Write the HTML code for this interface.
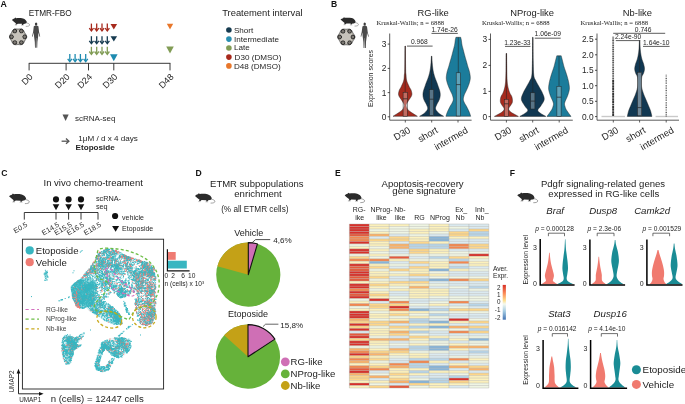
<!DOCTYPE html>
<html><head><meta charset="utf-8"><style>
html,body{margin:0;padding:0;background:#fff;width:685px;height:404px;overflow:hidden}
svg{display:block;will-change:transform}
text{font-family:"Liberation Sans",sans-serif}
</style></head><body>
<svg width="685" height="404" viewBox="0 0 685 404" font-family="Liberation Sans, sans-serif">
<rect width="685" height="404" fill="#fff"/>
<text x="0.50" y="7.00" font-size="8.8" text-anchor="start" fill="#111" font-weight="bold" >A</text>
<text x="28.70" y="15.60" font-size="8.25" text-anchor="start" fill="#1c1c1c" >ETMR-FBO</text>
<g transform="translate(11.9,17.4) scale(0.89)"><path d="M0,2.9 C0.8,2 1.8,1.5 2.8,1.3 L3.8,0.2 L4.9,0.9 C7,0.6 10,0.6 12.5,1.2 C14.8,1.9 16.3,3.3 16.8,5.2 C16.6,6.4 15.6,7 14.6,7.1 L13.2,7.3 L12.5,8.4 L11,8.4 L11.4,7.2 L6.6,7.1 L5.5,8.1 L3.8,8.2 L4.6,6.8 C3,5.6 1.5,4.3 0,2.9 Z" fill="#2b2b2b"/><path d="M16.2,6.2 C18,6.5 19.7,7.1 19.9,8.3 C20.1,9.6 18,10.2 15.6,10.1" fill="none" stroke="#666" stroke-width="0.6"/><path d="M3.2,8.6 L5.8,8.6 M10.4,8.9 L13.2,8.9" stroke="#aaa" stroke-width="0.6"/></g>
<path d="M26.70,36.80 L26.67,37.25 L26.57,37.69 L26.42,38.12 L26.22,38.53 L25.99,38.91 L25.74,39.28 L25.49,39.64 L25.25,39.98 L25.02,40.32 L24.80,40.67 L24.61,41.03 L24.43,41.40 L24.25,41.78 L24.07,42.18 L23.88,42.58 L23.66,42.97 L23.40,43.35 L23.11,43.69 L22.77,43.99 L22.40,44.25 L21.99,44.44 L21.56,44.58 L21.12,44.66 L20.67,44.70 L20.21,44.69 L19.77,44.66 L19.34,44.62 L18.92,44.58 L18.51,44.55 L18.10,44.54 L17.69,44.55 L17.28,44.58 L16.86,44.62 L16.43,44.66 L15.99,44.69 L15.53,44.70 L15.08,44.66 L14.64,44.58 L14.21,44.44 L13.80,44.25 L13.43,43.99 L13.09,43.69 L12.80,43.35 L12.54,42.97 L12.32,42.58 L12.13,42.18 L11.95,41.78 L11.77,41.40 L11.59,41.03 L11.40,40.67 L11.18,40.32 L10.95,39.98 L10.71,39.64 L10.46,39.28 L10.21,38.91 L9.98,38.53 L9.78,38.12 L9.63,37.69 L9.53,37.25 L9.50,36.80 L9.53,36.35 L9.63,35.91 L9.78,35.48 L9.98,35.07 L10.21,34.69 L10.46,34.32 L10.71,33.96 L10.95,33.62 L11.18,33.28 L11.40,32.93 L11.59,32.57 L11.77,32.20 L11.95,31.82 L12.13,31.42 L12.32,31.02 L12.54,30.63 L12.80,30.25 L13.09,29.91 L13.43,29.61 L13.80,29.35 L14.21,29.16 L14.64,29.02 L15.08,28.94 L15.53,28.90 L15.99,28.91 L16.43,28.94 L16.86,28.98 L17.28,29.02 L17.69,29.05 L18.10,29.06 L18.51,29.05 L18.92,29.02 L19.34,28.98 L19.77,28.94 L20.21,28.91 L20.67,28.90 L21.12,28.94 L21.56,29.02 L21.99,29.16 L22.40,29.35 L22.77,29.61 L23.11,29.91 L23.40,30.25 L23.66,30.63 L23.88,31.02 L24.07,31.42 L24.25,31.82 L24.43,32.20 L24.61,32.57 L24.80,32.93 L25.02,33.28 L25.25,33.62 L25.49,33.96 L25.74,34.32 L25.99,34.69 L26.22,35.07 L26.42,35.48 L26.57,35.91 L26.67,36.35Z" fill="#bdb9b1" stroke="#333" stroke-width="0.7"/>
<circle cx="24.64" cy="36.80" r="1.89" fill="#7d7973" stroke="#1e1e1e" stroke-width="0.9"/>
<circle cx="21.37" cy="42.46" r="1.89" fill="#7d7973" stroke="#1e1e1e" stroke-width="0.9"/>
<circle cx="14.83" cy="42.46" r="1.89" fill="#7d7973" stroke="#1e1e1e" stroke-width="0.9"/>
<circle cx="11.56" cy="36.80" r="1.89" fill="#7d7973" stroke="#1e1e1e" stroke-width="0.9"/>
<circle cx="14.83" cy="31.14" r="1.89" fill="#7d7973" stroke="#1e1e1e" stroke-width="0.9"/>
<circle cx="21.37" cy="31.14" r="1.89" fill="#7d7973" stroke="#1e1e1e" stroke-width="0.9"/>
<path d="M18.10,30.09 L20.04,33.45 L23.91,33.45 L21.97,36.80 L23.91,40.15 L20.04,40.15 L18.10,43.51 L16.17,40.15 L12.29,40.15 L14.23,36.80 L12.29,33.45 L16.16,33.45Z" fill="#c6c2ba" stroke="none"/>
<g transform="translate(31.8,22.5) scale(1.0)"><ellipse cx="4.3" cy="1.5" rx="1.2" ry="1.5" fill="#3a3a3a"/><path d="M3.7,3 L4.9,3 L6.6,3.8 L7.3,9.5 L8.4,14 L7.8,14.2 L6.6,10 L6.4,13.5 L5.6,19.5 L5.4,25.3 L4.6,25.3 L4.4,15.5 L4.2,15.5 L4,25.3 L3.2,25.3 L3,19.5 L2.2,13.5 L2,10 L0.8,14.2 L0.2,14 L1.3,9.5 L2,3.8 Z" fill="#4a4a4a"/></g>
<line x1="91.4" y1="23.6" x2="91.4" y2="30.4" stroke="#a7291c" stroke-width="1.3"/>
<path d="M89.30,28.20 L91.40,31.00 L93.50,28.20" fill="none" stroke="#a7291c" stroke-width="1.3"/>
<line x1="91.4" y1="36.2" x2="91.4" y2="43.0" stroke="#163b50" stroke-width="1.3"/>
<path d="M89.30,40.80 L91.40,43.60 L93.50,40.80" fill="none" stroke="#163b50" stroke-width="1.3"/>
<line x1="91.4" y1="46.8" x2="91.4" y2="53.699999999999996" stroke="#819c55" stroke-width="1.3"/>
<path d="M89.30,51.50 L91.40,54.30 L93.50,51.50" fill="none" stroke="#819c55" stroke-width="1.3"/>
<line x1="96.7" y1="23.6" x2="96.7" y2="30.4" stroke="#a7291c" stroke-width="1.3"/>
<path d="M94.60,28.20 L96.70,31.00 L98.80,28.20" fill="none" stroke="#a7291c" stroke-width="1.3"/>
<line x1="96.7" y1="36.2" x2="96.7" y2="43.0" stroke="#163b50" stroke-width="1.3"/>
<path d="M94.60,40.80 L96.70,43.60 L98.80,40.80" fill="none" stroke="#163b50" stroke-width="1.3"/>
<line x1="96.7" y1="46.8" x2="96.7" y2="53.699999999999996" stroke="#819c55" stroke-width="1.3"/>
<path d="M94.60,51.50 L96.70,54.30 L98.80,51.50" fill="none" stroke="#819c55" stroke-width="1.3"/>
<line x1="102.0" y1="23.6" x2="102.0" y2="30.4" stroke="#a7291c" stroke-width="1.3"/>
<path d="M99.90,28.20 L102.00,31.00 L104.10,28.20" fill="none" stroke="#a7291c" stroke-width="1.3"/>
<line x1="102.0" y1="36.2" x2="102.0" y2="43.0" stroke="#163b50" stroke-width="1.3"/>
<path d="M99.90,40.80 L102.00,43.60 L104.10,40.80" fill="none" stroke="#163b50" stroke-width="1.3"/>
<line x1="102.0" y1="46.8" x2="102.0" y2="53.699999999999996" stroke="#819c55" stroke-width="1.3"/>
<path d="M99.90,51.50 L102.00,54.30 L104.10,51.50" fill="none" stroke="#819c55" stroke-width="1.3"/>
<line x1="107.3" y1="23.6" x2="107.3" y2="30.4" stroke="#a7291c" stroke-width="1.3"/>
<path d="M105.20,28.20 L107.30,31.00 L109.40,28.20" fill="none" stroke="#a7291c" stroke-width="1.3"/>
<line x1="107.3" y1="36.2" x2="107.3" y2="43.0" stroke="#163b50" stroke-width="1.3"/>
<path d="M105.20,40.80 L107.30,43.60 L109.40,40.80" fill="none" stroke="#163b50" stroke-width="1.3"/>
<line x1="107.3" y1="46.8" x2="107.3" y2="53.699999999999996" stroke="#819c55" stroke-width="1.3"/>
<path d="M105.20,51.50 L107.30,54.30 L109.40,51.50" fill="none" stroke="#819c55" stroke-width="1.3"/>
<line x1="69.8" y1="54.0" x2="69.8" y2="61.0" stroke="#1e8bb0" stroke-width="1.3"/>
<path d="M67.70,58.80 L69.80,61.60 L71.90,58.80" fill="none" stroke="#1e8bb0" stroke-width="1.3"/>
<line x1="75.1" y1="54.0" x2="75.1" y2="61.0" stroke="#1e8bb0" stroke-width="1.3"/>
<path d="M73.00,58.80 L75.10,61.60 L77.20,58.80" fill="none" stroke="#1e8bb0" stroke-width="1.3"/>
<line x1="80.4" y1="54.0" x2="80.4" y2="61.0" stroke="#1e8bb0" stroke-width="1.3"/>
<path d="M78.30,58.80 L80.40,61.60 L82.50,58.80" fill="none" stroke="#1e8bb0" stroke-width="1.3"/>
<line x1="85.7" y1="54.0" x2="85.7" y2="61.0" stroke="#1e8bb0" stroke-width="1.3"/>
<path d="M83.60,58.80 L85.70,61.60 L87.80,58.80" fill="none" stroke="#1e8bb0" stroke-width="1.3"/>
<path d="M110.50,24.00 L117.10,24.00 L113.80,29.60 Z" fill="#a7291c"/>
<path d="M110.50,36.20 L117.10,36.20 L113.80,41.60 Z" fill="#163b50"/>
<path d="M110.00,54.30 L117.60,54.30 L113.80,61.30 Z" fill="#1e8bb0"/>
<path d="M166.80,23.80 L173.20,23.80 L170.00,29.40 Z" fill="#e8772b"/>
<path d="M166.20,46.60 L173.80,46.60 L170.00,53.60 Z" fill="#819c55"/>
<line x1="28.8" y1="63.3" x2="170.4" y2="63.3" stroke="#222" stroke-width="0.9"/>
<line x1="29.1" y1="63.3" x2="29.1" y2="70.4" stroke="#222" stroke-width="0.9"/>
<text x="33.30" y="77.40" font-size="9.0" text-anchor="end" fill="#1c1c1c" transform="rotate(-45 33.300000000000004 77.4)">D0</text>
<line x1="66.1" y1="63.3" x2="66.1" y2="70.4" stroke="#222" stroke-width="0.9"/>
<text x="70.30" y="77.40" font-size="9.0" text-anchor="end" fill="#1c1c1c" transform="rotate(-45 70.3 77.4)">D20</text>
<line x1="88.5" y1="63.3" x2="88.5" y2="70.4" stroke="#222" stroke-width="0.9"/>
<text x="92.70" y="77.40" font-size="9.0" text-anchor="end" fill="#1c1c1c" transform="rotate(-45 92.7 77.4)">D24</text>
<line x1="113.8" y1="63.3" x2="113.8" y2="70.4" stroke="#222" stroke-width="0.9"/>
<text x="118.00" y="77.40" font-size="9.0" text-anchor="end" fill="#1c1c1c" transform="rotate(-45 118.0 77.4)">D30</text>
<line x1="170.0" y1="63.3" x2="170.0" y2="70.4" stroke="#222" stroke-width="0.9"/>
<text x="174.20" y="77.40" font-size="9.0" text-anchor="end" fill="#1c1c1c" transform="rotate(-45 174.2 77.4)">D48</text>
<path d="M62.50,114.60 L68.70,114.60 L65.60,121.00 Z" fill="#555"/>
<text x="75.00" y="120.60" font-size="8.0" text-anchor="start" fill="#262626" >scRNA-seq</text>
<line x1="61.6" y1="141.2" x2="68.5" y2="141.2" stroke="#555" stroke-width="1.3"/>
<path d="M66.0,138.6 L68.9,141.2 L66.0,143.8" fill="none" stroke="#555" stroke-width="1.3"/>
<text x="78.30" y="140.60" font-size="8.1" text-anchor="start" fill="#262626" >1μM / d x 4 days</text>
<text x="75.60" y="149.80" font-size="8.1" text-anchor="start" fill="#262626" font-weight="bold" >Etoposide</text>
<text x="222.20" y="16.40" font-size="9.4" text-anchor="start" fill="#1c1c1c" >Treatement interval</text>
<circle cx="228.9" cy="30.00" r="2.8" fill="#163b50"/>
<text x="233.90" y="33.30" font-size="8.1" text-anchor="start" fill="#262626" >Short</text>
<circle cx="228.9" cy="39.10" r="2.8" fill="#2a8fb0"/>
<text x="233.90" y="41.90" font-size="8.1" text-anchor="start" fill="#262626" >Intermediate</text>
<circle cx="228.9" cy="48.00" r="2.8" fill="#819c55"/>
<text x="233.90" y="50.40" font-size="8.1" text-anchor="start" fill="#262626" >Late</text>
<circle cx="228.9" cy="57.10" r="2.8" fill="#a7291c"/>
<text x="234.60" y="59.80" font-size="8.1" text-anchor="start" fill="#262626" >D30 (DMSO)</text>
<circle cx="228.9" cy="65.90" r="2.8" fill="#e8772b"/>
<text x="233.90" y="69.00" font-size="8.1" text-anchor="start" fill="#262626" >D48 (DMSO)</text>
<text x="331.00" y="7.20" font-size="8.6" text-anchor="start" fill="#111" font-weight="bold" >B</text>
<g transform="translate(340.5,17.0) scale(0.9)"><path d="M0,2.9 C0.8,2 1.8,1.5 2.8,1.3 L3.8,0.2 L4.9,0.9 C7,0.6 10,0.6 12.5,1.2 C14.8,1.9 16.3,3.3 16.8,5.2 C16.6,6.4 15.6,7 14.6,7.1 L13.2,7.3 L12.5,8.4 L11,8.4 L11.4,7.2 L6.6,7.1 L5.5,8.1 L3.8,8.2 L4.6,6.8 C3,5.6 1.5,4.3 0,2.9 Z" fill="#2b2b2b"/><path d="M16.2,6.2 C18,6.5 19.7,7.1 19.9,8.3 C20.1,9.6 18,10.2 15.6,10.1" fill="none" stroke="#666" stroke-width="0.6"/><path d="M3.2,8.6 L5.8,8.6 M10.4,8.9 L13.2,8.9" stroke="#aaa" stroke-width="0.6"/></g>
<path d="M354.90,37.00 L354.87,37.45 L354.77,37.89 L354.62,38.32 L354.42,38.73 L354.19,39.11 L353.94,39.48 L353.69,39.84 L353.45,40.18 L353.22,40.52 L353.00,40.87 L352.81,41.23 L352.63,41.60 L352.45,41.98 L352.27,42.38 L352.08,42.78 L351.86,43.17 L351.60,43.55 L351.31,43.89 L350.97,44.19 L350.60,44.45 L350.19,44.64 L349.76,44.78 L349.32,44.86 L348.87,44.90 L348.41,44.89 L347.97,44.86 L347.54,44.82 L347.12,44.78 L346.71,44.75 L346.30,44.74 L345.89,44.75 L345.48,44.78 L345.06,44.82 L344.63,44.86 L344.19,44.89 L343.73,44.90 L343.28,44.86 L342.84,44.78 L342.41,44.64 L342.00,44.45 L341.63,44.19 L341.29,43.89 L341.00,43.55 L340.74,43.17 L340.52,42.78 L340.33,42.38 L340.15,41.98 L339.97,41.60 L339.79,41.23 L339.60,40.87 L339.38,40.52 L339.15,40.18 L338.91,39.84 L338.66,39.48 L338.41,39.11 L338.18,38.73 L337.98,38.32 L337.83,37.89 L337.73,37.45 L337.70,37.00 L337.73,36.55 L337.83,36.11 L337.98,35.68 L338.18,35.27 L338.41,34.89 L338.66,34.52 L338.91,34.16 L339.15,33.82 L339.38,33.48 L339.60,33.13 L339.79,32.77 L339.97,32.40 L340.15,32.02 L340.33,31.62 L340.52,31.22 L340.74,30.83 L341.00,30.45 L341.29,30.11 L341.63,29.81 L342.00,29.55 L342.41,29.36 L342.84,29.22 L343.28,29.14 L343.73,29.10 L344.19,29.11 L344.63,29.14 L345.06,29.18 L345.48,29.22 L345.89,29.25 L346.30,29.26 L346.71,29.25 L347.12,29.22 L347.54,29.18 L347.97,29.14 L348.41,29.11 L348.87,29.10 L349.32,29.14 L349.76,29.22 L350.19,29.36 L350.60,29.55 L350.97,29.81 L351.31,30.11 L351.60,30.45 L351.86,30.83 L352.08,31.22 L352.27,31.62 L352.45,32.02 L352.63,32.40 L352.81,32.77 L353.00,33.13 L353.22,33.48 L353.45,33.82 L353.69,34.16 L353.94,34.52 L354.19,34.89 L354.42,35.27 L354.62,35.68 L354.77,36.11 L354.87,36.55Z" fill="#bdb9b1" stroke="#333" stroke-width="0.7"/>
<circle cx="352.84" cy="37.00" r="1.89" fill="#7d7973" stroke="#1e1e1e" stroke-width="0.9"/>
<circle cx="349.57" cy="42.66" r="1.89" fill="#7d7973" stroke="#1e1e1e" stroke-width="0.9"/>
<circle cx="343.03" cy="42.66" r="1.89" fill="#7d7973" stroke="#1e1e1e" stroke-width="0.9"/>
<circle cx="339.76" cy="37.00" r="1.89" fill="#7d7973" stroke="#1e1e1e" stroke-width="0.9"/>
<circle cx="343.03" cy="31.34" r="1.89" fill="#7d7973" stroke="#1e1e1e" stroke-width="0.9"/>
<circle cx="349.57" cy="31.34" r="1.89" fill="#7d7973" stroke="#1e1e1e" stroke-width="0.9"/>
<path d="M346.30,30.29 L348.24,33.65 L352.11,33.65 L350.17,37.00 L352.11,40.35 L348.24,40.35 L346.30,43.71 L344.37,40.35 L340.49,40.35 L342.43,37.00 L340.49,33.65 L344.37,33.65Z" fill="#c6c2ba" stroke="none"/>
<g transform="translate(360.4,22.6) scale(1.0)"><ellipse cx="4.3" cy="1.5" rx="1.2" ry="1.5" fill="#3a3a3a"/><path d="M3.7,3 L4.9,3 L6.6,3.8 L7.3,9.5 L8.4,14 L7.8,14.2 L6.6,10 L6.4,13.5 L5.6,19.5 L5.4,25.3 L4.6,25.3 L4.4,15.5 L4.2,15.5 L4,25.3 L3.2,25.3 L3,19.5 L2.2,13.5 L2,10 L0.8,14.2 L0.2,14 L1.3,9.5 L2,3.8 Z" fill="#4a4a4a"/></g>
<text x="433.20" y="16.40" font-size="9.4" text-anchor="middle" fill="#1c1c1c" >RG-like</text>
<text x="376.40" y="24.60" font-size="6.7" text-anchor="start" fill="#1c1c1c" style="font-family:'Liberation Serif',serif" >Kruskal-Wallis; n = 6888</text>
<line x1="389.7" y1="33.5" x2="389.7" y2="120.2" stroke="#333" stroke-width="0.8"/>
<line x1="389.7" y1="120.2" x2="471.6" y2="120.2" stroke="#333" stroke-width="0.8"/>
<line x1="387.7" y1="44.1" x2="389.7" y2="44.1" stroke="#222" stroke-width="0.8"/>
<text x="386.30" y="47.05" font-size="8.4" text-anchor="end" fill="#262626" >3</text>
<line x1="387.7" y1="68.4" x2="389.7" y2="68.4" stroke="#222" stroke-width="0.8"/>
<text x="386.30" y="71.35" font-size="8.4" text-anchor="end" fill="#262626" >2</text>
<line x1="387.7" y1="92.6" x2="389.7" y2="92.6" stroke="#222" stroke-width="0.8"/>
<text x="386.30" y="95.55" font-size="8.4" text-anchor="end" fill="#262626" >1</text>
<line x1="387.7" y1="116.8" x2="389.7" y2="116.8" stroke="#222" stroke-width="0.8"/>
<text x="386.30" y="119.75" font-size="8.4" text-anchor="end" fill="#262626" >0</text>
<path d="M405.40,46.00 L405.40,46.26 L405.41,46.56 L405.41,46.88 L405.41,47.22 L405.42,47.59 L405.42,47.98 L405.42,48.40 L405.43,48.84 L405.43,49.29 L405.43,49.77 L405.44,50.26 L405.44,50.77 L405.45,51.29 L405.45,51.83 L405.46,52.38 L405.46,52.94 L405.47,53.52 L405.47,54.10 L405.48,54.69 L405.48,55.29 L405.49,55.89 L405.49,56.50 L405.50,57.11 L405.50,57.72 L405.51,58.33 L405.51,58.95 L405.52,59.56 L405.53,60.17 L405.53,60.77 L405.54,61.37 L405.54,61.97 L405.55,62.56 L405.56,63.13 L405.56,63.70 L405.57,64.26 L405.57,64.81 L405.58,65.34 L405.59,65.86 L405.59,66.36 L405.60,66.85 L405.61,67.32 L405.61,67.77 L405.62,68.20 L405.62,68.61 L405.63,68.99 L405.64,69.35 L405.64,69.69 L405.65,70.00 L405.68,71.35 L405.71,72.28 L405.75,72.89 L405.78,73.25 L405.81,73.46 L405.85,73.60 L405.90,73.77 L405.95,74.04 L406.00,74.50 L406.04,74.95 L406.08,75.42 L406.11,75.91 L406.14,76.41 L406.18,76.93 L406.22,77.45 L406.26,77.98 L406.32,78.51 L406.39,79.04 L406.48,79.56 L406.58,80.09 L406.70,80.60 L406.85,81.12 L407.02,81.65 L407.21,82.19 L407.43,82.74 L407.65,83.28 L407.88,83.83 L408.12,84.36 L408.35,84.87 L408.58,85.37 L408.80,85.85 L409.01,86.29 L409.20,86.70 L409.55,87.41 L409.89,87.99 L410.20,88.49 L410.49,88.97 L410.76,89.45 L411.00,90.00 L411.19,90.53 L411.37,91.08 L411.53,91.65 L411.67,92.22 L411.79,92.78 L411.86,93.31 L411.90,93.80 L411.88,94.42 L411.77,94.98 L411.61,95.50 L411.42,96.00 L411.20,96.50 L410.89,97.08 L410.53,97.62 L410.13,98.18 L409.70,98.80 L409.39,99.27 L409.05,99.78 L408.70,100.31 L408.35,100.84 L408.01,101.38 L407.70,101.90 L407.40,102.41 L407.09,102.92 L406.79,103.43 L406.53,103.93 L406.33,104.42 L406.20,104.90 L406.16,105.45 L406.21,105.97 L406.33,106.49 L406.50,106.99 L406.70,107.50 L406.90,108.00 L407.11,108.48 L407.37,108.97 L407.72,109.47 L408.20,110.00 L408.71,110.47 L409.30,110.95 L409.97,111.45 L410.69,111.96 L411.43,112.48 L412.20,113.00 L413.06,113.57 L414.04,114.20 L415.05,114.84 L416.01,115.43 L416.82,115.94 L417.40,116.30 L393.00,116.30 L393.58,115.94 L394.39,115.43 L395.35,114.84 L396.36,114.20 L397.34,113.57 L398.20,113.00 L398.97,112.48 L399.71,111.96 L400.43,111.45 L401.10,110.95 L401.69,110.47 L402.20,110.00 L402.68,109.47 L403.03,108.97 L403.29,108.48 L403.50,108.00 L403.70,107.50 L403.90,106.99 L404.07,106.49 L404.19,105.97 L404.24,105.45 L404.20,104.90 L404.07,104.42 L403.87,103.93 L403.61,103.43 L403.31,102.92 L403.00,102.41 L402.70,101.90 L402.39,101.38 L402.05,100.84 L401.70,100.31 L401.35,99.78 L401.01,99.27 L400.70,98.80 L400.27,98.18 L399.87,97.62 L399.51,97.08 L399.20,96.50 L398.98,96.00 L398.79,95.50 L398.63,94.98 L398.52,94.42 L398.50,93.80 L398.54,93.31 L398.61,92.78 L398.73,92.22 L398.87,91.65 L399.03,91.08 L399.21,90.53 L399.40,90.00 L399.64,89.45 L399.91,88.97 L400.20,88.49 L400.51,87.99 L400.85,87.41 L401.20,86.70 L401.39,86.29 L401.60,85.85 L401.82,85.37 L402.05,84.87 L402.28,84.36 L402.52,83.83 L402.75,83.28 L402.97,82.74 L403.19,82.19 L403.38,81.65 L403.55,81.12 L403.70,80.60 L403.82,80.09 L403.92,79.56 L404.01,79.04 L404.08,78.51 L404.14,77.98 L404.18,77.45 L404.22,76.93 L404.26,76.41 L404.29,75.91 L404.32,75.42 L404.36,74.95 L404.40,74.50 L404.45,74.04 L404.50,73.77 L404.55,73.60 L404.59,73.46 L404.62,73.25 L404.65,72.89 L404.69,72.28 L404.72,71.35 L404.75,70.00 L404.76,69.69 L404.76,69.35 L404.77,68.99 L404.78,68.61 L404.78,68.20 L404.79,67.77 L404.79,67.32 L404.80,66.85 L404.81,66.36 L404.81,65.86 L404.82,65.34 L404.83,64.81 L404.83,64.26 L404.84,63.70 L404.84,63.13 L404.85,62.56 L404.86,61.97 L404.86,61.37 L404.87,60.77 L404.87,60.17 L404.88,59.56 L404.89,58.95 L404.89,58.33 L404.90,57.72 L404.90,57.11 L404.91,56.50 L404.91,55.89 L404.92,55.29 L404.92,54.69 L404.93,54.10 L404.93,53.52 L404.94,52.94 L404.94,52.38 L404.95,51.83 L404.95,51.29 L404.96,50.77 L404.96,50.26 L404.97,49.77 L404.97,49.29 L404.97,48.84 L404.98,48.40 L404.98,47.98 L404.98,47.59 L404.99,47.22 L404.99,46.88 L404.99,46.56 L405.00,46.26 L405.00,46.00Z" fill="#a62b1e" stroke="#1a1a1a" stroke-width="0.45" opacity="1"/>
<line x1="405.2" y1="46" x2="405.2" y2="92.3" stroke="#222" stroke-width="0.55"/>
<rect x="403.10" y="92.3" width="4.2" height="24.00" fill="rgba(255,255,255,0.3)" stroke="#222" stroke-width="0.5"/>
<line x1="403.10" y1="98.8" x2="407.30" y2="98.8" stroke="#222" stroke-width="0.7"/>
<path d="M431.80,56.20 L431.82,56.50 L431.83,56.87 L431.85,57.29 L431.88,57.77 L431.90,58.29 L431.93,58.85 L431.96,59.43 L431.99,60.03 L432.03,60.64 L432.07,61.25 L432.11,61.85 L432.15,62.44 L432.20,63.00 L432.25,63.51 L432.30,64.04 L432.35,64.57 L432.40,65.11 L432.46,65.65 L432.52,66.20 L432.58,66.74 L432.65,67.29 L432.71,67.83 L432.78,68.36 L432.86,68.89 L432.94,69.41 L433.02,69.91 L433.10,70.40 L433.20,70.95 L433.30,71.47 L433.40,71.97 L433.50,72.46 L433.61,72.93 L433.72,73.41 L433.84,73.88 L433.97,74.37 L434.11,74.86 L434.26,75.38 L434.42,75.93 L434.60,76.50 L434.75,76.95 L434.91,77.42 L435.08,77.89 L435.26,78.38 L435.44,78.88 L435.64,79.39 L435.84,79.91 L436.04,80.42 L436.24,80.95 L436.45,81.47 L436.65,82.00 L436.85,82.53 L437.05,83.05 L437.24,83.57 L437.42,84.09 L437.60,84.60 L437.78,85.11 L437.96,85.63 L438.14,86.15 L438.33,86.67 L438.52,87.20 L438.71,87.73 L438.89,88.25 L439.07,88.77 L439.24,89.29 L439.40,89.81 L439.56,90.32 L439.70,90.82 L439.82,91.31 L439.93,91.78 L440.03,92.25 L440.10,92.70 L440.17,93.28 L440.22,93.83 L440.24,94.37 L440.25,94.88 L440.23,95.38 L440.19,95.88 L440.14,96.36 L440.06,96.84 L439.97,97.32 L439.86,97.81 L439.74,98.30 L439.60,98.80 L439.43,99.31 L439.22,99.84 L438.98,100.37 L438.71,100.91 L438.43,101.44 L438.13,101.97 L437.83,102.50 L437.54,103.01 L437.27,103.52 L437.01,104.00 L436.79,104.46 L436.60,104.90 L436.35,105.51 L436.12,106.07 L435.90,106.59 L435.73,107.08 L435.59,107.56 L435.52,108.03 L435.52,108.51 L435.60,109.00 L435.77,109.51 L436.02,110.02 L436.34,110.54 L436.73,111.05 L437.15,111.56 L437.62,112.05 L438.10,112.53 L438.60,113.00 L439.38,113.63 L440.30,114.27 L441.29,114.90 L442.23,115.47 L443.03,115.95 L443.60,116.30 L419.60,116.30 L420.17,115.95 L420.97,115.47 L421.91,114.90 L422.90,114.27 L423.82,113.63 L424.60,113.00 L425.10,112.53 L425.58,112.05 L426.05,111.56 L426.48,111.05 L426.86,110.54 L427.18,110.02 L427.43,109.51 L427.60,109.00 L427.68,108.51 L427.68,108.03 L427.61,107.56 L427.48,107.08 L427.30,106.59 L427.08,106.07 L426.85,105.51 L426.60,104.90 L426.41,104.46 L426.19,104.00 L425.93,103.52 L425.66,103.01 L425.37,102.50 L425.07,101.97 L424.77,101.44 L424.49,100.91 L424.22,100.37 L423.98,99.84 L423.77,99.31 L423.60,98.80 L423.46,98.30 L423.34,97.81 L423.23,97.32 L423.14,96.84 L423.06,96.36 L423.01,95.88 L422.97,95.38 L422.95,94.88 L422.96,94.37 L422.98,93.83 L423.03,93.28 L423.10,92.70 L423.17,92.25 L423.27,91.78 L423.38,91.31 L423.50,90.82 L423.64,90.32 L423.80,89.81 L423.96,89.29 L424.13,88.77 L424.31,88.25 L424.49,87.73 L424.68,87.20 L424.87,86.67 L425.06,86.15 L425.24,85.63 L425.42,85.11 L425.60,84.60 L425.78,84.09 L425.96,83.57 L426.15,83.05 L426.35,82.53 L426.55,82.00 L426.75,81.47 L426.96,80.95 L427.16,80.42 L427.36,79.91 L427.56,79.39 L427.76,78.88 L427.94,78.38 L428.12,77.89 L428.29,77.42 L428.45,76.95 L428.60,76.50 L428.78,75.93 L428.94,75.38 L429.09,74.86 L429.23,74.37 L429.36,73.88 L429.48,73.41 L429.59,72.93 L429.70,72.46 L429.80,71.97 L429.90,71.47 L430.00,70.95 L430.10,70.40 L430.18,69.91 L430.26,69.41 L430.34,68.89 L430.42,68.36 L430.49,67.83 L430.55,67.29 L430.62,66.74 L430.68,66.20 L430.74,65.65 L430.80,65.11 L430.85,64.57 L430.90,64.04 L430.95,63.51 L431.00,63.00 L431.05,62.44 L431.09,61.85 L431.13,61.25 L431.17,60.64 L431.21,60.03 L431.24,59.43 L431.27,58.85 L431.30,58.29 L431.32,57.77 L431.35,57.29 L431.37,56.87 L431.38,56.50 L431.40,56.20Z" fill="#113852" stroke="#1a1a1a" stroke-width="0.45" opacity="1"/>
<line x1="431.6" y1="56.2" x2="431.6" y2="89.7" stroke="#222" stroke-width="0.55"/>
<rect x="429.50" y="89.7" width="4.2" height="25.80" fill="rgba(255,255,255,0.3)" stroke="#222" stroke-width="0.5"/>
<line x1="429.50" y1="99.2" x2="433.70" y2="99.2" stroke="#222" stroke-width="0.7"/>
<path d="M460.70,37.30 L460.78,37.63 L460.89,38.08 L461.02,38.63 L461.16,39.28 L461.30,40.00 L461.37,40.45 L461.44,40.94 L461.50,41.46 L461.57,42.02 L461.64,42.59 L461.72,43.17 L461.80,43.76 L461.90,44.33 L462.00,44.90 L462.10,45.40 L462.22,45.90 L462.34,46.39 L462.47,46.89 L462.60,47.39 L462.74,47.90 L462.88,48.41 L463.02,48.93 L463.16,49.46 L463.30,50.00 L463.43,50.50 L463.56,51.02 L463.69,51.55 L463.83,52.08 L463.97,52.62 L464.11,53.16 L464.25,53.71 L464.39,54.24 L464.52,54.77 L464.66,55.29 L464.80,55.80 L464.95,56.34 L465.10,56.87 L465.25,57.39 L465.40,57.90 L465.54,58.41 L465.69,58.91 L465.84,59.42 L465.99,59.94 L466.15,60.46 L466.30,61.00 L466.44,61.50 L466.58,62.01 L466.73,62.53 L466.87,63.05 L467.02,63.58 L467.17,64.11 L467.31,64.64 L467.46,65.16 L467.61,65.68 L467.75,66.19 L467.90,66.70 L468.06,67.24 L468.23,67.78 L468.41,68.31 L468.58,68.83 L468.75,69.36 L468.92,69.88 L469.08,70.40 L469.23,70.93 L469.37,71.46 L469.50,72.00 L469.61,72.50 L469.71,73.02 L469.82,73.54 L469.91,74.06 L470.00,74.59 L470.08,75.12 L470.15,75.64 L470.21,76.15 L470.26,76.65 L470.29,77.13 L470.30,77.60 L470.29,78.21 L470.25,78.78 L470.18,79.34 L470.09,79.88 L469.99,80.40 L469.87,80.93 L469.74,81.46 L469.60,82.00 L469.45,82.55 L469.29,83.10 L469.12,83.64 L468.93,84.19 L468.73,84.74 L468.53,85.29 L468.32,85.84 L468.10,86.40 L467.90,86.91 L467.69,87.42 L467.47,87.94 L467.24,88.46 L467.01,88.98 L466.78,89.50 L466.55,90.01 L466.32,90.51 L466.10,91.00 L465.85,91.53 L465.59,92.05 L465.34,92.56 L465.08,93.06 L464.83,93.56 L464.60,94.07 L464.39,94.58 L464.20,95.10 L464.03,95.64 L463.86,96.20 L463.70,96.77 L463.56,97.34 L463.44,97.90 L463.35,98.46 L463.31,98.99 L463.30,99.50 L463.36,100.05 L463.47,100.58 L463.64,101.09 L463.83,101.58 L464.05,102.06 L464.28,102.53 L464.50,103.00 L464.76,103.52 L465.05,104.00 L465.35,104.47 L465.66,104.94 L465.98,105.45 L466.30,106.00 L466.55,106.46 L466.80,106.95 L467.07,107.47 L467.33,108.00 L467.59,108.53 L467.84,109.05 L468.08,109.54 L468.30,110.00 L468.56,110.55 L468.79,111.06 L469.01,111.54 L469.21,112.01 L469.40,112.49 L469.60,113.00 L469.81,113.57 L470.02,114.20 L470.23,114.84 L470.42,115.43 L470.58,115.94 L470.70,116.30 L445.90,116.30 L446.02,115.94 L446.18,115.43 L446.37,114.84 L446.58,114.20 L446.79,113.57 L447.00,113.00 L447.20,112.49 L447.39,112.01 L447.59,111.54 L447.81,111.06 L448.04,110.55 L448.30,110.00 L448.52,109.54 L448.76,109.05 L449.01,108.53 L449.27,108.00 L449.53,107.47 L449.80,106.95 L450.05,106.46 L450.30,106.00 L450.62,105.45 L450.94,104.94 L451.25,104.47 L451.55,104.00 L451.84,103.52 L452.10,103.00 L452.32,102.53 L452.55,102.06 L452.77,101.58 L452.96,101.09 L453.13,100.58 L453.24,100.05 L453.30,99.50 L453.29,98.99 L453.25,98.46 L453.16,97.90 L453.04,97.34 L452.90,96.77 L452.74,96.20 L452.57,95.64 L452.40,95.10 L452.21,94.58 L452.00,94.07 L451.77,93.56 L451.52,93.06 L451.26,92.56 L451.01,92.05 L450.75,91.53 L450.50,91.00 L450.28,90.51 L450.05,90.01 L449.82,89.50 L449.59,88.98 L449.36,88.46 L449.13,87.94 L448.91,87.42 L448.70,86.91 L448.50,86.40 L448.28,85.84 L448.07,85.29 L447.87,84.74 L447.67,84.19 L447.48,83.64 L447.31,83.10 L447.15,82.55 L447.00,82.00 L446.86,81.46 L446.73,80.93 L446.61,80.40 L446.51,79.88 L446.42,79.34 L446.35,78.78 L446.31,78.21 L446.30,77.60 L446.31,77.13 L446.34,76.65 L446.39,76.15 L446.45,75.64 L446.52,75.12 L446.60,74.59 L446.69,74.06 L446.78,73.54 L446.89,73.02 L446.99,72.50 L447.10,72.00 L447.23,71.46 L447.37,70.93 L447.52,70.40 L447.68,69.88 L447.85,69.36 L448.02,68.83 L448.19,68.31 L448.37,67.78 L448.54,67.24 L448.70,66.70 L448.85,66.19 L448.99,65.68 L449.14,65.16 L449.29,64.64 L449.43,64.11 L449.58,63.58 L449.73,63.05 L449.87,62.53 L450.02,62.01 L450.16,61.50 L450.30,61.00 L450.45,60.46 L450.61,59.94 L450.76,59.42 L450.91,58.91 L451.06,58.41 L451.20,57.90 L451.35,57.39 L451.50,56.87 L451.65,56.34 L451.80,55.80 L451.94,55.29 L452.08,54.77 L452.21,54.24 L452.35,53.71 L452.49,53.16 L452.63,52.62 L452.77,52.08 L452.91,51.55 L453.04,51.02 L453.17,50.50 L453.30,50.00 L453.44,49.46 L453.58,48.93 L453.72,48.41 L453.86,47.90 L454.00,47.39 L454.13,46.89 L454.26,46.39 L454.38,45.90 L454.50,45.40 L454.60,44.90 L454.70,44.33 L454.80,43.76 L454.88,43.17 L454.96,42.59 L455.03,42.02 L455.10,41.46 L455.16,40.94 L455.23,40.45 L455.30,40.00 L455.44,39.28 L455.58,38.63 L455.71,38.08 L455.82,37.63 L455.90,37.30Z" fill="#1b7c9b" stroke="#1a1a1a" stroke-width="0.45" opacity="1"/>
<line x1="458.3" y1="37.3" x2="458.3" y2="72.8" stroke="#222" stroke-width="0.55"/>
<rect x="456.20" y="72.8" width="4.2" height="43.20" fill="rgba(255,255,255,0.3)" stroke="#222" stroke-width="0.5"/>
<line x1="456.20" y1="84.6" x2="460.40" y2="84.6" stroke="#222" stroke-width="0.7"/>
<line x1="407" y1="46.1" x2="432.6" y2="46.1" stroke="#333" stroke-width="0.8"/>
<text x="419.30" y="44.30" font-size="6.7" text-anchor="middle" fill="#262626" >0.968</text>
<line x1="431.5" y1="33.4" x2="457.8" y2="33.4" stroke="#333" stroke-width="0.8"/>
<text x="444.60" y="31.60" font-size="6.7" text-anchor="middle" fill="#262626" >1.74e-26</text>
<line x1="405.3" y1="120.2" x2="405.3" y2="122.5" stroke="#333" stroke-width="0.8"/>
<text x="411.10" y="132.00" font-size="9.5" text-anchor="end" fill="#262626" transform="rotate(-30 411.1 132.0)">D30</text>
<line x1="431.7" y1="120.2" x2="431.7" y2="122.5" stroke="#333" stroke-width="0.8"/>
<text x="438.50" y="132.00" font-size="9.5" text-anchor="end" fill="#262626" transform="rotate(-30 438.5 132.0)">short</text>
<line x1="458" y1="120.2" x2="458" y2="122.5" stroke="#333" stroke-width="0.8"/>
<text x="468.70" y="132.00" font-size="9.5" text-anchor="end" fill="#262626" transform="rotate(-30 468.7 132.0)">intermed</text>
<text x="532.10" y="16.40" font-size="9.4" text-anchor="middle" fill="#1c1c1c" >NProg-like</text>
<text x="481.90" y="24.60" font-size="6.7" text-anchor="start" fill="#1c1c1c" style="font-family:'Liberation Serif',serif" >Kruskal-Wallis; n = 6888</text>
<line x1="490.5" y1="33.5" x2="490.5" y2="120.2" stroke="#333" stroke-width="0.8"/>
<line x1="490.5" y1="120.2" x2="572.8" y2="120.2" stroke="#333" stroke-width="0.8"/>
<line x1="488.5" y1="39.4" x2="490.5" y2="39.4" stroke="#222" stroke-width="0.8"/>
<text x="487.10" y="42.35" font-size="8.4" text-anchor="end" fill="#262626" >3</text>
<line x1="488.5" y1="65.4" x2="490.5" y2="65.4" stroke="#222" stroke-width="0.8"/>
<text x="487.10" y="68.35" font-size="8.4" text-anchor="end" fill="#262626" >2</text>
<line x1="488.5" y1="91.4" x2="490.5" y2="91.4" stroke="#222" stroke-width="0.8"/>
<text x="487.10" y="94.35" font-size="8.4" text-anchor="end" fill="#262626" >1</text>
<line x1="488.5" y1="116.6" x2="490.5" y2="116.6" stroke="#222" stroke-width="0.8"/>
<text x="487.10" y="119.55" font-size="8.4" text-anchor="end" fill="#262626" >0</text>
<circle cx="506.4" cy="54" r="0.55" fill="#333"/>
<circle cx="506.4" cy="56" r="0.55" fill="#333"/>
<circle cx="506.4" cy="58" r="0.55" fill="#333"/>
<circle cx="506.4" cy="60" r="0.55" fill="#333"/>
<circle cx="506.4" cy="62" r="0.55" fill="#333"/>
<circle cx="506.4" cy="64" r="0.55" fill="#333"/>
<circle cx="506.4" cy="66" r="0.55" fill="#333"/>
<circle cx="506.4" cy="68" r="0.55" fill="#333"/>
<circle cx="506.4" cy="70" r="0.55" fill="#333"/>
<circle cx="506.4" cy="72" r="0.55" fill="#333"/>
<circle cx="506.4" cy="74" r="0.55" fill="#333"/>
<circle cx="506.4" cy="76" r="0.55" fill="#333"/>
<circle cx="506.4" cy="78" r="0.55" fill="#333"/>
<circle cx="506.4" cy="80" r="0.55" fill="#333"/>
<path d="M506.60,53.50 L506.60,53.76 L506.61,54.06 L506.61,54.38 L506.61,54.72 L506.62,55.09 L506.62,55.49 L506.63,55.90 L506.63,56.34 L506.64,56.79 L506.64,57.27 L506.65,57.76 L506.65,58.26 L506.66,58.78 L506.66,59.32 L506.67,59.87 L506.67,60.42 L506.68,60.99 L506.68,61.56 L506.69,62.15 L506.70,62.73 L506.70,63.33 L506.71,63.92 L506.72,64.52 L506.72,65.12 L506.73,65.72 L506.74,66.32 L506.75,66.91 L506.75,67.50 L506.76,68.08 L506.77,68.66 L506.78,69.23 L506.79,69.79 L506.80,70.34 L506.81,70.88 L506.82,71.41 L506.83,71.92 L506.83,72.41 L506.85,72.89 L506.86,73.36 L506.87,73.80 L506.88,74.22 L506.89,74.62 L506.90,75.00 L506.92,75.76 L506.95,76.48 L506.97,77.15 L507.00,77.78 L507.02,78.38 L507.05,78.94 L507.07,79.47 L507.10,79.97 L507.13,80.45 L507.16,80.91 L507.19,81.34 L507.22,81.77 L507.26,82.18 L507.30,82.58 L507.34,82.98 L507.38,83.38 L507.43,83.77 L507.48,84.17 L507.54,84.58 L507.60,85.00 L507.69,85.60 L507.79,86.17 L507.90,86.73 L508.01,87.28 L508.13,87.80 L508.26,88.31 L508.39,88.81 L508.52,89.30 L508.66,89.77 L508.80,90.23 L508.95,90.69 L509.10,91.13 L509.25,91.57 L509.40,92.00 L509.63,92.58 L509.89,93.13 L510.16,93.65 L510.45,94.15 L510.73,94.64 L511.01,95.11 L511.27,95.58 L511.52,96.04 L511.73,96.52 L511.90,97.00 L512.05,97.55 L512.18,98.11 L512.29,98.67 L512.37,99.23 L512.42,99.79 L512.46,100.33 L512.46,100.84 L512.44,101.34 L512.40,101.80 L512.27,102.43 L512.07,102.99 L511.81,103.51 L511.51,104.01 L511.20,104.50 L510.90,105.00 L510.57,105.52 L510.20,106.05 L509.81,106.58 L509.44,107.08 L509.12,107.56 L508.90,108.00 L508.70,108.56 L508.62,109.03 L508.68,109.49 L508.90,110.00 L509.22,110.48 L509.67,110.99 L510.21,111.51 L510.80,112.02 L511.40,112.50 L512.20,113.04 L513.09,113.54 L514.00,114.02 L514.90,114.50 L516.20,115.21 L517.49,115.91 L518.40,116.40 L494.40,116.40 L495.31,115.91 L496.60,115.21 L497.90,114.50 L498.80,114.02 L499.71,113.54 L500.60,113.04 L501.40,112.50 L502.00,112.02 L502.59,111.51 L503.13,110.99 L503.58,110.48 L503.90,110.00 L504.12,109.49 L504.18,109.03 L504.10,108.56 L503.90,108.00 L503.68,107.56 L503.36,107.08 L502.99,106.58 L502.60,106.05 L502.23,105.52 L501.90,105.00 L501.60,104.50 L501.29,104.01 L500.99,103.51 L500.73,102.99 L500.53,102.43 L500.40,101.80 L500.36,101.34 L500.34,100.84 L500.34,100.33 L500.38,99.79 L500.43,99.23 L500.51,98.67 L500.62,98.11 L500.75,97.55 L500.90,97.00 L501.07,96.52 L501.28,96.04 L501.53,95.58 L501.79,95.11 L502.07,94.64 L502.35,94.15 L502.64,93.65 L502.91,93.13 L503.17,92.58 L503.40,92.00 L503.55,91.57 L503.70,91.13 L503.85,90.69 L504.00,90.23 L504.14,89.77 L504.28,89.30 L504.41,88.81 L504.54,88.31 L504.67,87.80 L504.79,87.28 L504.90,86.73 L505.01,86.17 L505.11,85.60 L505.20,85.00 L505.26,84.58 L505.32,84.17 L505.37,83.77 L505.42,83.38 L505.46,82.98 L505.50,82.58 L505.54,82.18 L505.58,81.77 L505.61,81.34 L505.64,80.91 L505.67,80.45 L505.70,79.97 L505.73,79.47 L505.75,78.94 L505.78,78.38 L505.80,77.78 L505.83,77.15 L505.85,76.48 L505.88,75.76 L505.90,75.00 L505.91,74.62 L505.92,74.22 L505.93,73.80 L505.94,73.36 L505.95,72.89 L505.97,72.41 L505.97,71.92 L505.98,71.41 L505.99,70.88 L506.00,70.34 L506.01,69.79 L506.02,69.23 L506.03,68.66 L506.04,68.08 L506.05,67.50 L506.05,66.91 L506.06,66.32 L506.07,65.72 L506.08,65.12 L506.08,64.52 L506.09,63.92 L506.10,63.33 L506.10,62.73 L506.11,62.15 L506.12,61.56 L506.12,60.99 L506.13,60.42 L506.13,59.87 L506.14,59.32 L506.14,58.78 L506.15,58.26 L506.15,57.76 L506.16,57.27 L506.16,56.79 L506.17,56.34 L506.17,55.90 L506.18,55.49 L506.18,55.09 L506.19,54.72 L506.19,54.38 L506.19,54.06 L506.20,53.76 L506.20,53.50Z" fill="#a62b1e" stroke="#1a1a1a" stroke-width="0.45" opacity="1"/>
<line x1="506.4" y1="53.5" x2="506.4" y2="99.3" stroke="#222" stroke-width="0.55"/>
<rect x="504.30" y="99.3" width="4.2" height="17.10" fill="rgba(255,255,255,0.3)" stroke="#222" stroke-width="0.5"/>
<line x1="504.30" y1="103.8" x2="508.50" y2="103.8" stroke="#222" stroke-width="0.7"/>
<circle cx="532.8" cy="44" r="0.4" fill="#555"/>
<circle cx="532.8" cy="47" r="0.4" fill="#555"/>
<circle cx="532.8" cy="50" r="0.4" fill="#555"/>
<circle cx="532.8" cy="53" r="0.4" fill="#555"/>
<circle cx="532.8" cy="56" r="0.4" fill="#555"/>
<circle cx="532.8" cy="59" r="0.4" fill="#555"/>
<circle cx="532.8" cy="62" r="0.4" fill="#555"/>
<circle cx="532.8" cy="65" r="0.4" fill="#555"/>
<circle cx="532.8" cy="68" r="0.4" fill="#555"/>
<circle cx="532.8" cy="71" r="0.4" fill="#555"/>
<path d="M532.95,37.30 L532.95,37.57 L532.95,37.86 L532.96,38.17 L532.96,38.51 L532.96,38.87 L532.96,39.25 L532.97,39.65 L532.97,40.07 L532.97,40.50 L532.97,40.96 L532.97,41.43 L532.98,41.92 L532.98,42.42 L532.98,42.93 L532.99,43.46 L532.99,43.99 L532.99,44.54 L532.99,45.10 L533.00,45.66 L533.00,46.23 L533.00,46.81 L533.01,47.39 L533.01,47.98 L533.02,48.57 L533.02,49.17 L533.02,49.76 L533.03,50.36 L533.03,50.95 L533.04,51.54 L533.04,52.13 L533.05,52.72 L533.05,53.30 L533.06,53.88 L533.07,54.45 L533.07,55.01 L533.08,55.56 L533.08,56.11 L533.09,56.64 L533.10,57.16 L533.11,57.67 L533.11,58.17 L533.12,58.65 L533.13,59.12 L533.14,59.57 L533.15,60.00 L533.16,60.63 L533.18,61.26 L533.19,61.88 L533.20,62.50 L533.22,63.10 L533.23,63.71 L533.24,64.30 L533.26,64.89 L533.27,65.47 L533.28,66.04 L533.30,66.61 L533.31,67.17 L533.33,67.71 L533.35,68.25 L533.36,68.78 L533.38,69.30 L533.40,69.81 L533.42,70.31 L533.44,70.80 L533.47,71.28 L533.49,71.74 L533.52,72.20 L533.55,72.64 L533.58,73.08 L533.61,73.50 L533.64,73.90 L533.68,74.30 L533.72,74.68 L533.76,75.05 L533.80,75.40 L533.94,76.34 L534.10,77.12 L534.27,77.75 L534.45,78.28 L534.65,78.72 L534.86,79.11 L535.08,79.49 L535.31,79.87 L535.55,80.30 L535.80,80.80 L536.03,81.29 L536.28,81.78 L536.53,82.27 L536.80,82.75 L537.07,83.24 L537.35,83.73 L537.63,84.22 L537.92,84.73 L538.21,85.24 L538.50,85.76 L538.80,86.30 L539.06,86.77 L539.33,87.24 L539.61,87.73 L539.89,88.22 L540.18,88.72 L540.47,89.23 L540.76,89.74 L541.05,90.25 L541.32,90.76 L541.59,91.27 L541.84,91.78 L542.08,92.29 L542.30,92.80 L542.51,93.30 L542.73,93.81 L542.96,94.32 L543.18,94.83 L543.39,95.34 L543.59,95.85 L543.77,96.35 L543.93,96.86 L544.06,97.37 L544.16,97.88 L544.22,98.39 L544.23,98.90 L544.20,99.40 L544.11,99.91 L543.96,100.43 L543.77,100.95 L543.53,101.48 L543.26,102.00 L542.96,102.53 L542.65,103.05 L542.32,103.56 L541.99,104.06 L541.67,104.55 L541.35,105.02 L541.06,105.47 L540.80,105.90 L540.36,106.56 L539.88,107.18 L539.38,107.76 L538.90,108.31 L538.47,108.83 L538.12,109.33 L537.89,109.82 L537.80,110.30 L537.93,110.91 L538.28,111.47 L538.80,111.99 L539.43,112.50 L540.11,113.00 L540.80,113.50 L541.75,114.15 L542.90,114.82 L544.06,115.46 L545.09,116.01 L545.80,116.40 L519.80,116.40 L520.51,116.01 L521.54,115.46 L522.70,114.82 L523.85,114.15 L524.80,113.50 L525.49,113.00 L526.17,112.50 L526.80,111.99 L527.32,111.47 L527.67,110.91 L527.80,110.30 L527.71,109.82 L527.48,109.33 L527.13,108.83 L526.70,108.31 L526.22,107.76 L525.72,107.18 L525.24,106.56 L524.80,105.90 L524.54,105.47 L524.25,105.02 L523.93,104.55 L523.61,104.06 L523.28,103.56 L522.95,103.05 L522.64,102.53 L522.34,102.00 L522.07,101.48 L521.83,100.95 L521.64,100.43 L521.49,99.91 L521.40,99.40 L521.37,98.90 L521.38,98.39 L521.44,97.88 L521.54,97.37 L521.67,96.86 L521.83,96.35 L522.01,95.85 L522.21,95.34 L522.42,94.83 L522.64,94.32 L522.87,93.81 L523.09,93.30 L523.30,92.80 L523.52,92.29 L523.76,91.78 L524.01,91.27 L524.28,90.76 L524.55,90.25 L524.84,89.74 L525.13,89.23 L525.42,88.72 L525.71,88.22 L525.99,87.73 L526.27,87.24 L526.54,86.77 L526.80,86.30 L527.10,85.76 L527.39,85.24 L527.68,84.73 L527.97,84.22 L528.25,83.73 L528.53,83.24 L528.80,82.75 L529.07,82.27 L529.32,81.78 L529.57,81.29 L529.80,80.80 L530.05,80.30 L530.29,79.87 L530.52,79.49 L530.74,79.11 L530.95,78.72 L531.15,78.28 L531.33,77.75 L531.50,77.12 L531.66,76.34 L531.80,75.40 L531.84,75.05 L531.88,74.68 L531.92,74.30 L531.96,73.90 L531.99,73.50 L532.02,73.08 L532.05,72.64 L532.08,72.20 L532.11,71.74 L532.13,71.28 L532.16,70.80 L532.18,70.31 L532.20,69.81 L532.22,69.30 L532.24,68.78 L532.25,68.25 L532.27,67.71 L532.29,67.17 L532.30,66.61 L532.32,66.04 L532.33,65.47 L532.34,64.89 L532.36,64.30 L532.37,63.71 L532.38,63.10 L532.40,62.50 L532.41,61.88 L532.42,61.26 L532.44,60.63 L532.45,60.00 L532.46,59.57 L532.47,59.12 L532.48,58.65 L532.49,58.17 L532.49,57.67 L532.50,57.16 L532.51,56.64 L532.52,56.11 L532.52,55.56 L532.53,55.01 L532.53,54.45 L532.54,53.88 L532.55,53.30 L532.55,52.72 L532.56,52.13 L532.56,51.54 L532.57,50.95 L532.57,50.36 L532.58,49.76 L532.58,49.17 L532.58,48.57 L532.59,47.98 L532.59,47.39 L532.60,46.81 L532.60,46.23 L532.60,45.66 L532.61,45.10 L532.61,44.54 L532.61,43.99 L532.61,43.46 L532.62,42.93 L532.62,42.42 L532.62,41.92 L532.63,41.43 L532.63,40.96 L532.63,40.50 L532.63,40.07 L532.63,39.65 L532.64,39.25 L532.64,38.87 L532.64,38.51 L532.64,38.17 L532.65,37.86 L532.65,37.57 L532.65,37.30Z" fill="#113852" stroke="#1a1a1a" stroke-width="0.45" opacity="1"/>
<line x1="532.8" y1="37.3" x2="532.8" y2="92.8" stroke="#222" stroke-width="0.55"/>
<rect x="530.70" y="92.8" width="4.2" height="16.20" fill="rgba(255,255,255,0.3)" stroke="#222" stroke-width="0.5"/>
<line x1="530.70" y1="101.1" x2="534.90" y2="101.1" stroke="#222" stroke-width="0.7"/>
<path d="M561.20,55.80 L561.28,56.11 L561.38,56.50 L561.51,56.96 L561.64,57.48 L561.80,58.06 L561.96,58.68 L562.13,59.33 L562.30,60.00 L562.41,60.44 L562.53,60.91 L562.65,61.40 L562.78,61.92 L562.91,62.46 L563.04,63.01 L563.17,63.56 L563.31,64.11 L563.45,64.66 L563.59,65.20 L563.73,65.72 L563.86,66.22 L564.00,66.70 L564.18,67.29 L564.36,67.84 L564.54,68.38 L564.72,68.91 L564.90,69.42 L565.08,69.93 L565.26,70.43 L565.44,70.94 L565.62,71.46 L565.80,72.00 L565.96,72.50 L566.12,73.00 L566.28,73.51 L566.44,74.02 L566.60,74.54 L566.76,75.05 L566.92,75.57 L567.07,76.08 L567.22,76.59 L567.36,77.10 L567.50,77.60 L567.65,78.15 L567.80,78.69 L567.94,79.23 L568.08,79.77 L568.22,80.31 L568.35,80.84 L568.47,81.38 L568.59,81.92 L568.70,82.46 L568.80,83.00 L568.89,83.50 L568.97,84.01 L569.05,84.52 L569.13,85.03 L569.20,85.55 L569.27,86.06 L569.32,86.57 L569.36,87.07 L569.39,87.56 L569.40,88.04 L569.40,88.50 L569.37,89.05 L569.31,89.57 L569.23,90.09 L569.14,90.59 L569.02,91.08 L568.90,91.56 L568.77,92.04 L568.63,92.52 L568.50,93.00 L568.34,93.55 L568.17,94.09 L567.98,94.64 L567.79,95.18 L567.59,95.70 L567.39,96.22 L567.19,96.72 L567.00,97.20 L566.74,97.80 L566.48,98.37 L566.22,98.91 L565.96,99.44 L565.72,99.97 L565.50,100.50 L565.29,101.04 L565.07,101.59 L564.88,102.13 L564.70,102.67 L564.57,103.19 L564.50,103.70 L564.50,104.29 L564.57,104.85 L564.69,105.41 L564.84,105.95 L565.00,106.50 L565.14,107.03 L565.29,107.53 L565.47,108.05 L565.70,108.59 L566.00,109.20 L566.28,109.69 L566.60,110.22 L566.97,110.77 L567.35,111.34 L567.74,111.91 L568.13,112.47 L568.50,113.00 L568.95,113.63 L569.43,114.29 L569.91,114.94 L570.35,115.53 L570.73,116.03 L571.00,116.40 L547.00,116.40 L547.27,116.03 L547.65,115.53 L548.09,114.94 L548.57,114.29 L549.05,113.63 L549.50,113.00 L549.87,112.47 L550.26,111.91 L550.65,111.34 L551.03,110.77 L551.40,110.22 L551.72,109.69 L552.00,109.20 L552.30,108.59 L552.53,108.05 L552.71,107.53 L552.86,107.03 L553.00,106.50 L553.16,105.95 L553.31,105.41 L553.43,104.85 L553.50,104.29 L553.50,103.70 L553.43,103.19 L553.30,102.67 L553.12,102.13 L552.93,101.59 L552.71,101.04 L552.50,100.50 L552.28,99.97 L552.04,99.44 L551.78,98.91 L551.52,98.37 L551.26,97.80 L551.00,97.20 L550.81,96.72 L550.61,96.22 L550.41,95.70 L550.21,95.18 L550.02,94.64 L549.83,94.09 L549.66,93.55 L549.50,93.00 L549.37,92.52 L549.23,92.04 L549.10,91.56 L548.98,91.08 L548.86,90.59 L548.77,90.09 L548.69,89.57 L548.63,89.05 L548.60,88.50 L548.60,88.04 L548.61,87.56 L548.64,87.07 L548.68,86.57 L548.73,86.06 L548.80,85.55 L548.87,85.03 L548.95,84.52 L549.03,84.01 L549.11,83.50 L549.20,83.00 L549.30,82.46 L549.41,81.92 L549.53,81.38 L549.65,80.84 L549.78,80.31 L549.92,79.77 L550.06,79.23 L550.20,78.69 L550.35,78.15 L550.50,77.60 L550.64,77.10 L550.78,76.59 L550.93,76.08 L551.08,75.57 L551.24,75.05 L551.40,74.54 L551.56,74.02 L551.72,73.51 L551.88,73.00 L552.04,72.50 L552.20,72.00 L552.38,71.46 L552.56,70.94 L552.74,70.43 L552.92,69.93 L553.10,69.42 L553.28,68.91 L553.46,68.38 L553.64,67.84 L553.82,67.29 L554.00,66.70 L554.14,66.22 L554.27,65.72 L554.41,65.20 L554.55,64.66 L554.69,64.11 L554.83,63.56 L554.96,63.01 L555.09,62.46 L555.22,61.92 L555.35,61.40 L555.47,60.91 L555.59,60.44 L555.70,60.00 L555.87,59.33 L556.04,58.68 L556.20,58.06 L556.36,57.48 L556.49,56.96 L556.62,56.50 L556.72,56.11 L556.80,55.80Z" fill="#1b7c9b" stroke="#1a1a1a" stroke-width="0.45" opacity="1"/>
<line x1="559.0" y1="55.8" x2="559.0" y2="86.3" stroke="#222" stroke-width="0.55"/>
<rect x="556.90" y="86.3" width="4.2" height="30.10" fill="rgba(255,255,255,0.3)" stroke="#222" stroke-width="0.5"/>
<line x1="556.90" y1="97.2" x2="561.10" y2="97.2" stroke="#222" stroke-width="0.7"/>
<line x1="505" y1="46.4" x2="530.4" y2="46.4" stroke="#333" stroke-width="0.8"/>
<text x="517.40" y="44.60" font-size="6.7" text-anchor="middle" fill="#262626" >1.23e-33</text>
<line x1="534.8" y1="38.2" x2="560.7" y2="38.2" stroke="#333" stroke-width="0.8"/>
<text x="547.80" y="36.40" font-size="6.7" text-anchor="middle" fill="#262626" >1.06e-09</text>
<line x1="506.4" y1="120.2" x2="506.4" y2="122.5" stroke="#333" stroke-width="0.8"/>
<text x="512.20" y="132.00" font-size="9.5" text-anchor="end" fill="#262626" transform="rotate(-30 512.2 132.0)">D30</text>
<line x1="532.7" y1="120.2" x2="532.7" y2="122.5" stroke="#333" stroke-width="0.8"/>
<text x="539.50" y="132.00" font-size="9.5" text-anchor="end" fill="#262626" transform="rotate(-30 539.5 132.0)">short</text>
<line x1="559.2" y1="120.2" x2="559.2" y2="122.5" stroke="#333" stroke-width="0.8"/>
<text x="568.90" y="132.00" font-size="9.5" text-anchor="end" fill="#262626" transform="rotate(-30 568.9000000000001 132.0)">intermed</text>
<text x="637.40" y="16.40" font-size="9.4" text-anchor="middle" fill="#1c1c1c" >Nb-like</text>
<text x="580.40" y="24.60" font-size="6.7" text-anchor="start" fill="#1c1c1c" style="font-family:'Liberation Serif',serif" >Kruskal-Wallis; n = 6888</text>
<line x1="597" y1="33.5" x2="597" y2="120.2" stroke="#333" stroke-width="0.8"/>
<line x1="597" y1="120.2" x2="679" y2="120.2" stroke="#333" stroke-width="0.8"/>
<line x1="595" y1="39.2" x2="597" y2="39.2" stroke="#222" stroke-width="0.8"/>
<text x="593.60" y="42.15" font-size="8.4" text-anchor="end" fill="#262626" >2.5</text>
<line x1="595" y1="54.8" x2="597" y2="54.8" stroke="#222" stroke-width="0.8"/>
<text x="593.60" y="57.75" font-size="8.4" text-anchor="end" fill="#262626" >2.0</text>
<line x1="595" y1="70.3" x2="597" y2="70.3" stroke="#222" stroke-width="0.8"/>
<text x="593.60" y="73.25" font-size="8.4" text-anchor="end" fill="#262626" >1.5</text>
<line x1="595" y1="85.7" x2="597" y2="85.7" stroke="#222" stroke-width="0.8"/>
<text x="593.60" y="88.65" font-size="8.4" text-anchor="end" fill="#262626" >1.0</text>
<line x1="595" y1="101.3" x2="597" y2="101.3" stroke="#222" stroke-width="0.8"/>
<text x="593.60" y="104.25" font-size="8.4" text-anchor="end" fill="#262626" >0.5</text>
<line x1="595" y1="116.6" x2="597" y2="116.6" stroke="#222" stroke-width="0.8"/>
<text x="593.60" y="119.55" font-size="8.4" text-anchor="end" fill="#262626" >0.0</text>
<line x1="601.5" y1="116.5" x2="625" y2="116.5" stroke="#c9c9c9" stroke-width="1.4"/>
<rect x="612.2" y="36.5" width="1.9" height="4" fill="#999"/>
<line x1="613.15" y1="40" x2="613.15" y2="80" stroke="#5a5a5a" stroke-width="1.8" stroke-dasharray="1.6,0.6"/>
<line x1="613.15" y1="80" x2="613.15" y2="116.6" stroke="#333" stroke-width="1.9" stroke-dasharray="2.2,0.4"/>
<path d="M639.80,40.60 L639.81,40.89 L639.83,41.24 L639.85,41.64 L639.86,42.08 L639.88,42.57 L639.90,43.09 L639.92,43.64 L639.94,44.21 L639.97,44.80 L640.00,45.40 L640.02,46.01 L640.06,46.62 L640.09,47.23 L640.13,47.82 L640.16,48.41 L640.21,48.97 L640.25,49.50 L640.30,50.00 L640.36,50.54 L640.42,51.08 L640.48,51.62 L640.55,52.15 L640.62,52.67 L640.70,53.19 L640.78,53.70 L640.86,54.21 L640.94,54.71 L641.03,55.21 L641.12,55.69 L641.21,56.17 L641.30,56.64 L641.40,57.11 L641.50,57.56 L641.60,58.00 L641.75,58.57 L641.91,59.13 L642.08,59.67 L642.26,60.19 L642.44,60.70 L642.62,61.20 L642.81,61.69 L642.99,62.16 L643.16,62.63 L643.32,63.09 L643.47,63.55 L643.60,64.00 L643.76,64.59 L643.91,65.16 L644.05,65.71 L644.17,66.25 L644.28,66.77 L644.37,67.29 L644.44,67.80 L644.49,68.30 L644.50,68.80 L644.48,69.36 L644.42,69.90 L644.33,70.43 L644.22,70.95 L644.08,71.47 L643.93,71.98 L643.77,72.49 L643.60,73.00 L643.41,73.50 L643.18,73.97 L642.93,74.43 L642.67,74.89 L642.41,75.36 L642.17,75.86 L641.96,76.41 L641.80,77.00 L641.72,77.43 L641.64,77.90 L641.58,78.38 L641.53,78.89 L641.49,79.41 L641.46,79.94 L641.44,80.47 L641.42,81.00 L641.41,81.52 L641.40,82.03 L641.40,82.53 L641.40,83.00 L641.40,83.54 L641.41,84.05 L641.42,84.54 L641.44,85.02 L641.46,85.50 L641.50,85.98 L641.55,86.46 L641.62,86.95 L641.70,87.46 L641.80,88.00 L641.90,88.46 L642.01,88.94 L642.14,89.43 L642.27,89.93 L642.42,90.43 L642.57,90.94 L642.73,91.45 L642.90,91.96 L643.07,92.48 L643.24,92.99 L643.42,93.50 L643.60,94.00 L643.78,94.50 L643.98,95.00 L644.18,95.50 L644.38,96.00 L644.59,96.50 L644.81,97.00 L645.02,97.50 L645.24,98.00 L645.46,98.50 L645.68,99.00 L645.89,99.50 L646.10,100.00 L646.31,100.50 L646.52,101.01 L646.74,101.52 L646.95,102.04 L647.17,102.55 L647.38,103.06 L647.59,103.57 L647.80,104.07 L648.01,104.57 L648.21,105.06 L648.41,105.54 L648.60,106.00 L648.82,106.54 L649.04,107.06 L649.26,107.56 L649.47,108.05 L649.68,108.54 L649.87,109.02 L650.07,109.50 L650.25,109.99 L650.43,110.49 L650.60,111.00 L650.76,111.55 L650.93,112.14 L651.08,112.76 L651.23,113.39 L651.38,114.01 L651.51,114.61 L651.63,115.16 L651.73,115.66 L651.83,116.08 L651.90,116.40 L627.30,116.40 L627.37,116.08 L627.47,115.66 L627.57,115.16 L627.69,114.61 L627.83,114.01 L627.97,113.39 L628.12,112.76 L628.27,112.14 L628.44,111.55 L628.60,111.00 L628.77,110.49 L628.95,109.99 L629.13,109.50 L629.33,109.02 L629.52,108.54 L629.73,108.05 L629.94,107.56 L630.16,107.06 L630.38,106.54 L630.60,106.00 L630.79,105.54 L630.99,105.06 L631.19,104.57 L631.40,104.07 L631.61,103.57 L631.82,103.06 L632.03,102.55 L632.25,102.04 L632.46,101.52 L632.68,101.01 L632.89,100.50 L633.10,100.00 L633.31,99.50 L633.52,99.00 L633.74,98.50 L633.96,98.00 L634.18,97.50 L634.39,97.00 L634.61,96.50 L634.82,96.00 L635.02,95.50 L635.22,95.00 L635.42,94.50 L635.60,94.00 L635.78,93.50 L635.96,92.99 L636.13,92.48 L636.30,91.96 L636.47,91.45 L636.63,90.94 L636.78,90.43 L636.93,89.93 L637.06,89.43 L637.19,88.94 L637.30,88.46 L637.40,88.00 L637.50,87.46 L637.58,86.95 L637.65,86.46 L637.70,85.98 L637.74,85.50 L637.76,85.02 L637.78,84.54 L637.79,84.05 L637.80,83.54 L637.80,83.00 L637.80,82.53 L637.80,82.03 L637.79,81.52 L637.78,81.00 L637.76,80.47 L637.74,79.94 L637.71,79.41 L637.67,78.89 L637.62,78.38 L637.56,77.90 L637.48,77.43 L637.40,77.00 L637.24,76.41 L637.03,75.86 L636.79,75.36 L636.53,74.89 L636.27,74.43 L636.02,73.97 L635.79,73.50 L635.60,73.00 L635.43,72.49 L635.27,71.98 L635.12,71.47 L634.98,70.95 L634.87,70.43 L634.78,69.90 L634.72,69.36 L634.70,68.80 L634.71,68.30 L634.76,67.80 L634.83,67.29 L634.92,66.77 L635.03,66.25 L635.15,65.71 L635.29,65.16 L635.44,64.59 L635.60,64.00 L635.73,63.55 L635.88,63.09 L636.04,62.63 L636.21,62.16 L636.39,61.69 L636.58,61.20 L636.76,60.70 L636.94,60.19 L637.12,59.67 L637.29,59.13 L637.45,58.57 L637.60,58.00 L637.70,57.56 L637.80,57.11 L637.90,56.64 L637.99,56.17 L638.08,55.69 L638.17,55.21 L638.26,54.71 L638.34,54.21 L638.42,53.70 L638.50,53.19 L638.58,52.67 L638.65,52.15 L638.72,51.62 L638.78,51.08 L638.84,50.54 L638.90,50.00 L638.95,49.50 L638.99,48.97 L639.04,48.41 L639.07,47.82 L639.11,47.23 L639.14,46.62 L639.18,46.01 L639.20,45.40 L639.23,44.80 L639.26,44.21 L639.28,43.64 L639.30,43.09 L639.32,42.57 L639.34,42.08 L639.35,41.64 L639.37,41.24 L639.39,40.89 L639.40,40.60Z" fill="#113852" stroke="#1a1a1a" stroke-width="0.45" opacity="1"/>
<line x1="639.6" y1="40.6" x2="639.6" y2="72.3" stroke="#222" stroke-width="0.55"/>
<rect x="637.50" y="72.3" width="4.2" height="43.50" fill="rgba(255,255,255,0.4)" stroke="#222" stroke-width="0.5"/>
<line x1="637.50" y1="107.6" x2="641.70" y2="107.6" stroke="#222" stroke-width="0.7"/>
<line x1="655.6" y1="116.5" x2="678" y2="116.5" stroke="#c9c9c9" stroke-width="1.4"/>
<line x1="666.2" y1="74.7" x2="666.2" y2="116.6" stroke="#444" stroke-width="1.2" stroke-dasharray="0.9,0.8"/>
<line x1="613.2" y1="33.3" x2="665.2" y2="33.3" stroke="#333" stroke-width="0.8"/>
<text x="643.20" y="31.50" font-size="6.7" text-anchor="middle" fill="#262626" >0.746</text>
<line x1="615.8" y1="40.6" x2="640.3" y2="40.6" stroke="#333" stroke-width="0.8"/>
<text x="628.10" y="38.80" font-size="6.7" text-anchor="middle" fill="#262626" >2.24e-90</text>
<line x1="643" y1="46.4" x2="669.6" y2="46.4" stroke="#333" stroke-width="0.8"/>
<text x="656.30" y="44.60" font-size="6.7" text-anchor="middle" fill="#262626" >1.64e-10</text>
<line x1="613.3" y1="120.2" x2="613.3" y2="122.5" stroke="#333" stroke-width="0.8"/>
<text x="619.10" y="132.00" font-size="9.5" text-anchor="end" fill="#262626" transform="rotate(-30 619.0999999999999 132.0)">D30</text>
<line x1="639.6" y1="120.2" x2="639.6" y2="122.5" stroke="#333" stroke-width="0.8"/>
<text x="646.40" y="132.00" font-size="9.5" text-anchor="end" fill="#262626" transform="rotate(-30 646.4 132.0)">short</text>
<line x1="666.2" y1="120.2" x2="666.2" y2="122.5" stroke="#333" stroke-width="0.8"/>
<text x="674.60" y="132.00" font-size="9.5" text-anchor="end" fill="#262626" transform="rotate(-30 674.6 132.0)">intermed</text>
<text x="372.60" y="78.50" font-size="7.0" text-anchor="middle" fill="#262626" transform="rotate(-90 372.6 78.5)">Expression scores</text>
<text x="1.20" y="175.60" font-size="8.6" text-anchor="start" fill="#111" font-weight="bold" >C</text>
<text x="93.20" y="186.00" font-size="9.5" text-anchor="middle" fill="#1c1c1c" >In vivo chemo-treament</text>
<g transform="translate(9,193.3) scale(1.02)"><path d="M0,2.9 C0.8,2 1.8,1.5 2.8,1.3 L3.8,0.2 L4.9,0.9 C7,0.6 10,0.6 12.5,1.2 C14.8,1.9 16.3,3.3 16.8,5.2 C16.6,6.4 15.6,7 14.6,7.1 L13.2,7.3 L12.5,8.4 L11,8.4 L11.4,7.2 L6.6,7.1 L5.5,8.1 L3.8,8.2 L4.6,6.8 C3,5.6 1.5,4.3 0,2.9 Z" fill="#2b2b2b"/><path d="M16.2,6.2 C18,6.5 19.7,7.1 19.9,8.3 C20.1,9.6 18,10.2 15.6,10.1" fill="none" stroke="#666" stroke-width="0.6"/><path d="M3.2,8.6 L5.8,8.6 M10.4,8.9 L13.2,8.9" stroke="#aaa" stroke-width="0.6"/></g>
<circle cx="56" cy="199.4" r="3.05" fill="#111"/>
<path d="M52.70,204.20 L59.30,204.20 L56.00,210.20 Z" fill="#111"/>
<circle cx="68.6" cy="199.4" r="3.05" fill="#111"/>
<path d="M65.30,204.20 L71.90,204.20 L68.60,210.20 Z" fill="#111"/>
<circle cx="81" cy="199.4" r="3.05" fill="#111"/>
<path d="M77.70,204.20 L84.30,204.20 L81.00,210.20 Z" fill="#111"/>
<line x1="24.3" y1="212.5" x2="98" y2="212.5" stroke="#222" stroke-width="0.9"/>
<line x1="24.3" y1="212.5" x2="24.3" y2="219.6" stroke="#222" stroke-width="0.9"/>
<text x="28.10" y="226.00" font-size="7.2" text-anchor="end" fill="#262626" transform="rotate(-30 28.1 226.0)">E0.5</text>
<line x1="56" y1="212.5" x2="56" y2="219.6" stroke="#222" stroke-width="0.9"/>
<text x="59.80" y="226.00" font-size="7.2" text-anchor="end" fill="#262626" transform="rotate(-30 59.8 226.0)">E14.5</text>
<line x1="68.6" y1="212.5" x2="68.6" y2="219.6" stroke="#222" stroke-width="0.9"/>
<text x="72.40" y="226.00" font-size="7.2" text-anchor="end" fill="#262626" transform="rotate(-30 72.39999999999999 226.0)">E15.5</text>
<line x1="81" y1="212.5" x2="81" y2="219.6" stroke="#222" stroke-width="0.9"/>
<text x="84.80" y="226.00" font-size="7.2" text-anchor="end" fill="#262626" transform="rotate(-30 84.8 226.0)">E16.5</text>
<line x1="98" y1="212.5" x2="98" y2="219.6" stroke="#222" stroke-width="0.9"/>
<text x="101.80" y="226.00" font-size="7.2" text-anchor="end" fill="#262626" transform="rotate(-30 101.8 226.0)">E18.5</text>
<text x="95.90" y="200.90" font-size="7.3" text-anchor="start" fill="#262626" >scRNA-</text>
<text x="95.90" y="209.00" font-size="7.3" text-anchor="start" fill="#262626" >seq</text>
<circle cx="115.1" cy="216" r="3.1" fill="#111"/>
<text x="122.10" y="219.80" font-size="7.0" text-anchor="start" fill="#262626" >vehicle</text>
<path d="M112.10,226.00 L119.10,226.00 L115.60,231.80 Z" fill="#111"/>
<text x="122.10" y="231.40" font-size="7.0" text-anchor="start" fill="#262626" >Etoposide</text>
<rect x="22.4" y="239.2" width="141.2" height="149.8" fill="none" stroke="#222" stroke-width="0.9"/>
<path d="M70.5,286.7 L74.0,283.0 L80.0,279.0 L87.0,277.0 L93.0,278.0 L96.0,283.0 L97.0,290.0 L96.0,298.0 L93.0,304.0 L88.0,307.0 L82.0,309.0 L76.0,306.0 L72.0,298.0Z" fill="#38b6c1" fill-opacity="0.5"/>
<path d="M86.0,300.0 L95.0,298.0 L103.0,300.0 L110.0,305.0 L117.0,311.0 L122.0,318.0 L122.0,324.0 L114.0,325.0 L105.0,321.0 L97.0,316.0 L89.0,311.0 L85.0,306.0Z" fill="#38b6c1" fill-opacity="0.2"/>
<path d="M126.5,293.0 L126.3,294.3 L125.8,295.5 L125.0,296.5 L124.0,297.3 L122.8,297.8 L121.5,298.0 L120.2,297.8 L119.0,297.3 L118.0,296.5 L117.2,295.5 L116.7,294.3 L116.5,293.0 L116.7,291.7 L117.2,290.5 L118.0,289.5 L119.0,288.7 L120.2,288.2 L121.5,288.0 L122.8,288.2 L124.0,288.7 L125.0,289.5 L125.8,290.5 L126.3,291.7Z" fill="#38b6c1" fill-opacity="0.3"/>
<path d="M62.0,338.0 L65.0,334.5 L70.0,335.0 L74.0,338.0 L78.0,336.0 L83.0,332.5 L85.0,334.0 L80.0,341.0 L76.0,344.0 L82.0,345.0 L78.0,348.0 L74.0,350.0 L72.0,357.0 L70.0,364.0 L66.0,365.0 L63.0,360.0 L61.0,350.0Z" fill="#38b6c1" fill-opacity="0.2"/>
<path d="M104.0,341.0 L110.0,338.5 L117.0,337.0 L124.0,338.0 L131.0,339.0 L131.0,346.0 L128.0,352.0 L123.0,357.0 L117.0,358.0 L112.0,356.0 L108.0,352.0 L104.0,348.0Z" fill="#38b6c1" fill-opacity="0.1"/>
<path d="M101.0,342.0 L105.0,342.0 L104.0,350.0 L101.0,357.0 L99.0,362.0 L101.0,366.0 L105.0,367.0 L108.0,362.0 L111.0,358.0 L114.0,358.0 L112.0,364.0 L108.0,370.0 L102.0,372.0 L96.0,370.0 L94.0,365.0 L97.0,355.0Z" fill="#38b6c1" fill-opacity="0.1"/>
<path d="M107.1 248.9h1m-1 -0.2h1m0.3 0.6h1m-0.3 0h1m0.7 -0.3h1m-8.9 1.3h1m0.5 -0.1h1m0 -0.6h1m-0.9 0h1m-0.7 0.9h1m-0.3 0h1m-0.8 -0.7h1m-0.7 0.7h1m-0.2 -0.9h1m-0.4 0.1h1m-0.4 0.1h1m1.7 0.5h1m-32.1 1h1m21.6 -0.3h1m-0.1 -0.2h1m2.3 0.5h1m-0.3 -0.7h1m-0.3 0.9h1m2.8 -0.2h1m0.6 0h1m-0.2 -0.3h1m-0.6 0.2h1m-0.5 -0.2h1m-0.6 0.3h1m-37.5 0.9h1m18.7 0.3h1m0.3 -0.3h1m-0.6 -0.7h1m0.3 0.6h1m-0.8 -0.6h1m0.5 0.9h1m-0.8 -0.6h1m-0.9 0.5h1m-0.9 -0.4h1m0.4 -0.3h1m1.2 0.6h1m-0.8 -0.4h1m-0.7 0.2h1m0.7 -0.2h1m0.3 0h1m0.4 0.1h1m-0.9 0h1m1.4 -0.4h1m0.2 0.4h1m0.5 -0.1h1m-19.9 1.4h1m-0.7 -0.5h1m-0.8 0.7h1m1.5 -0.4h1m-0.9 0.2h1m-0.9 0.3h1m1.5 -0.7h1m-0.1 0.7h1m-0.6 -0.9h1m1.1 0.3h1m0.4 0.5h1m-0.8 -0.5h1m-0.7 -0.2h1m0.5 0.3h1m-0.6 0.1h1m0.8 -0.4h1m0.3 0h1m-0.3 0.6h1m-0.1 -0.3h1m1.7 -0.4h1m-0.1 0.4h1m-24.2 0.8h1m-0.7 0.4h1m-0.3 -0.1h1m1.4 -0.5h1m0.9 0.6h1m-1 -0.6h1m-0.4 0.2h1m-0.5 0.5h1m1.6 -0.2h1m-0.8 0.2h1m0.6 -0.4h1m0.7 0.3h1m-0.3 0.3h1m-0.3 0h1m0.4 -0.7h1m-0.7 0.5h1m0 -0.2h1m-0.9 0h1m-0.3 -0.2h1m-0.7 -0.4h1m-0.1 0.4h1m-0.9 0.2h1m3.1 0.2h1m0.4 -0.1h1m-21.4 0.8h1m-0.1 0.4h1m0.9 -0.1h1m1.2 0h1m-0.2 -0.7h1m0 0.8h1m1 -0.2h1m0.4 -0.2h1m-0.6 -0.3h1m4.6 0h1m2.3 0.1h1m0.4 -0.2h1m-0.8 0.7h1m-0.2 -0.6h1m-0.8 0h1m-1 0.5h1m-0.7 0.3h1m-0.3 -0.3h1m-0.8 0.3h1m-29.5 0.6h1m-0.6 -0.1h1m1.2 0.2h1m-0.8 -0.4h1m-0.3 0.6h1m-0.2 -0.6h1m2.2 0h1m2.7 -0.1h1m-0.2 -0.2h1m-0.9 0.6h1m-0.1 -0.5h1m0.8 0.1h1m0.4 0.7h1m1.3 0h1m-0.2 -0.3h1m-1 -0.5h1m2.7 0.2h1m-0.3 0.3h1m-0.8 0h1m-0.2 0h1m1 -0.1h1m-0.9 0.4h1m-0.7 -0.1h1m-0.6 0.2h1m-0.1 -0.2h1m-0.1 -0.4h1m-28.7 1h1m6.8 0.3h1m-0.5 -0.1h1m1.8 -0.2h1m-0.2 -0.1h1m-0.9 0.4h1m0.5 0.3h1m-0.3 -0.4h1m-0.8 -0.1h1m-0.9 0.2h1m0 -0.3h1m-0.9 -0.3h1m-0.6 0.4h1m0 0.1h1m3 -0.3h1m0.2 0.7h1m-0.1 -0.8h1m-0.8 0.2h1m-0.4 0.2h1m-0.1 -0.2h1m-0.1 0.1h1m-0.4 0.3h1m0.2 -0.6h1m-0.4 0.2h1m-0.5 0.5h1m-0.6 -0.5h1m-0.7 0.4h1m-0.8 -0.6h1m-0.9 0.3h1m-0.6 -0.2h1m-0.9 0.4h1m-0.3 0.3h1m-33.8 0.4h1m1.3 0.2h1m1.1 -0.1h1m-0.8 0.1h1m-0.6 0.1h1m1 0.1h1m-0.8 -0.5h1m0.2 0.6h1m-0.5 -0.9h1m-0.2 0.7h1m0.1 0h1m-0.4 -0.2h1m-0.1 -0.2h1m-0.9 0h1m-0.3 0.4h1m-0.1 -0.2h1m0.8 -0.4h1m0 -0.1h1m1.3 0.6h1m2 -0.3h1m2.8 0.7h1m1.2 -0.2h1m-0.7 -0.6h1m-0.4 0.4h1m-0.7 -0.3h1m-1 -0.2h1m-0.8 0.4h1m-0.9 0.4h1m-0.7 -0.3h1m-0.9 0h1m-0.2 -0.6h1m-0.7 0.2h1m-1 0h1m-0.8 0.6h1m-0.6 -0.5h1m2 0.3h1m1.3 0.1h1m-37.1 0.8h1m-1 -0.5h1m0 0.2h1m0.8 0.3h1m-0.9 -0.3h1m-0.1 0.1h1m1.1 0.1h1m-0.3 -0.1h1m-0.5 0.6h1m5.1 -0.1h1m1.5 -0.6h1m0.2 0h1m-0.3 0.5h1m-0.3 -0.4h1m-0.4 0.6h1m-0.4 -0.4h1m-0.2 -0.4h1m1.3 0.3h1m3.4 0h1m-0.7 -0.2h1m2.3 0.4h1m-0.7 -0.2h1m0.2 0.1h1m1.7 0h1m-0.4 -0.5h1m1.1 0.9h1m-0.3 -0.4h1m-37.6 1.1h1m-0.7 0.4h1m-0.7 -0.9h1m0 0.4h1m-0.1 -0.4h1m-0.8 0.8h1m-0.6 -0.1h1m0.1 -0.8h1m-0.3 0.9h1m-0.2 -0.3h1m0.1 -0.6h1m1.2 0.9h1m1.1 -0.2h1m0.7 0h1m-0.5 0.2h1m-0.9 0h1m-0.8 -0.4h1m0.5 0.1h1m-0.4 0h1m0.3 -0.5h1m8.2 0.6h1m1.7 0h1m-0.8 -0.4h1m0 0.4h1m1 -0.4h1m1.8 0.2h1m4.2 0.2h1m-43.5 0.9h1m1.2 0h1m-0.6 -0.4h1m-0.2 0.1h1m0.1 -0.2h1m-0.1 0.7h1m-0.9 -0.2h1m0.2 -0.5h1m-0.9 0.8h1m-0.6 -0.8h1m-0.5 -0.1h1m2.7 0.2h1m0.1 -0.1h1m1.4 0.2h1m2.7 -0.2h1m-0.9 0.2h1m-0.6 -0.1h1m-0.9 0.2h1m0 0.3h1m-0.9 -0.6h1m-0.7 0.7h1m-0.4 0.1h1m-0.5 -0.3h1m-0.5 -0.1h1m1.1 0h1m2.6 0.2h1m-0.5 -0.5h1m-0.9 0.6h1m-0.5 -0.5h1m0.3 -0.2h1m-0.9 0.3h1m0 -0.2h1m1.2 -0.2h1m2.1 0.4h1m1.5 0.3h1m1.2 -0.3h1m1.8 0.1h1m-0.8 -0.3h1m-45.6 0.9h1m-0.1 0h1m-0.9 0.4h1m1.5 -0.2h1m-0.9 -0.1h1m-0.8 0.7h1m-0.6 -0.5h1m-0.9 0.5h1m-0.2 -0.2h1m-0.8 0.3h1m-0.3 -0.4h1m-0.9 -0.4h1m-0.9 -0.1h1m-0.1 0h1m-1 0.8h1m-0.7 -0.5h1m-0.3 -0.3h1m0 0.6h1m-0.8 -0.4h1m-0.8 -0.1h1m0.6 -0.1h1m-0.7 0.6h1m-0.8 0.3h1m1.2 -0.7h1m0.2 0.1h1m0.1 0h1m1.4 0.2h1m-0.7 -0.2h1m0 -0.3h1m1.9 0.6h1m3.1 -0.2h1m0.5 0h1m5.2 -0.2h1m-0.5 0.3h1m5.9 -0.3h1m1.5 0.5h1m-0.7 -0.1h1m-0.6 -0.1h1m-0.9 0.1h1m-0.2 0h1m-0.9 -0.3h1m-0.9 -0.1h1m-0.9 -0.1h1m-1 0.2h1m-0.3 0h1m0.7 -0.4h1m1.1 0.9h1m-54.5 0.4h1m2.1 -0.1h1m-0.4 0.7h1m0.4 -0.2h1m2.1 -0.7h1m-0.2 0.7h1m-0.2 0.2h1m0.1 -0.8h1m0.1 0h1m-0.7 0.4h1m0.4 0.4h1m-1 0.1h1m-0.6 -0.1h1m0.2 -0.3h1m-0.3 0.1h1m-0.4 -0.7h1m-1 0.8h1m-0.8 -0.3h1m0.1 0h1m-0.8 -0.2h1m6.3 0.1h1m-0.5 0.1h1m-0.1 -0.1h1m0.6 0.5h1m-0.5 -0.6h1m1 0.6h1m0.3 -0.3h1m-0.4 -0.1h1m0.5 0.4h1m4.6 -0.7h1m-0.9 -0.1h1m1.4 0h1m0.8 0.8h1m3.1 -0.4h1m-0.1 0.3h1m-0.9 -0.2h1m0 -0.3h1m0.2 -0.2h1m-0.9 0.7h1m-0.9 -0.2h1m0.7 0.4h1m-0.2 0h1m-0.6 -0.4h1m-56 0.9h1m-1 0.4h1m3.3 -0.2h1m-0.1 0h1m-0.1 -0.2h1m-0.8 -0.3h1m-1 0.2h1m-0.6 -0.4h1m-0.1 1h1m-1 -0.2h1m-0.4 -0.5h1m-0.6 0.2h1m-0.7 -0.4h1m0.2 0.3h1m-0.9 -0.3h1m0.5 0.3h1m3.4 -0.2h1m-0.8 0h1m-0.9 0.7h1m2.6 -0.4h1m0.9 0.2h1m-0.5 -0.1h1m-0.2 -0.4h1m-0.7 -0.1h1m1.3 0.8h1m-0.7 -0.8h1m0.3 -0.1h1m2.2 0.9h1m1.6 0h1m-0.9 0h1m-0.7 -0.7h1m2.1 0.3h1m-0.7 0.1h1m-0.8 0h1m0.5 -0.1h1m9.1 0.3h1m-0.1 -0.2h1m-0.8 -0.2h1m0.7 -0.3h1m-0.9 0.3h1m0.9 0.3h1m-0.4 -0.3h1m-54.7 1.4h1m0.5 0.1h1m0.2 -0.7h1m-0.5 0.7h1m0.4 -0.3h1m0.2 0h1m0.3 -0.4h1m-0.7 -0.1h1m-0.5 0.1h1m0 0.3h1m-0.7 0.4h1m0.6 0.1h1m0.7 -0.6h1m-0.6 -0.4h1m-0.9 0h1m-0.4 0.8h1m-0.5 0.2h1m-0.7 0h1m-0.2 -0.3h1m-1 0.2h1m-0.7 -0.5h1m-0.7 -0.3h1m-0.9 -0.1h1m-0.4 0.2h1m-0.1 0.1h1m-0.6 0.6h1m-0.7 -0.3h1m-0.4 -0.1h1m-0.4 0.1h1m0.3 -0.6h1m-0.8 0.8h1m1.5 -0.2h1m-0.8 0.3h1m-0.8 -0.6h1m-0.5 0.2h1m-0.8 0.4h1m0.7 -0.1h1m-0.1 0.1h1m-0.1 -0.2h1m1.7 -0.3h1m1.1 0.6h1m-0.9 0h1m0.7 -0.3h1m1 0h1m-0.7 -0.5h1m-0.7 0.3h1m1.4 -0.3h1m-0.6 0.2h1m7.9 0.3h1m-0.3 0h1m-0.9 -0.1h1m-0.9 -0.3h1m-0.1 0.1h1m-0.1 0.2h1m0.1 0.1h1m-0.8 0.1h1m2.6 -0.4h1m-60 1.3h1m0.2 -0.4h1m0.5 0.1h1m1.5 0.3h1m2.3 -0.7h1m-0.7 0.2h1m-0.5 0.6h1m-0.1 -0.2h1m-0.4 -0.3h1m-0.7 0.6h1m0.2 0.1h1m-0.8 -0.3h1m-1 -0.3h1m-0.2 0.4h1m0.2 -0.5h1m0.6 0.7h1m-0.9 -1h1m-0.7 0.8h1m-0.8 -0.1h1m-0.7 -0.2h1m-1 -0.1h1m0.6 0.2h1m-0.1 -0.4h1m-0.2 0h1m-0.2 0.2h1m-0.8 0.1h1m-0.3 -0.4h1m0.3 0.1h1m-0.3 0.3h1m-0.7 0.4h1m-0.9 -0.9h1m0.3 0.1h1m-0.1 0.4h1m0.3 0.3h1m-0.2 -0.4h1m0.4 -0.2h1m1.2 0.1h1m-0.6 0.6h1m-0.7 -0.7h1m0.9 0.7h1m1.5 0.1h1m-0.7 0h1m-0.6 -0.1h1m0.9 -0.1h1m-1 -0.6h1m-0.6 0.3h1m8.8 0h1m0.4 0.3h1m0 -0.6h1m0.1 -0.1h1m-0.5 0h1m-0.8 0.3h1m-0.9 0.3h1m0 0.1h1m0.1 -0.4h1m-0.5 -0.1h1m-0.2 0h1m1.8 0.6h1m-58.1 0.2h1m0.8 0.6h1m1 -0.1h1m0.3 -0.5h1m2.1 0h1m-0.6 0.6h1m1.1 0.1h1m-0.4 -0.2h1m-0.9 0h1m-0.6 0h1m0.9 -0.2h1m-0.6 0.3h1m1.2 0.2h1m0.1 -0.6h1m-0.8 -0.2h1m-0.3 0h1m-0.7 0h1m-0.7 0h1m0.7 0.5h1m-0.1 0.3h1m-1 -0.7h1m-0.9 -0.1h1m-1 0.3h1m-0.3 -0.3h1m-1 0.9h1m-0.4 -1h1m-0.5 0.9h1m-0.8 -0.9h1m2.1 0.5h1m0.6 -0.3h1m-0.7 0.1h1m2.4 -0.2h1m1.2 0h1m-0.9 -0.1h1m0 0.9h1m-0.8 -0.8h1m-0.6 0.8h1m-0.3 -0.8h1m-0.9 0.6h1m10.4 -0.6h1m-1 0.1h1m0.5 0.5h1m-0.2 0.1h1m0 -0.1h1m0.5 -0.1h1m-0.6 0.2h1m-0.2 -0.1h1m-0.4 0.2h1m-0.9 -0.4h1m0.1 -0.2h1m-60.6 1.4h1m-0.4 -0.7h1m-0.6 0.8h1m0.1 -0.7h1m-1 0.7h1m0.5 0h1m1 0.1h1m1.7 -0.1h1m0 -0.1h1m-0.4 -0.6h1m-0.9 0.4h1m2.2 -0.3h1m-0.9 0.4h1m-1 -0.1h1m0.8 0.3h1m1.7 -0.7h1m2.2 -0.1h1m1.1 0.3h1m-0.1 0.5h1m0.1 -0.6h1m-0.9 -0.1h1m-0.3 0.8h1m-0.8 -0.6h1m0.1 -0.3h1m1.2 0.7h1m4.7 -0.2h1m-0.5 0.1h1m0.1 0.3h1m-0.8 -0.1h1m-0.1 -0.3h1m2.1 0.3h1m-0.8 -0.3h1m-0.5 -0.1h1m3.5 0.3h1m0.9 0.3h1m0.9 -0.5h1m-0.8 0.1h1m0.1 -0.4h1m0 0.3h1m-1 0.2h1m-0.2 -0.4h1m-0.6 -0.2h1m0 0.2h1m-1 0.7h1m0 -0.5h1m-0.9 0.5h1m0.4 -0.9h1m-0.7 0.6h1m-1 -0.4h1m-0.6 -0.2h1m-0.9 0.1h1m-1 0.6h1m-0.9 -0.5h1m0 0.6h1m-0.6 -0.9h1m0.9 0.8h1m-0.6 -0.2h1m-0.9 -0.2h1m-0.7 -0.3h1m0.3 0.1h1m-65.9 1.4h1m0.9 -0.2h1m-0.8 0.1h1m-0.1 0h1m-0.9 0h1m-0.8 0h1m0 0.1h1m-0.8 0h1m-0.5 0h1m-0.9 0.3h1m-0.8 -0.2h1m0.3 -0.5h1m-0.6 0.6h1m2.8 -0.8h1m1.4 0.1h1m-0.9 0h1m-0.1 0.8h1m-0.8 0.1h1m0.3 -0.3h1m1.2 -0.3h1m-0.7 0.5h1m2.4 -0.9h1m2.7 0.2h1m-0.6 0.6h1m-1 -0.2h1m-0.9 -0.3h1m-0.9 0.1h1m0.1 0.3h1m-0.9 0.1h1m-0.7 -0.8h1m-0.8 1h1m-0.7 -0.5h1m-0.7 -0.5h1m-0.8 0.3h1m-1 0.2h1m-0.1 0h1m-0.6 -0.2h1m-0.7 0.3h1m-0.5 -0.1h1m-1 -0.4h1m-0.4 0.6h1m-0.9 -0.5h1m0.5 0.2h1m-0.5 -0.1h1m3.9 0.5h1m-0.9 -0.2h1m-0.8 -0.6h1m0 0.3h1m-0.9 0.5h1m0.5 -0.8h1m1 0.4h1m2.6 0.2h1m0.1 0.2h1m-0.1 -0.4h1m-0.1 0h1m-0.6 0.2h1m-0.2 0.2h1m4.6 -0.4h1m-0.4 -0.1h1m0.2 -0.2h1m0.2 0.9h1m-0.7 -0.6h1m-0.1 -0.2h1m-0.8 0.7h1m-1 -0.5h1m1 0.2h1m-0.5 -0.1h1m-0.2 -0.1h1m-0.2 0h1m-0.3 -0.3h1m-67.5 1.7h1m0.4 -0.6h1m-0.5 -0.2h1m-0.5 0.1h1m0.3 0.6h1m-0.7 -0.6h1m-0.7 0.6h1m-0.9 -0.7h1m-1 0.6h1m0.7 0h1m-0.8 -0.1h1m-0.9 -0.4h1m-0.4 0.3h1m-0.7 0.2h1m-0.7 -0.6h1m0 0.8h1m-0.4 -0.7h1m0.3 0.5h1m-0.8 -0.3h1m-0.8 -0.1h1m-0.5 0.2h1m1.3 -0.2h1m-0.8 0.1h1m0.7 0.1h1m1 0.6h1m-0.3 -0.2h1m-0.1 -0.1h1m2.1 -0.7h1m0.1 0.9h1m0 -0.7h1m0.4 0.1h1m1 0.7h1m0.4 0h1m0.1 -0.6h1m2.8 -0.2h1m1 0.2h1m1.4 0.3h1m4.6 -0.3h1m5.1 -0.3h1m-0.6 0.1h1m3 0.2h1m-0.8 0.5h1m-0.8 -0.1h1m0.4 -0.6h1m-0.1 0.2h1m-0.9 -0.4h1m-0.8 0.2h1m-1 0.3h1m-0.8 -0.4h1m1.1 -0.1h1m-0.9 0.1h1m0.2 0.4h1m-0.5 0h1m-0.2 0.4h1m-0.7 0h1m0.2 -0.3h1m-0.7 0.1h1m-0.5 -0.1h1m-0.8 -0.6h1m-106.8 1.6h1m25.8 -0.3h1m12.8 -0.1h1m1.2 0h1m1.6 0.7h1m-1 -0.7h1m-0.8 -0.1h1m-0.4 0.4h1m-0.7 -0.5h1m0.2 0.9h1m-0.7 0.1h1m-0.1 -0.2h1m4.7 -0.3h1m3.3 -0.4h1m-0.8 0.6h1m0 0.3h1m-0.9 -0.1h1m-0.2 -0.2h1m-0.4 -0.3h1m0.1 0.3h1m2.7 -0.3h1m0.1 0h1m-1 0.2h1m-0.8 -0.3h1m2.7 -0.2h1m-0.9 0.6h1m-0.3 -0.1h1m-0.2 0h1m0.1 0.4h1m-0.3 -0.7h1m1.6 0.1h1m1.3 0.2h1m5 0h1m1 0.1h1m-1 0.1h1m-1 -0.6h1m0.2 0.4h1m0 -0.4h1m-0.3 0.4h1m2.4 -0.3h1m2.8 0h1m0.3 0.7h1m0.5 -0.4h1m-0.4 -0.6h1m-0.8 0h1m-0.5 0.3h1m-0.7 0h1m-0.8 0.2h1m-0.9 -0.4h1m-0.7 0.8h1m-0.9 -0.2h1m-0.6 0h1m-0.9 -0.1h1m-0.4 0h1m-0.6 0h1m-0.8 0.3h1m-0.9 -0.2h1m0 -0.3h1m-108.2 1.3h1m-0.7 -0.5h1m-0.6 0.2h1m-0.6 0.5h1m38.4 -0.1h1m-0.8 -0.5h1m-0.4 0.2h1m1.2 0.4h1m-0.2 -0.1h1m-0.8 -0.2h1m-0.5 0h1m0 0.2h1m-0.9 -0.2h1m-0.3 0.4h1m-0.3 -0.3h1m2.3 -0.2h1m-0.1 -0.3h1m0.5 0.2h1m-0.4 0.4h1m-0.8 0h1m1.1 -0.7h1m-0.2 0.2h1m1 0.1h1m-0.7 -0.2h1m-0.2 0.3h1m-0.1 0.5h1m-0.5 -0.7h1m-0.6 0h1m-0.7 0.2h1m-0.7 -0.1h1m1.5 -0.1h1m-0.5 0h1m-0.9 0.1h1m0 -0.4h1m-0.1 0h1m-0.9 0.9h1m0 0.1h1m-0.6 -0.8h1m-0.6 0.8h1m0.1 -0.5h1m0 0h1m6.3 -0.3h1m1.9 0.1h1m0.6 0.2h1m0.3 0.2h1m0.4 0.1h1m1 -0.6h1m-0.8 0.1h1m0.7 0.2h1m-0.8 -0.5h1m-0.8 0.5h1m2.5 0.5h1m-0.9 -0.5h1m0.8 0.2h1m-0.8 -0.5h1m-0.9 0.2h1m-0.8 0.5h1m-0.8 -0.9h1m1.1 0.4h1m-0.6 -0.1h1m-0.8 0.1h1m-0.5 -0.2h1m-0.8 -0.2h1m-0.8 0.2h1m0 0.3h1m0.9 0.1h1m-0.7 0.3h1m-0.8 -0.3h1m0.3 -0.6h1m-0.8 0.6h1m0.1 0h1m0.1 0.4h1m-0.5 -0.2h1m-109.8 0.8h1m2 -0.2h1m24.6 -0.1h1m13.3 0.5h1m-0.7 -0.4h1m-0.9 0.4h1m-0.4 0.1h1m-0.9 -0.2h1m-0.9 0.2h1m-0.3 -0.9h1m-0.1 0.5h1m1.3 -0.2h1m4.3 0.5h1m0.3 -0.5h1m-0.2 -0.1h1m1.4 0.4h1m-0.7 0.4h1m-1 -0.7h1m1.2 0.2h1m-0.6 0.1h1m0.4 0.3h1m0 -0.6h1m2.7 0.1h1m1.8 -0.2h1m0.5 0.6h1m1.9 -0.2h1m0 -0.2h1m-0.2 0.4h1m8.7 -0.3h1m0.1 -0.2h1m-0.7 0.3h1m-0.8 -0.4h1m1.4 0.3h1m0.4 -0.1h1m-1 0.5h1m0.1 -0.5h1m-0.3 -0.1h1m-0.8 0.2h1m0 0.3h1m0.2 0.2h1m-0.4 -0.8h1m-0.6 0.7h1m0.4 -0.5h1m-0.7 -0.4h1m-0.8 0.7h1m-1 -0.4h1m-0.5 0h1m-0.1 0.4h1m-0.1 -0.4h1m-0.2 -0.3h1m-0.3 0h1m-0.2 0.7h1m-0.8 0.1h1m-1 -0.5h1m-0.4 -0.2h1m-0.6 0.6h1m-0.1 -0.2h1m-0.8 -0.4h1m-0.8 0.4h1m-1 0.5h1m0.2 -0.7h1m-0.2 0.7h1m-1 -0.2h1m-0.9 -0.7h1m-0.9 0.1h1m-0.9 -0.1h1m-0.5 0.8h1m-0.7 0h1m-0.1 -0.2h1m-0.5 0.3h1m-0.8 -0.2h1m-0.7 0.1h1m-111.2 0.7h1m-1 0h1m0.2 -0.2h1m-0.6 0.2h1m-0.8 0h1m37.8 -0.1h1m0.6 0.4h1m-0.9 -0.5h1m-0.8 0.4h1m-0.3 -0.1h1m-0.3 -0.3h1m-0.2 -0.4h1m4.8 0.3h1m0.2 0.2h1m0.4 -0.3h1m-0.7 -0.1h1m0 0.8h1m3.8 0h1m-0.9 -0.7h1m-0.6 0.8h1m0.7 -0.7h1m-0.4 -0.1h1m-0.8 0.2h1m-0.7 0.5h1m-0.3 -0.2h1m-1 -0.5h1m0.9 0.2h1m1.8 0h1m-0.6 0.1h1m5.3 0h1m0.7 0h1m-0.1 0h1m-0.2 0h1m-0.9 -0.1h1m0.4 -0.1h1m-0.1 0.1h1m-0.5 0h1m1.6 0.4h1m-0.8 -0.6h1m1.4 0.3h1m2.8 -0.3h1m-1 0h1m-0.3 -0.1h1m-0.6 0h1m0.1 0.6h1m-0.4 0.3h1m-0.8 -0.1h1m-0.9 -0.1h1m-0.7 -0.6h1m-1 0.8h1m-0.6 -0.2h1m-0.2 0h1m-0.6 -0.3h1m-0.6 0.4h1m-0.9 -0.8h1m0.5 0.3h1m0.1 0.2h1m-1 -0.1h1m-0.3 -0.1h1m-0.2 -0.4h1m-0.4 0.6h1m0.1 -0.5h1m-0.9 0.5h1m0.4 0.2h1m-0.6 -0.4h1m-0.4 0.6h1m-0.2 -0.4h1m-0.5 -0.4h1m-0.4 0.7h1m-0.8 -0.5h1m-0.8 0.1h1m-0.3 0.3h1m-0.2 -0.7h1m-0.7 0.1h1m-0.4 0.5h1m-0.3 0.2h1m-0.3 -0.5h1m-107.9 1.1h1m36.6 0.2h1m-0.4 0h1m-0.3 0.1h1m-1 -0.6h1m0.9 0.7h1m-0.9 -0.3h1m0.5 0.2h1m-0.6 -0.7h1m0 -0.1h1m-0.8 0.8h1m3.4 -0.8h1m2.1 0.3h1m-0.2 0.4h1m-0.7 0.1h1m-0.8 -0.7h1m0.1 0.2h1m0 0.5h1m-0.4 -0.4h1m-1 -0.3h1m-0.6 0.4h1m0.4 0.3h1m-0.5 -0.7h1m0 0.5h1m2.2 0h1m3.7 -0.4h1m7.3 0.1h1m5 0.4h1m1.9 0.3h1m-0.1 -0.9h1m-0.7 0.2h1m-0.8 0.5h1m0.3 -0.1h1m1.2 -0.3h1m-0.6 0.3h1m-0.7 0.1h1m-0.9 0.2h1m-0.2 -0.8h1m-0.6 0.6h1m-0.3 0.1h1m-0.6 -0.1h1m-0.8 -0.2h1m0.8 -0.3h1m-0.7 0.2h1m1 -0.5h1m-0.7 0.6h1m-0.9 0.2h1m0.3 -0.5h1m-0.6 -0.2h1m1.8 0.9h1m-0.8 -0.7h1m-0.9 0h1m-0.9 0.6h1m-0.5 0h1m-0.6 -0.8h1m-0.3 0.1h1m-0.9 0.6h1m2.2 -0.6h1m-108.9 1.6h1m-0.8 0.2h1m0.7 -0.4h1m36.1 0.3h1m0.1 -0.7h1m0.5 0.6h1m5.2 -0.1h1m1.9 -0.2h1m-0.7 0.5h1m-0.4 -0.7h1m-0.5 0.5h1m0.5 0.1h1m-0.8 -0.2h1m-0.9 -0.2h1m1.3 0.3h1m-0.9 0h1m1.4 -0.3h1m3.7 -0.4h1m2.1 0.4h1m-0.1 -0.5h1m2 0.5h1m-0.4 0.2h1m3.5 -0.3h1m1 -0.3h1m4.9 0.8h1m2.9 -0.8h1m-0.8 -0.1h1m-0.4 0.2h1m-0.5 0.6h1m0.7 -0.3h1m-0.5 0.2h1m0.6 -0.5h1m1.1 0.5h1m-0.4 -0.5h1m-0.5 0.5h1m1.9 -0.3h1m2 0.5h1m0.1 -0.7h1m-0.1 -0.1h1m0.5 0.9h1m-0.3 -0.9h1m-0.7 0.3h1m-0.8 0h1m-0.2 0.1h1m-1 -0.1h1m0.1 -0.2h1m-0.6 0.1h1m-0.2 0.2h1m-110.9 1.1h1m1.2 -0.3h1m-0.5 -0.3h1m34.1 0.7h1m-0.6 -0.4h1m5.9 0.1h1m1.4 -0.4h1m1.8 0.5h1m-0.4 0.3h1m0.1 -0.8h1m-1 0.1h1m0.6 0.1h1m-0.5 0h1m0.4 0.2h1m-0.7 0.4h1m0.4 -0.6h1m-0.6 -0.2h1m-0.1 0.8h1m-0.6 -0.1h1m1 -0.1h1m-0.7 0.1h1m-0.5 -0.1h1m-0.8 0.2h1m0 -0.5h1m0.3 -0.2h1m-0.6 0.5h1m-0.6 -0.1h1m2.7 -0.2h1m-0.5 0.2h1m13.3 0.3h1m0.2 -0.3h1m-0.1 0.3h1m1.9 -0.5h1m-0.2 0h1m-0.9 -0.1h1m2.6 0.1h1m-0.7 0.3h1m-1 -0.6h1m-0.8 0.8h1m-0.9 -0.5h1m-0.9 0.4h1m-0.7 0.1h1m-0.3 -0.4h1m1.6 -0.3h1m0.4 0.8h1m2.4 -0.7h1m0.6 0h1m-0.3 0.7h1m5.2 -0.8h1m-110.9 1.7h1m-0.5 -0.4h1m0.6 -0.3h1m32.3 0.6h1m0.4 -0.2h1m2.4 0.3h1m1.7 -0.6h1m0.3 -0.1h1m-0.3 0.2h1m1 0.2h1m3.7 -0.2h1m2.2 0.5h1m0 -0.1h1m0.6 0.2h1m-0.9 -0.4h1m-0.4 0h1m0.6 0.3h1m4.2 -0.2h1m-0.8 -0.6h1m5.9 0.1h1m2.2 0.7h1m6.2 -0.5h1m-0.3 0.2h1m5.2 -0.5h1m0 0.3h1m-1 0.3h1m-0.7 0h1m-0.9 0h1m-0.7 0h1m-0.4 0h1m-0.4 0.2h1m-0.9 0.2h1m-0.4 -0.8h1m-0.2 0.1h1m0.1 0.2h1m0 0.3h1m-0.5 0.2h1m-0.5 -0.7h1m0 0.6h1m5.4 0.1h1m0.7 -0.9h1m2.8 0.2h1m-110.8 0.9h1m35.4 0.1h1m2.3 0.4h1m1.4 -0.2h1m1.4 -0.3h1m4.8 0.2h1m-0.4 0.2h1m-0.5 -0.1h1m0.7 -0.1h1m0.9 -0.2h1m1.3 -0.2h1m0.2 0.5h1m1.5 -0.1h1m-0.7 -0.2h1m-0.7 0.7h1m-0.4 -0.1h1m0.2 -0.5h1m-0.8 0.6h1m-0.4 -0.6h1m-0.2 -0.2h1m-0.4 0.3h1m-0.3 0.1h1m0.2 0.4h1m3.3 -0.2h1m0.9 0.2h1m5.6 -0.6h1m2.7 -0.2h1m0.7 0.8h1m0.9 -0.7h1m-0.7 -0.1h1m0.1 0.4h1m1 0.4h1m-0.3 -0.7h1m0.4 0.2h1m-0.2 0h1m0.3 0.5h1m0 -0.4h1m0.7 -0.3h1m2.5 0.6h1m0.4 0h1m1.4 0h1m-0.7 -0.6h1m-0.1 0.8h1m1.1 -0.2h1m-0.7 -0.1h1m-0.5 -0.6h1m-0.6 0.3h1m-111.8 1.3h1m0 0.1h1m0.3 -0.6h1m-0.9 0.4h1m33.4 -0.1h1m0.2 0.5h1m-0.1 -0.1h1m-1 0h1m2.7 -0.4h1m-0.6 0.1h1m-0.7 -0.5h1m7.2 0.9h1m-0.6 -0.1h1m-0.8 -0.7h1m-0.9 0.7h1m1.1 -0.7h1m0.2 0.2h1m2.1 0.1h1m-0.5 0.2h1m1.5 -0.2h1m0.1 0h1m0.2 0.1h1m0.4 0h1m-0.8 -0.1h1m1.3 -0.1h1m2.9 0.3h1m0.5 0h1m0.8 0h1m2 0.2h1m2.2 -0.6h1m-0.8 0.5h1m2.3 -0.3h1m2 0.4h1m-0.8 -0.8h1m-0.3 0.5h1m0 0.3h1m-0.3 -0.6h1m-0.9 0.6h1m-0.3 -0.1h1m-0.3 0h1m1.3 -0.3h1m-0.8 0.2h1m2.5 -0.1h1m0.1 -0.3h1m3 0.3h1m-1 0h1m0 0.3h1m4.8 -0.3h1m-0.8 -0.5h1m0.2 0.5h1m-79.4 1.3h1m-0.5 -0.4h1m-0.7 -0.1h1m-0.8 -0.3h1m-0.8 0.2h1m-0.5 0.3h1m-0.8 0.3h1m-0.6 0h1m-0.6 -0.8h1m-1 0.7h1m-0.6 0h1m-0.7 -0.5h1m-0.8 -0.1h1m-0.4 0.7h1m-0.8 -0.7h1m-0.2 0.4h1m-0.8 -0.3h1m1.9 0.5h1m0.9 -0.4h1m4.2 -0.3h1m0.6 0.3h1m3.3 -0.1h1m-0.8 -0.1h1m0.2 0h1m-0.2 0.2h1m-0.2 0.1h1m0.5 0h1m0.1 0.4h1m1.1 -0.1h1m-0.7 -0.3h1m-0.7 0.1h1m0 0.2h1m-0.7 -0.7h1m-0.8 0.6h1m-0.8 -0.2h1m-0.7 -0.3h1m-0.2 0.3h1m0.1 0.1h1m-0.9 -0.3h1m8.4 0h1m-0.9 0.5h1m3.7 -0.6h1m-0.9 -0.1h1m1 0.4h1m5.3 -0.4h1m-0.2 0.3h1m0.1 0h1m-0.4 -0.1h1m-0.4 0.2h1m1.3 -0.3h1m-0.8 0.7h1m-0.5 -0.8h1m-0.7 0.3h1m-0.4 0.3h1m-0.4 -0.3h1m-0.5 0.6h1m0.4 -0.8h1m0.8 0.5h1m1 -0.3h1m4.3 0.2h1m-76.3 0.8h1m-0.9 0.4h1m-0.6 -0.7h1m-0.5 0.6h1m-0.7 0.2h1m-0.9 -0.6h1m-0.3 0.1h1m0.2 0.4h1m-0.8 -0.1h1m0.3 0.3h1m0.8 -0.9h1m3.2 0.9h1m2 0h1m-0.7 -0.9h1m-0.3 0.2h1m-1 0.1h1m0.4 0.3h1m0.1 0.1h1m4.5 -0.5h1m-0.5 -0.2h1m-0.7 0.2h1m0.5 0.1h1m-0.7 0.3h1m0.1 -0.2h1m0.4 0.4h1m-0.4 0h1m-0.7 -0.8h1m-1 0.6h1m1.3 -0.6h1m-0.7 0.1h1m-0.7 0.7h1m0.2 0h1m1.9 -0.9h1m-0.5 0.1h1m-0.1 0.2h1m-0.2 -0.2h1m3 0.8h1m1.9 -0.2h1m0.1 -0.6h1m-0.6 0.8h1m-0.2 -0.4h1m-1 0h1m0.4 0h1m-0.9 0.2h1m-0.7 0.2h1m2.1 -0.5h1m7.4 -0.4h1m-0.4 0.9h1m-0.8 -0.1h1m-0.5 -0.5h1m-0.2 0.1h1m0 -0.3h1m0.8 0.4h1m-0.9 0.1h1m0.2 -0.3h1m2.6 0.1h1m1.4 0h1m0.8 0.2h1m-77.8 1.2h1m-0.5 0.2h1m-0.5 -0.8h1m0.1 0.1h1m-1 0.6h1m-0.6 0h1m0.1 -0.7h1m-0.9 0.4h1m-0.4 0h1m-0.9 -0.4h1m-0.7 0h1m-0.7 0.3h1m-0.8 0.1h1m-0.6 -0.3h1m-0.3 0.3h1m-0.2 0.2h1m-0.8 -0.5h1m-0.4 -0.1h1m-0.6 0.5h1m-0.4 -0.4h1m0.1 -0.2h1m0.2 0.6h1m-0.4 -0.1h1m2.5 -0.3h1m-0.8 0.4h1m1.2 -0.7h1m-0.3 0.7h1m0.8 0.2h1m-0.4 -0.4h1m1.2 -0.4h1m2.2 0.5h1m0 -0.2h1m1.1 0.2h1m-0.3 0.3h1m-0.1 0.1h1m-0.7 -0.9h1m0.2 0.3h1m-0.6 0.3h1m0.5 -0.3h1m-0.2 0.4h1m1.8 -0.2h1m-1 0.1h1m3.6 -0.5h1m1.1 -0.2h1m0.1 0.4h1m0.2 0.1h1m1.3 0.3h1m-1 -0.5h1m-0.7 -0.1h1m0.8 -0.2h1m-0.5 0.4h1m1.2 0.5h1m0 -0.7h1m2.4 0.1h1m0.4 0.5h1m0.4 -0.4h1m-0.9 -0.2h1m-0.4 0.7h1m-0.4 -0.8h1m0.2 0.3h1m1.9 -0.1h1m-0.9 0.5h1m0.3 -0.2h1m-0.7 0.4h1m-0.9 -0.6h1m-0.9 0h1m-1 0h1m-0.9 -0.4h1m0.7 0.2h1m-0.5 -0.2h1m-0.8 0.9h1m-0.2 -0.1h1m2.9 -0.6h1m2.3 -0.2h1m1 0.3h1m-82.5 1.3h1m0.7 -0.4h1m0.7 0.4h1m0.7 0.3h1m-0.7 -0.1h1m-0.1 -0.5h1m-0.2 0h1m0.4 0.6h1m0.8 -0.8h1m-0.1 0.5h1m1.6 -0.2h1m-0.2 0.3h1m-0.9 -0.1h1m-0.9 0.1h1m-0.6 -0.6h1m-0.1 0h1m-0.3 0.7h1m-0.8 -0.1h1m-0.3 0.2h1m-0.4 0h1m-0.5 -0.6h1m-0.8 -0.1h1m-0.8 0.7h1m1 -0.3h1m-0.6 0.2h1m-0.2 0h1m0.3 0.1h1m-0.5 0h1m0.2 -0.1h1m1.4 -0.2h1m-1 -0.2h1m-0.5 0.2h1m-0.9 -0.1h1m2 -0.3h1m-0.9 0.6h1m-0.6 -0.3h1m0.1 -0.2h1m-0.5 0.1h1m2.2 -0.3h1m-0.8 0.5h1m-0.5 0.4h1m-0.8 -0.2h1m1.6 -0.6h1m2 0h1m4.8 0.4h1m1.1 -0.3h1m-0.8 0.5h1m9 -0.5h1m0 -0.1h1m-0.2 0.5h1m-0.5 0.1h1m-0.4 0.1h1m-0.7 -0.8h1m0.6 -0.1h1m0.5 0.2h1m2.6 0.6h1m1.1 -0.4h1m-0.8 0.5h1m-0.3 -0.3h1m1.3 0.3h1m-0.8 -0.2h1m-0.9 -0.6h1m1.8 0h1m-81.2 1.1h1m-0.2 0.2h1m-0.1 0h1m-0.5 0.1h1m-0.9 -0.2h1m-0.2 0.5h1m0.7 -0.3h1m-0.8 0.3h1m0.3 -0.1h1m-0.8 -0.5h1m-0.8 0.8h1m2.9 -0.7h1m-0.7 0.6h1m-1 -0.3h1m-0.9 -0.4h1m-0.6 0.6h1m-0.8 -0.7h1m-0.9 0.3h1m0.2 0.1h1m-1 -0.5h1m-0.8 0.8h1m-0.8 -0.1h1m-0.8 0.1h1m-0.8 -0.1h1m-1 0.2h1m-0.9 0.1h1m-0.9 -0.1h1m-0.8 -0.6h1m-0.8 0.1h1m-0.6 0.1h1m-0.3 0.3h1m-0.8 -0.3h1m-0.7 0.1h1m-1 0.1h1m-0.7 -0.6h1m-0.8 0.4h1m-0.8 0.4h1m-0.9 -0.6h1m-0.7 -0.1h1m-0.8 0.4h1m-0.3 -0.3h1m-0.4 0.3h1m-0.5 0.3h1m-0.7 -0.3h1m-0.8 -0.5h1m-0.8 0.1h1m-0.2 0.4h1m-0.9 0.1h1m0.4 0h1m-0.6 0.1h1m-0.4 0h1m-0.2 -0.7h1m0.6 0.7h1m1 -0.3h1m0.7 0.3h1m-0.4 -0.8h1m0 0.4h1m1.2 -0.3h1m1.2 0h1m0 0.5h1m-0.9 -0.5h1m0.2 0.5h1m-0.7 0h1m-0.3 -0.3h1m0 0.2h1m0.4 0.2h1m4.3 -0.1h1m0.8 -0.1h1m0.5 -0.2h1m0.3 0.7h1m0.6 -0.9h1m2.8 0.6h1m2.1 0h1m3 -0.1h1m-0.1 -0.3h1m-0.5 0.3h1m-0.7 -0.6h1m0.6 0h1m3 0.9h1m0.6 -0.4h1m0.8 0.2h1m0.1 -0.3h1m4.8 -0.3h1m-80.7 1.7h1m-1 -0.6h1m0.6 0.5h1m0.5 0.1h1m-0.6 -0.4h1m0.8 0.3h1m-0.6 -0.5h1m0.5 0.3h1m-0.4 -0.5h1m-0.5 0.2h1m-0.6 0.2h1m-0.5 -0.3h1m-0.6 0.2h1m0 0.5h1m-0.9 0.2h1m-0.9 -0.3h1m-0.9 -0.6h1m-0.9 0.2h1m-0.4 -0.1h1m-0.7 0.4h1m-0.2 0h1m-0.4 -0.5h1m-1 0.3h1m-0.8 -0.4h1m-0.1 0.2h1m-0.9 0.1h1m-1 -0.2h1m-0.6 0.7h1m-0.9 -0.2h1m-0.9 0.1h1m-1 -0.7h1m-0.6 0.9h1m-1 -0.4h1m-1 -0.2h1m-0.6 0.6h1m-0.6 -0.6h1m-0.4 0.2h1m-1 0.1h1m-0.9 -0.1h1m-0.9 -0.3h1m-0.3 0.2h1m-0.7 -0.3h1m-0.9 0.9h1m-0.8 -0.3h1m-0.6 0.2h1m-0.4 -0.3h1m-0.1 -0.4h1m-0.5 0.7h1m-0.9 -0.8h1m-0.7 0h1m-0.9 0.4h1m-0.9 -0.3h1m-0.9 0.4h1m-0.3 0.2h1m-0.7 0h1m-0.5 0.1h1m4.8 -0.5h1m0.4 0.5h1m4.7 -0.9h1m0.3 0.8h1m0.7 -0.3h1m-0.4 -0.4h1m0.5 0.2h1m-0.4 0.4h1m-0.7 -0.5h1m-1 0.4h1m-0.4 -0.3h1m0.9 0.1h1m0.4 0h1m-0.2 0.4h1m-0.6 0.1h1m1.9 -0.5h1m0 0.1h1m5 -0.1h1m4.5 -0.2h1m0.5 0.1h1m0.7 -0.2h1m-0.8 0.6h1m0.4 -0.2h1m-0.2 -0.4h1m-0.5 0.1h1m4.8 0h1m-0.8 0.2h1m0.8 0.5h1m0.1 -0.3h1m0.1 -0.3h1m0.6 0.2h1m-0.8 -0.4h1m-1 0.4h1m-84.4 1.3h1m-0.8 -0.1h1m0.1 -0.2h1m0.3 0.4h1m0.2 -0.8h1m-0.9 0.7h1m-0.9 -0.6h1m-0.7 0h1m-0.7 -0.1h1m0.5 0.1h1m-0.6 0.6h1m-0.9 -0.5h1m-0.3 -0.2h1m-0.7 0.3h1m-0.9 0.5h1m-0.4 -0.1h1m-0.4 0.2h1m-0.6 -0.8h1m-0.2 0.4h1m-0.1 -0.6h1m-0.6 0.6h1m0.2 0.1h1m-0.6 0h1m-1 -0.1h1m-0.7 0.3h1m-0.8 -0.8h1m-0.1 0.8h1m-0.7 -0.4h1m-0.2 0.1h1m-0.6 -0.4h1m-0.9 0.3h1m-0.3 -0.3h1m-0.7 -0.1h1m-0.9 0.6h1m-0.7 -0.3h1m0.4 0.6h1m-0.9 -0.7h1m-1 0.5h1m-0.7 -0.6h1m-0.3 -0.1h1m-0.8 0.2h1m-1 0.4h1m-0.9 -0.1h1m-0.9 -0.4h1m-0.8 0.2h1m-0.9 -0.2h1m-0.4 0.5h1m-0.7 -0.3h1m-0.5 -0.2h1m-0.8 0.6h1m-0.9 -0.7h1m-0.9 0h1m-0.7 0.7h1m-0.9 -0.4h1m0.9 -0.4h1m-0.5 0.7h1m-1 -0.2h1m-0.9 0h1m2.4 0h1m-0.2 -0.1h1m-0.1 -0.1h1m-0.8 0.7h1m-0.5 -0.4h1m1.4 0h1m0.9 0.1h1m-0.6 0.3h1m3.6 -0.3h1m-0.9 0h1m2.1 -0.3h1m-0.5 0h1m-0.9 -0.3h1m4.7 0.8h1m4.4 -0.1h1m-0.8 -0.1h1m-0.6 -0.6h1m-0.4 0.8h1m0.2 -0.8h1m-0.2 0.6h1m1.1 -0.2h1m1.1 0.1h1m1.2 -0.5h1m-0.6 0.2h1m-0.8 -0.3h1m-0.9 0.7h1m-0.6 0.2h1m1.2 -0.4h1m-0.7 0.4h1m0.5 -0.3h1m0 0.1h1m3.4 -0.2h1m0.4 -0.3h1m0 0h1m-0.4 0h1m-0.9 0.1h1m-0.9 0.2h1m0.3 -0.4h1m-0.6 0.4h1m-0.6 -0.4h1m2.6 0.3h1m-0.9 0.4h1m-85.1 0.5h1m-0.1 0.1h1m-0.6 0.3h1m-0.8 -0.5h1m0 0h1m0.1 0.2h1m-0.7 0.2h1m-0.9 0.1h1m-0.6 0.3h1m-0.2 -0.2h1m-0.7 -0.3h1m0.2 -0.4h1m-0.5 0.4h1m-0.3 -0.1h1m-0.3 0.4h1m-0.7 -0.5h1m-0.7 -0.2h1m0.9 0.5h1m-0.3 -0.3h1m-0.8 -0.3h1m-0.9 0.8h1m-0.7 -0.2h1m-1 0.3h1m-1 -0.3h1m-0.8 -0.5h1m-1 0h1m-0.9 0.4h1m-1 -0.5h1m-0.8 0.6h1m-0.5 -0.2h1m-0.8 0.3h1m-1 -0.4h1m-0.9 -0.1h1m-0.9 0.5h1m-1 -0.6h1m-1 0.6h1m-0.8 0.3h1m-0.8 -0.7h1m-0.9 0.6h1m-0.7 -0.1h1m-1 0h1m-0.9 -0.7h1m-0.9 0.6h1m-0.9 -0.1h1m-0.6 0.3h1m-0.8 -0.1h1m-1 -0.1h1m-0.3 -0.2h1m-0.9 0.3h1m-0.9 -0.7h1m-0.6 0h1m-1 0.5h1m-0.9 -0.2h1m-0.9 -0.3h1m-1 0.2h1m-0.5 0.2h1m-0.9 0.3h1m-0.9 -0.7h1m-0.6 0.6h1m-0.8 0.1h1m-1 -0.3h1m0.1 -0.2h1m0.3 0.4h1m-0.7 -0.2h1m-0.9 0.2h1m-0.4 0.1h1m-0.3 -0.8h1m-1 0.2h1m0 0.6h1m-0.3 -0.3h1m-0.5 -0.1h1m-0.2 0.5h1m-0.3 0h1m0.8 -0.6h1m3.4 0.6h1m-0.1 -0.5h1m-1 -0.1h1m0.5 0.5h1m1.5 -0.1h1m-0.3 -0.5h1m1.1 0.2h1m0.1 0h1m-0.2 -0.1h1m-0.2 -0.2h1m-0.3 0.8h1m-0.1 -0.2h1m-0.9 -0.5h1m0.6 0.5h1m0.6 -0.1h1m-0.4 -0.3h1m0.8 0.6h1m-0.5 -0.4h1m7.8 0.3h1m0.1 -0.7h1m-1 0.1h1m0.9 0.7h1m-0.2 -0.5h1m1.2 -0.2h1m-0.7 -0.1h1m-0.7 0.1h1m-0.5 0.8h1m-0.9 -0.3h1m-0.9 -0.5h1m1.3 0.7h1m-0.4 -0.5h1m-0.7 0.2h1m-0.4 -0.6h1m0.1 0.9h1m0 -0.7h1m-0.4 0.7h1m-0.7 -0.6h1m0.1 0.1h1m0.4 -0.4h1m1.2 0.2h1m-0.6 0.7h1m0.9 -0.9h1m2.3 0.7h1m-0.9 -0.2h1m-85.2 1h1m0.5 0h1m-0.9 0.4h1m-0.3 -0.5h1m-0.2 0h1m-0.2 0.2h1m-0.7 -0.5h1m-0.2 0.2h1m-1 -0.1h1m0.6 0.5h1m-0.8 -0.6h1m-0.2 0.7h1m-0.9 -0.1h1m-0.6 -0.5h1m-1 0.1h1m-0.7 0.1h1m-0.7 -0.3h1m-0.8 0.1h1m-0.5 0.3h1m0.7 0.1h1m-0.3 -0.4h1m-0.7 0.8h1m-0.9 -0.8h1m-0.6 0.2h1m-0.5 0.4h1m-0.9 -0.7h1m-0.5 0.1h1m-0.9 0.6h1m-1 0.1h1m-1 -0.1h1m-0.8 -0.2h1m-0.9 0.3h1m-0.8 -0.3h1m-0.7 -0.6h1m-0.9 0h1m-0.9 0.8h1m-0.9 -0.4h1m-0.9 0.3h1m-0.8 -0.2h1m-0.7 0.5h1m-0.4 -0.8h1m-0.4 0.1h1m-0.9 0.2h1m-0.9 0.3h1m-0.9 -0.7h1m-0.9 0.6h1m-0.8 -0.6h1m-0.8 0.3h1m-1 0.2h1m-0.8 -0.4h1m-0.8 0.2h1m-1 0.2h1m-0.8 -0.4h1m-0.2 0.4h1m-0.6 -0.6h1m-0.8 0.2h1m-0.5 -0.2h1m-0.8 0.5h1m-0.8 -0.2h1m1.1 -0.1h1m-0.8 0.7h1m-0.8 -0.1h1m1.1 -0.5h1m-0.8 -0.2h1m4.9 0.5h1m0.4 -0.4h1m0.7 0.7h1m0.3 0h1m-0.3 -0.9h1m3.1 0.3h1m0.7 -0.2h1m1 0.5h1m-0.4 -0.1h1m-0.1 0.1h1m1.3 0.3h1m-0.8 0h1m-0.8 -0.1h1m-0.9 0h1m-0.8 -0.7h1m-0.9 0.2h1m-0.8 0h1m-1 0.5h1m-0.9 0h1m-0.7 0.2h1m-0.7 -0.2h1m-0.7 -0.1h1m-1 -0.1h1m-0.7 0.3h1m-0.9 -0.6h1m-1 0h1m-1 0.6h1m-0.7 -0.3h1m-0.4 0h1m-0.6 -0.3h1m-0.4 0h1m-0.4 0.2h1m-0.5 0h1m-0.9 0.2h1m-0.4 -0.7h1m1 1h1m3.1 -0.2h1m-0.6 -0.3h1m1.8 -0.3h1m-0.2 0.7h1m0.9 -0.2h1m0.5 -0.3h1m-0.1 -0.4h1m1.7 0.3h1m1 -0.3h1m1.3 0.3h1m0.3 0.5h1m-0.6 -0.5h1m-0.1 -0.2h1m0.9 0.6h1m2.5 0h1m-83.8 0.4h1m-0.7 0.3h1m-0.7 0.5h1m-0.4 -0.7h1m-0.6 0.1h1m-1 0.4h1m-0.2 -0.2h1m-0.1 0.3h1m1.3 -0.6h1m-0.4 0.6h1m-0.7 -0.4h1m-0.6 0.4h1m-0.4 -0.6h1m-0.5 -0.1h1m-0.9 0.4h1m-0.8 0.3h1m-0.2 -0.7h1m-1 0.2h1m-0.8 -0.2h1m0 0.2h1m-0.8 0.7h1m-0.6 -0.9h1m0.3 0h1m-0.9 0.6h1m-0.4 -0.6h1m-0.6 0.5h1m-0.7 0.1h1m-1 0.3h1m-0.5 -1h1m-1 0.1h1m-0.9 0.1h1m-0.9 0.2h1m-0.9 0.3h1m-0.4 -0.3h1m-1 0.6h1m-0.9 -0.2h1m-0.9 -0.5h1m-0.9 0.3h1m-0.9 0.1h1m-0.9 -0.7h1m-0.8 0.8h1m-0.3 -0.3h1m-0.8 0.2h1m-0.4 0.3h1m-0.6 -0.5h1m0.6 -0.3h1m0.2 0.4h1m2.7 0.1h1m4.5 0.1h1m2.2 -0.1h1m0.8 0.3h1m1.4 -0.2h1m3 -0.6h1m0.3 0.6h1m2.9 -0.1h1m-0.2 0.2h1m-0.5 0h1m-0.2 -0.9h1m-0.7 1h1m-0.6 -0.7h1m-0.8 0.6h1m-0.8 0h1m-0.3 -0.6h1m-0.2 0.4h1m1.9 0.1h1m3.9 0h1m-0.6 -0.4h1m3.9 -0.1h1m2.4 0h1m-0.8 0.3h1m-0.8 0h1m0.2 0.1h1m-0.1 -0.4h1m1.5 0.1h1m-1 0.4h1m0.4 0h1m2.4 -0.5h1m-0.5 0.3h1m-0.8 0.2h1m-0.3 0h1m-0.4 -0.6h1m0.2 0.2h1m-0.5 0.5h1m-0.3 -0.9h1m-82.4 1.5h1m-0.9 0.4h1m0.4 -0.5h1m-0.2 0.2h1m-0.6 0.1h1m-0.8 -0.4h1m0.6 0.2h1m-0.9 0.1h1m-0.4 -0.2h1m-0.8 -0.4h1m-0.5 0.8h1m0.1 0.1h1m0.3 -0.1h1m0.1 -0.2h1m-0.7 -0.5h1m-0.4 0.6h1m0.5 -0.1h1m0 -0.5h1m-1 0.3h1m-1 -0.1h1m-0.6 -0.2h1m-0.4 0.3h1m-1 -0.3h1m-0.5 0h1m-0.7 0.3h1m-0.7 -0.3h1m-0.9 0.2h1m-0.6 -0.1h1m-1 0.7h1m-0.9 -0.8h1m-1 0.5h1m-1 -0.2h1m-0.9 0.3h1m-1 0.3h1m-0.9 -0.6h1m-0.9 -0.3h1m-0.1 0.1h1m-0.7 0.6h1m-0.4 -0.2h1m-0.6 0.3h1m0 -0.7h1m-0.9 0.4h1m-0.4 0h1m0.8 -0.4h1m1.3 0.1h1m8 0.4h1m3.1 -0.3h1m3.6 -0.1h1m0.2 -0.2h1m0.9 0.7h1m-0.7 -0.1h1m-0.5 -0.4h1m-0.1 0.1h1m-0.4 0.5h1m-0.5 -0.5h1m0 0.3h1m-0.9 0.2h1m-0.8 -0.8h1m-0.9 0.3h1m-0.5 0.3h1m-1 0.1h1m-0.7 -0.4h1m-0.6 0.5h1m-1 0.1h1m-0.5 -0.7h1m-0.6 0.3h1m-1 -0.4h1m1.4 0.5h1m-0.9 -0.4h1m-0.4 -0.2h1m2 0.9h1m-0.8 -0.4h1m-0.9 0h1m0 -0.3h1m-0.2 0.3h1m1.2 0.1h1m2.9 0.2h1m3.6 -0.8h1m0.5 0.8h1m0.9 -0.4h1m-0.3 0h1m-0.9 0.1h1m-0.6 -0.2h1m0.8 0.2h1m-0.9 0.1h1m-0.1 0h1m-0.5 -0.1h1m-0.6 0h1m-0.9 0h1m1.2 -0.5h1m-0.1 0.4h1m-82.2 0.9h1m0 0.1h1m-0.3 0.5h1m-0.3 -0.8h1m-0.5 0.2h1m-0.8 0h1m-0.8 -0.1h1m0.3 0.4h1m-0.6 0.1h1m-0.1 0h1m-0.3 0.1h1m-0.2 -0.2h1m0.6 0.1h1m0.1 -0.6h1m0.2 -0.1h1m-0.8 0.3h1m0.1 0h1m-0.4 0.1h1m-1 0h1m-0.9 -0.4h1m-0.5 0h1m-0.6 0.7h1m-0.6 -0.5h1m1.5 0h1m1.7 0.4h1m-0.4 -0.4h1m-0.7 -0.1h1m0.3 0.4h1m0.5 0.1h1m0.9 -0.3h1m2.4 0.3h1m3.1 -0.6h1m11.6 -0.1h1m-0.8 0.6h1m-0.2 0.2h1m-0.9 0h1m-0.2 -0.2h1m-0.2 -0.5h1m-1 0.7h1m-0.8 -0.1h1m-0.9 -0.6h1m-0.7 0.2h1m0.4 -0.1h1m-0.9 0.1h1m-0.8 0.5h1m-0.9 -0.6h1m-0.8 0.3h1m0.6 -0.1h1m-0.7 0.3h1m0.2 0.2h1m0.8 -0.6h1m0.9 0.1h1m-0.8 0.4h1m3.7 -0.8h1m2.1 0h1m-0.3 0.9h1m-0.8 -0.5h1m0.6 -0.3h1m-0.5 0.4h1m-0.4 0.1h1m-0.8 -0.3h1m2.1 0.2h1m0.5 -0.3h1m-0.5 0.5h1m1.9 0.2h1m-0.6 0h1m-0.9 -0.2h1m0.6 -0.1h1m-0.6 0h1m-0.1 -0.6h1m1.3 0.9h1m-82.9 0.7h1m0 -0.3h1m-0.7 0h1m0.6 -0.1h1m-0.9 0.3h1m-0.7 0.1h1m-0.7 -0.3h1m-0.5 0.6h1m-0.4 -0.1h1m-1 0.1h1m-0.8 0h1m-0.5 0h1m-0.3 -0.3h1m-0.8 0.2h1m-0.7 -0.4h1m-0.9 0.1h1m-0.7 0.2h1m-0.8 -0.4h1m-0.6 0.2h1m0 0.1h1m0.5 -0.3h1m-0.4 0.4h1m-1 -0.5h1m0.1 -0.1h1m-0.7 0.1h1m-0.6 -0.1h1m0 0.8h1m-0.9 -0.3h1m-0.8 0.1h1m0 -0.2h1m-0.4 -0.1h1m-0.8 -0.2h1m-0.1 0.4h1m0 0.4h1m-0.7 -0.4h1m-0.8 0.2h1m1.5 -0.7h1m-0.4 0.4h1m0.1 0.3h1m-0.5 -0.7h1m-0.5 0.5h1m11.6 -0.3h1m4 0.1h1m-0.6 -0.4h1m1.9 0.7h1m1.1 0.3h1m-0.8 -0.1h1m0.7 -0.5h1m-0.8 -0.4h1m-0.6 0.4h1m1.4 0h1m-0.5 -0.4h1m-0.9 0h1m-0.7 0.1h1m-1 0.6h1m-0.9 -0.2h1m4.2 -0.4h1m4.9 0.8h1m2.1 -0.3h1m0.8 0.4h1m5.2 -0.2h1m-0.5 -0.4h1m-0.2 0.6h1m0.4 -0.6h1m-0.5 0.6h1m-0.8 -0.1h1m-1 -0.1h1m-0.9 -0.1h1m-0.5 0.3h1m-0.5 -0.2h1m-0.9 -0.7h1m-80.7 1.3h1m-0.6 0.5h1m-0.5 -0.1h1m-0.8 -0.2h1m0.1 -0.6h1m-0.2 0.2h1m-0.5 0.5h1m-0.8 -0.6h1m-0.1 0.6h1m-1 -0.5h1m0.6 -0.1h1m-1 0.5h1m-0.4 0h1m-0.2 0h1m-0.1 0.3h1m-0.6 0.1h1m-0.4 -0.7h1m-0.4 0.3h1m0.3 0h1m-0.9 -0.1h1m-1 0.4h1m-0.9 -0.2h1m-0.8 -0.3h1m-0.8 -0.2h1m1.3 -0.2h1m-0.3 0.8h1m0.7 0.1h1m0.4 -0.2h1m-0.7 0.1h1m-0.5 -0.1h1m-0.9 -0.2h1m-0.4 0.5h1m-0.9 -0.3h1m-1 0h1m-0.1 -0.3h1m-0.9 -0.2h1m-0.9 0.2h1m-0.7 -0.3h1m-0.6 0.8h1m2.5 -0.6h1m4.7 0.7h1m2.1 -0.5h1m0.5 -0.1h1m0.3 0.4h1m7.1 -0.1h1m-0.3 0.2h1m0.4 -0.9h1m-1 0.9h1m0.6 0.1h1m-0.4 -0.9h1m0.1 0.6h1m-0.8 0.2h1m-0.8 -0.2h1m-0.9 -0.4h1m0 0.2h1m-0.5 -0.1h1m-0.4 0h1m-0.8 -0.2h1m-1 0.5h1m-0.8 -0.6h1m1.6 0.6h1m0.3 -0.2h1m6.9 0.1h1m-0.6 -0.4h1m11.2 -0.1h1m-0.9 0.2h1m-0.4 0.4h1m-0.4 0h1m0.4 0.3h1m0.7 -0.8h1m-83 1.1h1m-0.4 0.1h1m-0.9 0.2h1m-0.1 -0.2h1m-0.9 0h1m1 0h1m0 0.5h1m-0.5 -0.6h1m-0.7 0.5h1m-0.9 -0.4h1m-0.8 0.2h1m0 0.2h1m-0.9 0h1m-0.3 -0.5h1m-0.7 0.3h1m-0.9 -0.5h1m-0.7 0.1h1m-0.4 0.4h1m1 -0.5h1m-0.4 0.8h1m-0.6 0h1m-0.7 -0.2h1m-0.6 0.2h1m0.3 -0.9h1m-0.8 0.9h1m-0.6 -0.6h1m-1 0.7h1m-0.2 -0.5h1m-0.6 -0.4h1m-0.3 0h1m0 0.7h1m-0.4 -0.7h1m-0.7 0.4h1m-0.9 0.2h1m-0.9 -0.6h1m-1 0h1m-0.7 0.7h1m-0.7 0h1m-0.6 -0.5h1m-0.9 0.6h1m-0.8 -0.8h1m-0.4 0.6h1m-0.2 -0.7h1m0.8 0.5h1m1.3 0.1h1m-0.5 -0.4h1m-0.1 0.8h1m-0.9 -0.6h1m1.6 -0.4h1m1.4 0.2h1m-0.9 -0.1h1m12.9 0.1h1m-0.7 0.2h1m1.3 0.2h1m0.8 -0.4h1m-0.5 0.3h1m-0.8 -0.5h1m0.3 0.8h1m-0.1 0h1m-0.7 0.2h1m-0.6 -0.9h1m1 -0.1h1m16.2 0.4h1m0.6 0.5h1m0.5 -0.7h1m-0.8 0.2h1m-0.8 0.2h1m-1 0.2h1m-0.6 -0.2h1m0 -0.6h1m-0.6 0.7h1m-0.9 -0.1h1m0.3 -0.3h1m-0.7 0h1m1.2 0h1m-83.2 0.9h1m-0.8 0.3h1m-0.1 0h1m0.5 -0.2h1m-0.3 -0.2h1m-0.6 0h1m-0.2 0.8h1m-0.6 -0.7h1m-0.4 0.1h1m0 -0.2h1m-0.7 0.1h1m1 -0.1h1m-0.7 0.7h1m-0.6 -0.4h1m-0.8 0h1m-1 -0.3h1m-0.3 0.5h1m-0.4 0.4h1m-0.5 -0.6h1m-0.7 0.5h1m-0.7 -0.6h1m-0.9 -0.2h1m-0.4 -0.1h1m-0.7 0.4h1m-0.3 0.1h1m-0.7 -0.1h1m-0.8 0h1m1.4 0.3h1m-0.9 -0.3h1m-0.8 -0.3h1m-0.8 0.5h1m-1 -0.5h1m-0.8 0.7h1m-0.8 -0.4h1m-0.8 0.2h1m-0.6 -0.4h1m-0.4 0.3h1m-0.5 0.2h1m0.8 0.1h1m-0.9 -0.1h1m-0.2 -0.7h1m1.2 0.3h1m6 0.2h1m0 0.3h1m0 0.1h1m-0.6 -0.5h1m11 -0.2h1m-0.2 0.6h1m-0.3 -0.6h1m0.9 0.8h1m-0.8 -0.3h1m-0.7 0.2h1m-0.5 -0.4h1m-0.5 -0.4h1m-0.8 0.6h1m-0.5 -0.3h1m0.7 0h1m-0.8 -0.2h1m-0.9 0.6h1m-0.9 -0.2h1m14.6 -0.2h1m4.8 0.1h1m2.3 0.1h1m-0.1 0.1h1m-0.6 -0.5h1m2 0h1m-0.6 0.5h1m-124.6 0.4h1m36.6 0h1m2.8 0.1h1m-0.5 0.3h1m0.3 -0.2h1m-0.7 -0.1h1m0.5 -0.1h1m-1 0.3h1m-0.9 0h1m-0.7 0.3h1m-0.3 -0.7h1m0.5 0.8h1m0.5 -0.3h1m-0.9 0.3h1m0.2 -0.5h1m-0.7 -0.2h1m-1 0h1m-0.8 0.4h1m0 -0.3h1m-0.2 0.6h1m-0.9 -0.6h1m-0.6 0.4h1m-0.9 0.2h1m-0.7 -0.6h1m-0.8 -0.1h1m-1 0h1m-0.5 0.3h1m-0.8 0.2h1m-0.9 0.3h1m-1 0.1h1m-1 -0.6h1m-0.7 -0.3h1m-0.6 0.2h1m-0.5 -0.2h1m0 0h1m-0.1 0.2h1m-0.9 0.1h1m-0.9 0.4h1m-0.7 -0.4h1m-0.3 0.1h1m-0.9 -0.5h1m-1 0.5h1m-1 -0.3h1m-0.7 0.5h1m0.8 -0.6h1m1.3 0h1m-0.2 0.6h1m-0.6 -0.2h1m2.8 -0.1h1m1.7 0.3h1m-0.5 0h1m-0.2 0h1m1.7 -0.5h1m0.5 0.2h1m10.6 0.5h1m-0.2 -0.6h1m-0.3 0.7h1m-0.4 -0.7h1m-0.3 0.6h1m-0.5 -0.4h1m1.3 -0.3h1m12.4 0.1h1m-0.8 0.2h1m1.6 0.4h1m4.8 0h1m2.5 -0.9h1m-0.1 0h1m2.4 0.5h1m-90.9 1.5h1m2.4 -0.9h1m-0.7 0h1m3 0.8h1m-0.7 0h1m-0.8 -0.6h1m0 0.7h1m-0.3 -0.3h1m-0.2 0h1m0.2 0.1h1m-0.8 -0.2h1m-0.5 -0.5h1m-0.5 0h1m-0.2 0.1h1m-1 -0.1h1m-0.5 0.9h1m0.5 -0.2h1m-0.3 -0.6h1m0.1 0.6h1m-0.9 -0.2h1m1 0.1h1m-0.4 -0.2h1m-0.9 -0.5h1m-0.5 0.3h1m0.9 -0.3h1m-0.6 0.8h1m0 -0.5h1m-0.4 -0.2h1m-0.9 0h1m-0.7 0.7h1m-0.4 -0.5h1m0 0h1m0.2 0.4h1m0.1 -0.4h1m0.8 0.2h1m-0.9 0.3h1m0.3 -0.7h1m0.9 0.6h1m-0.8 0h1m3.4 -0.3h1m15.8 -0.1h1m19.4 -0.2h1m5.2 0.9h1m-0.3 -0.9h1m-0.6 0h1m1.2 0.2h1m-89.3 1.7h1m11.5 -0.3h1m-0.5 -0.4h1m2.3 0.4h1m1.2 -0.6h1m-1 0.4h1m-0.9 0.4h1m-0.5 -0.4h1m-0.7 -0.4h1m-0.5 0.5h1m-0.8 -0.1h1m-1 0.3h1m-0.5 0h1m0.2 -0.8h1m-0.9 0.2h1m-0.8 0.3h1m-0.8 -0.2h1m-0.9 0.6h1m-0.9 -0.7h1m-0.9 0.1h1m-0.3 0.6h1m-0.8 -0.6h1m0.1 -0.1h1m-0.9 0.1h1m-0.8 0.3h1m-0.4 -0.2h1m-0.9 0.3h1m-0.3 -0.1h1m-0.2 0h1m0.3 0.1h1m-1 0.1h1m0 -0.4h1m-0.5 0.1h1m0 0.3h1m-0.5 -0.3h1m-1 0.2h1m-1 -0.5h1m-0.9 0.2h1m-0.4 0.4h1m1.4 0.1h1m0.3 0h1m0.6 -0.3h1m0.9 0.1h1m1.5 0h1m30.8 -0.5h1m1.3 0.8h1m-0.7 -0.1h1m-0.9 -0.6h1m-0.9 -0.3h1m2.6 0.1h1m0.1 0.3h1m4.9 -0.3h1m-0.7 0.1h1m3.7 0.4h1m-0.8 -0.3h1m0.1 0.4h1m-95.7 0.6h1m-0.9 0.1h1m0 0.1h1m10.2 -0.2h1m-0.8 -0.1h1m0.7 0.8h1m0.1 -0.8h1m-0.8 0h1m-0.1 0.8h1m-0.5 0h1m-0.9 -1h1m-0.9 0.1h1m-0.2 -0.1h1m-0.3 0.9h1m-0.8 -0.1h1m-0.5 -0.2h1m-0.8 -0.6h1m-0.6 0.1h1m-0.6 0.4h1m-0.7 -0.3h1m-0.1 0.4h1m-0.9 -0.3h1m-0.5 0.6h1m-0.9 -0.9h1m-0.5 0.1h1m-0.9 0.2h1m-1 0.6h1m-0.8 -0.3h1m-1 0h1m-0.9 0.2h1m-0.4 -0.4h1m-0.6 0.1h1m-0.8 0.5h1m1.4 -0.9h1m-0.7 0.4h1m-0.9 -0.5h1m-0.3 0.8h1m-0.9 -0.5h1m-0.9 -0.1h1m-0.7 0.7h1m-0.7 -0.6h1m-0.2 -0.1h1m0.5 0.6h1m-1 -0.5h1m-0.3 0.1h1m-1 0.5h1m0.4 -0.5h1m-0.2 0.6h1m-0.6 -0.6h1m-0.8 -0.1h1m2.5 0.1h1m-0.4 0.1h1m0.8 0.4h1m33.4 -0.5h1m-0.5 0.3h1m-0.9 -0.3h1m-0.8 -0.1h1m3.5 0.4h1m-0.8 0h1m-0.2 -0.3h1m-0.4 0.5h1m4.4 -0.5h1m0.6 -0.1h1m0 0.1h1m-0.5 0h1m-0.9 0.1h1m0.1 -0.1h1m1.1 -0.4h1m-95.7 1.3h1m13.8 0.3h1m1.3 0.2h1m-0.4 -0.4h1m-0.8 -0.3h1m-0.9 0.4h1m-0.9 0.1h1m0.7 -0.2h1m-0.9 0.5h1m-0.2 -0.2h1m-1 0h1m0 0h1m-0.5 -0.4h1m-0.7 0.1h1m-1 0.4h1m-0.6 0.1h1m-0.4 -0.4h1m-0.8 0.3h1m-0.8 0.1h1m-0.8 -0.1h1m-0.3 -0.4h1m-1 0.3h1m0.3 -0.6h1m-1 0.6h1m-0.1 -0.3h1m-0.7 -0.2h1m-0.9 0.6h1m-0.2 -0.6h1m-0.4 0.3h1m0.6 -0.1h1m-0.9 -0.4h1m0.2 0.4h1m-0.4 -0.1h1m3.6 0.5h1m2 -0.2h1m-1 0.3h1m0.2 -0.8h1m-0.5 0.6h1m1.7 0.3h1m18.7 -0.1h1m11.1 -0.8h1m1.7 -0.1h1m1 1h1m-0.2 0h1m-0.6 0h1m-0.5 0h1m3.6 -0.1h1m-0.8 -0.2h1m0.1 -0.3h1m0 0.6h1m-0.3 0h1m-1 -0.8h1m1 0.8h1m0.7 -0.2h1m-78.1 0.8h1m-0.9 0h1m-0.9 0h1m-0.7 -0.4h1m-0.8 0.4h1m0.3 -0.4h1m-0.5 0.7h1m0.1 -0.8h1m-1 0.8h1m-0.9 -0.4h1m-0.7 0.4h1m-0.8 -0.2h1m-0.6 0h1m-1 -0.3h1m-0.9 0.1h1m-0.8 0.4h1m-0.2 0h1m-0.6 -0.7h1m-1 0.6h1m-0.7 -0.5h1m-0.7 0h1m0.4 -0.2h1m1.7 0.7h1m-0.5 -0.1h1m-0.9 -0.1h1m-0.1 -0.5h1m-0.3 0.4h1m0.4 -0.3h1m-0.5 0.1h1m-0.7 0.2h1m-0.4 0.4h1m-0.8 -0.3h1m-1 0.4h1m-0.8 -0.6h1m-0.5 0h1m-0.7 -0.1h1m-0.6 0.4h1m2.1 -0.2h1m-0.1 0.1h1m-0.9 -0.4h1m1.3 0.2h1m-0.9 -0.1h1m0 0h1m0.6 0h1m-0.5 0.3h1m-0.8 -0.1h1m-0.6 -0.3h1m0.3 -0.1h1m29.1 0.6h1m-0.3 -0.4h1m-0.1 0.1h1m-0.7 -0.3h1m-0.1 -0.1h1m-0.5 0.9h1m0.7 -0.8h1m-0.3 0.6h1m-0.5 -0.5h1m1.3 0.1h1m-0.3 0.4h1m1.5 0.2h1m-0.6 -0.8h1m-0.8 0.3h1m-0.1 0.1h1m-0.6 0.4h1m0.5 -0.2h1m0.3 -0.2h1m0.3 0.3h1m-0.3 -0.6h1m0.9 0.6h1m-80.4 1.2h1m-0.5 -0.5h1m1 -0.1h1m-0.1 -0.1h1m-0.8 0.6h1m-0.5 -0.6h1m-0.1 0.1h1m-0.9 -0.4h1m-1 0.9h1m0.6 -0.2h1m-0.4 -0.1h1m-0.7 -0.3h1m-0.8 0.3h1m-0.2 0.2h1m-0.5 -0.6h1m-0.2 0.7h1m-1 -0.9h1m0.2 0.2h1m0.5 0.3h1m-0.6 0.1h1m-0.8 -0.2h1m-0.7 0.6h1m1.2 -0.8h1m0.7 0.5h1m-0.2 -0.4h1m1.8 0.4h1m1.1 0.2h1m0.6 -0.2h1m-0.6 0h1m0 -0.6h1m-0.4 0.8h1m-0.9 -0.8h1m-0.2 0.5h1m-0.9 -0.4h1m1.4 0.5h1m16.8 0.2h1m-0.9 -0.4h1m-0.4 -0.3h1m8.9 0.6h1m-0.4 -0.2h1m2.6 0.1h1m-0.2 -0.4h1m1.4 0.5h1m1.1 -0.4h1m0.3 0.5h1m-0.9 -0.3h1m0.2 -0.6h1m-0.8 0.8h1m0.1 -0.4h1m-0.4 -0.3h1m-0.7 0.6h1m4.7 0.1h1m-80.2 0.3h1m1.1 0.9h1m0.5 -0.3h1m-0.1 -0.6h1m1 0.2h1m-0.9 -0.1h1m-0.8 0.7h1m-0.4 -0.2h1m-0.3 -0.6h1m-0.4 0.9h1m1.2 -1h1m-0.8 0.4h1m0.1 0.2h1m-0.8 0.1h1m-0.8 -0.4h1m-0.9 0.6h1m0.6 -0.8h1m-0.7 0.3h1m-1 0.3h1m-0.9 -0.2h1m-0.5 -0.5h1m-0.8 0.5h1m-0.6 -0.1h1m-0.5 -0.3h1m-0.6 0.3h1m-0.9 0.1h1m-0.3 -0.3h1m-0.9 0.4h1m0 -0.5h1m1.4 0.2h1m-1 0.1h1m-0.4 -0.3h1m-0.7 0.3h1m-0.8 0.4h1m0.4 -0.1h1m0.1 0h1m-0.6 -0.3h1m-0.8 0.5h1m-0.4 -0.6h1m0.5 0.5h1m-0.7 -0.8h1m-0.9 0.7h1m-0.6 -0.2h1m0.9 0.2h1m1.5 0h1m-0.9 -0.2h1m-1 0.3h1m27.1 -0.1h1m2.3 0.3h1m2.7 -1h1m3 0.1h1m-0.9 0.8h1m-0.4 -0.1h1m1.1 -0.4h1m0.6 -0.3h1m3.1 0.1h1m-78.9 1h1m-0.5 -0.1h1m-0.3 0.2h1m-0.8 0.1h1m-0.9 0.1h1m-0.7 -0.3h1m-0.9 0.2h1m1.9 0.4h1m1.2 -0.1h1m-0.2 -0.5h1m2.8 0.4h1m-0.5 0.2h1m0.2 0.1h1m-0.9 -0.5h1m-0.2 -0.3h1m-1 0h1m-0.7 0.7h1m0.4 0.1h1m-0.3 0.1h1m-0.8 0h1m0.7 -0.8h1m-0.2 0.5h1m-0.9 -0.6h1m0.5 0h1m1.5 0.8h1m-0.1 -0.4h1m-1 -0.2h1m-0.6 0.3h1m-0.7 0.3h1m0.3 -0.1h1m4.4 -0.2h1m-1 -0.1h1m15.3 0.4h1m8.4 -0.6h1m0.2 -0.3h1m0.8 0.3h1m-0.6 0.1h1m0.3 -0.3h1m2.7 0.4h1m-0.2 -0.2h1m-0.5 0.3h1m-0.3 0h1m2.8 -0.5h1m3.4 0.7h1m-0.4 0.2h1m-78.9 0.1h1m-0.4 0.4h1m-0.3 -0.2h1m-0.6 0.6h1m-0.6 -0.2h1m-0.7 0.1h1m-0.8 0h1m0.1 -0.5h1m-0.7 -0.1h1m2.5 0.1h1m1.7 -0.2h1m-0.1 0.8h1m0.1 -0.6h1m0.7 -0.3h1m0.3 0.9h1m1.7 -0.6h1m1.3 0h1m-0.7 0.3h1m1.4 -0.5h1m-0.5 0.2h1m-0.7 0.2h1m-0.6 -0.1h1m0.4 -0.2h1m-1 0.3h1m-0.7 -0.5h1m-0.5 1h1m0.7 -0.1h1m-0.6 -0.1h1m-0.8 -0.1h1m1.9 0h1m-1 -0.1h1m1.3 0.1h1m13.4 -0.3h1m-0.6 -0.4h1m11.1 0.1h1m4.1 0.9h1m0.6 -0.3h1m1.8 0.1h1m0.5 -0.5h1m1.4 -0.2h1m-0.4 0.5h1m0 -0.1h1m-0.4 -0.3h1m-0.2 0.4h1m-72.5 0.8h1m1.3 0.1h1m-0.2 -0.4h1m-0.8 0.5h1m2 0.3h1m-0.8 -0.6h1m0.4 -0.1h1m-0.4 0.5h1m1.8 -0.2h1m1.1 0.5h1m-1 -0.9h1m0 0.6h1m1.4 -0.1h1m-0.8 -0.5h1m0.3 0.1h1m1.2 0.3h1m-0.5 0.2h1m4 0h1m-0.1 0.2h1m0 0h1m-0.9 -0.7h1m0.6 0.8h1m-0.7 -0.6h1m-0.5 0h1m22.5 0.5h1m1.4 -0.6h1m1.5 0.3h1m7 0.3h1m-0.6 -0.6h1m0.2 -0.3h1m-0.6 1h1m0.1 -0.8h1m-1 0.3h1m-1 0.4h1m-72.9 0.2h1m-0.5 0.2h1m0.6 -0.1h1m-0.7 0.7h1m-0.7 -0.1h1m0.3 -0.7h1m-0.9 0.4h1m7.1 0.4h1m-0.9 -0.4h1m-1 0.3h1m0.8 -0.4h1m5 -0.2h1m-0.6 0.3h1m1.6 0.2h1m-0.1 0.3h1m-0.5 -1h1m2.5 0.9h1m-0.6 -0.5h1m-0.6 -0.1h1m-0.1 0.4h1m-1 -0.3h1m-0.6 0.3h1m-0.7 -0.2h1m-0.8 -0.2h1m-0.9 0.4h1m-0.9 0h1m-0.6 -0.4h1m-0.5 0.6h1m13 -0.1h1m9.3 -0.8h1m3.5 0.3h1m1.2 0.3h1m1.8 -0.4h1m0.2 0h1m-0.9 0.8h1m-0.9 -0.8h1m0.1 0.3h1m-1 -0.2h1m-0.8 -0.1h1m-0.8 -0.1h1m0.1 0.7h1m0.3 -0.1h1m1.4 -0.2h1m-65 0.7h1m0 0.6h1m-0.3 -0.4h1m-0.8 0.3h1m0.3 -0.6h1m2 0.1h1m0.2 0.6h1m-0.9 -0.5h1m-0.6 -0.2h1m-0.6 0.1h1m-1 0.6h1m0.3 -0.1h1m6.4 -0.5h1m-0.1 0.2h1m-0.7 -0.1h1m-0.4 -0.3h1m-0.7 0.5h1m0.3 0h1m0 0.4h1m0.2 -0.5h1m-0.9 -0.1h1m1.3 -0.2h1m11.1 0.4h1m-0.4 0.1h1m-0.8 -0.3h1m-1 -0.2h1m-0.9 0.1h1m7.6 -0.1h1m-0.9 0.8h1m-1 -0.2h1m3 -0.6h1m-0.7 0.7h1m5.1 -0.2h1m4.5 -0.5h1m0 0.2h1m-0.9 -0.3h1m0.4 0.9h1m-0.7 -0.7h1m-64.8 1.4h1m-0.3 0.3h1m-0.5 -0.6h1m-0.6 0.3h1m0.6 0h1m-0.6 0.1h1m0.1 0h1m-0.8 0.3h1m-0.1 -0.4h1m-0.6 0.3h1m-0.3 0.1h1m-0.4 -0.3h1m-0.4 -0.3h1m0.7 0.4h1m-0.1 0.1h1m2.6 -0.1h1m-1 -0.7h1m1.8 0.2h1m-0.9 -0.1h1m-0.5 -0.1h1m-0.8 0.3h1m-0.8 0.2h1m-0.3 -0.2h1m-0.8 0.2h1m-1 -0.1h1m-0.9 -0.5h1m-0.8 1h1m-0.9 -0.1h1m-0.5 -0.8h1m-0.9 0.3h1m-0.4 0.4h1m0.2 -0.5h1m-0.7 0.1h1m0.8 -0.3h1m0.3 0.7h1m8.4 -0.7h1m-0.1 -0.1h1m-0.9 0.8h1m-0.9 0h1m-0.8 -0.1h1m11.5 -0.2h1m1.9 0h1m3.7 0.1h1m0 0.1h1m-0.6 0h1m1 0h1m-0.4 -0.6h1m-0.7 0h1m-0.5 0h1m-0.3 0h1m-0.4 0.2h1m0.7 -0.2h1m-62.8 1.8h1m-0.1 -0.3h1m0.8 -0.1h1m-1 -0.2h1m-0.5 0.2h1m-0.9 0.3h1m1 -0.4h1m-0.8 -0.2h1m0.7 -0.1h1m-0.7 0.6h1m-0.2 -0.6h1m-0.7 0.3h1m-0.1 0.1h1m2.6 0.2h1m0.9 0.1h1m1.5 -0.6h1m-0.7 0.5h1m-0.8 0.1h1m-0.4 0h1m-0.7 -0.8h1m-0.7 0.7h1m-0.9 0.2h1m-0.9 -0.9h1m-0.8 0.6h1m-0.8 0.2h1m0 -0.1h1m-0.4 0.2h1m-0.8 -0.4h1m-0.5 0h1m10.1 -0.2h1m-1 0.1h1m0.6 -0.2h1m9.8 0.3h1m5.5 0.1h1m0.8 -0.2h1m0.8 -0.2h1m-1 0.6h1m1.1 -0.2h1m1.5 0.2h1m0.5 -0.1h1m-0.2 0.2h1m-64.1 1h1m-0.4 0.1h1m-1 -0.4h1m-1 -0.5h1m-0.9 0.8h1m-0.4 -0.2h1m-0.5 0.2h1m-0.4 -0.5h1m-0.9 -0.1h1m-0.7 0.2h1m0.5 0.3h1m-0.1 -0.1h1m-1 -0.5h1m-0.4 0.2h1m0.1 -0.2h1m3.5 -0.1h1m-0.8 0.1h1m0.5 0.1h1m-0.6 -0.2h1m1.1 0.4h1m-0.9 0.1h1m-0.6 -0.6h1m-0.4 0.7h1m-0.4 0.2h1m-0.9 -0.2h1m-0.3 -0.5h1m0.3 0.2h1m-1 0.6h1m0.6 -0.6h1m-0.3 0.5h1m-1 -0.4h1m-0.9 0.3h1m-0.4 -0.1h1m-0.5 0.2h1m1.3 -0.9h1m8 0.5h1m-0.9 0.3h1m-0.9 -0.5h1m-0.7 0.4h1m11.3 0.2h1m-0.1 -0.1h1m-0.9 -0.8h1m1.9 0.3h1m0.8 0.6h1m1.2 0h1m1.2 -0.7h1m1.2 0.6h1m0.5 0.2h1m0.1 -0.9h1m-62.1 1.3h1m0.1 0.2h1m-0.4 -0.3h1m-0.7 0.1h1m-1 -0.3h1m-0.4 0.9h1m-0.9 -0.4h1m-0.5 -0.5h1m-0.3 0.3h1m-0.7 -0.3h1m1.4 0.4h1m0 -0.2h1m-0.7 0.2h1m1.3 0.4h1m-0.8 -0.1h1m-0.8 -0.1h1m2.4 0h1m-0.4 -0.5h1m0.8 0.1h1m-0.8 -0.1h1m-0.3 0h1m-0.8 0.2h1m-0.7 0.4h1m0.3 0.1h1m-0.7 -0.2h1m-0.3 -0.6h1m-0.7 0.7h1m-0.8 0.2h1m-0.1 -0.5h1m0.3 0h1m-0.8 -0.2h1m-0.3 -0.1h1m-0.4 0.3h1m-0.5 -0.1h1m-0.3 0.5h1m8.9 -0.2h1m6.8 -0.7h1m3.5 1h1m2.2 -0.5h1m2 0.3h1m-1 -0.4h1m-0.6 0h1m-0.3 0.1h1m-0.6 -0.4h1m-0.8 0.3h1m-0.9 0h1m-0.3 0h1m-0.9 0.2h1m-0.4 -0.5h1m-0.9 0.5h1m-0.7 -0.2h1m0.6 0.2h1m0.9 -0.5h1m-0.3 0.7h1m-60.9 0.6h1m0.3 0.4h1m-0.6 -0.1h1m-0.4 -0.7h1m-0.2 0.8h1m-0.4 0.1h1m0.8 -0.2h1m0.4 -0.6h1m0.2 0.5h1m5.3 -0.5h1m-0.6 0.2h1m-0.9 0.3h1m-0.1 -0.6h1m0.6 0.8h1m-0.9 -0.2h1m-0.1 -0.2h1m0 0.4h1m-1 0h1m-0.9 -0.5h1m-1 0.5h1m-0.8 -0.3h1m-0.1 -0.2h1m-0.9 0.6h1m-0.9 -0.7h1m-0.3 0.6h1m0.6 -0.5h1m-0.2 0.2h1m8.5 -0.1h1m-0.8 0h1m-0.8 0.2h1m-0.6 0.3h1m6.5 -0.7h1m-0.2 0.3h1m1.1 0.4h1m-0.8 0h1m0 -0.2h1m-0.1 -0.7h1m0.1 0.2h1m-1 0.8h1m0.4 -0.6h1m0.4 -0.1h1m-0.9 0.4h1m1 -0.2h1m1.3 0.2h1m-0.9 0.2h1m-0.3 -0.2h1m-0.7 -0.3h1m-0.5 0.6h1m-0.5 -0.2h1m-0.7 0h1m-1 0.1h1m-0.5 0h1m-0.9 -0.7h1m-0.7 0.7h1m0.4 -0.5h1m-1 -0.1h1m-0.7 0.6h1m-57.3 0.8h1m-0.6 -0.4h1m2.1 0.2h1m-1 -0.4h1m-0.9 0.9h1m0.5 -0.4h1m1.1 0h1m-0.3 -0.5h1m-0.6 0.7h1m-0.7 -0.5h1m1.2 -0.2h1m-0.7 0.7h1m-0.8 -0.2h1m0.2 -0.4h1m-0.9 -0.2h1m-0.7 0.6h1m-0.9 0.4h1m0.5 -0.2h1m0.6 -0.3h1m-0.8 -0.3h1m-0.8 0.1h1m-0.8 0.1h1m-0.6 -0.2h1m-0.2 -0.1h1m-0.5 0.8h1m-0.3 -0.3h1m-1 -0.5h1m0.3 0.8h1m-1 -0.5h1m-0.9 0.2h1m17.2 0.3h1m3 -0.8h1m-0.9 0.6h1m0.5 -0.2h1m-0.7 -0.5h1m-0.6 0.1h1m1.2 0.5h1m1.1 -0.4h1m-0.1 0.4h1m-0.9 0.3h1m-0.9 -0.6h1m-1 -0.1h1m1.5 0.2h1m0.8 -0.1h1m-55.5 1.7h1m2.1 -0.7h1m0.2 -0.3h1m1.6 0.5h1m-0.8 0h1m-0.5 0.1h1m-0.3 -0.1h1m1 -0.3h1m0.1 0.5h1m-0.6 -0.3h1m-0.3 -0.3h1m-1 0.7h1m1.5 -0.8h1m-1 1h1m-0.9 -0.2h1m0.3 -0.4h1m-0.4 -0.2h1m-0.8 0.3h1m0.5 0.2h1m-0.2 -0.2h1m-0.9 -0.2h1m0.4 -0.3h1m17.2 0.4h1m4.8 0.4h1m2 -0.4h1m0.4 -0.2h1m-0.8 0.4h1m-0.7 -0.2h1m-0.2 -0.1h1m-0.3 0.3h1m-0.9 0h1m0.4 -0.3h1m-51.2 0.8h1m1.7 0h1m-0.5 0.8h1m1.9 0h1m1.6 -0.9h1m0.1 0.7h1m-0.4 -0.5h1m-0.3 0.8h1m-0.4 -0.7h1m-0.5 0.4h1m-0.6 -0.4h1m-0.7 -0.1h1m-1 0.6h1m-0.2 -0.4h1m-0.8 -0.2h1m-0.5 0.1h1m-1 0.3h1m-0.9 0.2h1m-0.8 0h1m-1 -0.3h1m-0.9 -0.1h1m-0.6 -0.2h1m-0.7 0.1h1m-1 0.2h1m-0.7 -0.1h1m-0.7 0h1m-0.6 0.5h1m-0.5 -0.6h1m-0.3 -0.1h1m20.1 0.1h1m-0.2 0.3h1m-0.8 0.2h1m-0.7 -0.4h1m-0.7 0.2h1m-1 0.3h1m1.3 -0.7h1m-0.5 0.6h1m-0.6 -0.3h1m0.8 -0.3h1m0.5 0.6h1m0.5 -0.3h1m-0.6 -0.3h1m0.6 -0.2h1m0.7 0.8h1m-0.1 -0.4h1m-54.2 0.9h1m5.2 0.3h1m0 -0.5h1m0 -0.1h1m-0.1 0.3h1m0.5 -0.1h1m-0.6 0.3h1m-0.2 0.4h1m-0.9 -0.5h1m-0.7 0h1m0.2 0.1h1m-0.9 0.2h1m-0.7 0.2h1m-0.8 -0.6h1m-0.9 0.7h1m-0.7 -0.1h1m-0.9 -0.7h1m-0.8 0.3h1m-1 -0.1h1m-0.5 0.3h1m-0.9 0.1h1m-0.8 -0.3h1m-0.7 -0.1h1m-0.8 0.2h1m0.1 0.4h1m-0.8 -0.1h1m-0.9 0h1m-0.4 -0.1h1m0.1 -0.2h1m-0.8 -0.2h1m-0.8 -0.2h1m-0.8 0.4h1m17.4 0.3h1m0.1 -0.9h1m2 0.2h1m0.2 0.1h1m0.2 0.6h1m-0.6 -0.3h1m-0.5 0.2h1m-0.9 -0.7h1m0.2 0.8h1m-0.8 -0.5h1m2.3 0.2h1m1.8 -0.4h1m-52.4 1.1h1m2.1 0.1h1m-1 0.3h1m6.6 0h1m-0.8 -0.6h1m-0.5 -0.1h1m-1 0h1m-0.2 0.8h1m-0.8 -0.6h1m-0.9 -0.2h1m-0.4 1h1m-0.7 -1h1m-1 0.9h1m-0.1 -0.4h1m-0.8 0h1m-0.8 -0.2h1m-0.7 -0.3h1m-0.5 0.9h1m-0.3 0h1m-0.9 -0.6h1m-0.8 0h1m-0.4 -0.1h1m0.1 0.7h1m17.2 -0.1h1m-0.9 -0.4h1m2.1 0.3h1m-0.4 0h1m0.4 -0.7h1m-0.3 0.1h1m-0.9 0.3h1m-0.1 0.1h1m1.6 -0.3h1m0.2 0.2h1m-1 -0.2h1m-0.8 0.7h1m-0.3 -0.2h1m-0.4 -0.6h1m-0.6 0.5h1m-0.8 0.4h1m-103 0.5h1m52.7 -0.4h1m1.7 0.8h1m0.2 -0.1h1m2.4 0.1h1m-0.6 -0.1h1m0.3 -0.8h1m-0.5 0.5h1m-1 -0.4h1m-0.6 0.5h1m-0.8 0.2h1m-0.1 -0.2h1m-1 0h1m-0.7 0.4h1m-0.6 -0.9h1m-0.9 0.9h1m-1 -0.1h1m-0.2 -0.4h1m-0.9 0.4h1m-0.3 -0.6h1m-1 0.6h1m-0.8 0h1m-0.8 -0.3h1m-0.4 -0.2h1m-0.8 0h1m-0.9 -0.3h1m-0.9 0.1h1m-0.7 0h1m-1 0h1m0.6 0.5h1m15.7 -0.1h1m0.6 0.4h1m0.2 -0.6h1m-0.6 -0.1h1m1.2 0.3h1m0.6 -0.5h1m-0.6 0.2h1m0.9 0.3h1m-0.5 -0.1h1m0.8 -0.3h1m0.6 0.1h1m-0.9 0.1h1m-0.2 -0.3h1m-0.9 0.4h1m-0.2 -0.2h1m-0.9 0.5h1m-0.7 -0.2h1m-48.9 0.6h1m0.8 0.7h1m0.8 -0.5h1m1.1 0.1h1m-0.8 0.2h1m0.3 -0.1h1m-0.2 0.4h1m-0.3 -0.6h1m-0.8 0.6h1m-0.9 -0.8h1m-0.9 -0.2h1m-0.6 0.5h1m-1 -0.3h1m-0.7 0h1m-0.9 0.1h1m0 0.7h1m-0.7 -0.5h1m-0.1 -0.1h1m-0.4 0.3h1m-0.6 -0.4h1m-0.4 0.1h1m-0.8 0.3h1m-0.6 -0.4h1m-0.6 0.3h1m0.1 -0.3h1m17.2 0h1m0.3 0.7h1m0.8 -0.8h1m1.1 -0.2h1m-0.1 0.9h1m-1 -0.6h1m1 0.3h1m2.1 0h1m-0.7 0h1m0.3 0.3h1m-43.2 0.6h1m5.2 -0.4h1m-0.8 0.1h1m-0.9 0.1h1m-0.7 0.4h1m0 -0.4h1m-0.8 0.4h1m-0.1 -0.7h1m-1 0.4h1m-0.6 -0.4h1m-0.8 0h1m0.8 0.8h1m-0.6 -0.4h1m-0.9 0h1m17.5 0.5h1m0.4 -0.9h1m-0.5 0.8h1m0.5 -0.7h1m-0.1 0.5h1m2.6 0.2h1m0.5 -0.8h1m1.4 0.9h1m-40.3 0.5h1m0.3 -0.2h1m0.5 0.7h1m1.3 -0.7h1m-0.9 -0.2h1m-0.5 0.8h1m-0.7 -0.5h1m-0.9 0.3h1m0.6 -0.5h1m-1 0.5h1m-0.5 -0.4h1m-1 -0.2h1m-0.6 0.3h1m-0.9 0.5h1m-1 0.1h1m-0.1 -0.1h1m17.3 0.2h1m1.7 -0.8h1m1.3 0.1h1m-0.5 0h1m-1 0.2h1m-0.3 0.4h1m-0.8 -0.8h1m-33.7 1.5h1m0 -0.5h1m0 0.1h1m-1 0.3h1m-0.6 -0.3h1m-0.8 0.5h1m-0.7 -0.1h1m-1 0.1h1m-0.1 0.2h1m-0.1 -0.6h1m-0.5 0.3h1m0.6 0h1m-0.2 -0.4h1m19.6 0.6h1m-0.9 -0.3h1m-0.6 -0.1h1m0.3 0.4h1m-0.4 -0.3h1m0.5 -0.2h1m-0.4 -0.2h1m0 0.1h1m-0.1 0.3h1m-0.9 0.2h1m-0.2 -0.7h1m-0.5 0h1m-0.8 0h1m-0.4 0.4h1m-19.5 0.7h1m9.6 0.3h1m0.8 -0.3h1m0.1 0.2h1m-17.9 1.5h1m0.7 0h1m-2.9 0.8h1m-0.2 -0.2h1m-2.3 0.8h1m-0.6 0.2h1m-3.2 0.8h1m-4.4 3.3h1m-40 1.2h1m37.3 0.2h1m-41.6 1h1m37.6 -0.1h1m0.1 -0.6h1m-52.4 1.3h1m8.7 0.3h1m-0.1 -0.8h1m58.8 0.5h1m-76.4 0.9h1m0.3 -0.4h1m-0.7 0.7h1m0.6 0.1h1m0.8 0.1h1m8.4 -0.4h1m2.7 0.3h1m34.9 -0.6h1m-0.7 0.4h1m-0.5 -0.6h1m-57 1.8h1m0 -0.3h1m1 0.1h1m0.3 -0.2h1m1.8 0.3h1m-0.2 -0.4h1m0.4 0.5h1m3.1 0.2h1m3.8 -0.3h1m-0.2 -0.7h1m-19.9 1.9h1m-0.9 -0.7h1m-0.1 0.1h1m0.2 -0.1h1m0 0.4h1m-0.4 0.3h1m0.7 -0.1h1m-0.7 0.1h1m0.3 0h1m-0.6 -0.2h1m-0.2 0.3h1m1.7 -0.6h1m-0.7 -0.2h1m-0.8 0.4h1m-0.2 -0.4h1m-0.8 0.6h1m0.2 -0.4h1m2.2 0.5h1m35.1 -0.7h1m0.4 0.6h1m1.8 -0.4h1m-0.6 0.4h1m-0.7 -0.4h1m-0.3 0.4h1m-0.6 0.1h1m-0.5 0.1h1m0 -0.3h1m-0.5 0.2h1m-63.1 0.3h1m-0.9 0.1h1m-0.7 0.5h1m-0.9 0.2h1m1.6 -0.3h1m0.2 -0.3h1m-0.6 0.6h1m-1 -0.1h1m-0.7 -0.5h1m-0.9 0h1m0 0h1m-1 0.2h1m-0.9 0.2h1m-0.9 0.2h1m-1 -0.1h1m-0.9 -0.5h1m0.1 0h1m-0.4 -0.2h1m-0.1 0.1h1m-0.8 0.7h1m1.1 -0.6h1m-1 0.3h1m-0.7 0.3h1m-0.9 -0.6h1m-0.5 0h1m-0.5 0.3h1m-0.6 -0.6h1m-0.4 0.2h1m-0.1 0.5h1m0 -0.3h1m-0.7 0.2h1m0.9 -0.7h1m33.9 0.1h1m-0.3 0h1m-0.3 0.5h1m-0.4 0h1m-0.5 -0.2h1m-0.3 0.5h1m-0.8 -0.8h1m-0.9 0.7h1m-0.2 -0.1h1m-0.3 -0.4h1m0 -0.1h1m-0.1 -0.1h1m-0.8 0.2h1m0.2 0.5h1m-0.8 0.2h1m0 -1h1m-0.3 0.2h1m2 0.5h1m-67.1 1.3h1m2.8 -0.6h1m0.1 0h1m-1 0.3h1m-0.8 0.1h1m-0.5 -0.1h1m-0.9 0.2h1m-0.4 -0.5h1m-1 -0.1h1m-0.5 -0.3h1m-0.5 1h1m-0.6 -0.2h1m4.2 -0.2h1m0 0.2h1m-0.6 -0.7h1m-0.1 0.2h1m28.1 0.3h1m-0.7 0.2h1m9.5 0.1h1m-0.7 -0.5h1m-0.7 0h1m-0.7 -0.3h1m-1 0.8h1m-0.2 -0.5h1m-0.2 0.4h1m-0.5 -0.3h1m-1 0.3h1m-0.8 0h1m-1 -0.3h1m0.2 0.5h1m-0.6 -1h1m-0.6 0.1h1m-0.9 0.4h1m1 0.4h1m0.6 -0.1h1m-0.2 0.1h1m-0.1 0h1m0.2 0.1h1m-68.2 0.8h1m1.9 -0.1h1m0.1 -0.4h1m-0.6 0.6h1m-0.6 -0.5h1m-0.8 0.2h1m-0.8 0.3h1m-0.4 0h1m-1 0.1h1m-1 -1h1m-1 0.3h1m-0.5 -0.1h1m-0.9 0.1h1m-1 0.1h1m-0.9 -0.3h1m-0.8 0h1m-0.9 0.7h1m-0.9 -0.4h1m-0.8 0.2h1m-0.9 -0.5h1m-0.8 0h1m-0.9 0.1h1m-0.9 0.5h1m-0.9 0h1m-0.4 0.3h1m-1 -0.3h1m-0.9 -0.5h1m-0.9 0.6h1m-0.9 -0.4h1m-0.4 -0.1h1m-0.9 0.7h1m-1 -1h1m-0.9 0.3h1m-0.9 -0.3h1m-0.9 0.9h1m-0.5 -0.2h1m-0.9 0.1h1m-0.8 -0.6h1m-0.8 0.8h1m-0.9 -0.3h1m-0.3 -0.7h1m-0.5 0.3h1m-0.3 0.1h1m1 -0.1h1m26.9 0.5h1m-0.7 -0.5h1m-0.1 0.2h1m0.2 -0.3h1m2.7 0.5h1m0.1 -0.7h1m-0.9 0h1m0 0.7h1m0.9 0.1h1m0.7 0.1h1m-0.2 -0.8h1m-0.8 0.7h1m-0.3 -0.7h1m-0.8 0.6h1m-0.1 -0.6h1m-0.8 0h1m-0.9 0.4h1m-0.9 -0.4h1m-0.7 0.3h1m-0.1 0h1m-0.8 0.3h1m-1 -0.1h1m-0.8 -0.1h1m-0.9 -0.1h1m0.9 0h1m0.5 -0.4h1m-0.3 0.2h1m0.8 0.3h1m-0.2 0.4h1m0.8 -0.3h1m0.2 0.3h1m-70.3 1.1h1m0 0h1m-0.7 -0.8h1m2.9 0h1m-1 0.4h1m-0.7 0.2h1m-0.7 -0.6h1m-0.4 0.5h1m-0.8 -0.1h1m-0.7 0h1m-0.9 -0.6h1m1.4 0h1m-0.4 0.3h1m-1 0.3h1m-1 0.3h1m-0.5 0.1h1m-0.9 -0.4h1m-0.9 -0.6h1m-0.9 0.3h1m-1 0.4h1m-0.9 0h1m-0.8 0.1h1m-0.7 -0.4h1m-0.6 0h1m-0.6 0.3h1m0.2 -0.1h1m-0.3 0.4h1m-0.8 -0.4h1m0.5 0.3h1m23.7 -0.1h1m3 -0.3h1m0 -0.2h1m0.2 -0.2h1m-0.5 0.1h1m-0.6 0.7h1m1.6 -0.5h1m0.5 0.5h1m1.4 -0.8h1m-0.6 0.7h1m0.4 -0.3h1m-0.6 -0.2h1m-0.3 -0.2h1m-0.3 0.4h1m-0.5 -0.2h1m-0.8 0.1h1m-0.3 0.2h1m-0.9 -0.4h1m-0.9 0.5h1m0.9 -0.2h1m-0.8 0.3h1m0.2 -0.4h1m-0.8 -0.4h1m-0.3 0.4h1m0.3 0.2h1m-0.6 -0.5h1m1.9 0.1h1m-65 1.6h1m0 -0.6h1m-0.6 0.5h1m-0.8 -0.5h1m1.1 0h1m-0.8 0.3h1m0.1 0.4h1m-0.8 -0.3h1m-0.8 0.1h1m1.1 -0.4h1m-0.7 0.2h1m-0.8 0.3h1m-0.9 -0.6h1m-0.7 0.4h1m-0.7 -0.5h1m-0.7 0h1m-0.4 0.5h1m-0.3 -0.4h1m24.3 0h1m-0.4 0.6h1m0.5 -0.4h1m1.3 0.3h1m0.1 -0.6h1m0.3 0h1m-0.7 0.5h1m-0.3 -0.4h1m0.2 0.6h1m1.8 -0.6h1m-0.5 0.7h1m2.2 -0.4h1m0.5 0.3h1m-0.6 -0.2h1m-0.6 0.2h1m-0.9 0.2h1m-0.9 -1h1m-1 0.4h1m0 -0.1h1m-0.5 0.5h1m-0.8 -0.4h1m-0.7 0.1h1m-0.9 0.2h1m-0.8 -0.2h1m-0.4 -0.3h1m-1 0.2h1m-0.3 -0.4h1m-0.7 0.8h1m-0.4 0.2h1m0 -0.3h1m2.4 -0.3h1m0.1 -0.2h1m-0.6 0.8h1m-63.8 0.6h1m-0.5 0h1m0.1 -0.4h1m-0.6 0.1h1m-1 0.6h1m0.1 -0.7h1m-0.9 0.3h1m-0.7 -0.2h1m-0.7 0h1m-0.4 0.3h1m-0.7 0.1h1m-0.8 -0.4h1m-0.6 0.4h1m-0.5 0h1m-0.5 0.2h1m-1 0h1m-0.9 -0.8h1m-0.6 0.7h1m0.2 -0.8h1m25 0.6h1m-0.8 -0.3h1m0.1 -0.1h1m-0.8 0.1h1m0.6 -0.2h1m-0.9 0.7h1m-1 -0.1h1m-0.7 0.1h1m-0.8 -0.5h1m1.7 0.5h1m-1 0h1m0.1 0h1m0.6 -0.3h1m2.1 0.2h1m0.4 -0.4h1m1.9 0.2h1m-0.3 -0.5h1m-0.5 0.7h1m-0.7 -0.5h1m-0.9 0.4h1m-0.6 0.1h1m0 -0.3h1m-0.3 0.2h1m0.1 -0.1h1m-0.9 0h1m-0.7 0h1m-0.1 0h1m-0.7 0.2h1m-0.4 -0.2h1m0.8 0.2h1m-0.4 -0.6h1m1 0.6h1m-0.9 -0.4h1m-0.4 0.2h1m-68.8 1.3h1m-0.8 -0.8h1m-0.2 1h1m-0.2 -0.6h1m-0.3 -0.2h1m0.3 0.8h1m-0.6 -0.4h1m0.3 -0.2h1m-0.8 0h1m-0.6 0.1h1m-0.9 0h1m-0.8 0.1h1m-0.5 -0.1h1m0.7 0.4h1m-0.9 -0.5h1m-0.7 0.6h1m-0.7 -0.2h1m-0.8 -0.3h1m-0.8 0.1h1m-0.6 0h1m0.7 0.3h1m-1 0.1h1m-0.8 -1h1m0.2 0.5h1m-0.6 0.3h1m-0.9 -0.4h1m-0.8 0.5h1m-1 -0.2h1m-0.7 -0.4h1m0.2 0.1h1m-0.9 -0.3h1m1.3 0.5h1m-0.9 0.3h1m-0.9 0h1m-0.1 -0.5h1m19.2 -0.1h1m-0.7 0h1m-0.8 -0.3h1m-0.2 0.1h1m-0.6 0.5h1m-0.9 -0.3h1m-1 -0.1h1m0.1 0.4h1m-0.6 0.2h1m-0.7 -0.4h1m-0.6 -0.1h1m-0.9 0.6h1m-0.7 0.1h1m-0.9 -0.7h1m-0.6 -0.1h1m0 0.7h1m2.1 -0.1h1m-0.4 -0.2h1m-0.2 0h1m-0.5 0.3h1m0.6 -0.6h1m0.1 0.3h1m1 0h1m-0.5 -0.5h1m0.2 0.5h1m0.3 0.3h1m-1 0h1m0 -0.2h1m-0.9 -0.7h1m-0.9 1h1m-0.2 -0.3h1m-0.7 -0.5h1m0.5 -0.2h1m0 0.7h1m-0.3 -0.5h1m-1 0.2h1m0.6 0.1h1m-0.8 -0.2h1m0.8 0.4h1m-0.4 -0.4h1m0 0.3h1m-68.9 1.3h1m0.4 -0.5h1m-0.9 -0.2h1m-0.7 0.4h1m-0.5 0.3h1m1.7 -0.5h1m-0.8 0.1h1m0.4 -0.3h1m0.2 0h1m0 0.5h1m-0.1 -0.6h1m-0.8 0.8h1m-0.5 -0.7h1m-0.4 0.1h1m-0.6 0.3h1m-1 -0.4h1m-0.9 0.4h1m-0.9 0.2h1m-0.6 -0.6h1m-1 0.4h1m-0.9 -0.3h1m-0.9 0.5h1m-0.7 -0.6h1m-0.9 0.5h1m-1 -0.3h1m0.4 0.2h1m2.3 0.2h1m-0.7 -0.6h1m20.3 0h1m-0.7 0.4h1m-0.5 0.2h1m-0.2 -0.2h1m-0.9 0.3h1m-0.8 -0.1h1m-1 -0.2h1m-1 0.1h1m-0.6 -0.2h1m-0.7 -0.2h1m-0.8 0.2h1m-0.7 -0.4h1m-1 0.4h1m-0.9 -0.4h1m-0.4 0.7h1m-0.9 -0.2h1m-0.5 0.3h1m-0.4 -0.2h1m-0.9 -0.2h1m-0.5 -0.1h1m0.2 0.5h1m0.6 -0.8h1m-0.9 0.3h1m-0.7 0.2h1m-1 0.3h1m-0.6 -0.2h1m-1 -0.2h1m0.6 0.1h1m-0.7 -0.5h1m-0.2 0.8h1m3.4 -0.8h1m-0.7 0.4h1m-0.9 0.4h1m2.4 -0.6h1m-0.8 0.1h1m0.1 0h1m0.4 0.4h1m-0.6 -0.6h1m-0.7 -0.1h1m-0.6 0.4h1m-0.2 -0.4h1m0.7 0.4h1m0.4 -0.5h1m0.5 0.5h1m-1 0.2h1m-67.6 0.5h1m0 0.5h1m-0.8 -0.5h1m0.5 0.1h1m0.9 0.3h1m-0.2 0.4h1m-0.8 -0.9h1m-0.2 0h1m0.6 0.1h1m-1 0h1m-0.1 0.7h1m-0.4 -0.7h1m-1 0.8h1m-0.9 -0.2h1m-0.6 -0.7h1m-0.1 0.4h1m0 -0.1h1m-1 0.5h1m-0.7 -0.3h1m-0.1 -0.6h1m-0.3 0.1h1m0 0h1m21 0.8h1m-0.8 -0.2h1m-0.5 -0.6h1m-0.6 0.3h1m-0.6 0.5h1m-0.6 -0.2h1m-0.6 -0.2h1m-1 0.3h1m-1 -0.8h1m-0.7 0h1m-0.9 0.4h1m-0.8 0.2h1m-0.8 -0.6h1m-0.2 0.7h1m-0.9 0h1m-0.9 0.2h1m-0.9 -0.7h1m-1 0h1m-0.6 -0.2h1m-0.1 0.7h1m-0.9 0.3h1m-0.3 -0.1h1m-0.7 -0.6h1m-0.6 0.6h1m-0.8 0h1m-0.9 -0.8h1m-0.2 0.8h1m-1 -0.1h1m-0.2 -0.1h1m-0.9 -0.5h1m0 -0.2h1m2.9 0h1m1.4 0.6h1m-0.6 -0.3h1m-0.9 0h1m0 -0.3h1m-0.7 0.5h1m-0.3 -0.4h1m-1 0.2h1m0.1 -0.1h1m0.1 0.6h1m0.1 -0.8h1m-0.9 0.8h1m-0.6 -0.5h1m0.8 0.2h1m1.9 -0.3h1m-0.9 0.3h1m-67.8 1.2h1m-0.1 0.1h1m-0.4 -0.6h1m-0.9 0.8h1m-0.5 -0.9h1m-0.9 0.8h1m-0.7 -0.5h1m-0.3 -0.4h1m-0.9 0.2h1m0.3 0.1h1m0.3 0.1h1m0.2 -0.4h1m2.3 0.8h1m-0.9 -0.7h1m-0.3 0.1h1m-0.5 0h1m-0.3 0.3h1m-0.9 0.4h1m-0.4 0h1m-0.6 0h1m-0.8 -0.5h1m-0.4 0.3h1m-1 -0.3h1m-0.9 -0.3h1m-0.6 0.5h1m-0.6 -0.2h1m22.3 0h1m-0.8 0.4h1m0.1 -0.2h1m-0.8 0h1m-0.2 0.2h1m-1 -0.4h1m-0.8 -0.3h1m-0.7 0h1m-0.7 0.9h1m-0.4 -0.1h1m-1 -0.5h1m-1 -0.3h1m-0.8 0.1h1m-0.9 0.6h1m-1 0.1h1m-0.1 -0.2h1m-0.1 0h1m-0.4 -0.6h1m-0.8 0.7h1m-0.9 -0.3h1m-0.3 0.3h1m-0.8 -0.1h1m-0.5 -0.5h1m0.2 -0.2h1m-0.7 0.2h1m-0.6 0.2h1m-0.6 -0.1h1m-1 0.3h1m-0.8 0.3h1m-1 -0.3h1m-0.5 -0.5h1m-0.9 0.8h1m-0.8 -0.3h1m0.3 0.4h1m0.7 -0.4h1m-0.4 0.2h1m-0.8 -0.6h1m-0.8 -0.2h1m-1 0h1m-0.4 0.4h1m-0.3 0.1h1m-0.1 0.4h1m0.1 -0.3h1m-0.8 0.2h1m-0.8 -0.4h1m-0.9 -0.1h1m1.7 -0.1h1m-0.8 0.4h1m0 -0.2h1m-0.6 -0.2h1m-1 0.5h1m1.2 -0.4h1m-1 0.2h1m-0.8 -0.2h1m-0.3 0.4h1m-0.8 0h1m2.2 -0.3h1m-0.8 0.1h1m-0.7 -0.4h1m-68.9 1.4h1m5.1 -0.1h1m0.3 0.3h1m-0.9 -0.2h1m-0.6 0.2h1m-0.4 0h1m-1 -0.4h1m-0.7 -0.3h1m-0.1 0.4h1m-0.4 0h1m-0.8 0.4h1m-0.5 -0.1h1m0.3 -0.4h1m-0.7 -0.1h1m24.9 -0.1h1m0.1 0.9h1m-0.3 -0.3h1m-0.8 -0.6h1m-0.9 0.5h1m-0.6 -0.6h1m-0.9 0.1h1m-0.8 0h1m-0.9 0.4h1m-0.9 0.4h1m-1 -0.6h1m0.5 -0.1h1m-0.3 0.5h1m-0.9 -0.1h1m0.1 -0.4h1m-0.4 -0.1h1m-1 -0.1h1m-0.6 1h1m-0.3 -0.3h1m-0.9 -0.6h1m-0.4 0.8h1m-0.9 -0.3h1m-0.7 0.1h1m-0.9 -0.6h1m-0.2 0.1h1m-0.4 0.8h1m-1 -0.7h1m-0.7 0.6h1m-0.7 -0.3h1m-0.4 0.2h1m-1 0.1h1m-0.9 -0.2h1m-0.8 -0.6h1m-0.3 0.4h1m-0.9 -0.4h1m-0.6 0.5h1m-0.1 0h1m-0.3 0h1m0.4 -0.5h1m-0.6 0h1m1.1 0.3h1m0.4 0.6h1m-0.8 -0.1h1m0.4 -0.9h1m-0.8 1h1m-0.7 -0.5h1m-0.9 -0.5h1m-0.5 0.2h1m-0.1 0.2h1m-0.3 -0.1h1m0.1 0.4h1m-0.7 0.2h1m-1 -0.2h1m1.3 0.1h1m-67.4 0.9h1m-0.2 -0.1h1m-0.7 -0.2h1m-0.6 0.1h1m0.8 0.1h1m-1 0.2h1m-1 -0.6h1m0.1 0.4h1m-0.6 0h1m0.5 -0.4h1m-0.4 0.5h1m-0.6 -0.4h1m-1 -0.2h1m-0.7 0.9h1m-0.7 -0.8h1m-1 -0.2h1m0.5 1h1m0.2 -0.4h1m-0.6 -0.3h1m23.8 0.5h1m-0.5 -0.7h1m2 0h1m-0.6 0.1h1m-1 0.4h1m-0.5 0.2h1m-0.7 0h1m-0.5 0.1h1m-0.8 -0.2h1m1.2 -0.6h1m-0.2 0.2h1m-0.3 0.2h1m-1 0.2h1m-0.6 0.1h1m0.2 -0.6h1m-0.3 0.3h1m-0.5 -0.1h1m-0.2 0.4h1m1 -0.6h1m-0.6 0.4h1m0 -0.3h1m-0.1 0h1m0.1 0.4h1m0.3 -0.3h1m2.1 0.3h1m2.9 -0.6h1m-0.3 0.2h1m0.2 0.6h1m-0.5 -0.7h1m-0.2 0.7h1m-66.5 0.8h1m-0.6 0.1h1m-0.6 0.1h1m-0.6 -0.1h1m-0.5 -0.2h1m-0.5 -0.2h1m0.5 0h1m2.9 0.2h1m-0.8 0.3h1m-0.9 0h1m0.6 -0.6h1m-0.9 0.6h1m25.9 -0.3h1m-0.2 0.2h1m-0.7 -0.5h1m0.9 0.4h1m-0.6 0.3h1m-0.9 -0.2h1m-0.7 -0.1h1m6.4 -0.1h1m2.1 0.3h1m-0.6 -0.2h1m-0.9 -0.1h1m-0.8 0.3h1m-0.9 -0.4h1m-0.3 -0.4h1m-0.3 0.4h1m0 -0.1h1m0.3 0.2h1m-0.3 0.4h1m5.5 -0.7h1m-0.8 0.3h1m-0.8 0h1m-0.6 -0.5h1m-0.8 0.3h1m-0.1 0.4h1m-0.9 -0.5h1m-0.8 0h1m-0.2 0.6h1m-66.1 0.2h1m-0.7 -0.1h1m0.5 0h1m-0.4 0.3h1m-0.9 0.3h1m-0.9 -0.3h1m-0.3 0h1m-1 0.1h1m1.5 -0.3h1m0.8 0.8h1m-0.2 -0.6h1m-0.6 -0.2h1m25.7 0.3h1m-0.7 0h1m0 -0.2h1m-0.6 0.6h1m7.1 -0.7h1m-0.3 0h1m1.4 0.1h1m1.1 -0.1h1m-0.8 0.9h1m-0.4 -0.9h1m-0.8 0h1m-0.9 0.1h1m-0.3 0.5h1m-0.7 0h1m1.4 -0.1h1m-0.3 -0.4h1m1.1 0.4h1m0.1 -0.2h1m3 0.3h1m-0.2 -0.3h1m-65.5 1.2h1m-0.4 0.2h1m-0.9 -0.4h1m-0.9 -0.2h1m-0.4 0.7h1m0.1 -0.3h1m-0.2 0.2h1m-0.8 0.1h1m-1 -0.7h1m-0.4 -0.1h1m-0.2 0.3h1m-0.7 -0.2h1m-0.4 0.2h1m1 -0.2h1m-0.7 0.5h1m-0.1 -0.1h1m-0.9 -0.1h1m0.1 -0.3h1m-0.8 0.4h1m-0.7 -0.3h1m23.9 -0.1h1m1.7 0.2h1m-1 -0.4h1m-0.4 0.5h1m9.9 0.4h1m-0.4 -0.9h1m-1 0.6h1m-0.7 -0.2h1m0.4 -0.1h1m-0.9 0h1m0 -0.2h1m-1 0.5h1m-0.8 -0.6h1m-0.4 0.6h1m-1 0.1h1m-0.5 -0.1h1m-1 -0.2h1m-0.4 -0.1h1m-0.6 -0.2h1m-0.7 0.4h1m-0.4 0.2h1m-0.8 0.2h1m-0.1 -0.8h1m-0.6 0.6h1m-0.9 -0.5h1m0.2 0.1h1m1 0.2h1m1.6 -0.2h1m-64.3 1.4h1m-1 0.3h1m1.4 -0.6h1m0.1 0h1m-0.8 0h1m-0.2 -0.1h1m0.3 0.1h1m-0.1 0.4h1m-0.3 -0.2h1m-0.4 0.2h1m-1 -0.6h1m-0.8 -0.1h1m-0.6 0.3h1m-0.3 -0.2h1m-1 0.1h1m-0.7 0.7h1m-0.6 -0.7h1m-0.9 0.2h1m25.7 -0.3h1m0.7 -0.1h1m-0.9 -0.1h1m9.2 0h1m0 0.7h1m-0.7 -0.6h1m-0.6 0.2h1m-0.4 -0.1h1m-0.2 0.5h1m0.2 -0.7h1m-0.4 0.2h1m-0.3 0h1m-0.7 0.1h1m1.1 0.1h1m-0.7 0.5h1m-56.6 0.8h1m1.6 -0.2h1m-0.9 -0.1h1m0.9 -0.3h1m0.4 0.5h1m0.6 0.3h1m-0.5 -0.5h1m24.6 0.3h1m1.6 -0.2h1m0.2 -0.4h1m8.5 0.4h1m-0.5 0.3h1m-0.1 -0.5h1m0.6 -0.3h1m-1 0h1m-0.9 0.8h1m0.1 -0.7h1m-0.6 0.3h1m0.4 0h1m-0.6 -0.3h1m-0.9 0.6h1m0.2 -0.4h1m0.4 0h1m0.5 0.7h1m-59.9 0.1h1m-0.3 0.9h1m-0.9 -0.1h1m-0.4 -0.5h1m1.1 -0.1h1m-0.8 -0.2h1m-0.1 0.5h1m0.2 0h1m-0.3 0.4h1m0.1 -0.5h1m0.6 0h1m23.7 -0.2h1m-0.6 0.6h1m0.8 0h1m0.1 -0.5h1m11.7 -0.3h1m0.2 0.7h1m-0.8 -0.3h1m-1 -0.2h1m-0.4 0h1m-0.4 0h1m-0.7 -0.1h1m-0.8 0h1m-0.5 0.7h1m-0.2 -0.5h1m-0.8 -0.1h1m2.3 0h1m-0.7 0.6h1m-58.8 0.2h1m0.9 0.8h1m2.5 -0.7h1m-0.7 -0.1h1m0.3 0.4h1m27.6 0.4h1m-0.8 -0.7h1m-0.4 0.4h1m-1 -0.1h1m0 -0.3h1m13.7 -0.1h1m0.2 0.5h1m-0.8 0.3h1m-0.3 -0.8h1m-1 0.5h1m0.2 -0.1h1m-56.7 1h1m1.5 0.4h1m-0.3 -0.6h1m-0.4 0.3h1m0.3 -0.4h1m-0.1 0.1h1m-0.7 -0.2h1m-0.5 0.2h1m-0.3 -0.2h1m25.4 0.8h1m-1 -0.7h1m-0.7 0.1h1m-0.1 0.1h1m0 -0.1h1m-0.2 0.5h1m-1 -0.7h1m11.3 0.8h1m4.7 -0.7h1m-0.4 -0.1h1m-51.2 1.4h1m0.5 0.3h1m-1 -0.8h1m-0.9 0.5h1m-0.1 -0.5h1m25 0.5h1m0 0h1m0.6 0.3h1m11 -0.3h1m1.3 -0.3h1m-48.9 1.3h1m-0.7 0.2h1m-0.3 -0.3h1m0.9 0h1m-0.8 0.4h1m-0.3 -0.5h1m-0.7 0.4h1m-0.1 0h1m-0.7 0h1m25.5 0.1h1m-0.8 -0.1h1m-0.4 -0.1h1m-0.2 -0.1h1m-0.6 -0.2h1m10.7 0.2h1m0.8 0.1h1m-0.7 -0.4h1m-50.1 1.7h1m-0.7 -0.7h1m2.9 0.3h1m-0.6 -0.3h1m-0.7 0.1h1m-0.4 0.4h1m-0.8 -0.5h1m24.5 0.8h1m-0.4 -0.2h1m-0.4 -0.1h1m0.2 -0.3h1m-0.8 0.1h1m-0.6 0.4h1m-0.2 -0.3h1m-0.8 -0.4h1m8.8 0.2h1m1.1 0.6h1m-0.4 -0.2h1m-0.5 -0.6h1m-46.7 1h1m-0.9 0.6h1m-0.8 0h1m0 0.1h1m1.3 -0.3h1m24 -0.1h1m-0.1 0.1h1m1.1 -0.5h1m-0.7 0.3h1m8.6 0h1m-0.7 -0.2h1m0 0.4h1m0.6 0.2h1m-0.2 -0.8h1m-45.5 1.4h1m-0.5 0.2h1m0.4 -0.1h1m24.4 0.4h1m-1 -0.1h1m1 0.2h1m0.4 -0.1h1m9.4 0h1m-0.8 -0.3h1m-0.8 -0.4h1m-0.2 0.2h1m0.3 0.6h1m0.1 -0.9h1m-0.9 0.5h1m-47.7 0.7h1m-1 0.2h1m0.3 -0.4h1m0 0.2h1m-0.1 0h1m25.7 -0.2h1m0.3 0.4h1m14 -0.4h1m-16.9 1h1m-0.4 0.7h1m-0.1 -0.1h1m0 0.1h1m-0.7 -0.2h1m-0.6 -0.2h1m6.4 0.3h1m-0.3 -0.5h1m-0.7 -0.2h1m-0.7 0.9h1m-0.4 -0.6h1m-14.7 0.7h1m-0.9 0.6h1m-0.3 -0.5h1m-1 0.4h1m1.2 -0.2h1m-1 0.4h1m4.2 0.3h1m2.9 -0.8h1m-0.8 0.5h1m-0.4 -0.2h1m-0.8 -0.5h1m0 0.1h1m0 0.3h1m-15.5 0.8h1m-0.5 0.2h1m-1 0.4h1m-0.5 -0.6h1m-0.9 0.2h1m-0.4 0h1m-0.4 0.3h1m2.2 -0.5h1m1.8 0.1h1m2.7 0.4h1m-1 0.2h1m-0.8 -0.1h1m-0.8 -0.6h1m-0.4 0h1m0.6 0.1h1m-15 1.7h1m0.5 -0.5h1m0.1 0.3h1m-0.6 -0.6h1m1 0.8h1m-0.7 0h1m1.2 -0.2h1m-0.9 0.2h1m-0.9 -0.2h1m-0.6 -0.7h1m-0.8 0.1h1m-1 0.8h1m-0.1 -0.6h1m0 -0.3h1m1.7 0.9h1m-0.8 -0.2h1m-14.1 0.7h1m-0.6 -0.2h1m-0.3 0.1h1m-0.6 0.2h1m-0.7 -0.2h1m1 0.4h1m-0.7 -0.8h1m1.2 0.5h1m0 -0.1h1m-1 -0.1h1m-1 -0.1h1m2 0.6h1m-0.1 -0.2h1m0.1 0.4h1m-0.8 -0.4h1m-0.6 -0.2h1m-13.2 0.9h1m-0.7 0.3h1m0.2 0.3h1m-0.7 -0.6h1m-1 0.3h1m-0.8 -0.4h1m-1 0.6h1m-0.9 0.1h1m-0.9 -0.8h1m0.2 0h1m0.2 0.5h1m-0.2 0h1m-0.1 -0.5h1m1.6 0.4h1m-0.8 -0.3h1m-0.7 0.3h1m-0.6 -0.4h1m-0.8 0.3h1m0 -0.2h1m-8.6 1.4h1m-0.5 0.3h1m-0.6 0h1m-0.6 -0.2h1m-0.7 -0.4h1m1.8 0.2h1m-0.2 -0.1h1m-4.8 0.7h1m0.1 0.1h1" stroke="#38b6c1" stroke-width="1" fill="none"/>
<path d="M104.6 249.4h1m6.2 0h1m-8.9 1h1m1.6 -0.5h1m3.2 0.3h1m0.8 -0.2h1m-1 0.5h1m1.6 -0.1h1m-0.5 -0.1h1m-9.6 0.6h1m-0.4 -0.1h1m-0.4 -0.2h1m6.1 0.6h1m-0.7 0h1m-0.6 -0.2h1m0.6 0.4h1m-19.9 0.9h1m-0.9 0h1m0 -0.1h1m5.9 -0.1h1m2.4 -0.5h1m1.2 0.8h1m2.7 -0.4h1m1.3 0h1m-20.2 0.8h1m-0.7 0.5h1m-0.5 -0.3h1m2.2 0.4h1m-0.8 -0.5h1m0 0.2h1m6.8 0h1m0.4 -0.5h1m-0.9 0.1h1m1.7 -0.1h1m-0.3 0.2h1m-0.8 -0.1h1m0.1 0.5h1m-20.6 1.2h1m-0.5 -0.8h1m1.6 0.3h1m7.7 0h1m2.3 0.2h1m-0.5 -0.1h1m-17.3 1.3h1m-0.9 0h1m-0.9 -0.4h1m10.4 -0.2h1m8.4 0.8h1m3.9 -0.3h1m-0.5 0h1m-29.1 0.9h1m-0.8 -0.5h1m-0.8 0.8h1m-1 0.1h1m-0.8 -0.2h1m-0.7 0.1h1m-0.8 -0.5h1m-0.6 0.1h1m-1 -0.1h1m-0.7 -0.4h1m-0.9 0.3h1m0.6 0.1h1m20.1 0.2h1m0 0h1m-0.5 -0.1h1m0.9 -0.5h1m0.5 0.6h1m-0.7 0.2h1m-30.8 0.6h1m-0.5 -0.4h1m-0.9 0.3h1m-0.4 0.2h1m0.8 -0.2h1m0.7 0.5h1m8 -0.6h1m0.4 0.3h1m6.5 -0.4h1m0.8 0.7h1m-0.5 -0.7h1m-0.4 0.8h1m0.7 -0.9h1m-0.6 0.7h1m0.1 -0.4h1m-0.8 0.6h1m-0.5 -0.1h1m-0.6 -0.7h1m-0.5 0h1m-0.4 0.4h1m-0.5 -0.2h1m-0.3 0.4h1m-0.8 0h1m0 0h1m-0.1 0.3h1m-35.3 0.7h1m0.8 0.2h1m4.4 -0.9h1m0.6 0.5h1m2.9 0.2h1m0.4 -0.3h1m0.5 0.2h1m9.3 -0.3h1m1.1 0.2h1m-0.4 -0.2h1m-0.3 0.1h1m-0.6 -0.4h1m-0.7 0.5h1m-0.4 0h1m-0.9 -0.2h1m-0.2 0.5h1m-0.4 -0.6h1m-0.4 0.4h1m0 0.4h1m0.6 -0.6h1m-0.5 0.5h1m-37 0.7h1m5.2 0.2h1m3.4 -0.1h1m0.2 -0.4h1m0.1 0h1m-0.6 0.4h1m9.1 -0.4h1m4.3 0.2h1m-0.9 0.1h1m-0.1 -0.5h1m0.5 0.3h1m-0.9 0.5h1m-0.5 0.1h1m-1 -0.3h1m-0.9 -0.6h1m-0.6 0.7h1m-0.6 0.1h1m0.1 -0.4h1m-0.7 0.2h1m-0.8 -0.2h1m-0.1 -0.1h1m-0.8 0h1m0.7 -0.4h1m-39.2 1.2h1m1.7 0.2h1m0 0h1m8.8 -0.2h1m3.7 0h1m1.4 0.3h1m10 -0.2h1m3.1 0.2h1m-0.8 -0.4h1m4.6 0.6h1m-0.9 -0.1h1m-1 -0.4h1m-0.7 0.7h1m1 -0.5h1m-0.4 0.4h1m-45.7 1.1h1m2.2 0h1m0.4 -0.3h1m2.4 -0.1h1m3.3 -0.1h1m2.1 -0.3h1m0.5 0.8h1m2.9 -0.2h1m-0.3 -0.2h1m2.6 -0.1h1m2.6 -0.4h1m0.9 0.9h1m0.4 -0.9h1m2.7 0.5h1m2.2 0.3h1m1.4 -0.6h1m-0.5 0.3h1m0.5 0.3h1m0.4 -0.1h1m-1 -0.4h1m0.4 0.7h1m-0.7 -0.5h1m-49.1 1.2h1m-0.5 0h1m5.5 0.2h1m-0.6 -0.2h1m2.2 -0.1h1m-0.8 -0.4h1m-0.8 0h1m1.6 0.6h1m4.2 0.1h1m2.2 -0.2h1m7.3 0.1h1m0.3 0.2h1m1.4 0h1m0 -0.7h1m11.5 0.6h1m-0.8 -0.2h1m2.1 -0.7h1m-52.3 1.7h1m6.9 -0.3h1m-0.6 0.6h1m-0.5 -0.9h1m-0.1 0.2h1m-0.6 0.4h1m0.5 0.3h1m4.8 -0.4h1m3.7 0.4h1m2.2 -0.5h1m3.7 -0.3h1m0.4 0.5h1m-0.2 0.1h1m-0.5 0.2h1m2.1 -0.7h1m9.7 0.1h1m4.7 0.3h1m0.4 -0.3h1m-0.8 -0.3h1m-0.9 0.5h1m0.1 0.3h1m-51.9 0.1h1m0.4 0.3h1m0.2 0.6h1m2.8 -0.4h1m1.4 0.3h1m3.3 0h1m-0.2 0.2h1m5.6 0h1m0 -0.3h1m0.2 0.2h1m25.4 0h1m-0.8 -0.2h1m2.8 0h1m-58.9 0.8h1m-0.7 -0.4h1m2.6 0.8h1m-1 -0.1h1m-0.6 -0.6h1m5.3 0.2h1m3.5 0.1h1m-0.9 -0.2h1m-0.4 0h1m-0.7 0.5h1m-0.8 -0.5h1m0.8 -0.2h1m4.4 0.4h1m0 0.3h1m0.8 -0.3h1m-0.3 0.3h1m2.1 0h1m2.6 0h1m-0.5 -0.4h1m2.3 0.1h1m-0.4 -0.1h1m-0.7 0.2h1m2.9 -0.4h1m7.5 0.7h1m0.1 -0.7h1m2.1 0.3h1m-0.4 0h1m-1 -0.2h1m-0.5 0.5h1m0.8 0.2h1m-59.9 0.7h1m4 -0.4h1m0.2 0.4h1m-0.7 -0.5h1m-0.7 0.5h1m1.4 -0.6h1m0.5 0.4h1m2.4 0.2h1m2.6 0.3h1m-0.5 -0.5h1m-0.6 0.1h1m2.1 -0.3h1m2.2 0.6h1m2 -0.7h1m0 0.1h1m5.1 0.7h1m0.1 -0.5h1m0.2 0.4h1m1 0.1h1m7.5 -0.8h1m2.7 0h1m-0.5 0.7h1m0.2 -0.2h1m1.3 -0.4h1m-0.8 0.6h1m1.3 -0.1h1m-58.7 0.7h1m0.6 -0.3h1m8.4 0.3h1m3.9 -0.4h1m8.6 0.3h1m3.1 0.4h1m5.6 -0.3h1m2.3 -0.3h1m4 0.4h1m5.3 0.1h1m-0.9 -0.2h1m-0.8 -0.1h1m-0.3 0.2h1m1.7 0.1h1m-0.5 0.1h1m-57.2 1.2h1m1.4 -0.3h1m2.2 0.3h1m-0.3 -0.6h1m25.5 0.3h1m2 0h1m13.6 0.3h1m0.9 -0.6h1m2.1 0.6h1m0.1 -1h1m-0.5 0.5h1m-0.5 0.2h1m-0.1 -0.6h1m0 0h1m-0.7 -0.1h1m2 0.9h1m-0.6 -0.7h1m-65.3 1.5h1m2.6 -0.2h1m-1 0.1h1m4 0.2h1m2.1 -0.7h1m-1 0.2h1m-0.8 0.4h1m3.5 0.1h1m19.5 0.2h1m0.5 -0.6h1m-0.8 -0.1h1m0 0.3h1m2 0.1h1m8.9 -0.4h1m2.5 0.5h1m-0.1 -0.8h1m-0.9 0.6h1m0.9 -0.6h1m-0.5 0.5h1m0.1 -0.1h1m1.9 0.6h1m0.9 -0.1h1m-66.6 1h1m-0.7 -0.5h1m4.3 0.5h1m2.1 -0.1h1m4.8 -0.5h1m6.9 -0.3h1m2.4 0h1m1.2 0.3h1m-0.2 0.2h1m6.2 -0.4h1m0.3 0.7h1m10.1 -0.2h1m5.5 0.2h1m3 -0.7h1m-0.3 0.7h1m1.5 -0.6h1m0.1 0.3h1m-0.3 -0.4h1m-63.7 1.5h1m-0.9 0h1m-0.7 -0.2h1m-1 0.5h1m4.4 -0.6h1m0.8 -0.2h1m16.8 0.6h1m0.8 -0.1h1m7.1 0.4h1m-0.5 -0.2h1m13.1 0h1m0.5 0.1h1m1.4 -0.6h1m0.4 -0.2h1m0.6 0.1h1m0.6 0.6h1m0.3 -0.6h1m3.4 -0.1h1m-68.3 1.6h1m-0.5 0h1m-0.8 0.2h1m0.6 -0.6h1m4.8 0.5h1m8.2 0.1h1m2.3 -0.5h1m19.7 0h1m0.7 0.2h1m-0.5 0.1h1m0.5 -0.4h1m7.6 0.2h1m-0.8 0h1m-0.1 0.1h1m1.6 0h1m0 -0.6h1m0.6 0.7h1m0.8 -0.3h1m-0.5 -0.3h1m-0.3 0h1m-0.8 0.2h1m-0.7 0h1m-0.1 0.1h1m-0.8 0.1h1m-0.6 -0.4h1m-0.9 0.7h1m-0.1 -0.4h1m-0.8 0h1m-66.7 0.9h1m0.4 0.4h1m-0.5 -0.5h1m0.2 0.5h1m0.4 0.3h1m-0.8 -0.7h1m1.5 0.4h1m1.2 0h1m0.1 -0.5h1m-0.8 0.6h1m5.9 0h1m0.1 -0.1h1m-0.2 0.2h1m-0.8 0.1h1m7.3 -0.4h1m2.3 0.4h1m13.6 -0.8h1m0.1 0.1h1m0.4 0.6h1m-0.3 -0.4h1m3.2 0.4h1m1.7 -0.1h1m-0.5 -0.4h1m-0.4 -0.3h1m-1 0.8h1m-0.4 -0.9h1m3.1 1h1m1.9 -0.8h1m-0.7 0.5h1m0 -0.7h1m0.1 0.3h1m-69.3 1h1m6.5 -0.3h1m12 0.3h1m0.4 0h1m0.8 0.1h1m10.3 0.6h1m2.8 0h1m7.4 -0.6h1m0.1 -0.2h1m0.3 -0.1h1m3.4 0.7h1m3.1 0.1h1m-1 -0.9h1m1.9 0.4h1m-0.9 -0.3h1m0.4 0.6h1m1 -0.6h1m-0.8 0.4h1m-0.4 0.1h1m-0.9 -0.2h1m-0.5 0.4h1m-69.1 0.5h1m-0.1 -0.1h1m-0.8 0.1h1m-0.1 -0.2h1m1.2 0.1h1m16.4 -0.1h1m10.7 -0.1h1m1 0.3h1m10.8 0.4h1m4 -0.3h1m0.1 -0.2h1m-0.5 0.5h1m4.6 0.2h1m-0.5 -0.3h1m-0.9 -0.1h1m1 0h1m-0.4 -0.2h1m-0.4 -0.3h1m1.2 0.4h1m0.1 0.5h1m-66.2 0.5h1m-1 -0.1h1m-0.7 -0.2h1m10.2 0.2h1m16 0.7h1m9 -0.4h1m11 0h1m-0.9 0.1h1m0.8 -0.2h1m1.5 -0.3h1m0 0.6h1m-0.4 -0.7h1m4.2 0.6h1m-0.9 0.1h1m1.6 -0.1h1m0.7 -0.1h1m0.2 0h1m0 -0.1h1m-0.7 0h1m-72.1 1h1m3.4 -0.1h1m17.8 0h1m2.9 0.2h1m25.6 0h1m2.9 -0.3h1m7.3 -0.1h1m0.8 -0.2h1m0.3 0.6h1m0.3 -0.1h1m1.2 0.4h1m-74.1 0.2h1m-0.4 0.3h1m-0.3 -0.3h1m1.7 -0.1h1m20.4 0.5h1m24.8 -0.1h1m1.1 0.1h1m0.1 0.3h1m2.1 -0.5h1m-0.8 -0.2h1m2.1 0.3h1m-1 -0.2h1m0.4 -0.2h1m5.4 0.3h1m0.7 0.3h1m1.5 0.2h1m-58.8 0.8h1m16.5 0h1m21.5 -0.1h1m-0.8 0.1h1m-0.9 -0.1h1m-0.2 -0.1h1m-0.3 0.3h1m3.2 -0.1h1m0.1 -0.6h1m-0.1 0.1h1m-0.2 -0.1h1m-0.3 0.7h1m6.5 0h1m-0.3 0.2h1m-59 0.6h1m5.3 -0.5h1m6.9 1h1m24.2 -0.6h1m-0.8 0.3h1m4.6 -0.2h1m-0.1 0.4h1m6.7 -0.4h1m0 -0.1h1m2.9 -0.3h1m-78.5 1.6h1m27.7 0h1m24.6 0h1m4.7 -0.4h1m-0.7 0.6h1m-0.1 -0.2h1m0.1 0.3h1m-0.4 -0.1h1m-0.6 -0.4h1m0.2 0h1m0.4 -0.3h1m0.1 0h1m4.9 0.2h1m-71.4 1.2h1m21.8 -0.1h1m7.2 0.2h1m23.4 -0.5h1m-0.4 0.1h1m2.9 0.5h1m-0.6 -0.5h1m-0.1 0.3h1m-0.7 0.3h1m-0.8 -0.7h1m0.4 0.1h1m-0.5 0.1h1m1.2 0.4h1m1.3 -0.2h1m0.2 -0.6h1m-74.3 1.8h1m11.5 0.2h1m13.9 -1h1m3.3 0.6h1m1 0.2h1m-0.1 -0.5h1m3.1 0.2h1m1 0.5h1m23.7 -0.3h1m3.6 -0.2h1m0.1 -0.4h1m0.7 -0.1h1m-0.6 0.7h1m0 -0.1h1m0.4 -0.3h1m0.7 0.7h1m-79.3 1h1m7.6 -0.7h1m23.7 -0.2h1m7.2 0.8h1m4.9 -0.4h1m1.6 -0.2h1m-0.1 -0.3h1m6.7 0h1m2.5 0.8h1m-0.9 0.2h1m-0.7 0h1m1.5 -0.9h1m-0.7 0.7h1m1.2 -0.5h1m2.1 0.6h1m2.5 -0.2h1m0.9 0.2h1m-0.4 -0.6h1m2.7 0.5h1m-52.6 0.6h1m14.6 0h1m-0.2 -0.3h1m2.9 0.9h1m-0.2 -0.8h1m10 0h1m-0.5 0.3h1m-1 0.2h1m3.8 -0.1h1m-0.1 0h1m4.3 0h1m1.3 0.3h1m0.4 0h1m0.2 -0.7h1m-0.9 0.3h1m0.5 0.1h1m-73.7 1h1m4.5 0h1m16.7 0.3h1m-0.5 -0.5h1m17.3 0.3h1m11 -0.3h1m0.2 0h1m1.9 0.3h1m-0.9 0h1m0.3 -0.3h1m-0.2 0.4h1m0.6 0h1m2.6 -0.2h1m-0.8 -0.4h1m-0.9 0.6h1m0.5 0.2h1m-0.7 -0.3h1m-0.9 -0.6h1m2.7 0.8h1m-79.2 1h1m17.5 0h1m2 -0.3h1m7.5 -0.5h1m8.4 0.2h1m3.6 0.7h1m5.2 -0.6h1m3.6 -0.1h1m8 -0.3h1m-0.8 0.2h1m0.3 0h1m-0.8 0.8h1m1.1 -0.4h1m4.4 0.3h1m-0.9 -0.8h1m0.4 0.5h1m-0.8 0.1h1m-0.3 -0.3h1m3.8 -0.4h1m-71.2 1.9h1m2 -0.3h1m9.1 -0.3h1m2.9 -0.1h1m10.7 0.8h1m15.6 -0.7h1m-0.2 -0.1h1m1.4 0.5h1m2.8 -0.5h1m0.4 0h1m0.6 0.1h1m-0.9 -0.3h1m5.1 0.5h1m2.3 -0.4h1m0.8 0.1h1m2.2 0.1h1m-78.2 1.1h1m3 0.2h1m4.2 0h1m1 -0.3h1m26.5 -0.2h1m1.1 0.3h1m2.7 0.1h1m1 0h1m10.3 0.4h1m0.3 -0.3h1m1.9 0h1m2 -0.2h1m2.3 -0.1h1m0.4 0.2h1m-0.9 -0.1h1m-0.6 0.1h1m0.1 -0.2h1m1.3 -0.1h1m-0.7 -0.1h1m-0.6 0.7h1m-0.4 -0.3h1m1 -0.1h1m-0.4 0.2h1m-0.1 -0.2h1m-84.3 1h1m4.2 0.3h1m-0.5 -0.6h1m3.4 0.3h1m18.7 -0.1h1m5.5 0.6h1m11.3 0h1m-0.8 0h1m0.5 -0.2h1m-0.5 -0.1h1m3.4 -0.1h1m3.2 0.1h1m4.3 0.2h1m0.9 -0.7h1m11.2 0.5h1m-0.5 -0.5h1m-0.7 0.8h1m-0.7 -0.4h1m-73.8 0.6h1m4.3 0.6h1m11.1 -0.2h1m3.5 -0.3h1m-0.3 0.5h1m16.8 0.2h1m7.8 -0.6h1m7.4 -0.1h1m-0.2 -0.1h1m0.1 0.6h1m2.6 -0.7h1m0.8 0.4h1m-0.6 -0.1h1m-0.6 0.3h1m0.8 -0.6h1m-0.5 0.5h1m-0.7 -0.3h1m3.4 0.3h1m0.7 -0.4h1m-0.9 0.4h1m-0.7 -0.1h1m-79.5 1.5h1m-0.6 -0.1h1m-0.9 -0.5h1m-1 0.4h1m8.2 0h1m23.8 -0.6h1m8.2 0h1m-0.6 0.2h1m-0.3 0.2h1m-1 -0.2h1m10.4 -0.1h1m0.4 0.6h1m2.9 -0.5h1m-0.2 0.3h1m1.8 0.1h1m-0.9 0.2h1m-0.6 -0.8h1m4.6 0.9h1m0.5 -0.9h1m1.7 0.3h1m1.8 -0.1h1m0.2 0.1h1m-79.5 1.4h1m36.7 -0.3h1m9.8 0.3h1m4.4 0.1h1m9.5 -0.7h1m5.1 0.8h1m-0.7 -0.9h1m3.6 0.5h1m-0.1 -0.1h1m-0.8 -0.5h1m0 0h1m0.4 0.4h1m-83.4 1h1m-0.7 -0.1h1m-0.6 0.4h1m-0.3 0.1h1m0.7 -0.1h1m-0.9 0.2h1m-0.3 -0.8h1m8.5 0.5h1m0.7 0.1h1m19.2 -0.4h1m8 0h1m3.9 0h1m2.4 0.3h1m9.3 0.2h1m0.8 -0.6h1m0 0h1m3 0h1m1.5 0.4h1m-0.3 -0.1h1m0.3 -0.5h1m0.4 0.8h1m0.3 -0.7h1m-0.7 0.7h1m-0.4 -0.5h1m-0.7 0.7h1m0.6 -0.6h1m-1 0.4h1m-79.4 1h1m-0.2 0.2h1m0.2 -0.1h1m-0.9 -0.4h1m-0.6 -0.2h1m2.1 -0.1h1m10.5 0.3h1m-0.9 -0.3h1m35.4 -0.1h1m17.5 0.4h1m0 0.4h1m3.9 -0.4h1m-0.7 0h1m-0.5 -0.5h1m-78.1 1.9h1m-0.8 -0.7h1m-0.5 0.1h1m17 0.2h1m22.5 0.4h1m23.2 -0.1h1m1.9 -0.1h1m0.2 0.2h1m2.7 -0.9h1m0.1 0.6h1m0.9 -0.3h1m-81.5 1.4h1m-0.5 0.1h1m0.2 0h1m0.7 -0.7h1m-0.3 0.7h1m-0.4 -0.6h1m1.8 0.6h1m6.8 0h1m3.8 0h1m4.7 -0.8h1m4.6 0.8h1m19.2 -0.5h1m12.4 0.6h1m1.9 -0.8h1m4.7 0.2h1m-0.3 0.1h1m6 -0.4h1m-81.7 1.2h1m-0.6 0.3h1m0 0h1m1.3 0.1h1m-0.6 -0.3h1m59.3 0.3h1m13.1 0.4h1m1.5 -0.9h1m-79.4 1.5h1m0 -0.1h1m0 -0.2h1m-0.9 0.1h1m2 0.2h1m2.6 0h1m1.1 0h1m4.5 -0.2h1m43.7 0.4h1m4.4 -0.4h1m1.8 -0.2h1m7 -0.1h1m-0.9 0.7h1m-78.6 0.5h1m-0.2 0.2h1m-0.6 -0.4h1m-0.8 0.4h1m22.1 0.3h1m42.3 -0.1h1m-0.9 -0.1h1m0.3 0.3h1m0.9 -0.6h1m1.7 0.1h1m-1 0.6h1m1.7 -0.8h1m1.3 0.8h1m-81.2 0.3h1m0.1 0.2h1m0.6 0.2h1m-0.6 -0.1h1m-0.8 -0.5h1m-0.4 0.2h1m57.7 0.7h1m-0.8 0h1m-0.4 -0.8h1m3.6 0h1m-0.5 -0.1h1m3.7 0.4h1m-0.5 0h1m4.3 -0.2h1m-79.4 1.3h1m0.3 -0.5h1m1.1 0.2h1m-1 -0.2h1m-0.6 0.7h1m19.3 -0.4h1m0 0.4h1m43.9 -0.4h1m-0.4 -0.2h1m0.3 0.6h1m0.2 -0.3h1m-0.4 -0.2h1m0 0.7h1m0.2 -0.1h1m-0.2 0h1m1.5 -0.6h1m-0.2 0.4h1m-0.6 -0.4h1m-81.3 0.9h1m-0.5 0.4h1m-0.9 0.4h1m0.2 -0.2h1m0.1 -0.6h1m-0.8 0.6h1m56.1 -0.2h1m-0.7 0.3h1m-0.2 0.1h1m-0.3 -0.8h1m7.7 0.2h1m-0.3 -0.2h1m1.1 0.7h1m-0.8 -0.1h1m0.2 0h1m-1 0h1m-0.5 -0.7h1m1.4 0h1m1.7 0.7h1m-79.5 0.7h1m-0.2 -0.5h1m-0.4 0.2h1m16.3 0.3h1m38.9 -0.1h1m-0.9 0.4h1m1.5 -0.3h1m1.8 0.1h1m2.3 0.3h1m2.2 -0.8h1m5.6 0.1h1m-79.5 1h1m-0.2 -0.1h1m0.5 0.6h1m-1 -0.6h1m21 0.4h1m0 0h1m33.5 0h1m-0.8 0.1h1m1.2 0.4h1m-0.2 -0.5h1m1.5 0.2h1m0.2 -0.6h1m0 0.5h1m3.1 -0.4h1m0.2 0.3h1m-0.2 -0.2h1m-0.1 -0.2h1m3.8 0.6h1m-80.6 0.5h1m0.3 0.5h1m0.4 -0.5h1m-0.9 -0.2h1m0.3 0.9h1m11 -0.7h1m17.1 0.6h1m25.7 0h1m3.4 -0.7h1m0.8 0.6h1m2.5 -0.6h1m-0.1 0.3h1m-1 0.3h1m-1 -0.4h1m1.7 0h1m-0.2 0.2h1m0.2 0h1m-0.8 0h1m-76 0.8h1m-0.1 0.2h1m-1 0.3h1m-0.8 0.1h1m-0.6 -0.3h1m-0.6 -0.3h1m-0.6 0.1h1m-0.4 -0.2h1m24.6 0.7h1m30 -0.6h1m2.6 0.6h1m0.7 -0.5h1m3.1 -0.4h1m1.9 0.3h1m-0.4 -0.1h1m-0.4 0.7h1m0 -0.3h1m2.9 -0.2h1m-76.6 0.7h1m-0.8 0.5h1m-0.6 -0.2h1m19 -0.1h1m7.9 0.1h1m-0.9 0.3h1m25.7 -0.3h1m0.2 0.3h1m1.4 -0.3h1m0.2 -0.3h1m5 0.6h1m0 0h1m0.8 0.1h1m1.3 -0.1h1m0 -0.6h1m-0.5 0.2h1m-0.2 0.4h1m-44.5 0.8h1m0.6 -0.3h1m0.3 -0.1h1m23.3 0.5h1m0.9 -0.3h1m2.1 0.3h1m-1 0h1m-0.8 -0.1h1m1 -0.3h1m6 0.7h1m-0.6 -0.8h1m0.7 0.5h1m-0.4 -0.6h1m-1 0.1h1m-65.2 1.7h1m1.7 -0.7h1m3 0h1m38.1 0.1h1m6.3 -0.1h1m1.3 0h1m0.3 0.7h1m0.6 -0.6h1m0.9 0.6h1m-0.3 0.1h1m-0.2 -0.5h1m-60.6 1.3h1m43.1 0.2h1m5 -0.7h1m1.9 0.4h1m-0.8 0.3h1m-0.5 -0.8h1m0.4 0.1h1m3.6 0.6h1m2.5 -0.2h1m-59.5 1h1m9.1 0.1h1m2 -0.6h1m28 0.3h1m1.5 0.5h1m0.1 -0.5h1m-0.1 0.3h1m1.1 -0.1h1m0.4 0h1m0.5 0h1m-0.1 0.3h1m-0.2 -0.6h1m-0.4 -0.1h1m-54.5 1.7h1m11.3 0h1m8.2 0h1m16.8 -0.4h1m6.2 -0.1h1m-0.9 -0.1h1m2.1 -0.2h1m0.2 0.6h1m-0.2 -0.4h1m-0.6 -0.1h1m0.8 0.5h1m1.4 -0.2h1m0.6 0.5h1m-59.7 0.3h1m6.7 -0.2h1m34.7 0.8h1m-0.7 0.1h1m-0.8 -0.9h1m3.8 0h1m-0.2 0.7h1m1 -0.1h1m0.3 -0.4h1m1.4 -0.2h1m-0.4 0.2h1m-0.4 0.6h1m-15.4 0.7h1m0.1 0.2h1m-0.3 -0.7h1m0.1 0.8h1m1.4 -0.8h1m-0.3 0.9h1m2.7 -0.7h1m0.6 0.6h1m-0.4 -0.2h1m0 -0.5h1m-0.7 0.2h1m-0.5 0.5h1m0.1 -0.6h1m-0.6 0.3h1m-45.8 0.6h1m5.9 0.4h1m27.3 -0.2h1m-0.3 0.4h1m0.8 0h1m-0.6 0.2h1m0 -0.7h1m-0.7 0.5h1m0.2 -0.4h1m-0.9 -0.3h1m-0.8 0.7h1m-0.6 -0.7h1m0.4 0.6h1m-0.5 -0.7h1m0.8 0.4h1m-0.5 -0.4h1m-41.6 1.1h1m1.6 0.8h1m-0.4 -0.4h1m23.6 -0.4h1m0.7 0.6h1m0.1 -0.4h1m1.7 -0.2h1m-0.8 -0.1h1m-0.8 0.4h1m-0.7 0.5h1m-0.3 -0.4h1m2.9 -0.5h1m-0.9 0.9h1m-0.2 -0.8h1m-40.7 1.2h1m-0.2 -0.1h1m-0.9 0h1m0.1 0.6h1m25 -0.8h1m-0.7 0h1m-0.1 0.2h1m-0.9 0.1h1m0.7 0.4h1m0.4 0.1h1m1.5 0h1m-0.5 -0.4h1m-1 0.6h1m-0.7 -0.9h1m1 0.1h1m-0.9 0.6h1m0.4 -0.4h1m-0.2 0.5h1m-38.2 0.9h1m23.5 0.1h1m1.2 -0.3h1m0.3 0.4h1m-0.6 -0.9h1m-1 0h1m0 0.5h1m-0.6 -0.4h1m0.3 0.4h1m1.2 -0.4h1m-0.4 -0.2h1m-0.6 0.9h1m-43.1 0.1h1m31.4 0.4h1m0.6 0h1m0.7 -0.4h1m-0.9 0.7h1m2.6 0.3h1m-0.7 -0.8h1m-0.4 0.3h1m-0.1 -0.4h1m-1 -0.1h1m0.3 0.5h1m-0.2 -0.4h1m-0.5 -0.1h1m-0.4 0.1h1m-34.5 1.1h1m19.7 0.3h1m-0.7 0.5h1m4.7 -0.4h1m0.2 -0.5h1m0.2 0.8h1m-0.2 -0.5h1m-0.6 -0.1h1m-0.2 0.4h1m0.8 -0.5h1m-45.2 1.5h1m32.4 -0.5h1m1.5 0.6h1m-0.9 -0.7h1m0.4 0h1m5.6 0.4h1m-36.5 0.9h1m22.5 -0.4h1m1.2 0.9h1m3.3 -0.6h1m-0.2 -0.1h1m1.2 0.5h1m-1 -0.6h1m1.5 0.2h1m-31.5 1h1m18.5 0.6h1m0.8 -0.4h1m-0.4 -0.2h1m2.2 0.2h1m0 -0.4h1m-0.8 0.1h1m0.7 0.7h1m0 -0.8h1m-7.9 1h1m-0.6 0h1m-0.1 -0.1h1m-0.4 0.7h1m-0.9 0.2h1m-0.6 -0.6h1m0.1 0.4h1m-0.1 -0.5h1m-2.6 1h1m-78.7 10.8h1m0 0.5h1m7 0.4h1m2.3 -0.1h1m-18.6 0.8h1m2.2 -0.5h1m-1 0.5h1m4.5 -0.5h1m40.9 0.8h1m7.7 -0.5h1m-53.9 0.6h1m4 0.8h1m3.2 0h1m1.2 -0.3h1m27.5 -0.1h1m8.4 -0.3h1m-55.2 1.6h1m0.9 0.1h1m3 -0.1h1m3.6 -0.3h1m0.4 0.3h1m31.7 0h1m9.6 -0.1h1m4.7 -0.1h1m-56.7 0.7h1m37.6 0.8h1m3.8 -0.5h1m1.2 -0.5h1m1.2 0.1h1m7.6 0h1m-56 1.6h1m44.7 -0.4h1m2.3 0h1m0.1 0.3h1m0.2 0.2h1m-52.2 1.2h1m31.1 -0.7h1m0.7 -0.2h1m13.7 0.7h1m2.4 -0.7h1m3.1 0.3h1m-59.3 1.2h1m3.8 -0.1h1m32.8 0.1h1m8.2 -0.6h1m5.2 0.1h1m1.6 0.2h1m-1 0.4h1m-0.9 0.2h1m-0.3 -0.4h1m0.1 -0.1h1m-66.8 1.5h1m-0.6 -0.4h1m3.5 -0.3h1m0.6 0.6h1m1.2 0.1h1m0.3 -0.1h1m-0.9 -0.3h1m0.6 0h1m1.7 0.3h1m1 0.1h1m25.3 -0.2h1m0.6 -0.4h1m15.7 0.1h1m1.5 0.2h1m1.4 -0.4h1m-62.7 0.8h1m3.6 0.7h1m2.9 -0.1h1m1.5 -0.1h1m28.4 -0.1h1m5.7 0.4h1m7.7 -0.8h1m1.4 0.9h1m-56.4 0.6h1m0.6 0.1h1m1.1 0.2h1m29.5 -0.1h1m5.3 -0.2h1m4.6 0.1h1m2.5 -0.1h1m-0.6 -0.5h1m0.4 0.1h1m1 0.3h1m2.6 0.6h1m-0.1 -0.2h1m-0.5 -0.7h1m-66.4 1.6h1m6 -0.1h1m-0.2 0h1m2.9 -0.5h1m-0.4 0.3h1m0.5 0.5h1m-0.4 0h1m28.3 0h1m0.8 -0.6h1m1.5 -0.1h1m4.2 0.5h1m-0.7 -0.2h1m-0.2 0.2h1m-0.2 0.1h1m-0.6 -0.5h1m5.6 0.3h1m-62.3 1h1m8.1 0.3h1m29.4 -0.4h1m6.1 -0.2h1m-0.5 0.3h1m12.4 -0.4h1m0.8 0.7h1m-63 1.1h1m3 -0.1h1m0.6 -0.2h1m-0.7 -0.7h1m1.4 0.7h1m0.2 -0.2h1m27.5 -0.2h1m4.7 0.6h1m1.8 -0.3h1m-0.4 -0.5h1m13.2 0.8h1m-63.9 0.5h1m5.3 0.3h1m39.7 -0.6h1m2 0.1h1m1.9 -0.1h1m-0.2 0.1h1m0.2 0.7h1m11 -0.9h1m-57 1.3h1m29.3 -0.3h1m9 0.3h1m7 -0.2h1m0.5 0.2h1m-52.7 1h1m48.1 0.2h1m-50 1.1h1m45 0h1m1.1 -0.5h1m-0.1 0h1m2.7 0.7h1m-61.7 0.3h1m3.3 0.5h1m47.2 0.1h1m-17.5 0.3h1m-29.3 1.7h1m-0.2 0h1m-8.7 1.6h1m33.7 1.1h1m-33.8 1.3h1m3.7 -0.6h1m37.9 1.3h1m-43.4 0.8h1m28.9 -0.1h1m0.7 0.7h1m10.1 0.3h1m-12 1.9h1m11.2 -0.3h1m-14.2 0.5h1m7.8 0h1m0.2 -0.1h1m-7.7 4.8h1m0.9 0.6h1" stroke="#ef7b73" stroke-width="1" fill="none"/>
<path d="M105.4 249.4h1m-0.2 -0.2h1m0.8 0h1m2.3 -0.1h1m0.1 -0.1h1m-9.8 1.4h1m1.6 -0.9h1m-0.1 0.9h1m-0.9 -0.6h1m-0.8 0.4h1m3.6 -0.6h1m-0.8 0.4h1m0.1 0.4h1m-32.7 0.2h1m21.8 0.1h1m-0.9 0.5h1m-0.5 0.1h1m7 -0.7h1m-0.6 0.2h1m-0.4 0.4h1m-12.1 1h1m-0.3 -0.3h1m0.6 -0.2h1m0.4 0.3h1m1 -0.4h1m-1 0.4h1m1.1 -0.2h1m-0.5 0.1h1m1.8 0.3h1m-16.1 1.2h1m0.1 -0.3h1m1.4 0.4h1m-0.4 -0.5h1m0.5 -0.1h1m-0.9 0h1m3.6 0.3h1m-0.5 -0.1h1m0.7 0.2h1m0.1 0h1m0.3 -0.1h1m1.3 -0.1h1m1.8 -0.2h1m-10.9 0.7h1m2 0.9h1m1.5 -0.3h1m6.2 -0.1h1m-24.5 0.5h1m-0.8 -0.1h1m3.7 0.4h1m-0.3 -0.1h1m1 0.1h1m1.7 0.1h1m-0.3 0h1m1.3 -0.3h1m6.4 0.4h1m3.3 0.2h1m-27.8 0.7h1m-0.1 0.4h1m-0.2 -0.6h1m-0.3 -0.3h1m2.3 0.4h1m3.3 0.2h1m-0.3 0.1h1m5.1 -0.3h1m0.1 -0.2h1m3.8 0.7h1m-1 -0.5h1m-0.4 0.5h1m2 -0.1h1m-0.3 0.2h1m0.9 -0.7h1m-0.4 0.7h1m-1 -0.2h1m-26 0.8h1m4.5 0.2h1m-0.1 -0.4h1m-0.7 0.5h1m3.7 -0.7h1m-0.7 0h1m5.3 0.7h1m-0.8 -0.3h1m3.7 -0.4h1m2.7 0.4h1m-0.7 -0.3h1m-0.8 0.5h1m-0.4 -0.2h1m-0.1 0.2h1m-35.2 0.7h1m0.4 0.1h1m-0.9 0.4h1m1.9 -0.8h1m-0.9 0.3h1m1.2 0.3h1m4 -0.5h1m2.5 0.4h1m-0.3 0.2h1m-0.2 -0.3h1m-0.7 0.3h1m-0.1 -0.7h1m4.2 0.4h1m5 0.2h1m0.6 -0.5h1m-0.4 0h1m0.2 0.1h1m-0.8 -0.3h1m0.6 0h1m-35.1 1.5h1m0.2 0.3h1m2 -0.4h1m3.9 0.1h1m0.4 -0.1h1m-0.8 0.1h1m3.5 -0.4h1m-0.3 0.1h1m-0.8 0.7h1m0.4 -0.7h1m3.3 0.3h1m2.5 0.2h1m4.3 -0.7h1m-0.8 0.9h1m-0.5 -0.6h1m0 -0.4h1m0.3 0.5h1m-0.1 0.4h1m4.6 -0.1h1m-34.8 0.5h1m-0.8 -0.1h1m0 0.5h1m1.1 0.3h1m2.2 0h1m7.6 -0.9h1m7.8 0.6h1m0.1 -0.3h1m1.3 0h1m0.5 0.3h1m6.3 0h1m-40.5 0.9h1m-1 -0.1h1m2 0.4h1m-1 -0.4h1m-0.2 0.4h1m3.7 -0.8h1m4.1 0.5h1m-0.8 -0.5h1m1.2 0.2h1m4.3 0.5h1m6.3 -0.6h1m0.6 -0.1h1m-0.6 0h1m7.9 0.8h1m-0.6 -0.7h1m-0.7 0.1h1m-0.5 0.7h1m3.7 0h1m-46.8 0.2h1m-0.4 0h1m0.8 0.6h1m-0.9 -0.1h1m0 0h1m-0.4 0.2h1m0.4 0h1m3.4 -0.8h1m3.1 0.3h1m1.1 0.6h1m1.1 -0.3h1m4.2 -0.3h1m0.3 -0.2h1m3.4 0.4h1m3.9 0.3h1m0.8 -0.4h1m0.7 0.1h1m0.6 -0.3h1m3 0.6h1m-0.1 -0.6h1m2.3 0.3h1m-52.3 0.4h1m-0.5 0.9h1m2.5 -0.6h1m2.3 0.6h1m0.2 -0.7h1m-0.3 0.4h1m2.6 0.1h1m0.4 -0.3h1m1.8 0h1m-0.4 0h1m-0.9 -0.2h1m7.1 -0.1h1m6.4 0h1m-1 0h1m10.5 0.2h1m2.7 -0.1h1m2.1 -0.2h1m-1 0.8h1m-0.3 -0.5h1m-0.5 -0.2h1m-55.5 1.3h1m4.9 0.1h1m0.1 -0.1h1m-0.8 0.2h1m0.2 0.3h1m-0.9 -0.7h1m0.1 0h1m5.1 0.8h1m1.3 -0.9h1m0.5 0h1m1.3 0.5h1m2 -0.2h1m0.5 -0.2h1m7.4 0.4h1m-0.9 -0.3h1m2.4 0.1h1m-0.4 0.4h1m1.8 -0.6h1m1.8 0.6h1m0.4 -0.7h1m1.7 0.5h1m-0.6 0.2h1m0.4 -0.6h1m0.5 0.5h1m-0.3 0.3h1m-0.1 -0.5h1m-0.8 -0.1h1m2.3 0h1m-58.4 1.4h1m1.4 0.1h1m2.9 -0.3h1m-0.4 0.3h1m0.8 -0.9h1m0.6 0.3h1m-0.8 0h1m-0.9 0.4h1m0.3 -0.6h1m0.4 0.2h1m0.3 0h1m1.1 0.5h1m2.2 0.1h1m-0.1 -0.9h1m0.4 0.5h1m-0.9 -0.2h1m-0.3 0.2h1m-0.2 0.4h1m-0.9 -0.3h1m-0.9 -0.6h1m-0.9 1h1m0 -0.1h1m-0.8 -0.4h1m-0.4 -0.4h1m-0.4 0.5h1m-0.7 0h1m-0.2 -0.2h1m0.4 0.5h1m3.2 -0.8h1m-0.3 0.7h1m0.3 -0.5h1m1.2 -0.2h1m1.8 0.5h1m7.6 0.4h1m2.4 -0.8h1m1.7 0.3h1m1.4 0.2h1m1.3 0.1h1m-61.6 0.8h1m-0.5 0.3h1m1.4 -0.1h1m2.8 -0.7h1m-0.7 0.5h1m-0.8 -0.1h1m0.8 0.5h1m0.2 -0.7h1m0.6 0.6h1m0.2 0h1m1.5 -0.3h1m0.7 -0.3h1m-0.2 0.5h1m1.9 -0.5h1m-0.2 -0.1h1m0.7 0.3h1m-0.1 0.1h1m-0.3 0.4h1m-0.2 -0.4h1m-0.8 -0.3h1m-0.5 -0.3h1m3.3 0.1h1m2.8 0.2h1m5.8 -0.1h1m-0.7 0.1h1m5.7 0.7h1m0.8 -0.7h1m1.3 0.2h1m1.4 0.4h1m0.7 0.1h1m-0.7 -0.1h1m-58.5 1h1m-0.4 -0.1h1m1.2 0h1m0 -0.5h1m0.7 -0.2h1m5 -0.1h1m2 0.5h1m5.6 -0.5h1m0.6 0.4h1m2.7 0.1h1m-0.2 -0.3h1m-0.3 -0.1h1m-1 0.1h1m0.7 0.7h1m1.8 -0.6h1m-0.6 0h1m2.5 0.2h1m-0.9 -0.1h1m-0.6 0.3h1m-0.1 -0.7h1m6.8 0.4h1m6.9 0.3h1m-1 -0.6h1m-0.6 0.5h1m-0.3 -0.2h1m-0.9 -0.3h1m0.9 0.4h1m-0.5 0.1h1m1.6 0.1h1m-58.8 0.6h1m0.6 0.2h1m-1 0.2h1m-0.3 -0.5h1m2.4 0h1m2.8 -0.2h1m5.9 0.5h1m5.4 0.5h1m-0.9 -1h1m-0.5 0.1h1m-0.2 0.8h1m-0.3 -0.3h1m-0.4 0.4h1m-0.8 -1h1m0 0.1h1m-0.9 0.4h1m1.4 0.1h1m1.7 0.3h1m0.5 0.1h1m1.2 0h1m0.4 -0.4h1m0.3 -0.1h1m0.6 0.1h1m0.8 -0.1h1m2.9 0.5h1m2.2 0h1m1.3 -0.7h1m-1 0.7h1m-0.8 -0.8h1m-0.3 0.1h1m-0.5 0.2h1m0.7 0.4h1m-0.3 -0.6h1m-0.8 0h1m0.5 0.6h1m0.4 0.1h1m0.1 -0.7h1m-0.4 -0.2h1m-0.9 0.1h1m-63.2 1.4h1m-0.4 0.1h1m-0.9 -0.4h1m1.4 0h1m1.4 0.2h1m-0.8 0h1m1 -0.4h1m3 0.3h1m2.2 -0.1h1m5.6 0.2h1m2 0.1h1m-0.8 -0.1h1m2.1 0.2h1m1.8 -0.3h1m-0.8 0.6h1m-0.8 -0.4h1m6 -0.2h1m0.3 0.3h1m0.2 -0.6h1m4.7 0h1m4 0.1h1m0.2 0.6h1m3 -0.7h1m0.1 0.7h1m0.7 -0.4h1m1.4 -0.2h1m-107.2 1.6h1m51.4 0h1m1.6 0.1h1m3.8 -0.3h1m8.9 0.1h1m0.9 0.1h1m0.4 0h1m8.3 -0.8h1m0.1 0.9h1m0.9 -0.2h1m-0.9 -0.2h1m3.3 0.4h1m-0.9 0h1m-0.6 0h1m0 -0.3h1m2.6 -0.3h1m5.3 0.5h1m-0.8 -0.6h1m-0.2 0.7h1m-0.6 -0.1h1m2.2 -0.6h1m-0.5 0.2h1m-0.7 0.5h1m-0.3 -0.3h1m-63.6 0.6h1m0.9 0.6h1m-0.7 -0.1h1m2.2 0.3h1m3.2 -0.2h1m0.2 -0.7h1m0.4 0.8h1m-1 -0.1h1m3.6 -0.2h1m0.3 -0.1h1m1.6 0.2h1m0.5 -0.2h1m0.8 0.3h1m1.4 0.1h1m-0.5 -0.4h1m0.5 0h1m1.6 0.3h1m1.2 0.2h1m4.3 -0.5h1m-0.1 0.2h1m-0.8 -0.5h1m-0.8 0h1m-0.3 0.1h1m-0.1 0h1m-0.3 0h1m1.1 0.4h1m1 -0.4h1m1.5 0.6h1m-0.3 -0.3h1m1.2 -0.3h1m-0.5 0.2h1m4.7 0.1h1m0.2 0.3h1m-0.6 -0.8h1m-0.7 0.8h1m-0.9 -0.9h1m1.8 0.4h1m-106.1 1.5h1m41.4 -0.4h1m0.4 0.1h1m1.7 0h1m-1 -0.5h1m6.1 0.2h1m0.2 -0.1h1m1.2 0.4h1m0.1 -0.5h1m-0.9 -0.1h1m-0.8 0.4h1m-0.7 0.2h1m1.3 0h1m-0.8 0.3h1m-0.4 -0.3h1m-0.2 0.3h1m2.2 -0.6h1m3.5 0.4h1m3.9 -0.1h1m0 -0.1h1m6.1 0.2h1m0.8 -0.4h1m0.8 -0.2h1m-1 0.9h1m3.3 -0.3h1m0.4 -0.1h1m-0.8 -0.2h1m-1 -0.2h1m0.1 0.3h1m-0.9 0.1h1m0.1 -0.1h1m-0.5 0.4h1m-0.4 -0.7h1m-0.5 0.6h1m-0.2 -0.3h1m-0.6 -0.1h1m1.7 0.5h1m-1 -0.7h1m0 0.4h1m-0.5 0.4h1m-0.4 -0.3h1m-0.7 -0.2h1m-0.9 -0.3h1m0 0.4h1m-0.3 -0.6h1m-107.9 1.7h1m-0.2 0.3h1m-0.8 -0.4h1m37.9 0.1h1m0.1 0.1h1m-0.9 -0.2h1m1 -0.1h1m7.2 0.3h1m-0.2 -0.3h1m2.3 -0.1h1m-0.4 0.5h1m-0.8 -0.1h1m0 -0.1h1m2.8 -0.1h1m-0.5 0.1h1m4.9 -0.4h1m1.6 0.1h1m0.5 -0.2h1m1.8 0.3h1m0.6 -0.3h1m1.2 0.7h1m2.9 -0.8h1m4.8 0.3h1m-0.7 -0.3h1m-0.9 0.8h1m-0.8 -0.6h1m1.5 0.7h1m0.8 -0.2h1m2.3 -0.5h1m-0.9 -0.2h1m1.9 0.7h1m-0.7 -0.5h1m2 0.4h1m0.2 -0.2h1m-0.5 -0.1h1m-0.4 0h1m-0.2 -0.4h1m-0.5 0.2h1m-0.1 0.6h1m-1 -0.7h1m-0.2 -0.1h1m0.3 0.5h1m-62.1 1h1m1.3 -0.5h1m6.2 0.4h1m-0.4 0.6h1m-0.4 0h1m0.5 -0.4h1m1.2 0h1m5.8 -0.4h1m0.9 -0.1h1m0.3 0.4h1m5.3 -0.4h1m6.2 0h1m0.4 0.5h1m0.7 -0.3h1m-0.7 0h1m14.6 0.5h1m0 -0.7h1m-0.5 0.8h1m-0.6 -0.1h1m-0.6 -0.6h1m0.8 -0.1h1m-0.3 0.5h1m-110.9 0.9h1m0.7 0.3h1m38.2 -0.1h1m-0.3 0.2h1m0.1 -0.8h1m7.3 0.3h1m7.9 -0.3h1m5 0.3h1m2.2 0.2h1m19.4 -0.5h1m0 0.1h1m0.4 0.6h1m-0.8 -0.3h1m3.9 -0.3h1m1.7 0.1h1m-0.5 0.5h1m1.6 -0.1h1m-0.9 0.2h1m2.8 -0.3h1m-0.6 -0.4h1m1.4 -0.1h1m-110.4 1.2h1m37.7 -0.3h1m-0.4 0.2h1m-0.1 0.3h1m1.3 0.3h1m3.6 -0.7h1m1.6 0.3h1m3.1 0.3h1m0.9 -0.5h1m-1 -0.2h1m0 0h1m-1 0.9h1m1.4 -0.8h1m4.1 0.1h1m7.2 0.7h1m5 0.1h1m5.3 -0.8h1m2.5 0.3h1m-0.4 -0.1h1m-0.9 0.5h1m0.2 -0.5h1m2.6 0.3h1m2.4 -0.1h1m-0.9 -0.4h1m3.9 0.4h1m-0.5 0.1h1m1.6 -0.5h1m-0.8 0.3h1m1.6 -0.4h1m0.1 0.4h1m-0.8 0.4h1m-65.7 0.3h1m9.2 0.8h1m3.9 -0.4h1m-0.1 0.2h1m0.3 0h1m0 -0.8h1m6.9 0.2h1m0 0h1m0.9 0.6h1m0.2 0.1h1m-0.7 -0.2h1m10.2 -0.3h1m0.8 0.2h1m0 0h1m-1 -0.5h1m2.2 0.6h1m0.1 -0.7h1m1.7 0.3h1m1 0.3h1m1.6 -0.1h1m3.1 0h1m0.1 0h1m-64.3 1h1m5.8 -0.2h1m4.1 -0.1h1m5.3 0.3h1m0 0.1h1m-0.6 0.1h1m0.7 -0.2h1m-0.5 0.4h1m2.2 -0.2h1m9.4 -0.4h1m17.3 0.3h1m5.8 0h1m6.8 0h1m-60.6 0.8h1m-0.2 0h1m0.2 0h1m-0.6 0.2h1m-0.1 0h1m0 0.4h1m-0.7 -0.6h1m4.5 -0.3h1m-0.3 0.6h1m0.9 -0.3h1m0.7 0.1h1m1.1 0.1h1m-0.7 -0.4h1m3.6 0h1m1.1 0.7h1m10.2 -0.1h1m1 -0.2h1m-0.7 0h1m0.3 0.1h1m0.2 -0.5h1m-0.2 0h1m1.9 0.6h1m5.2 0h1m0.2 -0.2h1m5.6 -0.2h1m-0.6 0h1m-76.3 1.5h1m-0.6 -0.3h1m0.1 -0.1h1m-0.8 0.2h1m-0.9 -0.3h1m-0.8 0.2h1m-0.8 0.2h1m-0.9 -0.1h1m-0.9 0h1m0.7 -0.1h1m0.7 0.2h1m-0.1 -0.3h1m1.8 -0.5h1m-0.6 0.2h1m1 0.4h1m1.4 -0.2h1m15.9 0.6h1m-0.8 -0.3h1m4.7 -0.4h1m-0.1 -0.1h1m14 -0.2h1m2.7 0.3h1m5.4 0.4h1m0.3 0h1m3.1 -0.2h1m5 0.3h1m-76 0.5h1m0.1 -0.1h1m-0.3 0.8h1m0.6 -0.4h1m-0.1 -0.4h1m0.2 0.6h1m11 -0.3h1m-0.8 0h1m5.5 0h1m1.7 -0.2h1m4.6 0.6h1m4.7 -0.5h1m4.2 -0.3h1m-0.8 0.1h1m5.5 0h1m5.5 0.3h1m0.5 0.3h1m0.1 -0.2h1m0.4 0.3h1m-0.8 -0.2h1m-0.5 0.2h1m0.5 0.1h1m3 -0.7h1m-0.5 -0.2h1m-1 0.5h1m8.5 -0.6h1m-78.1 1.6h1m-0.8 0.3h1m-0.4 -0.6h1m-0.5 0.4h1m-0.8 -0.2h1m0.2 0.2h1m-0.8 -0.5h1m-0.7 0.7h1m4.4 -0.7h1m-0.4 0.4h1m0.1 0.3h1m1.9 -0.2h1m0.1 -0.5h1m-0.9 0.5h1m-0.1 -0.3h1m12.3 0.2h1m-0.7 -0.4h1m0.4 0h1m0 0.4h1m12.3 0h1m0.6 0.3h1m3.4 -0.1h1m8.7 -0.8h1m0.7 0.5h1m1.1 0.3h1m0 -0.6h1m-0.9 0.7h1m5.8 -0.4h1m1.4 0h1m1.3 -0.1h1m-80.5 1.5h1m0.4 -0.8h1m2.5 0h1m-0.6 0.8h1m0 -0.8h1m0.1 0.5h1m0.9 0.1h1m-0.2 -0.6h1m1.6 0.1h1m-0.6 0.7h1m-0.2 -0.2h1m2.2 -0.6h1m-0.2 0.4h1m0 -0.3h1m1.7 0.3h1m4.4 0h1m-0.2 0.4h1m1.9 -0.1h1m0.6 -0.8h1m-1 0.7h1m-0.2 0.1h1m2.9 -0.2h1m8.1 -0.2h1m-0.6 0.1h1m-0.2 -0.5h1m-0.5 0.2h1m0.9 0.1h1m2.7 0.1h1m2.7 0h1m13 0.4h1m0.1 -0.4h1m0.9 -0.2h1m-75.5 1.8h1m0.4 -0.5h1m-0.5 0.2h1m-1 0.2h1m1.6 -0.9h1m-0.1 0.6h1m-0.7 0.1h1m-0.6 -0.1h1m-0.8 0.1h1m-0.4 -0.7h1m1.5 1h1m-0.8 -0.1h1m0.4 -0.6h1m2.5 0.6h1m-0.7 -0.2h1m-0.9 0h1m-0.5 0.1h1m-0.8 -0.6h1m-0.1 0.4h1m-0.8 0.3h1m-0.9 -0.3h1m-0.9 -0.1h1m-0.4 0.1h1m-0.3 0.1h1m1.1 0h1m3 -0.1h1m-0.4 -0.5h1m1.5 0.9h1m-0.4 -0.9h1m1.6 0h1m-0.9 0.9h1m0.2 -0.1h1m15 -0.5h1m1.8 0h1m1.7 0.4h1m0.2 -0.7h1m1.2 0.7h1m5.9 -0.7h1m-0.7 0.6h1m0.9 0.1h1m0 -0.6h1m-0.6 0h1m-0.8 0.7h1m8.9 0h1m1.7 -0.3h1m-82.7 1.4h1m-0.9 -0.4h1m-0.7 0h1m-0.5 -0.6h1m0.2 0.7h1m-0.5 -0.6h1m-0.8 0h1m-0.3 0.8h1m-0.7 -0.8h1m-0.2 0.2h1m-0.9 0h1m1.1 0.2h1m-0.6 0.1h1m-0.4 0h1m1.5 0.3h1m2.7 -0.3h1m1.6 -0.4h1m-0.6 0.8h1m-0.1 -0.8h1m0.2 0.2h1m-0.8 0.4h1m-0.5 -0.4h1m-0.9 0.3h1m2.1 -0.4h1m4.2 0.7h1m0.8 -0.1h1m0.9 -0.2h1m-0.4 0.2h1m6.6 -0.2h1m0.9 -0.3h1m-0.3 0.6h1m3.1 -0.2h1m5.1 -0.3h1m0.9 0.2h1m3 0h1m3.9 -0.6h1m-0.8 0.8h1m-0.2 -0.3h1m-0.1 0h1m-0.6 0.1h1m3.2 0.2h1m-72.2 0.3h1m-0.6 0.3h1m1 -0.1h1m4.6 -0.3h1m0.7 0.2h1m-0.3 0.2h1m1.1 -0.2h1m-0.4 -0.2h1m-0.8 0.7h1m-0.7 -0.7h1m0.3 0.8h1m-0.8 -0.2h1m-1 -0.1h1m-0.3 -0.6h1m-0.9 0.9h1m-0.2 -0.3h1m-0.2 -0.2h1m-0.4 0.5h1m-1 -0.4h1m-0.3 -0.1h1m0.9 -0.2h1m-0.8 0.4h1m-0.9 0.3h1m-0.6 0.1h1m-1 -0.4h1m1.7 0.3h1m8.3 -0.8h1m0.2 0.4h1m-0.8 0.4h1m2.8 -0.4h1m1.2 -0.1h1m-0.5 0.5h1m-0.3 -0.1h1m2.8 -0.3h1m5.5 -0.2h1m-0.8 -0.3h1m-0.6 0.2h1m0.5 0.4h1m4.8 0.1h1m5.2 0.2h1m2.1 -0.7h1m0.3 0.5h1m0.8 -0.4h1m4 -0.3h1m0.8 0.9h1m2.3 -0.7h1m-78.9 1h1m1.7 0.6h1m1.8 -0.1h1m-0.3 0.2h1m-0.1 -0.4h1m-0.7 0.1h1m0.7 0.2h1m-0.9 -0.2h1m-0.9 -0.3h1m-0.9 0.5h1m-0.1 -0.7h1m0.1 0.7h1m0.3 -0.7h1m-0.7 0.5h1m-0.1 -0.1h1m-0.8 -0.4h1m0.2 0.5h1m8.6 -0.3h1m5.8 0.6h1m1.8 -0.3h1m0.6 -0.5h1m0.6 0h1m0.9 0.1h1m2 0h1m0.9 0.7h1m0.3 0h1m7.9 -0.1h1m6.6 -0.2h1m3 0.3h1m1 0h1m2.5 -0.5h1m-1 0.4h1m2.3 -0.3h1m0.3 0.1h1m1.1 -0.1h1m-83 1.2h1m-0.2 0.2h1m0.4 -0.6h1m2.3 0.4h1m-0.1 0.1h1m-0.1 -0.4h1m0.9 -0.3h1m-0.3 0.8h1m-0.6 -0.7h1m0.3 0h1m-0.2 0.5h1m-0.3 0.2h1m-0.8 -0.2h1m-0.1 -0.3h1m-1 0.4h1m-0.8 -0.1h1m-1 0h1m-0.8 -0.3h1m-0.4 -0.3h1m-0.2 0.7h1m-0.6 -0.3h1m-1 0.4h1m-0.8 -0.2h1m-0.8 -0.5h1m-0.4 -0.1h1m-0.9 0.1h1m-0.4 0.1h1m-0.5 0.2h1m-0.7 -0.1h1m-0.7 0.2h1m-0.7 -0.3h1m-0.5 0.6h1m-0.5 -0.4h1m-0.7 -0.4h1m-0.2 -0.1h1m3.1 0.2h1m2.4 0h1m2 0.4h1m3.1 0.3h1m0.7 -0.1h1m0.1 -0.3h1m-0.5 0.2h1m-0.5 -0.6h1m6.5 0.3h1m0 0.6h1m2.1 -0.1h1m2 -0.9h1m6.3 0.9h1m1.7 -0.3h1m0.2 -0.2h1m-0.3 0.4h1m0 -0.4h1m-1 -0.3h1m3.3 0.5h1m1.9 -0.5h1m0.6 0.2h1m-0.6 0.6h1m-0.7 -0.2h1m-80 1.1h1m0.2 0h1m0.3 -0.4h1m0.2 -0.2h1m-0.2 0.4h1m-0.7 0.2h1m0.1 0h1m1.7 -0.3h1m-0.5 -0.5h1m0.4 0.3h1m-0.1 0.3h1m-0.7 -0.2h1m0 0.5h1m-0.8 -0.1h1m-0.1 -0.8h1m-0.4 0h1m-1 0.6h1m-0.7 0.3h1m0 -0.2h1m-0.7 -0.7h1m-0.8 0.5h1m-0.6 0.2h1m-0.7 -0.5h1m-0.9 -0.1h1m-0.8 0.1h1m-0.8 0h1m-0.9 0.5h1m-0.9 0.3h1m-0.7 -0.2h1m-1 0.2h1m-0.6 -0.8h1m-0.5 0.4h1m-0.7 -0.5h1m-0.3 0.3h1m0.4 0.3h1m-0.1 0h1m0.4 0.2h1m-0.7 -0.6h1m-0.7 0.1h1m-0.9 0.4h1m5 -0.4h1m0.9 -0.3h1m0.1 0.6h1m13 0.2h1m1.1 -0.5h1m-0.8 -0.2h1m-0.6 0.3h1m-0.7 -0.2h1m-0.8 -0.2h1m-0.8 0h1m-0.5 0.1h1m-0.8 0.2h1m0.9 0.1h1m7.6 0h1m3.1 -0.3h1m2.5 0.1h1m2.2 -0.2h1m-0.9 -0.1h1m0 0.2h1m8.2 0.1h1m-0.2 0.1h1m-84.5 1h1m-1 -0.2h1m-0.9 0.4h1m-0.6 -0.5h1m3.6 0.2h1m2.2 0.7h1m0.8 0h1m1.1 -0.6h1m-0.8 0.4h1m-0.8 -0.8h1m-0.8 0.5h1m0.5 0.1h1m-0.5 -0.3h1m-0.5 0h1m-0.4 0.3h1m-0.6 -0.6h1m-1 0.3h1m-0.9 0.1h1m-0.8 0.2h1m-1 -0.6h1m-0.9 0h1m-0.7 0.7h1m-0.9 -0.2h1m-0.8 0.2h1m-0.7 0.2h1m0.1 -0.6h1m21.2 0h1m5.3 0.3h1m-0.4 -0.6h1m0.4 0.9h1m-0.8 -0.8h1m0 0.7h1m-0.8 0.1h1m-0.4 -0.5h1m12.8 0h1m0.9 -0.3h1m5.7 0.6h1m4.4 0.2h1m0.1 -0.4h1m-0.9 0h1m0.1 0.5h1m-79.4 0.3h1m2.3 0.2h1m2.7 0.1h1m0.5 -0.5h1m-0.3 0.7h1m1 0h1m-1 -0.6h1m-0.7 0.4h1m-0.8 0.2h1m-0.7 -0.3h1m0.1 -0.4h1m-0.8 0.4h1m-0.3 -0.5h1m-0.1 0.2h1m-0.9 -0.1h1m0.2 0.4h1m-0.4 0.3h1m-0.3 -0.2h1m0.2 0.3h1m1.8 -0.8h1m3.2 -0.1h1m2.8 0.1h1m12.6 0.1h1m-0.7 0.6h1m-0.6 -0.7h1m-0.9 0.7h1m-0.8 0.2h1m-0.3 -0.7h1m-0.9 0.6h1m-0.5 -0.1h1m0 -0.6h1m-0.6 -0.1h1m-0.6 0.6h1m-0.1 -0.1h1m-0.9 -0.4h1m2.8 0.7h1m-0.2 -0.4h1m-0.7 0h1m5.4 -0.1h1m-0.8 0.4h1m5.9 -0.4h1m0.4 0.2h1m2.4 0.2h1m0 0h1m-0.5 0.1h1m3 -0.7h1m-0.4 0.7h1m0.1 -0.4h1m0.2 0.4h1m-0.9 -0.2h1m-82.1 1h1m-0.9 0.1h1m0.5 -0.5h1m-1 0.1h1m-0.8 0.6h1m1.3 -0.7h1m0 0.5h1m-0.1 -0.1h1m-0.3 -0.4h1m-0.9 0.5h1m-0.6 -0.1h1m-0.8 0h1m-0.8 -0.1h1m-0.8 0.2h1m0.1 -0.3h1m-0.7 0.3h1m0.1 -0.3h1m-0.4 -0.3h1m0 0.7h1m-0.9 -0.5h1m-0.9 -0.1h1m-0.3 0.1h1m-0.4 0.4h1m-0.7 0.2h1m1 -0.7h1m0.3 0.3h1m0.9 -0.1h1m-0.8 0.3h1m4.4 -0.7h1m11.3 0.9h1m3.4 -0.4h1m-0.3 -0.5h1m1.9 0h1m-0.4 0.5h1m-0.5 -0.2h1m-0.8 0.1h1m-0.9 0.3h1m-0.9 -0.6h1m-0.2 0.4h1m-0.6 -0.3h1m-0.4 0.4h1m-0.9 -0.3h1m-0.8 -0.2h1m1.1 0.7h1m0.2 -0.2h1m-0.4 -0.4h1m-0.5 -0.2h1m-1 0.3h1m2.1 0.3h1m0.4 -0.5h1m1.7 0.5h1m6.6 -0.4h1m0.1 -0.2h1m6.2 0.5h1m0.7 -0.5h1m0.2 0.3h1m0.8 0.2h1m-82.5 1.1h1m-0.2 -0.5h1m-0.7 0.5h1m-0.4 0h1m-0.4 -0.2h1m2.6 0.1h1m1.2 -0.2h1m-0.7 0.4h1m0 0h1m-0.2 -0.2h1m1.2 0h1m-0.1 -0.4h1m-0.9 0h1m0.1 0.5h1m-0.5 0.2h1m-0.5 -0.8h1m0.7 0.3h1m-0.3 0.5h1m-0.8 -0.4h1m-1 -0.4h1m1.8 -0.1h1m-1 0.7h1m-0.3 -0.1h1m0.6 0.3h1m0.3 -0.1h1m-0.9 0h1m11.9 -0.1h1m0 -0.7h1m5.1 0.8h1m0.9 -0.4h1m0.7 -0.3h1m-0.2 0.5h1m-0.5 0h1m-0.1 0.1h1m-0.1 -0.3h1m2.5 0.1h1m-0.1 0.3h1m8.3 -0.2h1m0 0.4h1m5.7 -0.4h1m4.3 -0.2h1m-0.8 0.2h1m-0.6 0.4h1m-0.1 -0.6h1m0.7 0.3h1m-81.3 0.6h1m-0.5 -0.1h1m4.3 0h1m-0.3 0h1m-0.2 0.7h1m-0.8 -0.2h1m2.8 0.1h1m2.3 -0.4h1m0.1 0.2h1m-0.4 0.1h1m-0.9 0.1h1m0.2 0.2h1m-0.4 -0.5h1m14 0.1h1m9.4 0h1m-0.5 -0.2h1m-0.8 -0.2h1m0.3 0.3h1m0.7 -0.3h1m-0.2 0.3h1m0.5 0.1h1m6.1 -0.4h1m7.9 0h1m5.7 0h1m3.6 0.1h1m-77.8 1.2h1m1.4 -0.4h1m-0.6 0.7h1m0.7 -0.4h1m-0.8 0.3h1m1.7 -0.3h1m1.2 -0.1h1m-0.3 0.7h1m-0.6 -0.8h1m-0.9 0.1h1m-0.5 0h1m-0.6 0.4h1m0.5 0.2h1m-0.3 -0.7h1m-0.7 0h1m-0.2 0.4h1m0.1 0.3h1m-0.4 -0.2h1m0.2 0h1m-0.5 0.2h1m-0.7 0.1h1m0.8 -0.2h1m-0.8 0.1h1m2.5 -0.2h1m4.8 0h1m13.3 0.2h1m-0.9 -0.5h1m-0.2 -0.2h1m-0.6 0h1m-0.5 0.2h1m3.1 -0.4h1m0.7 0.1h1m-0.7 0.3h1m11.2 0.3h1m0.4 -0.2h1m4.5 0.1h1m1.9 0.4h1m-0.6 -0.7h1m-0.3 0h1m-76.5 1.7h1m0.2 -0.6h1m2 0.3h1m-0.5 0h1m0.3 -0.3h1m0.3 0.1h1m0.6 0h1m0 0.1h1m-0.9 0h1m0.3 0.2h1m-0.4 0.1h1m-1 -0.8h1m-0.8 0.6h1m-0.8 -0.1h1m-0.4 -0.2h1m-0.5 -0.1h1m1 0.4h1m1.1 -0.5h1m-0.8 0.6h1m0.1 -0.5h1m-0.8 0.2h1m0 -0.2h1m-0.8 -0.2h1m2.1 0.3h1m6.2 0.1h1m17.8 0h1m13.8 -0.3h1m0.5 0.6h1m3.6 -0.5h1m1.8 0.2h1m2.6 -0.2h1m-0.4 0.4h1m1.5 -0.1h1m-79 0.4h1m1.2 0.6h1m-0.5 -0.3h1m-0.6 0h1m-0.3 0.3h1m-0.8 -0.4h1m-0.4 0h1m0.1 0.4h1m-1 -0.2h1m0.5 0.3h1m-0.6 -0.4h1m-0.9 -0.1h1m0.1 0.7h1m1.1 -0.5h1m0.3 0.1h1m0.8 -0.5h1m1.2 0.6h1m1.7 0.1h1m2.4 0.1h1m0.8 0.1h1m-0.9 -0.3h1m5 0.1h1m0.5 -0.1h1m11 -0.6h1m0.6 0.7h1m-0.6 -0.3h1m0.2 0.5h1m1.3 -0.5h1m-0.2 -0.3h1m12.2 0.5h1m-65.7 1.1h1m2.9 -0.5h1m-1 0.1h1m0.8 0.4h1m-0.6 -0.6h1m1.8 -0.1h1m-0.3 0.9h1m-0.5 -0.8h1m-1 0.4h1m-0.9 -0.4h1m0 0.1h1m0.5 0h1m-0.9 0.4h1m-0.7 0h1m-0.9 -0.3h1m-0.9 0h1m0.5 -0.2h1m-1 0.4h1m-0.8 0.4h1m-0.9 -0.7h1m0 0.4h1m0.2 0.3h1m-1 -0.7h1m0.1 0.5h1m3 -0.5h1m1.4 0.1h1m-0.1 0.7h1m20.7 -0.7h1m23.8 0.4h1m-72 0.3h1m2.1 0.8h1m-0.7 -0.6h1m2.7 0.4h1m-0.9 -0.3h1m-0.1 0.5h1m-0.7 0h1m-0.7 -0.3h1m-0.4 -0.2h1m-0.5 0.1h1m-1 -0.1h1m-0.8 -0.1h1m1.3 -0.1h1m-0.1 0h1m2.3 0.6h1m1.4 -0.5h1m-0.5 -0.2h1m7.2 0.8h1m0.1 -0.7h1m0 0.3h1m29.6 0.4h1m3.1 -0.5h1m0.6 0.1h1m4.4 -0.1h1m0.8 0.1h1m-87.2 0.8h1m14.9 0.6h1m-0.2 -0.2h1m-0.9 -0.2h1m-1 0.5h1m3.2 0h1m-0.8 -0.3h1m-0.7 -0.6h1m0.7 0.9h1m0.2 -0.9h1m4.3 0.3h1m-0.7 -0.3h1m1.3 0.9h1m4.6 -0.2h1m0.3 0h1m34.2 -0.1h1m0.9 0.2h1m1 -0.2h1m5.7 0.1h1m-0.3 0h1m2.4 -0.5h1m-0.3 0.2h1m3.3 -0.4h1m-97.9 1.3h1m14.9 0.4h1m-0.8 -0.7h1m-1 0.7h1m-0.8 0.1h1m1.7 -0.6h1m-0.8 0.5h1m-0.6 -0.5h1m-0.4 0.6h1m-0.7 -0.4h1m-0.4 -0.3h1m1 0.2h1m0.6 0h1m-0.5 0.2h1m2.8 -0.3h1m1.3 0h1m0.5 0.2h1m-0.6 -0.2h1m0.3 0h1m-0.5 0.5h1m3.7 -0.3h1m1.8 0h1m34.1 -0.2h1m2.1 0.6h1m4.7 0.1h1m5.1 -0.6h1m-75.8 1.7h1m-0.2 -0.3h1m0.2 -0.6h1m-0.5 -0.1h1m0.2 0.5h1m0.1 0.2h1m-0.2 -0.3h1m0 0.4h1m2 -0.1h1m-0.4 -0.4h1m0.6 -0.1h1m-0.2 0.7h1m1.4 -0.9h1m-0.6 0.7h1m0.8 -0.2h1m1.1 0.5h1m2.1 0h1m-0.9 -0.1h1m35.7 -0.5h1m-0.8 0.1h1m2.6 0.5h1m3.9 -0.7h1m-0.2 0.1h1m2.1 0.2h1m5.8 0.2h1m-80.3 1.1h1m-0.3 -0.1h1m2.1 -0.1h1m-0.2 -0.5h1m-0.6 0.2h1m0.8 -0.2h1m-1 0.1h1m-0.9 0.1h1m-0.7 0.3h1m0.6 -0.1h1m-0.9 0.4h1m0.4 -0.1h1m0 -0.5h1m1.8 -0.3h1m-0.8 0.3h1m-0.9 -0.3h1m-0.5 0.2h1m-0.2 0.1h1m-1 0.2h1m4.6 0.3h1m1.1 -0.1h1m1.1 -0.4h1m34.1 0.2h1m0 0h1m8.3 0.2h1m-71.9 0.7h1m2.9 -0.5h1m-0.8 0.6h1m0.7 0h1m0 -0.3h1m2.8 0.6h1m1.1 -0.6h1m0.6 -0.3h1m-0.8 0.3h1m0.4 -0.2h1m0 0.4h1m6.2 -0.4h1m-0.7 0.4h1m0 0h1m-0.9 -0.4h1m21.7 0.8h1m0.2 -0.5h1m15.6 0.6h1m-0.4 -0.9h1m0.9 0h1m1.3 0.3h1m-0.2 -0.3h1m0.5 0h1m-0.9 0.7h1m2.9 -0.5h1m-71.4 1.1h1m-0.4 0.4h1m0.7 -0.5h1m3.2 0.4h1m0 0h1m-0.9 -0.5h1m-0.7 0.6h1m0.9 -0.7h1m0.4 0.4h1m-0.5 0.3h1m-0.4 -0.6h1m2.3 0h1m0.3 0h1m-0.3 -0.1h1m1.1 0.3h1m2.8 -0.3h1m17.4 0.7h1m9.7 -0.8h1m1.5 0.4h1m-0.8 0.5h1m5.6 0.1h1m2.8 -1h1m-0.7 1h1m-0.4 0h1m1 -0.3h1m2.4 -0.4h1m-73 0.7h1m-0.5 0.1h1m2.7 0.3h1m-0.7 0.3h1m-1 -0.5h1m-0.2 0.1h1m-0.8 0.5h1m-0.4 -0.2h1m0.1 -0.1h1m-1 -0.3h1m2.9 0.5h1m-0.1 -0.2h1m-0.7 0.2h1m-0.2 -0.4h1m1.5 -0.2h1m1.9 0.1h1m-0.8 -0.2h1m2.4 0h1m-0.6 0h1m3.1 0.9h1m0.4 -0.3h1m12.7 0h1m0.1 0.1h1m19.2 -0.6h1m-0.3 0.4h1m-0.8 0.2h1m-67 1.2h1m0.5 -0.2h1m4.4 -0.6h1m2.1 0h1m0.4 0.2h1m1.1 0h1m1.6 0.4h1m3.8 0.3h1m-0.2 0h1m6.5 -0.3h1m0.3 -0.1h1m-0.9 -0.2h1m-0.2 0.2h1m-0.7 -0.1h1m-0.1 0.3h1m12 0.1h1m-0.6 0h1m12.6 0h1m2.1 -0.6h1m6.7 0.7h1m1 -0.9h1m-71.8 1h1m-0.2 0.1h1m-0.7 0.4h1m7.7 0.2h1m2.8 -0.2h1m1.6 -0.2h1m-0.4 -0.4h1m2.7 0h1m0.9 0.8h1m-0.4 -0.6h1m4.3 0.3h1m1.6 -0.4h1m23.5 0.3h1m11.2 0.1h1m0.3 -0.1h1m1.1 0.5h1m-0.2 0h1m-0.7 -0.9h1m-64.3 1.4h1m1.4 0.1h1m0.8 0.3h1m-0.1 -0.6h1m-0.6 0.2h1m6.7 0.1h1m-0.8 -0.5h1m5.7 0.1h1m-0.4 0.9h1m14.2 -0.4h1m10.7 0.2h1m10.9 0.1h1m0.6 -0.7h1m-1 0.1h1m1.6 0.6h1m-0.5 -0.1h1m-64 0.2h1m-0.6 0.5h1m0 0h1m-0.6 0.5h1m0.7 -0.8h1m-0.8 0.1h1m-0.9 -0.2h1m1.3 0.7h1m5.3 -0.4h1m0 0.5h1m1.3 -0.5h1m2.1 -0.1h1m-0.7 0.2h1m-0.8 -0.1h1m-0.6 0.1h1m1.5 -0.5h1m11.5 0h1m14.5 0.7h1m7.7 -0.7h1m-0.2 0.3h1m0 0.5h1m-0.6 0h1m-0.9 -0.2h1m0 0.2h1m-0.3 -0.1h1m-65 0.6h1m1.1 -0.3h1m1.8 0.4h1m-0.5 0.3h1m-0.8 -0.7h1m0.1 0.1h1m0.6 0.5h1m1.9 -0.4h1m-0.2 0h1m1.4 -0.2h1m-0.8 0.3h1m-0.6 0.6h1m0.3 -0.9h1m-0.8 0.9h1m-0.5 -0.5h1m-0.4 0.5h1m5.4 -0.5h1m-0.4 0h1m0.7 0.4h1m8.3 -0.6h1m16.9 0h1m2.4 -0.1h1m2.9 0.8h1m-0.9 0h1m-0.6 -0.8h1m-0.1 0.6h1m-58.5 0.5h1m1.2 0.1h1m-0.9 0h1m1 0.5h1m0.4 -0.5h1m5.1 -0.3h1m2.8 0h1m1.9 0.1h1m-0.4 0.5h1m-0.7 -0.3h1m-0.7 0.7h1m-1 -0.2h1m0.9 0h1m10.6 0h1m8.1 -0.1h1m8.3 0.3h1m2.7 -0.5h1m0.1 0.4h1m0.8 0h1m-0.5 -0.6h1m-59.5 1h1m0.3 -0.1h1m1.9 0.8h1m-0.6 -0.6h1m4.5 0.2h1m-0.6 -0.5h1m1.4 0h1m0.2 0.3h1m-0.9 -0.2h1m-0.4 -0.1h1m-0.7 0.6h1m1.4 -0.5h1m0 0h1m-1 0.3h1m0.4 0.3h1m-0.6 -0.5h1m-0.3 0.3h1m20.6 0.3h1m7.1 -0.5h1m-0.2 -0.1h1m1.2 0.2h1m-0.9 -0.2h1m0.7 0.6h1m-0.5 0h1m1.6 -0.1h1m-0.3 -0.6h1m-59.6 1h1m-0.4 0.6h1m4.8 -0.3h1m-0.1 -0.5h1m1.8 0.8h1m-0.9 -0.7h1m0.2 0.1h1m-0.5 0.3h1m0.4 -0.4h1m1.6 0h1m-0.1 0.5h1m0.2 0.3h1m-0.7 -0.8h1m-0.4 0.1h1m-0.8 0h1m0.2 0.5h1m-0.4 -0.7h1m-0.9 0.4h1m0.3 -0.2h1m9.2 0.7h1m13.4 0.1h1m2.5 -0.3h1m-0.1 0.1h1m-0.4 -0.5h1m-0.2 0.6h1m4.4 0h1m-57.6 0.7h1m6.3 0.1h1m3.5 -0.6h1m1.4 -0.1h1m0.3 0.2h1m-0.1 0.2h1m-0.6 0.3h1m0 0.1h1m0 -0.3h1m0.2 0h1m-0.9 -0.1h1m-0.3 0.3h1m-0.6 0.1h1m-0.4 -0.7h1m25.5 0.6h1m-0.6 -0.1h1m0.7 -0.2h1m-0.1 -0.4h1m-0.4 0.6h1m-0.8 0.2h1m-0.4 -0.6h1m0.4 -0.1h1m0.4 0.4h1m-50.7 0.7h1m2.3 0.3h1m2.2 0.2h1m-0.4 0h1m-0.4 0.2h1m1.8 -0.2h1m-0.3 0.3h1m-0.8 -0.2h1m-0.5 -0.5h1m-0.9 -0.1h1m-0.1 0.1h1m-0.6 0.2h1m-0.6 0.3h1m-0.4 -0.5h1m1.4 0.1h1m15.7 0.4h1m0.1 -0.7h1m-0.6 0.2h1m2.5 0.3h1m3.5 0.1h1m-0.1 0.1h1m2.6 -0.6h1m-0.6 -0.2h1m1.6 0h1m-41 1.2h1m-0.8 0.7h1m-0.7 -0.6h1m-0.5 -0.2h1m-0.8 0.4h1m0 0.1h1m-0.8 0.2h1m-0.8 -0.1h1m-1 -0.4h1m-0.9 0.5h1m-1 -0.3h1m2.4 0.3h1m23.4 0h1m1.4 -0.7h1m0.8 0.6h1m1.6 0.2h1m-0.9 -0.8h1m-0.6 0h1m0.2 0h1m-47.3 1.8h1m-0.9 -0.2h1m-0.1 -0.5h1m4.5 0.6h1m0.9 -0.5h1m-0.6 0.4h1m-0.9 0h1m-0.7 -0.4h1m-0.9 -0.2h1m-0.5 0.3h1m-1 0h1m-0.5 0.6h1m-0.8 0h1m-0.3 0h1m-0.9 -0.6h1m-0.3 0.6h1m-0.5 -0.6h1m-0.1 0.3h1m19.4 -0.5h1m1.8 0.2h1m0.4 -0.3h1m2.1 0.3h1m-45.2 1.4h1m6.4 0.2h1m0.7 -0.5h1m3.2 -0.1h1m-1 0.4h1m-0.3 -0.4h1m0 0.3h1m-0.8 -0.2h1m1.6 0.3h1m18.6 -0.2h1m0 -0.3h1m1.8 0h1m0.7 0.2h1m1.7 0.1h1m-0.7 0h1m-0.1 -0.3h1m0.1 0.7h1m1.5 -0.8h1m-50.9 1.4h1m1.4 0.2h1m-1 0h1m2.8 -0.6h1m4.6 -0.2h1m-0.7 0.2h1m-0.1 0.2h1m-0.4 0.5h1m-0.8 -0.2h1m-1 -0.4h1m-0.8 -0.2h1m-0.7 0h1m-0.7 0.8h1m-0.5 -0.7h1m-0.7 -0.2h1m-0.5 0.1h1m16.6 0.4h1m6.2 0h1m4.6 0.4h1m1.1 -0.4h1m-0.9 -0.1h1m-39.9 1.1h1m-0.9 0.2h1m-1 -0.5h1m-0.2 0.4h1m4.4 -0.2h1m-0.9 0.5h1m22.8 -0.8h1m-1 0.1h1m4.7 0.6h1m-0.9 0.1h1m-0.2 -0.8h1m-36.7 1h1m-0.3 0.1h1m0.4 0.7h1m-0.7 -0.8h1m21.8 0.2h1m4 0.3h1m-0.2 -0.2h1m0.1 0.1h1m0.1 -0.1h1m0.3 0.4h1m2.3 -0.2h1m-42.9 0.7h1m-0.5 -0.1h1m2.7 0.1h1m0.3 -0.1h1m-0.9 0.4h1m-0.9 -0.2h1m1.1 0.1h1m2.2 -0.1h1m24.7 0.1h1m1.8 -0.3h1m0 0.4h1m-38.4 1h1m1.5 0.3h1m3.7 -0.8h1m23.8 0.2h1m-0.3 -0.2h1m1.6 0h1m-3.3 1.5h1m-2.6 0.5h1m-18.4 1.6h1m-0.4 -0.5h1m-2.7 2.3h1m-37.5 1h1m32.4 1.3h1m-41 1.7h1m36.3 0.3h1m-54.7 1.4h1m50.9 0.4h1m-51.3 1.3h1m9.5 0h1m-0.9 -0.1h1m37.7 -0.4h1m0 -0.4h1m-56.9 2h1m0 -0.6h1m1.2 0.3h1m0.6 -0.1h1m-0.1 0.2h1m0 -0.4h1m-0.9 0.5h1m0.6 -0.1h1m-0.9 -0.7h1m3.6 0.4h1m0.6 -0.1h1m0.8 -0.4h1m-0.1 0.7h1m-18.4 0.5h1m0.6 0.1h1m1.4 0h1m-0.6 0.4h1m-0.1 -0.4h1m-0.9 0.7h1m-0.5 -1h1m-0.4 0.9h1m-0.1 -0.5h1m1.7 -0.2h1m4.7 0.7h1m34.4 -0.7h1m0 0.2h1m2.6 0.1h1m-0.4 -0.1h1m-0.6 0.3h1m0 0h1m-0.6 0.2h1m-0.9 -0.7h1m-0.9 0.1h1m-0.1 0.2h1m-56.7 0.5h1m-0.8 0.3h1m-0.8 0.7h1m-0.2 0h1m-0.8 0h1m-0.4 -0.2h1m1.1 0.1h1m0 -0.8h1m0.5 0.8h1m0.5 -0.5h1m-0.4 0.1h1m0.9 0.3h1m-0.1 -0.3h1m-0.5 0.2h1m34.9 -0.1h1m0.9 -0.2h1m0 0.3h1m0.9 0.2h1m0.9 -0.9h1m-0.8 1h1m-0.8 0h1m1 -0.2h1m0.6 -0.6h1m-61 1.7h1m-1 0h1m-0.7 -0.2h1m-0.6 -0.2h1m0.4 0.1h1m0.5 -0.4h1m-0.3 0h1m0.7 0.1h1m-0.9 0.2h1m-0.7 0.1h1m-0.7 0h1m1.2 0.3h1m1.1 -0.3h1m0 0.3h1m31 0h1m5 -0.8h1m3.2 0.4h1m1.7 0h1m3.3 -0.2h1m-63.5 0.7h1m-0.7 0.9h1m-0.8 -0.6h1m1 0.6h1m1 -0.1h1m-0.6 -0.6h1m0.6 -0.1h1m-0.5 0h1m-0.9 0.7h1m0.2 -0.2h1m0.6 0.2h1m-1 -0.6h1m-0.9 0h1m-0.9 0h1m-0.8 0.3h1m0.6 0.3h1m0.3 0.1h1m-0.8 -0.4h1m26.4 -0.1h1m3.1 0.3h1m1.1 0h1m0.6 -0.2h1m4.5 -0.2h1m-1 0.6h1m-0.7 -0.6h1m-0.7 0.4h1m0.1 0.1h1m2 -0.3h1m-0.8 -0.4h1m-61.2 1.7h1m3.3 -0.6h1m-0.2 0.3h1m-0.9 -0.4h1m0.8 0.7h1m-0.6 -0.7h1m-0.6 0.8h1m-0.7 0.1h1m-0.1 -0.7h1m0.7 0.1h1m28.2 0.2h1m-0.7 0h1m0.3 0.3h1m0.4 -0.3h1m3.2 0.2h1m2.4 -0.3h1m2.5 0h1m3.7 -0.3h1m-0.4 -0.1h1m-0.4 0h1m0.2 0.5h1m-57.3 0.4h1m-0.5 0.5h1m-0.9 0.3h1m-0.3 -0.6h1m-0.4 0.4h1m-1 -0.1h1m-0.8 -0.1h1m-0.6 0.6h1m-0.6 -0.5h1m-0.7 -0.2h1m0 -0.2h1m-0.1 0.3h1m-0.9 0.5h1m0 -0.3h1m-0.9 0.4h1m-0.6 -0.8h1m-0.6 0.3h1m-0.9 0h1m0.1 -0.1h1m25.1 0.3h1m3.7 -0.3h1m-0.4 0.5h1m0 -0.6h1m3.2 0.1h1m3.9 -0.2h1m1.1 0.7h1m1.2 0h1m0 -0.1h1m0.2 -0.2h1m-62.6 1h1m-0.3 -0.5h1m-0.7 0.5h1m3.3 -0.1h1m2.5 0.5h1m-0.2 -0.2h1m-0.1 -0.5h1m0.5 0.5h1m-0.2 0h1m-0.5 -0.6h1m-0.6 0.1h1m26.8 0.6h1m-0.1 -0.2h1m-0.9 -0.6h1m2.7 -0.1h1m2.8 0.1h1m7.7 0.2h1m-0.6 0.1h1m1.1 0h1m-0.1 -0.4h1m-0.8 0.5h1m-64 1.5h1m-0.3 -0.3h1m6 0.2h1m0.3 0h1m0.2 -0.6h1m-0.9 0.3h1m0 0.2h1m-1 -0.4h1m-0.8 -0.4h1m-0.9 0.3h1m-0.6 -0.2h1m-0.4 -0.1h1m0 0.2h1m-0.8 0.4h1m-0.7 0h1m-0.1 -0.3h1m-0.8 0.2h1m24.1 -0.3h1m-0.2 0.4h1m-0.4 -0.2h1m-0.8 -0.1h1m0.2 -0.1h1m0.5 0.3h1m-1 0.4h1m1.2 -0.6h1m-0.8 0.7h1m-0.9 -0.9h1m0.4 0.3h1m4.5 -0.4h1m2.8 0.2h1m0.4 0.7h1m0 -0.6h1m1.3 0.6h1m2.3 -0.3h1m0.7 0.1h1m-0.8 0.2h1m-68.6 0.2h1m0 0.1h1m-0.7 -0.1h1m0.8 0.8h1m4.1 -0.9h1m-0.2 1h1m1.7 -0.1h1m-0.1 -0.3h1m0.1 -0.2h1m-0.6 -0.1h1m-0.6 0.1h1m-0.3 0.4h1m0 -0.2h1m22.2 0.1h1m0.5 -0.7h1m-0.5 0.2h1m-0.9 0.8h1m-0.9 -0.3h1m-0.1 -0.3h1m-0.7 0.2h1m-0.5 -0.5h1m-0.6 0.2h1m-0.7 0.5h1m-0.6 -0.7h1m-0.1 0.3h1m0 0.5h1m-0.4 0.1h1m3.4 -0.4h1m1 0.2h1m-0.1 -0.3h1m-0.1 0.1h1m-0.8 -0.3h1m-0.4 0.5h1m-0.7 -0.1h1m0.5 0.1h1m-0.7 0.2h1m1.2 -0.2h1m-0.7 -0.5h1m0.4 0.1h1m-0.5 -0.3h1m0.7 0.8h1m-0.7 0h1m1.4 0.1h1m-66.5 0.1h1m-0.8 0.7h1m-0.6 -0.7h1m-0.9 0.3h1m0.3 0.3h1m0 -0.5h1m0.6 0.3h1m0.3 0.4h1m-0.2 -0.4h1m-0.5 -0.1h1m0.7 0h1m-0.9 0.2h1m0.2 0.3h1m-0.2 0h1m-0.9 -0.8h1m-1 0.1h1m-0.7 0h1m-0.7 0.8h1m-0.6 0h1m-0.2 -0.7h1m1.3 0.1h1m22.6 0.5h1m0.3 0.1h1m-0.8 -0.7h1m-0.8 0.6h1m-0.5 -0.7h1m-0.1 0.2h1m-0.6 -0.1h1m-0.6 -0.3h1m-0.8 0.9h1m-0.4 -0.5h1m-0.5 0.5h1m0.5 0h1m5.7 -0.1h1m0.1 -0.8h1m-0.7 0.1h1m1.9 0.5h1m1.2 0.1h1m2.1 -0.4h1m-63.2 1h1m-0.7 0.5h1m1.8 -0.6h1m4.6 0h1m0.9 0h1m0.5 0.5h1m-0.9 -0.4h1m26.1 -0.2h1m0.7 0.2h1m-0.9 0.3h1m1.4 0.3h1m-0.6 -0.8h1m-0.3 0h1m-0.9 0.6h1m-0.6 -0.1h1m0.1 0.3h1m-0.8 -0.3h1m-0.8 0.1h1m-0.9 -0.2h1m-0.8 0.2h1m-0.9 0h1m0.2 -0.6h1m0.9 0.7h1m0.5 0.2h1m0.5 -0.1h1m-0.4 -0.7h1m0.8 0.1h1m-0.2 0.3h1m0.7 -0.1h1m-0.5 -0.3h1m1.9 0h1m-0.8 0.4h1m-0.3 0.2h1m-1 -0.4h1m0.4 0.2h1m-0.6 -0.1h1m0.3 0.2h1m0.1 -0.4h1m-66.1 1.2h1m-0.8 0.1h1m-1 -0.6h1m2.7 0.8h1m-0.4 -0.3h1m1.2 0.5h1m-0.1 -0.5h1m-0.8 -0.4h1m-0.8 -0.1h1m-0.9 0.9h1m-0.6 -0.1h1m0.4 -0.3h1m-0.2 0h1m-0.1 -0.4h1m25.7 0.4h1m-0.1 0.5h1m-0.2 -0.8h1m0.2 -0.1h1m1.8 0.1h1m-0.5 0.3h1m-0.8 0.3h1m1.6 -0.3h1m-0.5 -0.1h1m3.8 -0.2h1m-0.1 0.1h1m5.9 0h1m0.4 0.3h1m0 0h1m-0.8 -0.4h1m-0.5 0h1m-66.4 0.8h1m-0.8 0.1h1m1.8 0h1m-1 0.4h1m0.2 0.4h1m-0.3 -0.1h1m-0.5 -0.3h1m0.4 0.3h1m3.7 -0.7h1m24.3 0.8h1m-0.1 0.1h1m0.9 -0.7h1m-0.7 0.1h1m-0.3 0.5h1m-0.6 -0.6h1m-0.7 -0.1h1m-0.9 0.8h1m2.9 -0.5h1m3.2 -0.4h1m-1 -0.1h1m-0.7 0.8h1m5.2 0.2h1m-0.2 -0.8h1m3.3 0.5h1m0.8 0.1h1m-0.6 -0.4h1m-0.3 0.6h1m1.1 -0.3h1m-0.5 -0.1h1m-1 -0.1h1m-64.8 0.6h1m1.3 0.7h1m-0.9 0.1h1m1.6 0h1m-0.6 -0.6h1m0.4 0.5h1m0.2 -0.1h1m27.7 -0.4h1m-0.2 0.2h1m-0.8 -0.1h1m3.7 -0.3h1m0.6 0.6h1m5.2 -0.4h1m-0.3 0.2h1m-0.1 0.1h1m0.2 0h1m4.4 -0.2h1m-0.9 0h1m3.8 -0.3h1m-66.3 1.7h1m0.8 -0.3h1m-0.1 -0.1h1m-0.5 -0.2h1m-0.8 0.3h1m5 -0.1h1m25.6 0.3h1m0.1 -0.2h1m0.4 -0.2h1m-0.4 0.3h1m-0.8 0.1h1m7.6 0.3h1m0.5 -0.2h1m6.6 0.1h1m1.5 -0.8h1m0 0.6h1m-0.8 -0.5h1m1.3 0.4h1m-0.2 -0.2h1m-65 0.9h1m-0.5 0h1m4.2 0.4h1m-0.4 -0.2h1m-0.7 -0.4h1m0.2 0.8h1m-0.8 -0.6h1m-0.5 0.3h1m27 -0.2h1m1.5 -0.3h1m-0.9 0.5h1m-0.9 -0.6h1m6 0h1m0.5 0.1h1m-0.9 0.2h1m-0.5 0h1m2.5 0.5h1m-0.7 -0.3h1m10.8 -0.2h1m-0.7 -0.1h1m-62.9 1.6h1m-0.3 0.1h1m1 -0.7h1m0.3 0.4h1m-0.8 0h1m-0.7 0.1h1m-0.2 -0.5h1m0.1 0.5h1m-0.3 0.1h1m-0.7 0.2h1m25.1 -0.7h1m10.7 0.1h1m-0.2 -0.1h1m0.6 0.3h1m0.6 -0.4h1m-0.2 0.2h1m-0.1 0h1m1.2 -0.2h1m-0.9 0.3h1m0.5 0.2h1m0.4 -0.5h1m-0.2 -0.1h1m-60.2 1.1h1m0.7 0.5h1m4.5 0.2h1m-0.5 -0.6h1m-0.9 0.1h1m-0.9 -0.1h1m41.5 0.7h1m-0.6 -0.6h1m0.8 0.2h1m-0.1 0.3h1m4.5 -0.7h1m-59.7 1.1h1m-1 0.4h1m2.5 -0.5h1m1.7 0.7h1m2.1 -0.8h1m25.2 0.4h1m14.3 0.2h1m-0.2 -0.1h1m-0.3 0h1m1.1 0h1m-0.8 -0.2h1m-0.6 0.5h1m-54.3 1h1m-0.5 0.1h1m1.5 0h1m0.4 -0.4h1m-0.9 -0.2h1m0.5 -0.3h1m-0.6 -0.1h1m-0.5 0.4h1m41.5 -0.2h1m1 0.6h1m0.3 -0.6h1m-0.7 0.4h1m1.4 -0.4h1m0.4 0.5h1m-55.4 1h1m3.2 0h1m24.6 -0.3h1m2.4 -0.1h1m16.6 -0.1h1m-53.4 0.9h1m29.9 0.6h1m0.4 -0.1h1m-0.7 0.2h1m0.9 -0.7h1m10.4 0.4h1m-48.2 0.5h1m5.2 1h1m-0.9 -0.4h1m24.4 -0.2h1m-0.4 0.1h1m0 0.1h1m-0.1 0.2h1m-0.6 -0.2h1m-0.6 -0.6h1m-36.1 1.8h1m0 -0.8h1m0.3 0.8h1m2.5 -0.8h1m26.3 0.8h1m-0.9 -0.6h1m-0.7 0h1m-0.6 0.1h1m-0.9 0h1m-3.3 0.8h1m-0.3 0.2h1m-0.9 0.1h1m0.3 0.2h1m0 -0.1h1m9.1 0.4h1m1.5 -0.2h1m-44.9 0.8h1m29.5 -0.1h1m-0.4 0h1m10.6 -0.3h1m-44.8 1.5h1m27.7 0.4h1m-0.3 -0.6h1m-1.9 1.5h1m1.3 -0.3h1m-0.4 -0.4h1m0 0.3h1m8.1 -0.1h1m-1 0.6h1m0.1 -0.5h1m-14.5 1.5h1m-0.6 -0.9h1m-0.1 0.8h1m1.6 0.1h1m5.5 0h1m-0.2 -0.6h1m1.1 -0.2h1m-0.2 0.7h1m-15.7 0.2h1m-0.5 0.3h1m0.1 -0.3h1m3.4 0.9h1m-0.6 -0.8h1m-0.4 0.7h1m-0.7 -0.6h1m-0.5 0.3h1m-0.3 -0.2h1m-0.2 0h1m2.7 0.5h1m-12.9 0.3h1m0.1 0.3h1m-0.8 0.1h1m-1 -0.3h1m-0.9 0.2h1m0.4 -0.2h1m0.1 0h1m0.5 0h1m-6.6 1.2h1m0.8 -0.5h1m-0.1 0.7h1m-1 -0.7h1m-0.8 0.9h1m-0.5 -0.7h1m-1 0.3h1m-0.7 0.3h1m3.9 0.2h1m2.3 -0.2h1m-0.7 0h1m-0.7 -0.3h1m-8.7 0.5h1m2.2 1h1m-0.3 -0.4h1m1.9 0h1m-0.4 -0.2h1m-8.7 1.3h1m2.4 0h1" stroke="#38b6c1" stroke-width="1" fill="none"/>
<path d="M97.3,253 C97.5,249 100,248.3 106,248.2 C118,248.3 130,250.5 140,255.5 C150,260.5 157,268 159,280 C160,290 157,297 153,302 C150,306 144,307 138,308 C134,310 132,315 129,319.5 C125,319 120,316 115,313.3 C110,311 103,311.5 98.6,312 C95,310 93.5,307 95,304 C97.5,300 101,297 104,293.6 C107,291 110,289 109.7,285 C108.5,282 104,280 100.4,279.1 C96.5,277.5 95,273 94.5,268 C94.5,263 96,258 97.3,253 Z" fill="none" stroke="#6cbd45" stroke-width="1.3" stroke-dasharray="3,2.2"/>
<path d="M105.5,268.8 C108,267.5 111.5,267.8 114,273 C117,278 122,282 127,285.5 C131,288 135,291 134.5,294.5 C133.5,297 130,296.5 126,294.5 C122,292.5 117,291.5 113,289 C109.5,286 108.5,282 108,278 C107,274 105,271 105.5,268.8 Z" fill="none" stroke="#d46fbf" stroke-width="1.3" stroke-dasharray="3,2.2"/>
<ellipse cx="109.3" cy="319.5" rx="12.6" ry="8.2" transform="rotate(15 109.3 319.5)" fill="none" stroke="#c9a91c" stroke-width="1.3" stroke-dasharray="3,2.2"/>
<ellipse cx="144.3" cy="317" rx="11.8" ry="10.8" fill="none" stroke="#c9a91c" stroke-width="1.3" stroke-dasharray="3,2.2"/>
<circle cx="29.7" cy="250.4" r="4.1" fill="#38b6c1"/>
<circle cx="29.7" cy="262.2" r="4.1" fill="#ef7b73"/>
<text x="35.80" y="253.70" font-size="9.6" text-anchor="start" fill="#1c1c1c" >Etoposide</text>
<text x="35.80" y="265.50" font-size="9.6" text-anchor="start" fill="#1c1c1c" >Vehicle</text>
<line x1="25.5" y1="309.5" x2="39" y2="309.5" stroke="#d46fbf" stroke-width="1.2" stroke-dasharray="3.2,2.6"/>
<text x="46.00" y="311.70" font-size="6.6" text-anchor="start" fill="#444" >RG-like</text>
<line x1="25.5" y1="319.2" x2="39" y2="319.2" stroke="#6cbd45" stroke-width="1.2" stroke-dasharray="3.2,2.6"/>
<text x="46.00" y="321.40" font-size="6.6" text-anchor="start" fill="#444" >NProg-like</text>
<line x1="25.5" y1="328.8" x2="39" y2="328.8" stroke="#c9a91c" stroke-width="1.2" stroke-dasharray="3.2,2.6"/>
<text x="46.00" y="331.00" font-size="6.6" text-anchor="start" fill="#444" >Nb-like</text>
<line x1="18.5" y1="393.8" x2="18.5" y2="372" stroke="#111" stroke-width="0.9"/>
<path d="M16.6,373.5 L18.5,368.8 L20.4,373.5 Z" fill="#111"/>
<line x1="18.5" y1="393.8" x2="40" y2="393.8" stroke="#111" stroke-width="0.9"/>
<path d="M39,391.9 L43.6,393.8 L39,395.7 Z" fill="#111"/>
<text x="13.60" y="381.50" font-size="6.4" text-anchor="middle" fill="#262626" transform="rotate(-90 13.6 381.5)">UMAP2</text>
<text x="30.20" y="401.80" font-size="6.4" text-anchor="middle" fill="#262626" >UMAP1</text>
<text x="97.20" y="402.20" font-size="9.6" text-anchor="middle" fill="#1c1c1c" >n (cells) = 12447 cells</text>
<rect x="167.9" y="252" width="7.8" height="7.8" fill="#ef7b73"/>
<rect x="167.9" y="260.7" width="18.9" height="7.8" fill="#38b6c1"/>
<path d="M167.4,249.3 L167.4,270.9 L189.6,270.9" fill="none" stroke="#111" stroke-width="1.2"/>
<text x="166.30" y="277.50" font-size="6.6" text-anchor="middle" fill="#262626" >0</text>
<text x="173.20" y="277.50" font-size="6.6" text-anchor="middle" fill="#262626" >2</text>
<text x="183.10" y="277.50" font-size="6.6" text-anchor="middle" fill="#262626" >6</text>
<text x="191.70" y="277.50" font-size="6.6" text-anchor="middle" fill="#262626" >10</text>
<text x="164.60" y="286.20" font-size="6.6" text-anchor="start" fill="#262626" >n (cells) x 10<tspan font-size="4" dy="-2.5">3</tspan></text>
<text x="195.60" y="175.80" font-size="8.6" text-anchor="start" fill="#111" font-weight="bold" >D</text>
<text x="256.80" y="186.70" font-size="9.5" text-anchor="middle" fill="#1c1c1c" >ETMR subpopulations</text>
<text x="258.00" y="196.80" font-size="9.6" text-anchor="middle" fill="#1c1c1c" >enrichment</text>
<text x="254.80" y="212.30" font-size="8.2" text-anchor="middle" fill="#262626" >(% all ETMR cells)</text>
<g transform="translate(195,193) scale(1.0)"><path d="M0,2.9 C0.8,2 1.8,1.5 2.8,1.3 L3.8,0.2 L4.9,0.9 C7,0.6 10,0.6 12.5,1.2 C14.8,1.9 16.3,3.3 16.8,5.2 C16.6,6.4 15.6,7 14.6,7.1 L13.2,7.3 L12.5,8.4 L11,8.4 L11.4,7.2 L6.6,7.1 L5.5,8.1 L3.8,8.2 L4.6,6.8 C3,5.6 1.5,4.3 0,2.9 Z" fill="#2b2b2b"/><path d="M16.2,6.2 C18,6.5 19.7,7.1 19.9,8.3 C20.1,9.6 18,10.2 15.6,10.1" fill="none" stroke="#666" stroke-width="0.6"/><path d="M3.2,8.6 L5.8,8.6 M10.4,8.9 L13.2,8.9" stroke="#aaa" stroke-width="0.6"/></g>
<text x="248.80" y="235.60" font-size="9.0" text-anchor="middle" fill="#1c1c1c" >Vehicle</text>
<circle cx="248.3" cy="274.7" r="32.1" fill="#66b23a"/>
<path d="M248.3,274.7 L217.36,266.13 A32.1,32.1 0 0 1 248.30,242.60 Z" fill="#c4a117" stroke="none"/>
<path d="M248.3,274.7 L248.30,242.60 A32.1,32.1 0 0 1 257.45,243.93 Z" fill="#cf6fb5" stroke="#111" stroke-width="1.1" stroke-linejoin="round"/>
<path d="M252.2,242.6 L255.6,239.6 L270.2,239.6" fill="none" stroke="#222" stroke-width="0.8"/>
<text x="273.30" y="243.20" font-size="8.1" text-anchor="start" fill="#262626" >4,6%</text>
<text x="248.10" y="316.80" font-size="9.0" text-anchor="middle" fill="#1c1c1c" >Etoposide</text>
<circle cx="248.0" cy="356.7" r="32.1" fill="#66b23a"/>
<path d="M248.0,356.7 L224.19,335.17 A32.1,32.1 0 0 1 248.00,324.60 Z" fill="#c4a117" stroke="none"/>
<path d="M248.0,356.7 L248.00,324.60 A32.1,32.1 0 0 1 274.88,339.16 Z" fill="#cf6fb5" stroke="#111" stroke-width="1.1" stroke-linejoin="round"/>
<path d="M263,326.6 L265.6,324.2 L278.4,324.2" fill="none" stroke="#222" stroke-width="0.7"/>
<text x="280.20" y="327.90" font-size="8.1" text-anchor="start" fill="#262626" >15,8%</text>
<circle cx="285.3" cy="361.8" r="4.4" fill="#cf6fb5"/>
<text x="290.60" y="365.20" font-size="9.6" text-anchor="start" fill="#1c1c1c" >RG-like</text>
<circle cx="285.3" cy="373.9" r="4.4" fill="#66b23a"/>
<text x="290.60" y="377.30" font-size="9.6" text-anchor="start" fill="#1c1c1c" >NProg-like</text>
<circle cx="285.3" cy="385.5" r="4.4" fill="#c4a117"/>
<text x="290.60" y="388.90" font-size="9.6" text-anchor="start" fill="#1c1c1c" >Nb-like</text>
<text x="335.00" y="175.80" font-size="8.6" text-anchor="start" fill="#111" font-weight="bold" >E</text>
<text x="422.60" y="187.20" font-size="9.6" text-anchor="middle" fill="#1c1c1c" >Apoptosis-recovery</text>
<text x="424.10" y="193.80" font-size="9.6" text-anchor="middle" fill="#1c1c1c" >gene signature</text>
<g transform="translate(344.7,192.5) scale(1.0)"><path d="M0,2.9 C0.8,2 1.8,1.5 2.8,1.3 L3.8,0.2 L4.9,0.9 C7,0.6 10,0.6 12.5,1.2 C14.8,1.9 16.3,3.3 16.8,5.2 C16.6,6.4 15.6,7 14.6,7.1 L13.2,7.3 L12.5,8.4 L11,8.4 L11.4,7.2 L6.6,7.1 L5.5,8.1 L3.8,8.2 L4.6,6.8 C3,5.6 1.5,4.3 0,2.9 Z" fill="#2b2b2b"/><path d="M16.2,6.2 C18,6.5 19.7,7.1 19.9,8.3 C20.1,9.6 18,10.2 15.6,10.1" fill="none" stroke="#666" stroke-width="0.6"/><path d="M3.2,8.6 L5.8,8.6 M10.4,8.9 L13.2,8.9" stroke="#aaa" stroke-width="0.6"/></g>
<rect x="349.40" y="224.00" width="19.91" height="2.48" fill="#d7302a"/>
<rect x="349.40" y="226.48" width="19.91" height="2.48" fill="#d7302a"/>
<rect x="349.40" y="228.97" width="19.91" height="2.48" fill="#d7302a"/>
<rect x="349.40" y="231.45" width="19.91" height="2.48" fill="#d7302a"/>
<rect x="349.40" y="233.94" width="19.91" height="2.48" fill="#e55a3c"/>
<rect x="349.40" y="236.42" width="19.91" height="2.48" fill="#f3874f"/>
<rect x="349.40" y="238.91" width="19.91" height="2.48" fill="#f3874f"/>
<rect x="349.40" y="241.39" width="19.91" height="2.48" fill="#d7302a"/>
<rect x="349.40" y="243.88" width="19.91" height="2.48" fill="#eff5e4"/>
<rect x="349.40" y="246.36" width="19.91" height="2.48" fill="#fcf1bd"/>
<rect x="349.40" y="248.85" width="19.91" height="2.48" fill="#d7302a"/>
<rect x="349.40" y="251.33" width="19.91" height="2.48" fill="#d7302a"/>
<rect x="349.40" y="253.82" width="19.91" height="2.48" fill="#eff5e4"/>
<rect x="349.40" y="256.30" width="19.91" height="2.48" fill="#fdd68a"/>
<rect x="349.40" y="258.79" width="19.91" height="2.48" fill="#f3874f"/>
<rect x="349.40" y="261.27" width="19.91" height="2.48" fill="#fcf1bd"/>
<rect x="349.40" y="263.76" width="19.91" height="2.48" fill="#d7302a"/>
<rect x="349.40" y="266.24" width="19.91" height="2.48" fill="#e55a3c"/>
<rect x="349.40" y="268.73" width="19.91" height="2.48" fill="#e55a3c"/>
<rect x="349.40" y="271.21" width="19.91" height="2.48" fill="#d7302a"/>
<rect x="349.40" y="273.70" width="19.91" height="2.48" fill="#d7302a"/>
<rect x="349.40" y="276.18" width="19.91" height="2.48" fill="#e55a3c"/>
<rect x="349.40" y="278.67" width="19.91" height="2.48" fill="#e55a3c"/>
<rect x="349.40" y="281.15" width="19.91" height="2.48" fill="#fcf1bd"/>
<rect x="349.40" y="283.64" width="19.91" height="2.48" fill="#d7302a"/>
<rect x="349.40" y="286.12" width="19.91" height="2.48" fill="#d7302a"/>
<rect x="349.40" y="288.61" width="19.91" height="2.48" fill="#f3874f"/>
<rect x="349.40" y="291.09" width="19.91" height="2.48" fill="#d7302a"/>
<rect x="349.40" y="293.58" width="19.91" height="2.48" fill="#e55a3c"/>
<rect x="349.40" y="296.06" width="19.91" height="2.48" fill="#d7302a"/>
<rect x="349.40" y="298.55" width="19.91" height="2.48" fill="#eff5e4"/>
<rect x="349.40" y="301.03" width="19.91" height="2.48" fill="#fcf1bd"/>
<rect x="349.40" y="303.52" width="19.91" height="2.48" fill="#f3874f"/>
<rect x="349.40" y="306.00" width="19.91" height="2.48" fill="#eff5e4"/>
<rect x="349.40" y="308.48" width="19.91" height="2.48" fill="#fcf1bd"/>
<rect x="349.40" y="310.97" width="19.91" height="2.48" fill="#d7302a"/>
<rect x="349.40" y="313.45" width="19.91" height="2.48" fill="#d7302a"/>
<rect x="349.40" y="315.94" width="19.91" height="2.48" fill="#d7302a"/>
<rect x="349.40" y="318.42" width="19.91" height="2.48" fill="#f9b26a"/>
<rect x="349.40" y="320.91" width="19.91" height="2.48" fill="#fdd68a"/>
<rect x="349.40" y="323.39" width="19.91" height="2.48" fill="#d7302a"/>
<rect x="349.40" y="325.88" width="19.91" height="2.48" fill="#fdd68a"/>
<rect x="349.40" y="328.36" width="19.91" height="2.48" fill="#d7302a"/>
<rect x="349.40" y="330.85" width="19.91" height="2.48" fill="#dbeaf0"/>
<rect x="349.40" y="333.33" width="19.91" height="2.48" fill="#e55a3c"/>
<rect x="349.40" y="335.82" width="19.91" height="2.48" fill="#d7302a"/>
<rect x="349.40" y="338.30" width="19.91" height="2.48" fill="#fdd68a"/>
<rect x="349.40" y="340.79" width="19.91" height="2.48" fill="#d7302a"/>
<rect x="349.40" y="343.27" width="19.91" height="2.48" fill="#d7302a"/>
<rect x="349.40" y="345.76" width="19.91" height="2.48" fill="#eff5e4"/>
<rect x="349.40" y="348.24" width="19.91" height="2.48" fill="#f9b26a"/>
<rect x="349.40" y="350.73" width="19.91" height="2.48" fill="#f3874f"/>
<rect x="349.40" y="353.21" width="19.91" height="2.48" fill="#d7302a"/>
<rect x="349.40" y="355.70" width="19.91" height="2.48" fill="#fdd68a"/>
<rect x="349.40" y="358.18" width="19.91" height="2.48" fill="#f3874f"/>
<rect x="349.40" y="360.67" width="19.91" height="2.48" fill="#f9b26a"/>
<rect x="349.40" y="363.15" width="19.91" height="2.48" fill="#fcf1bd"/>
<rect x="349.40" y="365.64" width="19.91" height="2.48" fill="#f3874f"/>
<rect x="349.40" y="368.12" width="19.91" height="2.48" fill="#e55a3c"/>
<rect x="349.40" y="370.61" width="19.91" height="2.48" fill="#d7302a"/>
<rect x="349.40" y="373.09" width="19.91" height="2.48" fill="#f9b26a"/>
<rect x="349.40" y="375.58" width="19.91" height="2.48" fill="#fdd68a"/>
<rect x="349.40" y="378.06" width="19.91" height="2.48" fill="#fdd68a"/>
<rect x="349.40" y="380.55" width="19.91" height="2.48" fill="#fcf1bd"/>
<rect x="349.40" y="383.03" width="19.91" height="2.48" fill="#d7302a"/>
<rect x="349.40" y="385.52" width="19.91" height="2.48" fill="#fcf1bd"/>
<rect x="369.31" y="224.00" width="19.91" height="2.48" fill="#fcf1bd"/>
<rect x="369.31" y="226.48" width="19.91" height="2.48" fill="#fcf1bd"/>
<rect x="369.31" y="228.97" width="19.91" height="2.48" fill="#eff5e4"/>
<rect x="369.31" y="231.45" width="19.91" height="2.48" fill="#fcf1bd"/>
<rect x="369.31" y="233.94" width="19.91" height="2.48" fill="#f9b26a"/>
<rect x="369.31" y="236.42" width="19.91" height="2.48" fill="#dbeaf0"/>
<rect x="369.31" y="238.91" width="19.91" height="2.48" fill="#fdd68a"/>
<rect x="369.31" y="241.39" width="19.91" height="2.48" fill="#fcf1bd"/>
<rect x="369.31" y="243.88" width="19.91" height="2.48" fill="#fcf1bd"/>
<rect x="369.31" y="246.36" width="19.91" height="2.48" fill="#eff5e4"/>
<rect x="369.31" y="248.85" width="19.91" height="2.48" fill="#fcf1bd"/>
<rect x="369.31" y="251.33" width="19.91" height="2.48" fill="#eff5e4"/>
<rect x="369.31" y="253.82" width="19.91" height="2.48" fill="#fcf1bd"/>
<rect x="369.31" y="256.30" width="19.91" height="2.48" fill="#eff5e4"/>
<rect x="369.31" y="258.79" width="19.91" height="2.48" fill="#f3874f"/>
<rect x="369.31" y="261.27" width="19.91" height="2.48" fill="#88b4d8"/>
<rect x="369.31" y="263.76" width="19.91" height="2.48" fill="#fcf1bd"/>
<rect x="369.31" y="266.24" width="19.91" height="2.48" fill="#fdd68a"/>
<rect x="369.31" y="268.73" width="19.91" height="2.48" fill="#eff5e4"/>
<rect x="369.31" y="271.21" width="19.91" height="2.48" fill="#fcf1bd"/>
<rect x="369.31" y="273.70" width="19.91" height="2.48" fill="#fcf1bd"/>
<rect x="369.31" y="276.18" width="19.91" height="2.48" fill="#fdd68a"/>
<rect x="369.31" y="278.67" width="19.91" height="2.48" fill="#eff5e4"/>
<rect x="369.31" y="281.15" width="19.91" height="2.48" fill="#fcf1bd"/>
<rect x="369.31" y="283.64" width="19.91" height="2.48" fill="#fdd68a"/>
<rect x="369.31" y="286.12" width="19.91" height="2.48" fill="#fcf1bd"/>
<rect x="369.31" y="288.61" width="19.91" height="2.48" fill="#eff5e4"/>
<rect x="369.31" y="291.09" width="19.91" height="2.48" fill="#fcf1bd"/>
<rect x="369.31" y="293.58" width="19.91" height="2.48" fill="#fdd68a"/>
<rect x="369.31" y="296.06" width="19.91" height="2.48" fill="#fcf1bd"/>
<rect x="369.31" y="298.55" width="19.91" height="2.48" fill="#d7302a"/>
<rect x="369.31" y="301.03" width="19.91" height="2.48" fill="#dbeaf0"/>
<rect x="369.31" y="303.52" width="19.91" height="2.48" fill="#fdd68a"/>
<rect x="369.31" y="306.00" width="19.91" height="2.48" fill="#fdd68a"/>
<rect x="369.31" y="308.48" width="19.91" height="2.48" fill="#fcf1bd"/>
<rect x="369.31" y="310.97" width="19.91" height="2.48" fill="#eff5e4"/>
<rect x="369.31" y="313.45" width="19.91" height="2.48" fill="#fcf1bd"/>
<rect x="369.31" y="315.94" width="19.91" height="2.48" fill="#fcf1bd"/>
<rect x="369.31" y="318.42" width="19.91" height="2.48" fill="#eff5e4"/>
<rect x="369.31" y="320.91" width="19.91" height="2.48" fill="#fdd68a"/>
<rect x="369.31" y="323.39" width="19.91" height="2.48" fill="#fdd68a"/>
<rect x="369.31" y="325.88" width="19.91" height="2.48" fill="#eff5e4"/>
<rect x="369.31" y="328.36" width="19.91" height="2.48" fill="#fcf1bd"/>
<rect x="369.31" y="330.85" width="19.91" height="2.48" fill="#fcf1bd"/>
<rect x="369.31" y="333.33" width="19.91" height="2.48" fill="#fcf1bd"/>
<rect x="369.31" y="335.82" width="19.91" height="2.48" fill="#eff5e4"/>
<rect x="369.31" y="338.30" width="19.91" height="2.48" fill="#f9b26a"/>
<rect x="369.31" y="340.79" width="19.91" height="2.48" fill="#fcf1bd"/>
<rect x="369.31" y="343.27" width="19.91" height="2.48" fill="#fcf1bd"/>
<rect x="369.31" y="345.76" width="19.91" height="2.48" fill="#eff5e4"/>
<rect x="369.31" y="348.24" width="19.91" height="2.48" fill="#fcf1bd"/>
<rect x="369.31" y="350.73" width="19.91" height="2.48" fill="#fdd68a"/>
<rect x="369.31" y="353.21" width="19.91" height="2.48" fill="#f9b26a"/>
<rect x="369.31" y="355.70" width="19.91" height="2.48" fill="#fcf1bd"/>
<rect x="369.31" y="358.18" width="19.91" height="2.48" fill="#fdd68a"/>
<rect x="369.31" y="360.67" width="19.91" height="2.48" fill="#eff5e4"/>
<rect x="369.31" y="363.15" width="19.91" height="2.48" fill="#fcf1bd"/>
<rect x="369.31" y="365.64" width="19.91" height="2.48" fill="#fdd68a"/>
<rect x="369.31" y="368.12" width="19.91" height="2.48" fill="#f3874f"/>
<rect x="369.31" y="370.61" width="19.91" height="2.48" fill="#dbeaf0"/>
<rect x="369.31" y="373.09" width="19.91" height="2.48" fill="#eff5e4"/>
<rect x="369.31" y="375.58" width="19.91" height="2.48" fill="#f9b26a"/>
<rect x="369.31" y="378.06" width="19.91" height="2.48" fill="#dbeaf0"/>
<rect x="369.31" y="380.55" width="19.91" height="2.48" fill="#fcf1bd"/>
<rect x="369.31" y="383.03" width="19.91" height="2.48" fill="#eff5e4"/>
<rect x="369.31" y="385.52" width="19.91" height="2.48" fill="#fdd68a"/>
<rect x="389.23" y="224.00" width="19.91" height="2.48" fill="#fcf1bd"/>
<rect x="389.23" y="226.48" width="19.91" height="2.48" fill="#eff5e4"/>
<rect x="389.23" y="228.97" width="19.91" height="2.48" fill="#eff5e4"/>
<rect x="389.23" y="231.45" width="19.91" height="2.48" fill="#eff5e4"/>
<rect x="389.23" y="233.94" width="19.91" height="2.48" fill="#dbeaf0"/>
<rect x="389.23" y="236.42" width="19.91" height="2.48" fill="#fdd68a"/>
<rect x="389.23" y="238.91" width="19.91" height="2.48" fill="#fdd68a"/>
<rect x="389.23" y="241.39" width="19.91" height="2.48" fill="#dbeaf0"/>
<rect x="389.23" y="243.88" width="19.91" height="2.48" fill="#f9b26a"/>
<rect x="389.23" y="246.36" width="19.91" height="2.48" fill="#f9b26a"/>
<rect x="389.23" y="248.85" width="19.91" height="2.48" fill="#dbeaf0"/>
<rect x="389.23" y="251.33" width="19.91" height="2.48" fill="#dbeaf0"/>
<rect x="389.23" y="253.82" width="19.91" height="2.48" fill="#eff5e4"/>
<rect x="389.23" y="256.30" width="19.91" height="2.48" fill="#e55a3c"/>
<rect x="389.23" y="258.79" width="19.91" height="2.48" fill="#fcf1bd"/>
<rect x="389.23" y="261.27" width="19.91" height="2.48" fill="#dbeaf0"/>
<rect x="389.23" y="263.76" width="19.91" height="2.48" fill="#eff5e4"/>
<rect x="389.23" y="266.24" width="19.91" height="2.48" fill="#dbeaf0"/>
<rect x="389.23" y="268.73" width="19.91" height="2.48" fill="#fdd68a"/>
<rect x="389.23" y="271.21" width="19.91" height="2.48" fill="#eff5e4"/>
<rect x="389.23" y="273.70" width="19.91" height="2.48" fill="#fcf1bd"/>
<rect x="389.23" y="276.18" width="19.91" height="2.48" fill="#dbeaf0"/>
<rect x="389.23" y="278.67" width="19.91" height="2.48" fill="#dbeaf0"/>
<rect x="389.23" y="281.15" width="19.91" height="2.48" fill="#fdd68a"/>
<rect x="389.23" y="283.64" width="19.91" height="2.48" fill="#fcf1bd"/>
<rect x="389.23" y="286.12" width="19.91" height="2.48" fill="#eff5e4"/>
<rect x="389.23" y="288.61" width="19.91" height="2.48" fill="#fcf1bd"/>
<rect x="389.23" y="291.09" width="19.91" height="2.48" fill="#dbeaf0"/>
<rect x="389.23" y="293.58" width="19.91" height="2.48" fill="#dbeaf0"/>
<rect x="389.23" y="296.06" width="19.91" height="2.48" fill="#eff5e4"/>
<rect x="389.23" y="298.55" width="19.91" height="2.48" fill="#eff5e4"/>
<rect x="389.23" y="301.03" width="19.91" height="2.48" fill="#f3874f"/>
<rect x="389.23" y="303.52" width="19.91" height="2.48" fill="#fdd68a"/>
<rect x="389.23" y="306.00" width="19.91" height="2.48" fill="#d7302a"/>
<rect x="389.23" y="308.48" width="19.91" height="2.48" fill="#f3874f"/>
<rect x="389.23" y="310.97" width="19.91" height="2.48" fill="#fcf1bd"/>
<rect x="389.23" y="313.45" width="19.91" height="2.48" fill="#fdd68a"/>
<rect x="389.23" y="315.94" width="19.91" height="2.48" fill="#eff5e4"/>
<rect x="389.23" y="318.42" width="19.91" height="2.48" fill="#fcf1bd"/>
<rect x="389.23" y="320.91" width="19.91" height="2.48" fill="#f9b26a"/>
<rect x="389.23" y="323.39" width="19.91" height="2.48" fill="#dbeaf0"/>
<rect x="389.23" y="325.88" width="19.91" height="2.48" fill="#fdd68a"/>
<rect x="389.23" y="328.36" width="19.91" height="2.48" fill="#fcf1bd"/>
<rect x="389.23" y="330.85" width="19.91" height="2.48" fill="#f9b26a"/>
<rect x="389.23" y="333.33" width="19.91" height="2.48" fill="#fdd68a"/>
<rect x="389.23" y="335.82" width="19.91" height="2.48" fill="#dbeaf0"/>
<rect x="389.23" y="338.30" width="19.91" height="2.48" fill="#f9b26a"/>
<rect x="389.23" y="340.79" width="19.91" height="2.48" fill="#dbeaf0"/>
<rect x="389.23" y="343.27" width="19.91" height="2.48" fill="#eff5e4"/>
<rect x="389.23" y="345.76" width="19.91" height="2.48" fill="#dbeaf0"/>
<rect x="389.23" y="348.24" width="19.91" height="2.48" fill="#f9b26a"/>
<rect x="389.23" y="350.73" width="19.91" height="2.48" fill="#fdd68a"/>
<rect x="389.23" y="353.21" width="19.91" height="2.48" fill="#fcf1bd"/>
<rect x="389.23" y="355.70" width="19.91" height="2.48" fill="#eff5e4"/>
<rect x="389.23" y="358.18" width="19.91" height="2.48" fill="#dbeaf0"/>
<rect x="389.23" y="360.67" width="19.91" height="2.48" fill="#dbeaf0"/>
<rect x="389.23" y="363.15" width="19.91" height="2.48" fill="#f3874f"/>
<rect x="389.23" y="365.64" width="19.91" height="2.48" fill="#f9b26a"/>
<rect x="389.23" y="368.12" width="19.91" height="2.48" fill="#fcf1bd"/>
<rect x="389.23" y="370.61" width="19.91" height="2.48" fill="#fcf1bd"/>
<rect x="389.23" y="373.09" width="19.91" height="2.48" fill="#fdd68a"/>
<rect x="389.23" y="375.58" width="19.91" height="2.48" fill="#fcf1bd"/>
<rect x="389.23" y="378.06" width="19.91" height="2.48" fill="#fdd68a"/>
<rect x="389.23" y="380.55" width="19.91" height="2.48" fill="#f9b26a"/>
<rect x="389.23" y="383.03" width="19.91" height="2.48" fill="#dbeaf0"/>
<rect x="389.23" y="385.52" width="19.91" height="2.48" fill="#e55a3c"/>
<rect x="409.14" y="224.00" width="19.91" height="2.48" fill="#eff5e4"/>
<rect x="409.14" y="226.48" width="19.91" height="2.48" fill="#eff5e4"/>
<rect x="409.14" y="228.97" width="19.91" height="2.48" fill="#fcf1bd"/>
<rect x="409.14" y="231.45" width="19.91" height="2.48" fill="#fcf1bd"/>
<rect x="409.14" y="233.94" width="19.91" height="2.48" fill="#eff5e4"/>
<rect x="409.14" y="236.42" width="19.91" height="2.48" fill="#fcf1bd"/>
<rect x="409.14" y="238.91" width="19.91" height="2.48" fill="#fcf1bd"/>
<rect x="409.14" y="241.39" width="19.91" height="2.48" fill="#fdd68a"/>
<rect x="409.14" y="243.88" width="19.91" height="2.48" fill="#b8d5e8"/>
<rect x="409.14" y="246.36" width="19.91" height="2.48" fill="#b8d5e8"/>
<rect x="409.14" y="248.85" width="19.91" height="2.48" fill="#fdd68a"/>
<rect x="409.14" y="251.33" width="19.91" height="2.48" fill="#fdd68a"/>
<rect x="409.14" y="253.82" width="19.91" height="2.48" fill="#eff5e4"/>
<rect x="409.14" y="256.30" width="19.91" height="2.48" fill="#dbeaf0"/>
<rect x="409.14" y="258.79" width="19.91" height="2.48" fill="#eff5e4"/>
<rect x="409.14" y="261.27" width="19.91" height="2.48" fill="#fdd68a"/>
<rect x="409.14" y="263.76" width="19.91" height="2.48" fill="#dbeaf0"/>
<rect x="409.14" y="266.24" width="19.91" height="2.48" fill="#fdd68a"/>
<rect x="409.14" y="268.73" width="19.91" height="2.48" fill="#fcf1bd"/>
<rect x="409.14" y="271.21" width="19.91" height="2.48" fill="#fcf1bd"/>
<rect x="409.14" y="273.70" width="19.91" height="2.48" fill="#fdd68a"/>
<rect x="409.14" y="276.18" width="19.91" height="2.48" fill="#dbeaf0"/>
<rect x="409.14" y="278.67" width="19.91" height="2.48" fill="#b8d5e8"/>
<rect x="409.14" y="281.15" width="19.91" height="2.48" fill="#fdd68a"/>
<rect x="409.14" y="283.64" width="19.91" height="2.48" fill="#fcf1bd"/>
<rect x="409.14" y="286.12" width="19.91" height="2.48" fill="#f9b26a"/>
<rect x="409.14" y="288.61" width="19.91" height="2.48" fill="#fcf1bd"/>
<rect x="409.14" y="291.09" width="19.91" height="2.48" fill="#fcf1bd"/>
<rect x="409.14" y="293.58" width="19.91" height="2.48" fill="#fcf1bd"/>
<rect x="409.14" y="296.06" width="19.91" height="2.48" fill="#fcf1bd"/>
<rect x="409.14" y="298.55" width="19.91" height="2.48" fill="#dbeaf0"/>
<rect x="409.14" y="301.03" width="19.91" height="2.48" fill="#dbeaf0"/>
<rect x="409.14" y="303.52" width="19.91" height="2.48" fill="#eff5e4"/>
<rect x="409.14" y="306.00" width="19.91" height="2.48" fill="#dbeaf0"/>
<rect x="409.14" y="308.48" width="19.91" height="2.48" fill="#88b4d8"/>
<rect x="409.14" y="310.97" width="19.91" height="2.48" fill="#fcf1bd"/>
<rect x="409.14" y="313.45" width="19.91" height="2.48" fill="#eff5e4"/>
<rect x="409.14" y="315.94" width="19.91" height="2.48" fill="#fcf1bd"/>
<rect x="409.14" y="318.42" width="19.91" height="2.48" fill="#b8d5e8"/>
<rect x="409.14" y="320.91" width="19.91" height="2.48" fill="#b8d5e8"/>
<rect x="409.14" y="323.39" width="19.91" height="2.48" fill="#fcf1bd"/>
<rect x="409.14" y="325.88" width="19.91" height="2.48" fill="#b8d5e8"/>
<rect x="409.14" y="328.36" width="19.91" height="2.48" fill="#fcf1bd"/>
<rect x="409.14" y="330.85" width="19.91" height="2.48" fill="#b8d5e8"/>
<rect x="409.14" y="333.33" width="19.91" height="2.48" fill="#eff5e4"/>
<rect x="409.14" y="335.82" width="19.91" height="2.48" fill="#fdd68a"/>
<rect x="409.14" y="338.30" width="19.91" height="2.48" fill="#fcf1bd"/>
<rect x="409.14" y="340.79" width="19.91" height="2.48" fill="#eff5e4"/>
<rect x="409.14" y="343.27" width="19.91" height="2.48" fill="#fcf1bd"/>
<rect x="409.14" y="345.76" width="19.91" height="2.48" fill="#b8d5e8"/>
<rect x="409.14" y="348.24" width="19.91" height="2.48" fill="#b8d5e8"/>
<rect x="409.14" y="350.73" width="19.91" height="2.48" fill="#eff5e4"/>
<rect x="409.14" y="353.21" width="19.91" height="2.48" fill="#fcf1bd"/>
<rect x="409.14" y="355.70" width="19.91" height="2.48" fill="#fcf1bd"/>
<rect x="409.14" y="358.18" width="19.91" height="2.48" fill="#b8d5e8"/>
<rect x="409.14" y="360.67" width="19.91" height="2.48" fill="#f3874f"/>
<rect x="409.14" y="363.15" width="19.91" height="2.48" fill="#b8d5e8"/>
<rect x="409.14" y="365.64" width="19.91" height="2.48" fill="#b8d5e8"/>
<rect x="409.14" y="368.12" width="19.91" height="2.48" fill="#fcf1bd"/>
<rect x="409.14" y="370.61" width="19.91" height="2.48" fill="#b8d5e8"/>
<rect x="409.14" y="373.09" width="19.91" height="2.48" fill="#fcf1bd"/>
<rect x="409.14" y="375.58" width="19.91" height="2.48" fill="#dbeaf0"/>
<rect x="409.14" y="378.06" width="19.91" height="2.48" fill="#eff5e4"/>
<rect x="409.14" y="380.55" width="19.91" height="2.48" fill="#88b4d8"/>
<rect x="409.14" y="383.03" width="19.91" height="2.48" fill="#fdd68a"/>
<rect x="409.14" y="385.52" width="19.91" height="2.48" fill="#eff5e4"/>
<rect x="429.06" y="224.00" width="19.91" height="2.48" fill="#fcf1bd"/>
<rect x="429.06" y="226.48" width="19.91" height="2.48" fill="#fcf1bd"/>
<rect x="429.06" y="228.97" width="19.91" height="2.48" fill="#fcf1bd"/>
<rect x="429.06" y="231.45" width="19.91" height="2.48" fill="#eff5e4"/>
<rect x="429.06" y="233.94" width="19.91" height="2.48" fill="#dbeaf0"/>
<rect x="429.06" y="236.42" width="19.91" height="2.48" fill="#88b4d8"/>
<rect x="429.06" y="238.91" width="19.91" height="2.48" fill="#88b4d8"/>
<rect x="429.06" y="241.39" width="19.91" height="2.48" fill="#fcf1bd"/>
<rect x="429.06" y="243.88" width="19.91" height="2.48" fill="#b8d5e8"/>
<rect x="429.06" y="246.36" width="19.91" height="2.48" fill="#b8d5e8"/>
<rect x="429.06" y="248.85" width="19.91" height="2.48" fill="#fcf1bd"/>
<rect x="429.06" y="251.33" width="19.91" height="2.48" fill="#fcf1bd"/>
<rect x="429.06" y="253.82" width="19.91" height="2.48" fill="#eff5e4"/>
<rect x="429.06" y="256.30" width="19.91" height="2.48" fill="#b8d5e8"/>
<rect x="429.06" y="258.79" width="19.91" height="2.48" fill="#eff5e4"/>
<rect x="429.06" y="261.27" width="19.91" height="2.48" fill="#fcf1bd"/>
<rect x="429.06" y="263.76" width="19.91" height="2.48" fill="#fcf1bd"/>
<rect x="429.06" y="266.24" width="19.91" height="2.48" fill="#fcf1bd"/>
<rect x="429.06" y="268.73" width="19.91" height="2.48" fill="#88b4d8"/>
<rect x="429.06" y="271.21" width="19.91" height="2.48" fill="#eff5e4"/>
<rect x="429.06" y="273.70" width="19.91" height="2.48" fill="#fcf1bd"/>
<rect x="429.06" y="276.18" width="19.91" height="2.48" fill="#eff5e4"/>
<rect x="429.06" y="278.67" width="19.91" height="2.48" fill="#88b4d8"/>
<rect x="429.06" y="281.15" width="19.91" height="2.48" fill="#dbeaf0"/>
<rect x="429.06" y="283.64" width="19.91" height="2.48" fill="#eff5e4"/>
<rect x="429.06" y="286.12" width="19.91" height="2.48" fill="#dbeaf0"/>
<rect x="429.06" y="288.61" width="19.91" height="2.48" fill="#fcf1bd"/>
<rect x="429.06" y="291.09" width="19.91" height="2.48" fill="#fcf1bd"/>
<rect x="429.06" y="293.58" width="19.91" height="2.48" fill="#fcf1bd"/>
<rect x="429.06" y="296.06" width="19.91" height="2.48" fill="#eff5e4"/>
<rect x="429.06" y="298.55" width="19.91" height="2.48" fill="#dbeaf0"/>
<rect x="429.06" y="301.03" width="19.91" height="2.48" fill="#eff5e4"/>
<rect x="429.06" y="303.52" width="19.91" height="2.48" fill="#fcf1bd"/>
<rect x="429.06" y="306.00" width="19.91" height="2.48" fill="#dbeaf0"/>
<rect x="429.06" y="308.48" width="19.91" height="2.48" fill="#b8d5e8"/>
<rect x="429.06" y="310.97" width="19.91" height="2.48" fill="#eff5e4"/>
<rect x="429.06" y="313.45" width="19.91" height="2.48" fill="#b8d5e8"/>
<rect x="429.06" y="315.94" width="19.91" height="2.48" fill="#eff5e4"/>
<rect x="429.06" y="318.42" width="19.91" height="2.48" fill="#dbeaf0"/>
<rect x="429.06" y="320.91" width="19.91" height="2.48" fill="#88b4d8"/>
<rect x="429.06" y="323.39" width="19.91" height="2.48" fill="#fcf1bd"/>
<rect x="429.06" y="325.88" width="19.91" height="2.48" fill="#88b4d8"/>
<rect x="429.06" y="328.36" width="19.91" height="2.48" fill="#eff5e4"/>
<rect x="429.06" y="330.85" width="19.91" height="2.48" fill="#dbeaf0"/>
<rect x="429.06" y="333.33" width="19.91" height="2.48" fill="#dbeaf0"/>
<rect x="429.06" y="335.82" width="19.91" height="2.48" fill="#fcf1bd"/>
<rect x="429.06" y="338.30" width="19.91" height="2.48" fill="#b8d5e8"/>
<rect x="429.06" y="340.79" width="19.91" height="2.48" fill="#eff5e4"/>
<rect x="429.06" y="343.27" width="19.91" height="2.48" fill="#eff5e4"/>
<rect x="429.06" y="345.76" width="19.91" height="2.48" fill="#88b4d8"/>
<rect x="429.06" y="348.24" width="19.91" height="2.48" fill="#88b4d8"/>
<rect x="429.06" y="350.73" width="19.91" height="2.48" fill="#eff5e4"/>
<rect x="429.06" y="353.21" width="19.91" height="2.48" fill="#dbeaf0"/>
<rect x="429.06" y="355.70" width="19.91" height="2.48" fill="#dbeaf0"/>
<rect x="429.06" y="358.18" width="19.91" height="2.48" fill="#b8d5e8"/>
<rect x="429.06" y="360.67" width="19.91" height="2.48" fill="#fcf1bd"/>
<rect x="429.06" y="363.15" width="19.91" height="2.48" fill="#dbeaf0"/>
<rect x="429.06" y="365.64" width="19.91" height="2.48" fill="#88b4d8"/>
<rect x="429.06" y="368.12" width="19.91" height="2.48" fill="#88b4d8"/>
<rect x="429.06" y="370.61" width="19.91" height="2.48" fill="#fcf1bd"/>
<rect x="429.06" y="373.09" width="19.91" height="2.48" fill="#dbeaf0"/>
<rect x="429.06" y="375.58" width="19.91" height="2.48" fill="#dbeaf0"/>
<rect x="429.06" y="378.06" width="19.91" height="2.48" fill="#b8d5e8"/>
<rect x="429.06" y="380.55" width="19.91" height="2.48" fill="#b8d5e8"/>
<rect x="429.06" y="383.03" width="19.91" height="2.48" fill="#fcf1bd"/>
<rect x="429.06" y="385.52" width="19.91" height="2.48" fill="#fcf1bd"/>
<rect x="448.97" y="224.00" width="19.91" height="2.48" fill="#dbeaf0"/>
<rect x="448.97" y="226.48" width="19.91" height="2.48" fill="#eff5e4"/>
<rect x="448.97" y="228.97" width="19.91" height="2.48" fill="#dbeaf0"/>
<rect x="448.97" y="231.45" width="19.91" height="2.48" fill="#fdd68a"/>
<rect x="448.97" y="233.94" width="19.91" height="2.48" fill="#fdd68a"/>
<rect x="448.97" y="236.42" width="19.91" height="2.48" fill="#fcf1bd"/>
<rect x="448.97" y="238.91" width="19.91" height="2.48" fill="#dbeaf0"/>
<rect x="448.97" y="241.39" width="19.91" height="2.48" fill="#dbeaf0"/>
<rect x="448.97" y="243.88" width="19.91" height="2.48" fill="#f3874f"/>
<rect x="448.97" y="246.36" width="19.91" height="2.48" fill="#f3874f"/>
<rect x="448.97" y="248.85" width="19.91" height="2.48" fill="#dbeaf0"/>
<rect x="448.97" y="251.33" width="19.91" height="2.48" fill="#eff5e4"/>
<rect x="448.97" y="253.82" width="19.91" height="2.48" fill="#eff5e4"/>
<rect x="448.97" y="256.30" width="19.91" height="2.48" fill="#fdd68a"/>
<rect x="448.97" y="258.79" width="19.91" height="2.48" fill="#b8d5e8"/>
<rect x="448.97" y="261.27" width="19.91" height="2.48" fill="#f3874f"/>
<rect x="448.97" y="263.76" width="19.91" height="2.48" fill="#dbeaf0"/>
<rect x="448.97" y="266.24" width="19.91" height="2.48" fill="#b8d5e8"/>
<rect x="448.97" y="268.73" width="19.91" height="2.48" fill="#fcf1bd"/>
<rect x="448.97" y="271.21" width="19.91" height="2.48" fill="#dbeaf0"/>
<rect x="448.97" y="273.70" width="19.91" height="2.48" fill="#dbeaf0"/>
<rect x="448.97" y="276.18" width="19.91" height="2.48" fill="#eff5e4"/>
<rect x="448.97" y="278.67" width="19.91" height="2.48" fill="#f3874f"/>
<rect x="448.97" y="281.15" width="19.91" height="2.48" fill="#dbeaf0"/>
<rect x="448.97" y="283.64" width="19.91" height="2.48" fill="#dbeaf0"/>
<rect x="448.97" y="286.12" width="19.91" height="2.48" fill="#eff5e4"/>
<rect x="448.97" y="288.61" width="19.91" height="2.48" fill="#dbeaf0"/>
<rect x="448.97" y="291.09" width="19.91" height="2.48" fill="#dbeaf0"/>
<rect x="448.97" y="293.58" width="19.91" height="2.48" fill="#dbeaf0"/>
<rect x="448.97" y="296.06" width="19.91" height="2.48" fill="#eff5e4"/>
<rect x="448.97" y="298.55" width="19.91" height="2.48" fill="#eff5e4"/>
<rect x="448.97" y="301.03" width="19.91" height="2.48" fill="#f3874f"/>
<rect x="448.97" y="303.52" width="19.91" height="2.48" fill="#dbeaf0"/>
<rect x="448.97" y="306.00" width="19.91" height="2.48" fill="#eff5e4"/>
<rect x="448.97" y="308.48" width="19.91" height="2.48" fill="#fdd68a"/>
<rect x="448.97" y="310.97" width="19.91" height="2.48" fill="#eff5e4"/>
<rect x="448.97" y="313.45" width="19.91" height="2.48" fill="#dbeaf0"/>
<rect x="448.97" y="315.94" width="19.91" height="2.48" fill="#dbeaf0"/>
<rect x="448.97" y="318.42" width="19.91" height="2.48" fill="#d7302a"/>
<rect x="448.97" y="320.91" width="19.91" height="2.48" fill="#fcf1bd"/>
<rect x="448.97" y="323.39" width="19.91" height="2.48" fill="#dbeaf0"/>
<rect x="448.97" y="325.88" width="19.91" height="2.48" fill="#f9b26a"/>
<rect x="448.97" y="328.36" width="19.91" height="2.48" fill="#eff5e4"/>
<rect x="448.97" y="330.85" width="19.91" height="2.48" fill="#f3874f"/>
<rect x="448.97" y="333.33" width="19.91" height="2.48" fill="#dbeaf0"/>
<rect x="448.97" y="335.82" width="19.91" height="2.48" fill="#eff5e4"/>
<rect x="448.97" y="338.30" width="19.91" height="2.48" fill="#fcf1bd"/>
<rect x="448.97" y="340.79" width="19.91" height="2.48" fill="#dbeaf0"/>
<rect x="448.97" y="343.27" width="19.91" height="2.48" fill="#fcf1bd"/>
<rect x="448.97" y="345.76" width="19.91" height="2.48" fill="#f9b26a"/>
<rect x="448.97" y="348.24" width="19.91" height="2.48" fill="#fcf1bd"/>
<rect x="448.97" y="350.73" width="19.91" height="2.48" fill="#dbeaf0"/>
<rect x="448.97" y="353.21" width="19.91" height="2.48" fill="#dbeaf0"/>
<rect x="448.97" y="355.70" width="19.91" height="2.48" fill="#eff5e4"/>
<rect x="448.97" y="358.18" width="19.91" height="2.48" fill="#f3874f"/>
<rect x="448.97" y="360.67" width="19.91" height="2.48" fill="#dbeaf0"/>
<rect x="448.97" y="363.15" width="19.91" height="2.48" fill="#fcf1bd"/>
<rect x="448.97" y="365.64" width="19.91" height="2.48" fill="#f9b26a"/>
<rect x="448.97" y="368.12" width="19.91" height="2.48" fill="#dbeaf0"/>
<rect x="448.97" y="370.61" width="19.91" height="2.48" fill="#fcf1bd"/>
<rect x="448.97" y="373.09" width="19.91" height="2.48" fill="#eff5e4"/>
<rect x="448.97" y="375.58" width="19.91" height="2.48" fill="#b8d5e8"/>
<rect x="448.97" y="378.06" width="19.91" height="2.48" fill="#d7302a"/>
<rect x="448.97" y="380.55" width="19.91" height="2.48" fill="#fdd68a"/>
<rect x="448.97" y="383.03" width="19.91" height="2.48" fill="#fcf1bd"/>
<rect x="448.97" y="385.52" width="19.91" height="2.48" fill="#dbeaf0"/>
<rect x="468.89" y="224.00" width="19.91" height="2.48" fill="#dbeaf0"/>
<rect x="468.89" y="226.48" width="19.91" height="2.48" fill="#dbeaf0"/>
<rect x="468.89" y="228.97" width="19.91" height="2.48" fill="#fdd68a"/>
<rect x="468.89" y="231.45" width="19.91" height="2.48" fill="#b8d5e8"/>
<rect x="468.89" y="233.94" width="19.91" height="2.48" fill="#b8d5e8"/>
<rect x="468.89" y="236.42" width="19.91" height="2.48" fill="#fcf1bd"/>
<rect x="468.89" y="238.91" width="19.91" height="2.48" fill="#dbeaf0"/>
<rect x="468.89" y="241.39" width="19.91" height="2.48" fill="#dbeaf0"/>
<rect x="468.89" y="243.88" width="19.91" height="2.48" fill="#fdd68a"/>
<rect x="468.89" y="246.36" width="19.91" height="2.48" fill="#fdd68a"/>
<rect x="468.89" y="248.85" width="19.91" height="2.48" fill="#dbeaf0"/>
<rect x="468.89" y="251.33" width="19.91" height="2.48" fill="#eff5e4"/>
<rect x="468.89" y="253.82" width="19.91" height="2.48" fill="#d7302a"/>
<rect x="468.89" y="256.30" width="19.91" height="2.48" fill="#fcf1bd"/>
<rect x="468.89" y="258.79" width="19.91" height="2.48" fill="#eff5e4"/>
<rect x="468.89" y="261.27" width="19.91" height="2.48" fill="#fcf1bd"/>
<rect x="468.89" y="263.76" width="19.91" height="2.48" fill="#fcf1bd"/>
<rect x="468.89" y="266.24" width="19.91" height="2.48" fill="#dbeaf0"/>
<rect x="468.89" y="268.73" width="19.91" height="2.48" fill="#eff5e4"/>
<rect x="468.89" y="271.21" width="19.91" height="2.48" fill="#dbeaf0"/>
<rect x="468.89" y="273.70" width="19.91" height="2.48" fill="#dbeaf0"/>
<rect x="468.89" y="276.18" width="19.91" height="2.48" fill="#eff5e4"/>
<rect x="468.89" y="278.67" width="19.91" height="2.48" fill="#fdd68a"/>
<rect x="468.89" y="281.15" width="19.91" height="2.48" fill="#dbeaf0"/>
<rect x="468.89" y="283.64" width="19.91" height="2.48" fill="#dbeaf0"/>
<rect x="468.89" y="286.12" width="19.91" height="2.48" fill="#b8d5e8"/>
<rect x="468.89" y="288.61" width="19.91" height="2.48" fill="#eff5e4"/>
<rect x="468.89" y="291.09" width="19.91" height="2.48" fill="#dbeaf0"/>
<rect x="468.89" y="293.58" width="19.91" height="2.48" fill="#dbeaf0"/>
<rect x="468.89" y="296.06" width="19.91" height="2.48" fill="#eff5e4"/>
<rect x="468.89" y="298.55" width="19.91" height="2.48" fill="#eff5e4"/>
<rect x="468.89" y="301.03" width="19.91" height="2.48" fill="#dbeaf0"/>
<rect x="468.89" y="303.52" width="19.91" height="2.48" fill="#b8d5e8"/>
<rect x="468.89" y="306.00" width="19.91" height="2.48" fill="#dbeaf0"/>
<rect x="468.89" y="308.48" width="19.91" height="2.48" fill="#fdd68a"/>
<rect x="468.89" y="310.97" width="19.91" height="2.48" fill="#eff5e4"/>
<rect x="468.89" y="313.45" width="19.91" height="2.48" fill="#dbeaf0"/>
<rect x="468.89" y="315.94" width="19.91" height="2.48" fill="#dbeaf0"/>
<rect x="468.89" y="318.42" width="19.91" height="2.48" fill="#eff5e4"/>
<rect x="468.89" y="320.91" width="19.91" height="2.48" fill="#fdd68a"/>
<rect x="468.89" y="323.39" width="19.91" height="2.48" fill="#dbeaf0"/>
<rect x="468.89" y="325.88" width="19.91" height="2.48" fill="#fdd68a"/>
<rect x="468.89" y="328.36" width="19.91" height="2.48" fill="#b8d5e8"/>
<rect x="468.89" y="330.85" width="19.91" height="2.48" fill="#fdd68a"/>
<rect x="468.89" y="333.33" width="19.91" height="2.48" fill="#dbeaf0"/>
<rect x="468.89" y="335.82" width="19.91" height="2.48" fill="#eff5e4"/>
<rect x="468.89" y="338.30" width="19.91" height="2.48" fill="#88b4d8"/>
<rect x="468.89" y="340.79" width="19.91" height="2.48" fill="#eff5e4"/>
<rect x="468.89" y="343.27" width="19.91" height="2.48" fill="#eff5e4"/>
<rect x="468.89" y="345.76" width="19.91" height="2.48" fill="#f9b26a"/>
<rect x="468.89" y="348.24" width="19.91" height="2.48" fill="#dbeaf0"/>
<rect x="468.89" y="350.73" width="19.91" height="2.48" fill="#b8d5e8"/>
<rect x="468.89" y="353.21" width="19.91" height="2.48" fill="#dbeaf0"/>
<rect x="468.89" y="355.70" width="19.91" height="2.48" fill="#eff5e4"/>
<rect x="468.89" y="358.18" width="19.91" height="2.48" fill="#fcf1bd"/>
<rect x="468.89" y="360.67" width="19.91" height="2.48" fill="#eff5e4"/>
<rect x="468.89" y="363.15" width="19.91" height="2.48" fill="#dbeaf0"/>
<rect x="468.89" y="365.64" width="19.91" height="2.48" fill="#fdd68a"/>
<rect x="468.89" y="368.12" width="19.91" height="2.48" fill="#f9b26a"/>
<rect x="468.89" y="370.61" width="19.91" height="2.48" fill="#dbeaf0"/>
<rect x="468.89" y="373.09" width="19.91" height="2.48" fill="#fdd68a"/>
<rect x="468.89" y="375.58" width="19.91" height="2.48" fill="#fcf1bd"/>
<rect x="468.89" y="378.06" width="19.91" height="2.48" fill="#fcf1bd"/>
<rect x="468.89" y="380.55" width="19.91" height="2.48" fill="#fcf1bd"/>
<rect x="468.89" y="383.03" width="19.91" height="2.48" fill="#eff5e4"/>
<rect x="468.89" y="385.52" width="19.91" height="2.48" fill="#eff5e4"/>
<path d="M349.40 224.00H488.80M349.40 226.48H488.80M349.40 228.97H488.80M349.40 231.45H488.80M349.40 233.94H488.80M349.40 236.42H488.80M349.40 238.91H488.80M349.40 241.39H488.80M349.40 243.88H488.80M349.40 246.36H488.80M349.40 248.85H488.80M349.40 251.33H488.80M349.40 253.82H488.80M349.40 256.30H488.80M349.40 258.79H488.80M349.40 261.27H488.80M349.40 263.76H488.80M349.40 266.24H488.80M349.40 268.73H488.80M349.40 271.21H488.80M349.40 273.70H488.80M349.40 276.18H488.80M349.40 278.67H488.80M349.40 281.15H488.80M349.40 283.64H488.80M349.40 286.12H488.80M349.40 288.61H488.80M349.40 291.09H488.80M349.40 293.58H488.80M349.40 296.06H488.80M349.40 298.55H488.80M349.40 301.03H488.80M349.40 303.52H488.80M349.40 306.00H488.80M349.40 308.48H488.80M349.40 310.97H488.80M349.40 313.45H488.80M349.40 315.94H488.80M349.40 318.42H488.80M349.40 320.91H488.80M349.40 323.39H488.80M349.40 325.88H488.80M349.40 328.36H488.80M349.40 330.85H488.80M349.40 333.33H488.80M349.40 335.82H488.80M349.40 338.30H488.80M349.40 340.79H488.80M349.40 343.27H488.80M349.40 345.76H488.80M349.40 348.24H488.80M349.40 350.73H488.80M349.40 353.21H488.80M349.40 355.70H488.80M349.40 358.18H488.80M349.40 360.67H488.80M349.40 363.15H488.80M349.40 365.64H488.80M349.40 368.12H488.80M349.40 370.61H488.80M349.40 373.09H488.80M349.40 375.58H488.80M349.40 378.06H488.80M349.40 380.55H488.80M349.40 383.03H488.80M349.40 385.52H488.80M349.40 388.00H488.80M349.40 224.00V388.00M369.31 224.00V388.00M389.23 224.00V388.00M409.14 224.00V388.00M429.06 224.00V388.00M448.97 224.00V388.00M468.89 224.00V388.00M488.80 224.00V388.00" stroke="#a9a9a2" stroke-width="0.4" fill="none"/>
<text x="352.80" y="212.40" font-size="7.0" text-anchor="start" fill="#262626" >RG-</text>
<text x="355.20" y="219.80" font-size="7.0" text-anchor="start" fill="#262626" >ike</text>
<text x="370.40" y="212.40" font-size="7.0" text-anchor="start" fill="#262626" >NProg-</text>
<text x="376.20" y="219.80" font-size="7.0" text-anchor="start" fill="#262626" >like</text>
<text x="394.20" y="212.40" font-size="7.0" text-anchor="start" fill="#262626" >Nb-</text>
<text x="394.90" y="219.80" font-size="7.0" text-anchor="start" fill="#262626" >like</text>
<text x="414.30" y="219.80" font-size="7.0" text-anchor="start" fill="#262626" >RG</text>
<text x="430.00" y="219.80" font-size="7.0" text-anchor="start" fill="#262626" >NProg</text>
<text x="455.20" y="212.40" font-size="7.0" text-anchor="start" fill="#262626" >Ex_</text>
<text x="455.60" y="219.80" font-size="7.0" text-anchor="start" fill="#262626" >Nb</text>
<text x="475.00" y="212.40" font-size="7.0" text-anchor="start" fill="#262626" >Inh_</text>
<text x="475.50" y="219.80" font-size="7.0" text-anchor="start" fill="#262626" >Nb</text>
<text x="493.00" y="270.90" font-size="6.6" text-anchor="start" fill="#262626" >Aver.</text>
<text x="493.00" y="278.00" font-size="6.6" text-anchor="start" fill="#262626" >Expr.</text>
<defs><linearGradient id="hg" x1="0" y1="0" x2="0" y2="1"><stop offset="0" stop-color="#d73027"/><stop offset="0.25" stop-color="#fc8d59"/><stop offset="0.45" stop-color="#fee090"/><stop offset="0.55" stop-color="#f5f9ee"/><stop offset="0.75" stop-color="#a6cde3"/><stop offset="1" stop-color="#4575b4"/></linearGradient></defs>
<rect x="502.7" y="284.9" width="3.2" height="34.8" fill="url(#hg)"/>
<text x="500.40" y="289.80" font-size="6.3" text-anchor="end" fill="#262626" >2</text>
<text x="500.40" y="296.70" font-size="6.3" text-anchor="end" fill="#262626" >1</text>
<text x="500.40" y="304.20" font-size="6.3" text-anchor="end" fill="#262626" >0</text>
<text x="500.40" y="312.30" font-size="6.3" text-anchor="end" fill="#262626" >-1</text>
<text x="500.40" y="320.00" font-size="6.3" text-anchor="end" fill="#262626" >-2</text>
<text x="509.80" y="176.20" font-size="8.6" text-anchor="start" fill="#111" font-weight="bold" >F</text>
<text x="603.00" y="187.40" font-size="9.55" text-anchor="middle" fill="#1c1c1c" >Pdgfr signaling-related genes</text>
<text x="603.80" y="196.60" font-size="9.6" text-anchor="middle" fill="#1c1c1c" >expressed in RG-like cells</text>
<g transform="translate(517.2,192.3) scale(1.03)"><path d="M0,2.9 C0.8,2 1.8,1.5 2.8,1.3 L3.8,0.2 L4.9,0.9 C7,0.6 10,0.6 12.5,1.2 C14.8,1.9 16.3,3.3 16.8,5.2 C16.6,6.4 15.6,7 14.6,7.1 L13.2,7.3 L12.5,8.4 L11,8.4 L11.4,7.2 L6.6,7.1 L5.5,8.1 L3.8,8.2 L4.6,6.8 C3,5.6 1.5,4.3 0,2.9 Z" fill="#2b2b2b"/><path d="M16.2,6.2 C18,6.5 19.7,7.1 19.9,8.3 C20.1,9.6 18,10.2 15.6,10.1" fill="none" stroke="#666" stroke-width="0.6"/><path d="M3.2,8.6 L5.8,8.6 M10.4,8.9 L13.2,8.9" stroke="#aaa" stroke-width="0.6"/></g>
<path d="M549.70,252.70 L549.73,253.02 L549.76,253.43 L549.81,253.92 L549.85,254.46 L549.91,255.05 L549.96,255.66 L550.02,256.28 L550.08,256.89 L550.14,257.47 L550.20,258.00 L550.27,258.56 L550.34,259.11 L550.41,259.66 L550.48,260.20 L550.56,260.74 L550.64,261.26 L550.72,261.78 L550.81,262.30 L550.90,262.80 L551.01,263.36 L551.13,263.90 L551.25,264.44 L551.38,264.96 L551.51,265.48 L551.64,265.99 L551.77,266.50 L551.90,267.00 L552.04,267.57 L552.19,268.13 L552.34,268.69 L552.49,269.23 L552.63,269.77 L552.77,270.29 L552.90,270.80 L553.05,271.38 L553.20,271.95 L553.35,272.51 L553.49,273.04 L553.60,273.54 L553.70,274.00 L553.81,274.60 L553.88,275.10 L553.91,275.58 L553.90,276.10 L553.82,276.68 L553.69,277.29 L553.54,277.90 L553.40,278.50 L553.22,279.10 L552.99,279.69 L552.85,280.27 L552.90,280.80 L553.36,281.41 L554.10,281.96 L554.90,282.50 L555.79,283.13 L556.73,283.76 L557.40,284.20 L541.40,284.20 L542.07,283.76 L543.01,283.13 L543.90,282.50 L544.70,281.96 L545.44,281.41 L545.90,280.80 L545.95,280.27 L545.81,279.69 L545.58,279.10 L545.40,278.50 L545.26,277.90 L545.11,277.29 L544.98,276.68 L544.90,276.10 L544.89,275.58 L544.92,275.10 L544.99,274.60 L545.10,274.00 L545.20,273.54 L545.31,273.04 L545.45,272.51 L545.60,271.95 L545.75,271.38 L545.90,270.80 L546.03,270.29 L546.17,269.77 L546.31,269.23 L546.46,268.69 L546.61,268.13 L546.76,267.57 L546.90,267.00 L547.03,266.50 L547.16,265.99 L547.29,265.48 L547.42,264.96 L547.55,264.44 L547.67,263.90 L547.79,263.36 L547.90,262.80 L547.99,262.30 L548.08,261.78 L548.16,261.26 L548.24,260.74 L548.32,260.20 L548.39,259.66 L548.46,259.11 L548.53,258.56 L548.60,258.00 L548.66,257.47 L548.72,256.89 L548.78,256.28 L548.84,255.66 L548.89,255.05 L548.95,254.46 L548.99,253.92 L549.04,253.43 L549.07,253.02 L549.10,252.70Z" fill="#f07a6f" stroke="none" stroke-width="0.4" opacity="1"/>
<path d="M565.40,239.30 L565.42,239.61 L565.44,240.01 L565.46,240.48 L565.49,241.01 L565.52,241.58 L565.55,242.18 L565.58,242.78 L565.61,243.39 L565.64,243.97 L565.67,244.51 L565.70,245.00 L565.74,245.61 L565.77,246.19 L565.80,246.74 L565.83,247.27 L565.87,247.79 L565.90,248.32 L565.95,248.85 L566.00,249.40 L566.05,249.90 L566.11,250.41 L566.18,250.91 L566.25,251.43 L566.32,251.94 L566.39,252.45 L566.46,252.97 L566.53,253.48 L566.60,254.00 L566.67,254.52 L566.74,255.05 L566.80,255.57 L566.87,256.10 L566.94,256.63 L567.01,257.16 L567.07,257.68 L567.14,258.19 L567.20,258.70 L567.27,259.25 L567.34,259.78 L567.40,260.31 L567.47,260.82 L567.53,261.35 L567.59,261.88 L567.65,262.43 L567.70,263.00 L567.74,263.49 L567.78,264.00 L567.82,264.52 L567.86,265.06 L567.90,265.61 L567.93,266.14 L567.96,266.67 L567.98,267.18 L568.00,267.66 L568.00,268.10 L567.99,268.77 L567.95,269.36 L567.90,269.91 L567.84,270.44 L567.77,270.96 L567.70,271.50 L567.63,272.05 L567.55,272.58 L567.46,273.11 L567.37,273.65 L567.29,274.21 L567.20,274.80 L567.12,275.28 L567.03,275.78 L566.92,276.31 L566.83,276.84 L566.74,277.36 L566.68,277.88 L566.67,278.36 L566.70,278.80 L566.82,279.42 L566.99,279.97 L567.25,280.48 L567.64,280.98 L568.20,281.50 L569.06,282.08 L570.19,282.71 L571.39,283.31 L572.46,283.83 L573.20,284.20 L557.20,284.20 L557.94,283.83 L559.01,283.31 L560.21,282.71 L561.34,282.08 L562.20,281.50 L562.76,280.98 L563.15,280.48 L563.41,279.97 L563.58,279.42 L563.70,278.80 L563.73,278.36 L563.72,277.88 L563.66,277.36 L563.58,276.84 L563.48,276.31 L563.37,275.78 L563.28,275.28 L563.20,274.80 L563.11,274.21 L563.03,273.65 L562.94,273.11 L562.85,272.58 L562.77,272.05 L562.70,271.50 L562.63,270.96 L562.56,270.44 L562.50,269.91 L562.45,269.36 L562.41,268.77 L562.40,268.10 L562.40,267.66 L562.42,267.18 L562.44,266.67 L562.47,266.14 L562.50,265.61 L562.54,265.06 L562.58,264.52 L562.62,264.00 L562.66,263.49 L562.70,263.00 L562.75,262.43 L562.81,261.88 L562.87,261.35 L562.93,260.82 L563.00,260.31 L563.06,259.78 L563.13,259.25 L563.20,258.70 L563.26,258.19 L563.33,257.68 L563.39,257.16 L563.46,256.63 L563.53,256.10 L563.60,255.57 L563.66,255.05 L563.73,254.52 L563.80,254.00 L563.87,253.48 L563.94,252.97 L564.01,252.45 L564.08,251.94 L564.15,251.43 L564.22,250.91 L564.29,250.41 L564.35,249.90 L564.40,249.40 L564.45,248.85 L564.50,248.32 L564.53,247.79 L564.57,247.27 L564.60,246.74 L564.63,246.19 L564.66,245.61 L564.70,245.00 L564.73,244.51 L564.76,243.97 L564.79,243.39 L564.82,242.78 L564.85,242.18 L564.88,241.58 L564.91,241.01 L564.94,240.48 L564.96,240.01 L564.98,239.61 L565.00,239.30Z" fill="#1a8c95" stroke="none" stroke-width="0.4" opacity="1"/>
<path d="M540.2,239.0 L540.2,284.9 L574.6,284.9" fill="none" stroke="#000" stroke-width="1.5"/>
<text x="537.00" y="249.70" font-size="7.0" text-anchor="end" fill="#262626" >3</text>
<text x="537.00" y="286.00" font-size="7.0" text-anchor="end" fill="#262626" >0</text>
<text x="555.20" y="214.40" font-size="9.65" text-anchor="middle" fill="#1c1c1c" font-style="italic" >Braf</text>
<text x="554.50" y="231.40" font-size="6.6" text-anchor="middle" fill="#262626" ><tspan font-style="italic">p</tspan> = 0.000128</text>
<path d="M548.4,236.2 L548.4,233.2 L564.5,233.2 L564.5,236.2" fill="none" stroke="#333" stroke-width="0.7"/>
<path d="M599.10,256.80 L599.13,257.11 L599.16,257.51 L599.21,257.98 L599.25,258.52 L599.31,259.09 L599.36,259.68 L599.42,260.29 L599.48,260.89 L599.54,261.46 L599.60,262.00 L599.66,262.51 L599.73,263.03 L599.79,263.55 L599.86,264.06 L599.93,264.57 L600.00,265.08 L600.08,265.58 L600.15,266.07 L600.23,266.54 L600.30,267.00 L600.40,267.55 L600.50,268.07 L600.60,268.57 L600.70,269.06 L600.80,269.54 L600.90,270.02 L601.00,270.51 L601.10,271.00 L601.20,271.51 L601.30,272.02 L601.40,272.54 L601.50,273.06 L601.59,273.57 L601.68,274.07 L601.75,274.55 L601.80,275.00 L601.83,275.56 L601.83,276.07 L601.81,276.56 L601.79,277.04 L601.78,277.51 L601.80,278.00 L601.82,278.50 L601.82,278.99 L601.83,279.49 L601.89,279.99 L602.04,280.49 L602.30,281.00 L602.75,281.56 L603.37,282.17 L604.08,282.79 L604.78,283.36 L605.38,283.85 L605.80,284.20 L591.80,284.20 L592.22,283.85 L592.82,283.36 L593.52,282.79 L594.23,282.17 L594.85,281.56 L595.30,281.00 L595.56,280.49 L595.71,279.99 L595.77,279.49 L595.78,278.99 L595.78,278.50 L595.80,278.00 L595.82,277.51 L595.81,277.04 L595.79,276.56 L595.77,276.07 L595.77,275.56 L595.80,275.00 L595.85,274.55 L595.92,274.07 L596.01,273.57 L596.10,273.06 L596.20,272.54 L596.30,272.02 L596.40,271.51 L596.50,271.00 L596.60,270.51 L596.70,270.02 L596.80,269.54 L596.90,269.06 L597.00,268.57 L597.10,268.07 L597.20,267.55 L597.30,267.00 L597.37,266.54 L597.45,266.07 L597.52,265.58 L597.60,265.08 L597.67,264.57 L597.74,264.06 L597.81,263.55 L597.87,263.03 L597.94,262.51 L598.00,262.00 L598.06,261.46 L598.12,260.89 L598.18,260.29 L598.24,259.68 L598.29,259.09 L598.35,258.52 L598.39,257.98 L598.44,257.51 L598.47,257.11 L598.50,256.80Z" fill="#f07a6f" stroke="none" stroke-width="0.4" opacity="1"/>
<path d="M615.40,240.10 L615.44,240.45 L615.49,240.93 L615.55,241.49 L615.62,242.12 L615.71,242.76 L615.80,243.40 L615.90,244.00 L616.00,244.49 L616.11,244.97 L616.23,245.45 L616.36,245.93 L616.49,246.42 L616.62,246.93 L616.76,247.45 L616.90,248.00 L617.01,248.45 L617.13,248.90 L617.26,249.36 L617.38,249.83 L617.51,250.31 L617.64,250.80 L617.76,251.31 L617.88,251.85 L618.00,252.41 L618.10,253.00 L618.17,253.45 L618.25,253.92 L618.32,254.42 L618.40,254.94 L618.47,255.47 L618.54,256.01 L618.61,256.56 L618.67,257.10 L618.73,257.64 L618.78,258.17 L618.82,258.69 L618.86,259.18 L618.88,259.66 L618.90,260.10 L618.90,260.74 L618.89,261.33 L618.85,261.89 L618.79,262.42 L618.73,262.94 L618.65,263.44 L618.57,263.95 L618.48,264.46 L618.40,265.00 L618.32,265.49 L618.23,265.98 L618.13,266.47 L618.03,266.96 L617.92,267.45 L617.81,267.94 L617.70,268.45 L617.60,268.95 L617.49,269.47 L617.40,270.00 L617.31,270.50 L617.22,271.03 L617.12,271.57 L617.02,272.12 L616.92,272.68 L616.83,273.23 L616.75,273.77 L616.68,274.30 L616.63,274.80 L616.60,275.27 L616.60,275.70 L616.65,276.40 L616.76,277.01 L616.93,277.55 L617.13,278.05 L617.35,278.52 L617.60,279.00 L617.91,279.55 L618.24,280.05 L618.62,280.52 L619.07,281.00 L619.60,281.50 L620.31,282.07 L621.17,282.70 L622.07,283.30 L622.85,283.83 L623.40,284.20 L606.80,284.20 L607.35,283.83 L608.13,283.30 L609.03,282.70 L609.89,282.07 L610.60,281.50 L611.13,281.00 L611.58,280.52 L611.96,280.05 L612.29,279.55 L612.60,279.00 L612.85,278.52 L613.07,278.05 L613.27,277.55 L613.44,277.01 L613.55,276.40 L613.60,275.70 L613.60,275.27 L613.57,274.80 L613.52,274.30 L613.45,273.77 L613.37,273.23 L613.28,272.68 L613.18,272.12 L613.08,271.57 L612.98,271.03 L612.89,270.50 L612.80,270.00 L612.71,269.47 L612.60,268.95 L612.50,268.45 L612.39,267.94 L612.28,267.45 L612.17,266.96 L612.07,266.47 L611.97,265.98 L611.88,265.49 L611.80,265.00 L611.72,264.46 L611.63,263.95 L611.55,263.44 L611.47,262.94 L611.41,262.42 L611.35,261.89 L611.31,261.33 L611.30,260.74 L611.30,260.10 L611.32,259.66 L611.34,259.18 L611.38,258.69 L611.42,258.17 L611.47,257.64 L611.53,257.10 L611.59,256.56 L611.66,256.01 L611.73,255.47 L611.80,254.94 L611.88,254.42 L611.95,253.92 L612.03,253.45 L612.10,253.00 L612.20,252.41 L612.32,251.85 L612.44,251.31 L612.56,250.80 L612.69,250.31 L612.82,249.83 L612.94,249.36 L613.07,248.90 L613.19,248.45 L613.30,248.00 L613.44,247.45 L613.58,246.93 L613.71,246.42 L613.84,245.93 L613.97,245.45 L614.09,244.97 L614.20,244.49 L614.30,244.00 L614.40,243.40 L614.49,242.76 L614.58,242.12 L614.65,241.49 L614.71,240.93 L614.76,240.45 L614.80,240.10Z" fill="#1a8c95" stroke="none" stroke-width="0.4" opacity="1"/>
<path d="M589.9,239.6 L589.9,284.9 L625.1,284.9" fill="none" stroke="#000" stroke-width="1.5"/>
<text x="586.70" y="249.70" font-size="7.0" text-anchor="end" fill="#262626" >3</text>
<text x="586.70" y="286.00" font-size="7.0" text-anchor="end" fill="#262626" >0</text>
<text x="603.20" y="214.40" font-size="9.65" text-anchor="middle" fill="#1c1c1c" font-style="italic" >Dusp8</text>
<text x="604.40" y="231.40" font-size="6.6" text-anchor="middle" fill="#262626" ><tspan font-style="italic">p</tspan> = 2.3e-06</text>
<path d="M597.2,236.2 L597.2,233.2 L614.0,233.2 L614.0,236.2" fill="none" stroke="#333" stroke-width="0.7"/>
<path d="M658.50,250.10 L658.59,250.45 L658.70,250.93 L658.84,251.49 L659.00,252.12 L659.16,252.76 L659.33,253.40 L659.50,254.00 L659.65,254.49 L659.80,254.97 L659.96,255.45 L660.12,255.93 L660.28,256.42 L660.45,256.93 L660.63,257.45 L660.80,258.00 L660.94,258.46 L661.09,258.94 L661.24,259.43 L661.40,259.93 L661.56,260.44 L661.71,260.95 L661.87,261.47 L662.02,261.98 L662.16,262.50 L662.30,263.00 L662.43,263.50 L662.57,264.02 L662.70,264.53 L662.83,265.05 L662.96,265.56 L663.08,266.07 L663.19,266.57 L663.30,267.06 L663.41,267.54 L663.50,268.00 L663.61,268.55 L663.71,269.07 L663.80,269.57 L663.88,270.06 L663.95,270.54 L664.01,271.02 L664.06,271.51 L664.10,272.00 L664.12,272.51 L664.13,273.02 L664.13,273.54 L664.12,274.06 L664.10,274.57 L664.07,275.07 L664.04,275.55 L664.00,276.00 L663.92,276.56 L663.81,277.07 L663.68,277.56 L663.57,278.04 L663.50,278.51 L663.50,279.00 L663.57,279.51 L663.69,280.03 L663.86,280.55 L664.05,281.06 L664.27,281.55 L664.50,282.00 L664.94,282.66 L665.46,283.29 L665.96,283.82 L666.30,284.20 L649.70,284.20 L650.04,283.82 L650.54,283.29 L651.06,282.66 L651.50,282.00 L651.73,281.55 L651.95,281.06 L652.14,280.55 L652.31,280.03 L652.43,279.51 L652.50,279.00 L652.50,278.51 L652.43,278.04 L652.32,277.56 L652.19,277.07 L652.08,276.56 L652.00,276.00 L651.96,275.55 L651.93,275.07 L651.90,274.57 L651.88,274.06 L651.87,273.54 L651.87,273.02 L651.88,272.51 L651.90,272.00 L651.94,271.51 L651.99,271.02 L652.05,270.54 L652.12,270.06 L652.20,269.57 L652.29,269.07 L652.39,268.55 L652.50,268.00 L652.59,267.54 L652.70,267.06 L652.81,266.57 L652.92,266.07 L653.04,265.56 L653.17,265.05 L653.30,264.53 L653.43,264.02 L653.57,263.50 L653.70,263.00 L653.84,262.50 L653.98,261.98 L654.13,261.47 L654.29,260.95 L654.44,260.44 L654.60,259.93 L654.76,259.43 L654.91,258.94 L655.06,258.46 L655.20,258.00 L655.37,257.45 L655.55,256.93 L655.72,256.42 L655.88,255.93 L656.04,255.45 L656.20,254.97 L656.35,254.49 L656.50,254.00 L656.67,253.40 L656.84,252.76 L657.00,252.12 L657.16,251.49 L657.30,250.93 L657.41,250.45 L657.50,250.10Z" fill="#f07a6f" stroke="none" stroke-width="0.4" opacity="1"/>
<path d="M674.40,243.40 L674.43,243.71 L674.47,244.12 L674.52,244.61 L674.57,245.16 L674.63,245.74 L674.69,246.34 L674.76,246.93 L674.83,247.49 L674.90,248.00 L674.98,248.52 L675.07,249.02 L675.17,249.50 L675.27,249.97 L675.37,250.45 L675.48,250.94 L675.59,251.46 L675.70,252.00 L675.79,252.45 L675.89,252.89 L675.99,253.34 L676.10,253.80 L676.20,254.28 L676.30,254.76 L676.41,255.28 L676.51,255.82 L676.61,256.39 L676.70,257.00 L676.76,257.44 L676.83,257.91 L676.89,258.40 L676.96,258.92 L677.03,259.46 L677.09,260.01 L677.16,260.56 L677.22,261.11 L677.28,261.67 L677.33,262.21 L677.38,262.73 L677.42,263.24 L677.45,263.73 L677.48,264.18 L677.50,264.60 L677.51,265.31 L677.49,265.93 L677.46,266.50 L677.40,267.03 L677.33,267.52 L677.26,268.00 L677.18,268.49 L677.10,269.00 L677.02,269.51 L676.93,270.00 L676.82,270.49 L676.72,270.96 L676.61,271.44 L676.50,271.94 L676.40,272.45 L676.30,273.00 L676.21,273.47 L676.11,273.97 L676.00,274.49 L675.88,275.02 L675.77,275.56 L675.68,276.10 L675.61,276.62 L675.57,277.11 L675.56,277.58 L675.60,278.00 L675.75,278.61 L675.97,279.14 L676.27,279.61 L676.64,280.06 L677.08,280.51 L677.60,281.00 L678.27,281.56 L679.11,282.17 L680.02,282.79 L680.91,283.36 L681.67,283.85 L682.20,284.20 L666.00,284.20 L666.53,283.85 L667.29,283.36 L668.18,282.79 L669.09,282.17 L669.93,281.56 L670.60,281.00 L671.12,280.51 L671.56,280.06 L671.93,279.61 L672.23,279.14 L672.45,278.61 L672.60,278.00 L672.64,277.58 L672.63,277.11 L672.59,276.62 L672.52,276.10 L672.43,275.56 L672.32,275.02 L672.20,274.49 L672.09,273.97 L671.99,273.47 L671.90,273.00 L671.80,272.45 L671.70,271.94 L671.59,271.44 L671.48,270.96 L671.38,270.49 L671.27,270.00 L671.18,269.51 L671.10,269.00 L671.02,268.49 L670.94,268.00 L670.87,267.52 L670.80,267.03 L670.74,266.50 L670.71,265.93 L670.69,265.31 L670.70,264.60 L670.72,264.18 L670.75,263.73 L670.78,263.24 L670.82,262.73 L670.87,262.21 L670.92,261.67 L670.98,261.11 L671.04,260.56 L671.11,260.01 L671.17,259.46 L671.24,258.92 L671.31,258.40 L671.37,257.91 L671.44,257.44 L671.50,257.00 L671.59,256.39 L671.69,255.82 L671.79,255.28 L671.90,254.76 L672.00,254.28 L672.10,253.80 L672.21,253.34 L672.31,252.89 L672.41,252.45 L672.50,252.00 L672.61,251.46 L672.72,250.94 L672.83,250.45 L672.93,249.97 L673.03,249.50 L673.13,249.02 L673.22,248.52 L673.30,248.00 L673.37,247.49 L673.44,246.93 L673.51,246.34 L673.57,245.74 L673.63,245.16 L673.68,244.61 L673.73,244.12 L673.77,243.71 L673.80,243.40Z" fill="#1a8c95" stroke="none" stroke-width="0.4" opacity="1"/>
<path d="M646.9,239.6 L646.9,284.9 L682.5,284.9" fill="none" stroke="#000" stroke-width="1.5"/>
<text x="643.70" y="249.70" font-size="7.0" text-anchor="end" fill="#262626" >3</text>
<text x="643.70" y="286.00" font-size="7.0" text-anchor="end" fill="#262626" >0</text>
<text x="652.10" y="214.40" font-size="9.65" text-anchor="middle" fill="#1c1c1c" font-style="italic" >Camk2d</text>
<text x="661.90" y="231.40" font-size="6.6" text-anchor="middle" fill="#262626" ><tspan font-style="italic">p</tspan> = 0.001529</text>
<path d="M652.9,236.2 L652.9,233.2 L669.6,233.2 L669.6,236.2" fill="none" stroke="#333" stroke-width="0.7"/>
<path d="M552.20,356.50 L552.25,356.81 L552.32,357.23 L552.40,357.73 L552.50,358.28 L552.60,358.86 L552.70,359.44 L552.80,360.00 L552.89,360.48 L552.99,360.96 L553.09,361.46 L553.20,361.97 L553.31,362.48 L553.41,362.99 L553.51,363.50 L553.60,364.00 L553.69,364.50 L553.77,365.00 L553.86,365.50 L553.94,366.00 L554.01,366.50 L554.08,367.00 L554.15,367.50 L554.20,368.00 L554.24,368.50 L554.28,369.00 L554.30,369.50 L554.32,370.00 L554.34,370.50 L554.36,371.00 L554.38,371.50 L554.40,372.00 L554.43,372.50 L554.45,373.00 L554.48,373.50 L554.51,374.00 L554.54,374.50 L554.56,375.00 L554.58,375.50 L554.60,376.00 L554.61,376.51 L554.60,377.02 L554.60,377.54 L554.59,378.06 L554.58,378.57 L554.58,379.07 L554.58,379.55 L554.60,380.00 L554.63,380.56 L554.65,381.09 L554.69,381.59 L554.75,382.07 L554.85,382.54 L555.00,383.00 L555.26,383.54 L555.58,384.06 L555.96,384.56 L556.37,385.04 L556.80,385.50 L557.45,386.08 L558.21,386.66 L558.91,387.15 L559.40,387.50 L544.20,387.50 L544.69,387.15 L545.39,386.66 L546.15,386.08 L546.80,385.50 L547.23,385.04 L547.64,384.56 L548.02,384.06 L548.34,383.54 L548.60,383.00 L548.75,382.54 L548.85,382.07 L548.91,381.59 L548.95,381.09 L548.97,380.56 L549.00,380.00 L549.02,379.55 L549.02,379.07 L549.02,378.57 L549.01,378.06 L549.00,377.54 L549.00,377.02 L548.99,376.51 L549.00,376.00 L549.02,375.50 L549.04,375.00 L549.06,374.50 L549.09,374.00 L549.12,373.50 L549.15,373.00 L549.17,372.50 L549.20,372.00 L549.22,371.50 L549.24,371.00 L549.26,370.50 L549.27,370.00 L549.30,369.50 L549.32,369.00 L549.36,368.50 L549.40,368.00 L549.45,367.50 L549.52,367.00 L549.59,366.50 L549.66,366.00 L549.74,365.50 L549.83,365.00 L549.91,364.50 L550.00,364.00 L550.09,363.50 L550.19,362.99 L550.29,362.48 L550.40,361.97 L550.51,361.46 L550.61,360.96 L550.71,360.48 L550.80,360.00 L550.90,359.44 L551.00,358.86 L551.10,358.28 L551.20,357.73 L551.28,357.23 L551.35,356.81 L551.40,356.50Z" fill="#f07a6f" stroke="none" stroke-width="0.4" opacity="1"/>
<path d="M568.40,338.80 L568.41,339.10 L568.43,339.49 L568.45,339.94 L568.47,340.45 L568.49,341.00 L568.52,341.59 L568.55,342.19 L568.57,342.79 L568.60,343.39 L568.63,343.96 L568.67,344.51 L568.70,345.00 L568.74,345.55 L568.79,346.08 L568.83,346.59 L568.88,347.09 L568.93,347.57 L568.98,348.06 L569.04,348.54 L569.09,349.02 L569.15,349.51 L569.20,350.00 L569.26,350.50 L569.31,351.00 L569.37,351.50 L569.43,352.00 L569.49,352.50 L569.55,353.00 L569.61,353.50 L569.67,354.00 L569.74,354.50 L569.80,355.00 L569.87,355.50 L569.94,355.99 L570.02,356.47 L570.09,356.96 L570.17,357.44 L570.24,357.94 L570.32,358.43 L570.38,358.94 L570.45,359.46 L570.50,360.00 L570.54,360.51 L570.58,361.04 L570.62,361.59 L570.66,362.15 L570.69,362.72 L570.71,363.29 L570.74,363.85 L570.76,364.40 L570.78,364.92 L570.79,365.43 L570.80,365.90 L570.81,366.49 L570.81,367.03 L570.81,367.53 L570.80,368.01 L570.78,368.48 L570.76,368.95 L570.73,369.46 L570.70,370.00 L570.67,370.46 L570.63,370.92 L570.58,371.40 L570.53,371.88 L570.48,372.37 L570.42,372.87 L570.36,373.38 L570.31,373.91 L570.25,374.45 L570.20,375.00 L570.15,375.48 L570.09,376.00 L570.02,376.53 L569.94,377.09 L569.87,377.65 L569.79,378.21 L569.73,378.76 L569.68,379.30 L569.65,379.83 L569.64,380.32 L569.65,380.78 L569.70,381.20 L569.86,381.92 L570.09,382.53 L570.39,383.05 L570.76,383.53 L571.19,384.00 L571.70,384.50 L572.36,385.05 L573.18,385.63 L574.08,386.21 L574.94,386.73 L575.68,387.18 L576.20,387.50 L560.20,387.50 L560.72,387.18 L561.46,386.73 L562.33,386.21 L563.22,385.63 L564.04,385.05 L564.70,384.50 L565.21,384.00 L565.64,383.53 L566.01,383.05 L566.31,382.53 L566.54,381.92 L566.70,381.20 L566.75,380.78 L566.76,380.32 L566.75,379.83 L566.72,379.30 L566.67,378.76 L566.61,378.21 L566.53,377.65 L566.46,377.09 L566.38,376.53 L566.31,376.00 L566.25,375.48 L566.20,375.00 L566.15,374.45 L566.09,373.91 L566.04,373.38 L565.98,372.87 L565.93,372.37 L565.87,371.88 L565.82,371.40 L565.77,370.92 L565.73,370.46 L565.70,370.00 L565.67,369.46 L565.64,368.95 L565.62,368.48 L565.60,368.01 L565.59,367.53 L565.59,367.03 L565.59,366.49 L565.60,365.90 L565.61,365.43 L565.62,364.92 L565.64,364.40 L565.66,363.85 L565.69,363.29 L565.71,362.72 L565.74,362.15 L565.78,361.59 L565.82,361.04 L565.86,360.51 L565.90,360.00 L565.95,359.46 L566.02,358.94 L566.08,358.43 L566.16,357.94 L566.23,357.44 L566.31,356.96 L566.38,356.47 L566.46,355.99 L566.53,355.50 L566.60,355.00 L566.66,354.50 L566.73,354.00 L566.79,353.50 L566.85,353.00 L566.91,352.50 L566.97,352.00 L567.03,351.50 L567.09,351.00 L567.14,350.50 L567.20,350.00 L567.25,349.51 L567.31,349.02 L567.36,348.54 L567.42,348.06 L567.47,347.57 L567.52,347.09 L567.57,346.59 L567.61,346.08 L567.66,345.55 L567.70,345.00 L567.73,344.51 L567.77,343.96 L567.80,343.39 L567.83,342.79 L567.85,342.19 L567.88,341.59 L567.91,341.00 L567.93,340.45 L567.95,339.94 L567.97,339.49 L567.99,339.10 L568.00,338.80Z" fill="#1a8c95" stroke="none" stroke-width="0.4" opacity="1"/>
<path d="M543.1,340.0 L543.1,388.2 L578.4,388.2" fill="none" stroke="#000" stroke-width="1.5"/>
<text x="539.90" y="350.70" font-size="7.0" text-anchor="end" fill="#262626" >3</text>
<text x="539.90" y="388.40" font-size="7.0" text-anchor="end" fill="#262626" >0</text>
<text x="559.40" y="316.60" font-size="9.65" text-anchor="middle" fill="#1c1c1c" font-style="italic" >Stat3</text>
<text x="557.20" y="330.60" font-size="6.6" text-anchor="middle" fill="#262626" ><tspan font-style="italic">p</tspan> = 0.016142</text>
<path d="M552.3,336.6 L552.3,333.6 L567.5,333.6 L567.5,336.6" fill="none" stroke="#333" stroke-width="0.7"/>
<path d="M600.90,352.90 L600.94,353.22 L601.00,353.64 L601.07,354.14 L601.15,354.70 L601.23,355.29 L601.32,355.89 L601.41,356.46 L601.50,357.00 L601.59,357.50 L601.68,357.98 L601.77,358.46 L601.86,358.94 L601.96,359.43 L602.07,359.93 L602.18,360.45 L602.30,361.00 L602.40,361.46 L602.52,361.95 L602.64,362.46 L602.76,362.98 L602.89,363.50 L603.02,364.02 L603.14,364.54 L603.27,365.05 L603.39,365.54 L603.50,366.00 L603.64,366.54 L603.77,367.04 L603.90,367.52 L604.03,367.98 L604.16,368.45 L604.28,368.93 L604.39,369.44 L604.50,370.00 L604.59,370.48 L604.67,371.00 L604.76,371.54 L604.84,372.10 L604.92,372.67 L605.00,373.23 L605.07,373.79 L605.12,374.32 L605.17,374.83 L605.20,375.30 L605.22,375.92 L605.22,376.49 L605.19,377.03 L605.15,377.55 L605.11,378.04 L605.05,378.52 L605.00,379.00 L604.91,379.54 L604.78,380.05 L604.64,380.54 L604.53,381.03 L604.47,381.51 L604.50,382.00 L604.62,382.51 L604.81,383.02 L605.05,383.53 L605.34,384.04 L605.66,384.53 L606.00,385.00 L606.51,385.57 L607.12,386.16 L607.76,386.70 L608.31,387.17 L608.70,387.50 L592.30,387.50 L592.69,387.17 L593.24,386.70 L593.88,386.16 L594.49,385.57 L595.00,385.00 L595.34,384.53 L595.66,384.04 L595.95,383.53 L596.19,383.02 L596.38,382.51 L596.50,382.00 L596.53,381.51 L596.47,381.03 L596.36,380.54 L596.22,380.05 L596.09,379.54 L596.00,379.00 L595.95,378.52 L595.89,378.04 L595.85,377.55 L595.81,377.03 L595.78,376.49 L595.78,375.92 L595.80,375.30 L595.83,374.83 L595.88,374.32 L595.93,373.79 L596.00,373.23 L596.08,372.67 L596.16,372.10 L596.24,371.54 L596.33,371.00 L596.41,370.48 L596.50,370.00 L596.61,369.44 L596.72,368.93 L596.84,368.45 L596.97,367.98 L597.10,367.52 L597.23,367.04 L597.36,366.54 L597.50,366.00 L597.61,365.54 L597.73,365.05 L597.86,364.54 L597.98,364.02 L598.11,363.50 L598.24,362.98 L598.36,362.46 L598.48,361.95 L598.60,361.46 L598.70,361.00 L598.82,360.45 L598.93,359.93 L599.04,359.43 L599.14,358.94 L599.23,358.46 L599.32,357.98 L599.41,357.50 L599.50,357.00 L599.59,356.46 L599.68,355.89 L599.77,355.29 L599.85,354.70 L599.93,354.14 L600.00,353.64 L600.06,353.22 L600.10,352.90Z" fill="#f07a6f" stroke="none" stroke-width="0.4" opacity="1"/>
<path d="M617.20,340.00 L617.22,340.30 L617.24,340.68 L617.26,341.12 L617.29,341.63 L617.32,342.18 L617.36,342.75 L617.39,343.34 L617.43,343.93 L617.47,344.50 L617.51,345.05 L617.55,345.55 L617.60,346.00 L617.67,346.59 L617.75,347.12 L617.83,347.60 L617.91,348.06 L618.00,348.51 L618.10,348.98 L618.20,349.47 L618.30,350.00 L618.39,350.45 L618.48,350.90 L618.58,351.35 L618.68,351.81 L618.78,352.29 L618.89,352.78 L618.99,353.29 L619.10,353.83 L619.20,354.40 L619.30,355.00 L619.37,355.46 L619.45,355.96 L619.54,356.48 L619.62,357.02 L619.71,357.58 L619.80,358.15 L619.88,358.73 L619.96,359.30 L620.04,359.87 L620.11,360.42 L620.17,360.96 L620.23,361.47 L620.27,361.95 L620.30,362.40 L620.33,363.03 L620.33,363.60 L620.31,364.13 L620.28,364.61 L620.23,365.08 L620.18,365.54 L620.12,366.00 L620.06,366.49 L620.00,367.00 L619.95,367.49 L619.88,367.99 L619.81,368.50 L619.74,369.02 L619.66,369.54 L619.58,370.05 L619.51,370.56 L619.43,371.06 L619.36,371.54 L619.30,372.00 L619.23,372.55 L619.16,373.07 L619.09,373.57 L619.02,374.06 L618.96,374.54 L618.91,375.02 L618.85,375.51 L618.80,376.00 L618.74,376.50 L618.66,377.01 L618.57,377.52 L618.49,378.03 L618.44,378.54 L618.41,379.04 L618.43,379.52 L618.50,380.00 L618.64,380.52 L618.83,381.02 L619.05,381.51 L619.33,381.99 L619.66,382.48 L620.05,382.98 L620.50,383.50 L620.99,384.00 L621.60,384.56 L622.27,385.14 L622.98,385.72 L623.66,386.27 L624.29,386.77 L624.82,387.19 L625.20,387.50 L608.80,387.50 L609.18,387.19 L609.71,386.77 L610.34,386.27 L611.02,385.72 L611.73,385.14 L612.40,384.56 L613.01,384.00 L613.50,383.50 L613.95,382.98 L614.34,382.48 L614.67,381.99 L614.95,381.51 L615.17,381.02 L615.36,380.52 L615.50,380.00 L615.57,379.52 L615.59,379.04 L615.56,378.54 L615.51,378.03 L615.43,377.52 L615.34,377.01 L615.26,376.50 L615.20,376.00 L615.15,375.51 L615.09,375.02 L615.04,374.54 L614.98,374.06 L614.91,373.57 L614.84,373.07 L614.77,372.55 L614.70,372.00 L614.64,371.54 L614.57,371.06 L614.49,370.56 L614.42,370.05 L614.34,369.54 L614.26,369.02 L614.19,368.50 L614.12,367.99 L614.05,367.49 L614.00,367.00 L613.94,366.49 L613.88,366.00 L613.82,365.54 L613.77,365.08 L613.72,364.61 L613.69,364.13 L613.67,363.60 L613.67,363.03 L613.70,362.40 L613.73,361.95 L613.77,361.47 L613.83,360.96 L613.89,360.42 L613.96,359.87 L614.04,359.30 L614.12,358.73 L614.20,358.15 L614.29,357.58 L614.38,357.02 L614.46,356.48 L614.55,355.96 L614.63,355.46 L614.70,355.00 L614.80,354.40 L614.90,353.83 L615.01,353.29 L615.11,352.78 L615.22,352.29 L615.32,351.81 L615.42,351.35 L615.52,350.90 L615.61,350.45 L615.70,350.00 L615.80,349.47 L615.90,348.98 L616.00,348.51 L616.09,348.06 L616.17,347.60 L616.25,347.12 L616.33,346.59 L616.40,346.00 L616.45,345.55 L616.49,345.05 L616.53,344.50 L616.57,343.93 L616.61,343.34 L616.64,342.75 L616.68,342.18 L616.71,341.63 L616.74,341.12 L616.76,340.68 L616.78,340.30 L616.80,340.00Z" fill="#1a8c95" stroke="none" stroke-width="0.4" opacity="1"/>
<path d="M590.6,340.0 L590.6,388.2 L627.1,388.2" fill="none" stroke="#000" stroke-width="1.5"/>
<text x="587.40" y="350.70" font-size="7.0" text-anchor="end" fill="#262626" >3</text>
<text x="587.40" y="388.40" font-size="7.0" text-anchor="end" fill="#262626" >0</text>
<text x="610.20" y="316.60" font-size="9.65" text-anchor="middle" fill="#1c1c1c" font-style="italic" >Dusp16</text>
<text x="606.80" y="330.60" font-size="6.6" text-anchor="middle" fill="#262626" ><tspan font-style="italic">p</tspan> = 4.14e-10</text>
<path d="M601.3,336.6 L601.3,333.6 L617.5,333.6 L617.5,336.6" fill="none" stroke="#333" stroke-width="0.7"/>
<text x="528.40" y="259.80" font-size="6.8" text-anchor="middle" fill="#262626" transform="rotate(-90 528.4 259.8)">Expression level</text>
<text x="528.40" y="359.90" font-size="6.8" text-anchor="middle" fill="#262626" transform="rotate(-90 528.4 359.9)">Expression level</text>
<circle cx="636.4" cy="369.7" r="4.5" fill="#1a8c95"/>
<circle cx="636.4" cy="384.4" r="4.5" fill="#f07a6f"/>
<text x="642.60" y="373.20" font-size="9.8" text-anchor="start" fill="#1c1c1c" >Etoposide</text>
<text x="642.60" y="387.90" font-size="9.8" text-anchor="start" fill="#1c1c1c" >Vehicle</text>
</svg></body></html>
